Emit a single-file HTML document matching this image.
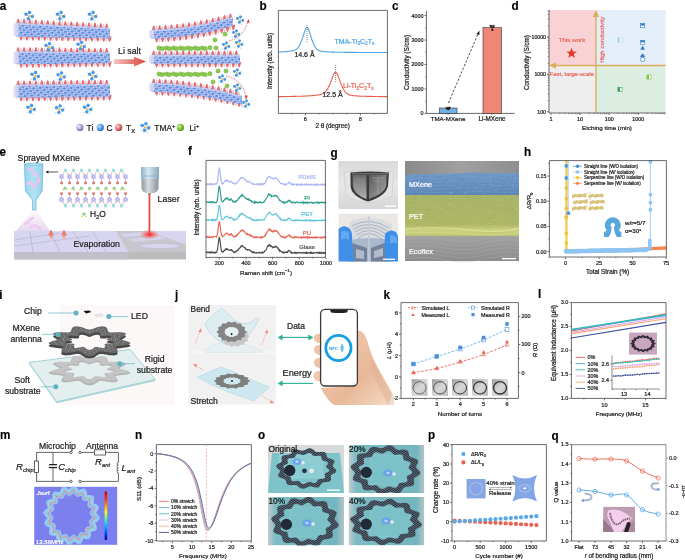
<!DOCTYPE html>
<html><head><meta charset="utf-8"><style>
html,body{margin:0;padding:0;background:#fff;}
body{width:685px;height:560px;overflow:hidden;}
svg{display:block;font-family:"Liberation Sans", sans-serif;will-change:transform;}
</style></head><body>
<svg width="685" height="560" viewBox="0 0 685 560">
<defs><linearGradient id="kph" x1="0" y1="0" x2="1" y2="1"><stop offset="0" stop-color="#9a9a9a"/><stop offset="0.5" stop-color="#d8d8d8"/><stop offset="1" stop-color="#bcbcbc"/></linearGradient><pattern id="lat" width="4.4" height="3.6" patternUnits="userSpaceOnUse" patternTransform="rotate(28) skewX(-20)">
<rect width="4.4" height="3.6" fill="#c4bdee"/><ellipse cx="1.4" cy="1.2" rx="1.6" ry="1.15" fill="#4a90e0"/><ellipse cx="3.6" cy="3.0" rx="1.0" ry="0.75" fill="#78aeea"/><circle cx="3.6" cy="1.0" r="0.5" fill="#f4f2ff"/></pattern>
<linearGradient id="arrowg" x1="0" x2="1"><stop offset="0" stop-color="#f3c4bd"/><stop offset="1" stop-color="#d8453a"/></linearGradient>
<radialGradient id="gball" cx="0.35" cy="0.35" r="0.7"><stop offset="0" stop-color="#c9f08a"/><stop offset="0.6" stop-color="#7cc23c"/><stop offset="1" stop-color="#4f8f20"/></radialGradient>
<radialGradient id="bball" cx="0.35" cy="0.35" r="0.7"><stop offset="0" stop-color="#bfe0ff"/><stop offset="0.6" stop-color="#4f9be6"/><stop offset="1" stop-color="#2d6fb8"/></radialGradient>
<radialGradient id="pball" cx="0.35" cy="0.35" r="0.7"><stop offset="0" stop-color="#f0eeff"/><stop offset="0.6" stop-color="#a8a2d8"/><stop offset="1" stop-color="#6f68a8"/></radialGradient>
<radialGradient id="rball" cx="0.35" cy="0.35" r="0.7"><stop offset="0" stop-color="#ffd0d0"/><stop offset="0.6" stop-color="#d87070"/><stop offset="1" stop-color="#a04444"/></radialGradient>
<linearGradient id="spray" x1="0" y1="0" x2="0" y2="1"><stop offset="0" stop-color="#f4e4f6" stop-opacity="0.3"/><stop offset="1" stop-color="#e6d8f0"/></linearGradient>
<linearGradient id="nozz" x1="0" x2="1"><stop offset="0" stop-color="#94d4ec"/><stop offset="0.5" stop-color="#b2e2f4"/><stop offset="1" stop-color="#92d2ea"/></linearGradient>
<linearGradient id="lhead" x1="0" x2="1"><stop offset="0" stop-color="#8fb4c8"/><stop offset="0.4" stop-color="#d6e8f2"/><stop offset="1" stop-color="#86aabf"/></linearGradient>
<linearGradient id="lhead2" x1="0" x2="1"><stop offset="0" stop-color="#8c98a0"/><stop offset="0.4" stop-color="#d8dde0"/><stop offset="1" stop-color="#8a949a"/></linearGradient>
<radialGradient id="glow"><stop offset="0" stop-color="#ff2020"/><stop offset="0.4" stop-color="#ff5050" stop-opacity="0.7"/><stop offset="1" stop-color="#ff8080" stop-opacity="0"/></radialGradient>
<linearGradient id="evap" x1="0" y1="1" x2="0" y2="0"><stop offset="0" stop-color="#ffffff" stop-opacity="0"/><stop offset="0.6" stop-color="#f08878"/><stop offset="1" stop-color="#e8604c"/></linearGradient>
<linearGradient id="g1bg" x1="0" y1="0" x2="0" y2="1"><stop offset="0" stop-color="#dadada"/><stop offset="0.5" stop-color="#e8e8e8"/><stop offset="1" stop-color="#d6d6d6"/></linearGradient>
<linearGradient id="g2bg" x1="0" y1="0" x2="0" y2="1"><stop offset="0" stop-color="#e6e2dc"/><stop offset="1" stop-color="#d0d0d4"/></linearGradient>
<linearGradient id="semtop" x1="0" y1="0" x2="1" y2="0"><stop offset="0" stop-color="#8a8a8a"/><stop offset="0.5" stop-color="#a0a0a0"/><stop offset="1" stop-color="#8e8e8e"/></linearGradient>
<linearGradient id="semblue" x1="0" y1="0" x2="0" y2="1"><stop offset="0" stop-color="#7199c6"/><stop offset="1" stop-color="#5d86b8"/></linearGradient>
<linearGradient id="semyel" x1="0" y1="0" x2="0" y2="1"><stop offset="0" stop-color="#aab46a"/><stop offset="0.72" stop-color="#adb765"/><stop offset="0.86" stop-color="#ccd282"/><stop offset="1" stop-color="#bcc470"/></linearGradient>
<linearGradient id="semgray" x1="0" y1="0" x2="0" y2="1"><stop offset="0" stop-color="#a2a2a2"/><stop offset="1" stop-color="#8c8c8c"/></linearGradient>
<linearGradient id="film" x1="0" y1="0" x2="0" y2="1"><stop offset="0" stop-color="#d8dadc"/><stop offset="1" stop-color="#a8b4c4"/></linearGradient>
<linearGradient id="shl" x1="0" y1="0" x2="0" y2="1"><stop offset="0" stop-color="#6a6a6a"/><stop offset="1" stop-color="#b4b4b4"/></linearGradient>
<linearGradient id="shr" x1="0" y1="0" x2="1" y2="1"><stop offset="0" stop-color="#5a5a5a"/><stop offset="1" stop-color="#a8a8a8"/></linearGradient>
<filter id="blur1"><feGaussianBlur stdDeviation="0.5"/></filter>
<filter id="blur2"><feGaussianBlur stdDeviation="1.2"/></filter>
<linearGradient id="skin" x1="0" y1="0" x2="1" y2="1"><stop offset="0" stop-color="#f2cdb2"/><stop offset="0.6" stop-color="#e8b898"/><stop offset="1" stop-color="#f4dccb"/></linearGradient><linearGradient id="cbar" x1="0" y1="0" x2="0" y2="1"><stop offset="0" stop-color="#c00000"/><stop offset="0.15" stop-color="#ff3000"/><stop offset="0.3" stop-color="#ffa000"/><stop offset="0.42" stop-color="#ffff00"/><stop offset="0.55" stop-color="#60ff80"/><stop offset="0.7" stop-color="#00c8ff"/><stop offset="0.85" stop-color="#0050ff"/><stop offset="1" stop-color="#0000a0"/></linearGradient><linearGradient id="obg" x1="0" y1="0" x2="0" y2="1"><stop offset="0" stop-color="#c8d0d2"/><stop offset="0.25" stop-color="#7ab8c0"/><stop offset="1" stop-color="#5ea8b2"/></linearGradient>
<linearGradient id="obg2" x1="0" y1="0" x2="1" y2="0"><stop offset="0" stop-color="#c4cacb"/><stop offset="0.1" stop-color="#7cbcc4"/><stop offset="0.9" stop-color="#74b6c0"/><stop offset="1" stop-color="#b8c4c6"/></linearGradient>
<radialGradient id="led"><stop offset="0" stop-color="#ffffff"/><stop offset="0.35" stop-color="#7aa8ff"/><stop offset="1" stop-color="#3060ff" stop-opacity="0"/></radialGradient>
<pattern id="ser" width="1.7" height="1.7" patternUnits="userSpaceOnUse" patternTransform="rotate(35)"><rect width="1.7" height="1.7" fill="#1f2936"/><rect width="1.7" height="0.45" fill="#a8b6c4"/></pattern>
<clipPath id="oc1"><rect x="268" y="445" width="76" height="48"/></clipPath>
<clipPath id="oc2"><rect x="348.6" y="445" width="75.8" height="48"/></clipPath>
<clipPath id="oc3"><rect x="268" y="497" width="76" height="48.4"/></clipPath>
<clipPath id="oc4"><rect x="348.6" y="497" width="75.8" height="48.4"/></clipPath>
</defs>
<rect width="685" height="560" fill="#fff"/>
<text transform="translate(259.50,9.90) scale(0.9,1)" font-size="13" font-weight="bold" fill="#000" stroke="#000" stroke-width="0.15">b</text>
<path d="M278.4,52.0 L278.9,52.0 L279.5,52.0 L280.0,52.0 L280.6,51.9 L281.1,51.9 L281.7,51.9 L282.2,51.9 L282.8,51.8 L283.3,51.8 L283.8,51.8 L284.4,51.7 L284.9,51.7 L285.5,51.6 L286.0,51.6 L286.6,51.5 L287.1,51.5 L287.7,51.4 L288.2,51.4 L288.8,51.3 L289.3,51.3 L289.8,51.2 L290.4,51.1 L290.9,51.0 L291.5,51.0 L292.0,50.9 L292.6,50.7 L293.1,50.6 L293.7,50.5 L294.2,50.3 L294.8,50.1 L295.3,49.8 L295.8,49.5 L296.4,49.2 L296.9,48.8 L297.5,48.3 L298.0,47.7 L298.6,47.0 L299.1,46.1 L299.7,45.2 L300.2,44.1 L300.7,42.9 L301.3,41.5 L301.8,40.0 L302.4,38.4 L302.9,36.8 L303.5,35.0 L304.0,33.3 L304.6,31.6 L305.1,30.1 L305.6,28.8 L306.2,27.9 L306.7,27.4 L307.3,27.5 L307.8,28.0 L308.4,29.0 L308.9,30.3 L309.5,31.9 L310.0,33.6 L310.6,35.4 L311.1,37.2 L311.6,38.9 L312.2,40.5 L312.7,42.0 L313.3,43.4 L313.8,44.6 L314.4,45.7 L314.9,46.7 L315.5,47.5 L316.0,48.2 L316.5,48.8 L317.1,49.3 L317.6,49.8 L318.2,50.1 L318.7,50.4 L319.3,50.6 L319.8,50.8 L320.4,51.0 L320.9,51.1 L321.5,51.2 L322.0,51.3 L322.5,51.4 L323.1,51.5 L323.6,51.5 L324.2,51.6 L324.7,51.7 L325.3,51.7 L325.8,51.8 L326.4,51.8 L326.9,51.8 L327.4,51.9 L328.0,51.9 L328.5,51.9 L329.1,52.0 L329.6,52.0 L330.2,52.0 L330.7,52.0 L331.3,52.1 L331.8,52.1 L332.4,52.1 L332.9,52.1 L333.4,52.1 L334.0,52.1 L334.5,52.2 L335.1,52.2 L335.6,52.2 L336.2,52.2 L336.7,52.2 L337.3,52.2 L337.8,52.2 L338.3,52.3 L338.9,52.3 L339.4,52.3 L340.0,52.3 L340.5,52.3 L341.1,52.3 L341.6,52.3 L342.2,52.3 L342.7,52.3 L343.3,52.3 L343.8,52.3 L344.3,52.3 L344.9,52.4 L345.4,52.4 L346.0,52.4 L346.5,52.4 L347.1,52.4 L347.6,52.4 L348.2,52.4 L348.7,52.4 L349.2,52.4 L349.8,52.4 L350.3,52.4 L350.9,52.4 L351.4,52.4 L352.0,52.4 L352.5,52.4 L353.1,52.4 L353.6,52.4 L354.2,52.4 L354.7,52.4 L355.2,52.4 L355.8,52.4 L356.3,52.4 L356.9,52.5 L357.4,52.5 L358.0,52.5 L358.5,52.5 L359.1,52.5 L359.6,52.5 L360.1,52.5 L360.7,52.5 L361.2,52.5 L361.8,52.5 L362.3,52.5 L362.9,52.5 L363.4,52.5 L364.0,52.5 L364.5,52.5 L365.1,52.5 L365.6,52.5 L366.1,52.5 L366.7,52.5 L367.2,52.5 L367.8,52.5 L368.3,52.5 L368.9,52.5 L369.4,52.5 L370.0,52.5 L370.5,52.5 L371.0,52.5 L371.6,52.5 L372.1,52.5 L372.7,52.5 L373.2,52.5 L373.8,52.5 L374.3,52.5 L374.9,52.5 L375.4,52.5 L376.0,52.5 L376.5,52.5 L377.0,52.5 L377.6,52.5 L378.1,52.5 L378.7,52.5 L379.2,52.5 L379.8,52.5 L380.3,52.5 L380.9,52.5 L381.4,52.5 L381.9,52.5 L382.5,52.5 L383.0,52.5 L383.6,52.5 L384.1,52.5 L384.7,52.5 L385.2,52.5 L385.8,52.5 L386.3,52.5 L386.9,52.5 L387.4,52.5" fill="none" stroke="#4ea4e2" stroke-width="1.1"/>
<path d="M278.4,96.6 L278.9,96.6 L279.5,96.6 L280.0,96.6 L280.6,96.6 L281.1,96.6 L281.7,96.6 L282.2,96.6 L282.8,96.6 L283.3,96.5 L283.8,96.5 L284.4,96.5 L284.9,96.5 L285.5,96.5 L286.0,96.5 L286.6,96.5 L287.1,96.5 L287.7,96.5 L288.2,96.5 L288.8,96.5 L289.3,96.5 L289.8,96.5 L290.4,96.5 L290.9,96.5 L291.5,96.4 L292.0,96.4 L292.6,96.4 L293.1,96.4 L293.7,96.4 L294.2,96.4 L294.8,96.4 L295.3,96.4 L295.8,96.4 L296.4,96.3 L296.9,96.3 L297.5,96.3 L298.0,96.3 L298.6,96.3 L299.1,96.3 L299.7,96.3 L300.2,96.2 L300.7,96.2 L301.3,96.2 L301.8,96.2 L302.4,96.2 L302.9,96.1 L303.5,96.1 L304.0,96.1 L304.6,96.1 L305.1,96.1 L305.6,96.0 L306.2,96.0 L306.7,96.0 L307.3,95.9 L307.8,95.9 L308.4,95.9 L308.9,95.9 L309.5,95.8 L310.0,95.8 L310.6,95.7 L311.1,95.7 L311.6,95.7 L312.2,95.6 L312.7,95.6 L313.3,95.5 L313.8,95.5 L314.4,95.4 L314.9,95.4 L315.5,95.3 L316.0,95.2 L316.5,95.2 L317.1,95.1 L317.6,95.0 L318.2,94.9 L318.7,94.8 L319.3,94.7 L319.8,94.6 L320.4,94.5 L320.9,94.4 L321.5,94.2 L322.0,94.0 L322.5,93.8 L323.1,93.5 L323.6,93.2 L324.2,92.8 L324.7,92.4 L325.3,91.9 L325.8,91.3 L326.4,90.7 L326.9,89.9 L327.4,89.1 L328.0,88.2 L328.5,87.1 L329.1,86.0 L329.6,84.7 L330.2,83.4 L330.7,82.0 L331.3,80.5 L331.8,79.1 L332.4,77.6 L332.9,76.2 L333.4,74.9 L334.0,73.8 L334.5,73.0 L335.1,72.5 L335.6,72.3 L336.2,72.6 L336.7,73.2 L337.3,74.1 L337.8,75.2 L338.3,76.6 L338.9,78.0 L339.4,79.6 L340.0,81.1 L340.5,82.6 L341.1,84.0 L341.6,85.4 L342.2,86.6 L342.7,87.8 L343.3,88.9 L343.8,89.8 L344.3,90.7 L344.9,91.5 L345.4,92.1 L346.0,92.7 L346.5,93.2 L347.1,93.6 L347.6,94.0 L348.2,94.3 L348.7,94.5 L349.2,94.8 L349.8,94.9 L350.3,95.1 L350.9,95.2 L351.4,95.3 L352.0,95.4 L352.5,95.5 L353.1,95.6 L353.6,95.7 L354.2,95.7 L354.7,95.8 L355.2,95.8 L355.8,95.9 L356.3,95.9 L356.9,95.9 L357.4,96.0 L358.0,96.0 L358.5,96.0 L359.1,96.1 L359.6,96.1 L360.1,96.1 L360.7,96.2 L361.2,96.2 L361.8,96.2 L362.3,96.2 L362.9,96.2 L363.4,96.3 L364.0,96.3 L364.5,96.3 L365.1,96.3 L365.6,96.3 L366.1,96.3 L366.7,96.4 L367.2,96.4 L367.8,96.4 L368.3,96.4 L368.9,96.4 L369.4,96.4 L370.0,96.4 L370.5,96.4 L371.0,96.4 L371.6,96.5 L372.1,96.5 L372.7,96.5 L373.2,96.5 L373.8,96.5 L374.3,96.5 L374.9,96.5 L375.4,96.5 L376.0,96.5 L376.5,96.5 L377.0,96.5 L377.6,96.5 L378.1,96.5 L378.7,96.5 L379.2,96.6 L379.8,96.6 L380.3,96.6 L380.9,96.6 L381.4,96.6 L381.9,96.6 L382.5,96.6 L383.0,96.6 L383.6,96.6 L384.1,96.6 L384.7,96.6 L385.2,96.6 L385.8,96.6 L386.3,96.6 L386.9,96.6 L387.4,96.6" fill="none" stroke="#ea5f4c" stroke-width="1.1"/>
<line x1="307.00" y1="25.00" x2="307.00" y2="43.00" stroke="#333" stroke-width="0.6" stroke-dasharray="1,1"/>
<line x1="335.60" y1="65.00" x2="335.60" y2="82.50" stroke="#333" stroke-width="0.6" stroke-dasharray="1,1"/>
<line x1="278.40" y1="10.40" x2="278.40" y2="113.40" stroke="#444" stroke-width="0.8"/>
<line x1="278.40" y1="113.40" x2="387.40" y2="113.40" stroke="#444" stroke-width="0.8"/>
<line x1="278.40" y1="10.40" x2="387.40" y2="10.40" stroke="#444" stroke-width="0.8"/>
<line x1="387.40" y1="10.40" x2="387.40" y2="113.40" stroke="#444" stroke-width="0.8"/>
<line x1="305.40" y1="113.40" x2="305.40" y2="115.40" stroke="#3a3a3a" stroke-width="0.7"/>
<text x="305.40" y="120.60" font-size="5.6" text-anchor="middle" font-weight="normal" fill="#222" stroke="#222" stroke-width="0.22">6</text>
<line x1="360.40" y1="113.40" x2="360.40" y2="115.40" stroke="#3a3a3a" stroke-width="0.7"/>
<text x="360.40" y="120.60" font-size="5.6" text-anchor="middle" font-weight="normal" fill="#222" stroke="#222" stroke-width="0.22">8</text>
<line x1="291.65" y1="113.40" x2="291.65" y2="114.60" stroke="#3a3a3a" stroke-width="0.6"/>
<line x1="319.15" y1="113.40" x2="319.15" y2="114.60" stroke="#3a3a3a" stroke-width="0.6"/>
<line x1="332.90" y1="113.40" x2="332.90" y2="114.60" stroke="#3a3a3a" stroke-width="0.6"/>
<line x1="346.65" y1="113.40" x2="346.65" y2="114.60" stroke="#3a3a3a" stroke-width="0.6"/>
<line x1="374.15" y1="113.40" x2="374.15" y2="114.60" stroke="#3a3a3a" stroke-width="0.6"/>
<text x="304.50" y="56.80" font-size="7.0" text-anchor="middle" font-weight="normal" fill="#222" stroke="#222" stroke-width="0.22">14.6 Å</text>
<text x="332.60" y="97.30" font-size="7.0" text-anchor="middle" font-weight="normal" fill="#222" stroke="#222" stroke-width="0.22">12.5 Å</text>
<text x="334.60" y="43.60" font-size="7" text-anchor="start" font-weight="normal" fill="#4ea4e2" stroke="#4ea4e2" stroke-width="0.22">TMA-Ti<tspan dy="1.75" font-size="4.90">3</tspan><tspan dy="-1.75">C<tspan dy="1.75" font-size="4.90">2</tspan><tspan dy="-1.75">T<tspan dy="1.75" font-size="4.90">x</tspan><tspan dy="-1.75"></tspan></text>
<text x="343.00" y="88.00" font-size="7" text-anchor="start" font-weight="normal" fill="#ea5f4c" stroke="#ea5f4c" stroke-width="0.22">Li-Ti<tspan dy="1.75" font-size="4.90">3</tspan><tspan dy="-1.75">C<tspan dy="1.75" font-size="4.90">2</tspan><tspan dy="-1.75">T<tspan dy="1.75" font-size="4.90">x</tspan><tspan dy="-1.75"></tspan></text>
<text x="271.50" y="61.00" font-size="6.4" text-anchor="middle" font-weight="normal" fill="#222" stroke="#222" stroke-width="0.22" transform="rotate(-90 271.5 61)">Intensity (arb. units)</text>
<text x="332.60" y="127.60" font-size="6.3" text-anchor="middle" font-weight="normal" fill="#222" stroke="#222" stroke-width="0.22">2 θ (degree)</text>
<text transform="translate(392.00,9.90) scale(0.9,1)" font-size="13" font-weight="bold" fill="#000" stroke="#000" stroke-width="0.15">c</text>
<line x1="426.40" y1="11.00" x2="426.40" y2="113.40" stroke="#444" stroke-width="0.8"/>
<line x1="426.40" y1="113.40" x2="514.60" y2="113.40" stroke="#444" stroke-width="0.8"/>
<line x1="424.40" y1="113.40" x2="426.40" y2="113.40" stroke="#3a3a3a" stroke-width="0.7"/>
<text x="423.40" y="115.34" font-size="5.4" text-anchor="end" font-weight="normal" fill="#222" stroke="#222" stroke-width="0.22">0</text>
<line x1="424.40" y1="88.95" x2="426.40" y2="88.95" stroke="#3a3a3a" stroke-width="0.7"/>
<text x="423.40" y="90.89" font-size="5.4" text-anchor="end" font-weight="normal" fill="#222" stroke="#222" stroke-width="0.22">1000</text>
<line x1="424.40" y1="64.50" x2="426.40" y2="64.50" stroke="#3a3a3a" stroke-width="0.7"/>
<text x="423.40" y="66.44" font-size="5.4" text-anchor="end" font-weight="normal" fill="#222" stroke="#222" stroke-width="0.22">2000</text>
<line x1="424.40" y1="40.05" x2="426.40" y2="40.05" stroke="#3a3a3a" stroke-width="0.7"/>
<text x="423.40" y="41.99" font-size="5.4" text-anchor="end" font-weight="normal" fill="#222" stroke="#222" stroke-width="0.22">3000</text>
<line x1="424.40" y1="15.60" x2="426.40" y2="15.60" stroke="#3a3a3a" stroke-width="0.7"/>
<text x="423.40" y="17.54" font-size="5.4" text-anchor="end" font-weight="normal" fill="#222" stroke="#222" stroke-width="0.22">4000</text>
<line x1="425.20" y1="101.18" x2="426.40" y2="101.18" stroke="#3a3a3a" stroke-width="0.6"/>
<line x1="425.20" y1="76.73" x2="426.40" y2="76.73" stroke="#3a3a3a" stroke-width="0.6"/>
<line x1="425.20" y1="52.28" x2="426.40" y2="52.28" stroke="#3a3a3a" stroke-width="0.6"/>
<line x1="425.20" y1="27.83" x2="426.40" y2="27.83" stroke="#3a3a3a" stroke-width="0.6"/>
<rect x="439.40" y="108.02" width="17.60" height="5.38" fill="#70b0e6" stroke="#333" stroke-width="0.6"/>
<rect x="483.00" y="27.58" width="18.40" height="85.82" fill="#ef8676" stroke="#333" stroke-width="0.6"/>
<line x1="448.00" y1="107.29" x2="448.00" y2="109.49" stroke="#111" stroke-width="0.6"/>
<line x1="445.50" y1="107.29" x2="450.50" y2="107.29" stroke="#111" stroke-width="0.6"/>
<circle cx="446.80" cy="108.51" r="1.10" fill="#111" stroke="none" stroke-width="0.8"/>
<circle cx="448.30" cy="109.24" r="1.10" fill="#111" stroke="none" stroke-width="0.8"/>
<circle cx="449.50" cy="107.78" r="1.10" fill="#111" stroke="none" stroke-width="0.8"/>
<line x1="492.00" y1="25.38" x2="492.00" y2="30.27" stroke="#111" stroke-width="0.6"/>
<line x1="489.00" y1="25.38" x2="495.00" y2="25.38" stroke="#111" stroke-width="0.6"/>
<circle cx="491.00" cy="26.36" r="1.10" fill="#111" stroke="none" stroke-width="0.8"/>
<circle cx="492.40" cy="29.78" r="1.10" fill="#111" stroke="none" stroke-width="0.8"/>
<circle cx="493.50" cy="26.85" r="1.10" fill="#111" stroke="none" stroke-width="0.8"/>
<line x1="448.50" y1="103.00" x2="478.20" y2="33.50" stroke="#222" stroke-width="0.8" stroke-dasharray="2.4,1.6"/>
<path d="M479.6,30.6 L479.3,35.3 L476.4,34.0 Z" fill="#222" stroke="none" stroke-width="0.8"/>
<line x1="448.00" y1="113.40" x2="448.00" y2="114.90" stroke="#3a3a3a" stroke-width="0.7"/>
<line x1="492.00" y1="113.40" x2="492.00" y2="114.90" stroke="#3a3a3a" stroke-width="0.7"/>
<text x="448.00" y="121.20" font-size="6.2" text-anchor="middle" font-weight="normal" fill="#222" stroke="#222" stroke-width="0.22">TMA-MXene</text>
<text x="492.00" y="121.20" font-size="6.3" text-anchor="middle" font-weight="normal" fill="#222" stroke="#222" stroke-width="0.22">Li-MXene</text>
<text x="409.00" y="62.50" font-size="6.35" text-anchor="middle" font-weight="normal" fill="#222" stroke="#222" stroke-width="0.22" transform="rotate(-90 409 62.5)">Conductivity (S/cm)</text>
<text transform="translate(511.50,9.90) scale(0.9,1)" font-size="13" font-weight="bold" fill="#000" stroke="#000" stroke-width="0.15">d</text>
<rect x="549.00" y="10.00" width="47.00" height="55.50" fill="#f9d2d6" stroke="none" stroke-width="0.8"/>
<rect x="596.00" y="10.00" width="69.60" height="55.50" fill="#e4eef9" stroke="none" stroke-width="0.8"/>
<rect x="549.00" y="65.50" width="47.00" height="47.50" fill="#eeeeee" stroke="none" stroke-width="0.8"/>
<rect x="596.00" y="65.50" width="69.60" height="47.50" fill="#dbeee1" stroke="none" stroke-width="0.8"/>
<line x1="596.00" y1="113.00" x2="596.00" y2="16.00" stroke="#dcae5c" stroke-width="1.4"/>
<line x1="665.60" y1="65.50" x2="555.00" y2="65.50" stroke="#dcae5c" stroke-width="1.4"/>
<path d="M596,10 L592.8,17 L599.2,17 Z" fill="#dcae5c" stroke="none" stroke-width="0.8"/>
<path d="M549,65.5 L556,62.3 L556,68.7 Z" fill="#dcae5c" stroke="none" stroke-width="0.8"/>
<line x1="549.00" y1="10.00" x2="549.00" y2="113.00" stroke="#444" stroke-width="0.8"/>
<line x1="549.00" y1="113.00" x2="665.60" y2="113.00" stroke="#444" stroke-width="0.8"/>
<line x1="547.00" y1="111.80" x2="549.00" y2="111.80" stroke="#3a3a3a" stroke-width="0.7"/>
<text x="546.00" y="113.67" font-size="5.2" text-anchor="end" font-weight="normal" fill="#222" stroke="#222" stroke-width="0.22">100</text>
<line x1="547.00" y1="74.40" x2="549.00" y2="74.40" stroke="#3a3a3a" stroke-width="0.7"/>
<text x="546.00" y="76.27" font-size="5.2" text-anchor="end" font-weight="normal" fill="#222" stroke="#222" stroke-width="0.22">1000</text>
<line x1="547.00" y1="37.00" x2="549.00" y2="37.00" stroke="#3a3a3a" stroke-width="0.7"/>
<text x="546.00" y="38.87" font-size="5.2" text-anchor="end" font-weight="normal" fill="#222" stroke="#222" stroke-width="0.22">10000</text>
<line x1="547.80" y1="100.54" x2="549.00" y2="100.54" stroke="#3a3a3a" stroke-width="0.6"/>
<line x1="547.80" y1="93.96" x2="549.00" y2="93.96" stroke="#3a3a3a" stroke-width="0.6"/>
<line x1="547.80" y1="89.28" x2="549.00" y2="89.28" stroke="#3a3a3a" stroke-width="0.6"/>
<line x1="547.80" y1="85.66" x2="549.00" y2="85.66" stroke="#3a3a3a" stroke-width="0.6"/>
<line x1="547.80" y1="82.70" x2="549.00" y2="82.70" stroke="#3a3a3a" stroke-width="0.6"/>
<line x1="547.80" y1="80.19" x2="549.00" y2="80.19" stroke="#3a3a3a" stroke-width="0.6"/>
<line x1="547.80" y1="78.02" x2="549.00" y2="78.02" stroke="#3a3a3a" stroke-width="0.6"/>
<line x1="547.80" y1="76.11" x2="549.00" y2="76.11" stroke="#3a3a3a" stroke-width="0.6"/>
<line x1="547.80" y1="63.14" x2="549.00" y2="63.14" stroke="#3a3a3a" stroke-width="0.6"/>
<line x1="547.80" y1="56.56" x2="549.00" y2="56.56" stroke="#3a3a3a" stroke-width="0.6"/>
<line x1="547.80" y1="51.88" x2="549.00" y2="51.88" stroke="#3a3a3a" stroke-width="0.6"/>
<line x1="547.80" y1="48.26" x2="549.00" y2="48.26" stroke="#3a3a3a" stroke-width="0.6"/>
<line x1="547.80" y1="45.30" x2="549.00" y2="45.30" stroke="#3a3a3a" stroke-width="0.6"/>
<line x1="547.80" y1="42.79" x2="549.00" y2="42.79" stroke="#3a3a3a" stroke-width="0.6"/>
<line x1="547.80" y1="40.62" x2="549.00" y2="40.62" stroke="#3a3a3a" stroke-width="0.6"/>
<line x1="547.80" y1="38.71" x2="549.00" y2="38.71" stroke="#3a3a3a" stroke-width="0.6"/>
<line x1="547.80" y1="25.74" x2="549.00" y2="25.74" stroke="#3a3a3a" stroke-width="0.6"/>
<line x1="547.80" y1="19.16" x2="549.00" y2="19.16" stroke="#3a3a3a" stroke-width="0.6"/>
<line x1="547.80" y1="14.48" x2="549.00" y2="14.48" stroke="#3a3a3a" stroke-width="0.6"/>
<line x1="547.80" y1="10.86" x2="549.00" y2="10.86" stroke="#3a3a3a" stroke-width="0.6"/>
<line x1="551.00" y1="113.00" x2="551.00" y2="115.00" stroke="#3a3a3a" stroke-width="0.7"/>
<text x="551.00" y="121.20" font-size="5.4" text-anchor="middle" font-weight="normal" fill="#222" stroke="#222" stroke-width="0.22">1</text>
<line x1="580.10" y1="113.00" x2="580.10" y2="115.00" stroke="#3a3a3a" stroke-width="0.7"/>
<text x="580.10" y="121.20" font-size="5.4" text-anchor="middle" font-weight="normal" fill="#222" stroke="#222" stroke-width="0.22">10</text>
<line x1="609.20" y1="113.00" x2="609.20" y2="115.00" stroke="#3a3a3a" stroke-width="0.7"/>
<text x="609.20" y="121.20" font-size="5.4" text-anchor="middle" font-weight="normal" fill="#222" stroke="#222" stroke-width="0.22">100</text>
<line x1="638.30" y1="113.00" x2="638.30" y2="115.00" stroke="#3a3a3a" stroke-width="0.7"/>
<text x="638.30" y="121.20" font-size="5.4" text-anchor="middle" font-weight="normal" fill="#222" stroke="#222" stroke-width="0.22">1000</text>
<line x1="559.76" y1="113.00" x2="559.76" y2="114.20" stroke="#3a3a3a" stroke-width="0.6"/>
<line x1="564.88" y1="113.00" x2="564.88" y2="114.20" stroke="#3a3a3a" stroke-width="0.6"/>
<line x1="568.52" y1="113.00" x2="568.52" y2="114.20" stroke="#3a3a3a" stroke-width="0.6"/>
<line x1="571.34" y1="113.00" x2="571.34" y2="114.20" stroke="#3a3a3a" stroke-width="0.6"/>
<line x1="573.64" y1="113.00" x2="573.64" y2="114.20" stroke="#3a3a3a" stroke-width="0.6"/>
<line x1="575.59" y1="113.00" x2="575.59" y2="114.20" stroke="#3a3a3a" stroke-width="0.6"/>
<line x1="577.28" y1="113.00" x2="577.28" y2="114.20" stroke="#3a3a3a" stroke-width="0.6"/>
<line x1="578.77" y1="113.00" x2="578.77" y2="114.20" stroke="#3a3a3a" stroke-width="0.6"/>
<line x1="588.86" y1="113.00" x2="588.86" y2="114.20" stroke="#3a3a3a" stroke-width="0.6"/>
<line x1="593.98" y1="113.00" x2="593.98" y2="114.20" stroke="#3a3a3a" stroke-width="0.6"/>
<line x1="597.62" y1="113.00" x2="597.62" y2="114.20" stroke="#3a3a3a" stroke-width="0.6"/>
<line x1="600.44" y1="113.00" x2="600.44" y2="114.20" stroke="#3a3a3a" stroke-width="0.6"/>
<line x1="602.74" y1="113.00" x2="602.74" y2="114.20" stroke="#3a3a3a" stroke-width="0.6"/>
<line x1="604.69" y1="113.00" x2="604.69" y2="114.20" stroke="#3a3a3a" stroke-width="0.6"/>
<line x1="606.38" y1="113.00" x2="606.38" y2="114.20" stroke="#3a3a3a" stroke-width="0.6"/>
<line x1="607.87" y1="113.00" x2="607.87" y2="114.20" stroke="#3a3a3a" stroke-width="0.6"/>
<line x1="617.96" y1="113.00" x2="617.96" y2="114.20" stroke="#3a3a3a" stroke-width="0.6"/>
<line x1="623.08" y1="113.00" x2="623.08" y2="114.20" stroke="#3a3a3a" stroke-width="0.6"/>
<line x1="626.72" y1="113.00" x2="626.72" y2="114.20" stroke="#3a3a3a" stroke-width="0.6"/>
<line x1="629.54" y1="113.00" x2="629.54" y2="114.20" stroke="#3a3a3a" stroke-width="0.6"/>
<line x1="631.84" y1="113.00" x2="631.84" y2="114.20" stroke="#3a3a3a" stroke-width="0.6"/>
<line x1="633.79" y1="113.00" x2="633.79" y2="114.20" stroke="#3a3a3a" stroke-width="0.6"/>
<line x1="635.48" y1="113.00" x2="635.48" y2="114.20" stroke="#3a3a3a" stroke-width="0.6"/>
<line x1="636.97" y1="113.00" x2="636.97" y2="114.20" stroke="#3a3a3a" stroke-width="0.6"/>
<line x1="647.06" y1="113.00" x2="647.06" y2="114.20" stroke="#3a3a3a" stroke-width="0.6"/>
<line x1="652.18" y1="113.00" x2="652.18" y2="114.20" stroke="#3a3a3a" stroke-width="0.6"/>
<line x1="655.82" y1="113.00" x2="655.82" y2="114.20" stroke="#3a3a3a" stroke-width="0.6"/>
<line x1="658.64" y1="113.00" x2="658.64" y2="114.20" stroke="#3a3a3a" stroke-width="0.6"/>
<line x1="660.94" y1="113.00" x2="660.94" y2="114.20" stroke="#3a3a3a" stroke-width="0.6"/>
<line x1="662.89" y1="113.00" x2="662.89" y2="114.20" stroke="#3a3a3a" stroke-width="0.6"/>
<line x1="664.58" y1="113.00" x2="664.58" y2="114.20" stroke="#3a3a3a" stroke-width="0.6"/>
<path d="M571.6,47.8 L573.0,51.5 L576.9,51.7 L573.8,54.1 L574.9,57.9 L571.6,55.8 L568.3,57.9 L569.4,54.1 L566.3,51.7 L570.2,51.5Z" fill="#e2392a" stroke="none" stroke-width="0.8"/>
<text x="572.00" y="42.20" font-size="6.2" text-anchor="middle" font-weight="normal" fill="#ea6a5c" stroke="#ea6a5c" stroke-width="0.22">This work</text>
<text x="549.50" y="75.60" font-size="6.1" text-anchor="start" font-weight="normal" fill="#ea6a5c" stroke="#ea6a5c" stroke-width="0.22" textLength="44.5" lengthAdjust="spacingAndGlyphs">Fast, large-scale</text>
<text x="604.20" y="39.80" font-size="6.1" text-anchor="middle" font-weight="normal" fill="#ea6a5c" stroke="#ea6a5c" stroke-width="0.22" transform="rotate(-90 604.2 39.8)">High conductivity</text>
<rect x="640.50" y="23.50" width="4.20" height="4.20" fill="#fff" stroke="#3d7fc6" stroke-width="0.6"/>
<rect x="640.50" y="23.50" width="4.20" height="2.10" fill="#3d7fc6" stroke="none" stroke-width="0.8"/>
<rect x="617.90" y="37.90" width="4.20" height="4.20" fill="#fff" stroke="#a9d2f0" stroke-width="0.6"/>
<rect x="617.90" y="37.90" width="2.10" height="4.20" fill="#a9d2f0" stroke="none" stroke-width="0.8"/>
<rect x="640.50" y="40.30" width="4.20" height="4.20" fill="#fff" stroke="#3d7fc6" stroke-width="0.6"/>
<rect x="640.50" y="40.30" width="4.20" height="2.10" fill="#3d7fc6" stroke="none" stroke-width="0.8"/>
<path d="M642.6,45.5 L645,49.8 L640.2,49.8 Z" fill="#3d7fc6" stroke="none" stroke-width="0.8"/>
<path d="M642.6,53.2 L645.2,56.6 L642.6,58.2 L640,56.6 Z" fill="#3d7fc6" stroke="none" stroke-width="0.8"/>
<circle cx="642.60" cy="59.40" r="2.20" fill="#fff" stroke="#3d7fc6" stroke-width="0.7"/>
<rect x="646.90" y="74.90" width="4.20" height="4.20" fill="#fff" stroke="#86c440" stroke-width="0.6"/>
<rect x="646.90" y="74.90" width="2.10" height="4.20" fill="#86c440" stroke="none" stroke-width="0.8"/>
<rect x="617.90" y="87.30" width="4.20" height="4.20" fill="#fff" stroke="#3aa05a" stroke-width="0.6"/>
<rect x="617.90" y="87.30" width="2.10" height="4.20" fill="#3aa05a" stroke="none" stroke-width="0.8"/>
<text x="529.20" y="62.50" font-size="6.35" text-anchor="middle" font-weight="normal" fill="#222" stroke="#222" stroke-width="0.22" transform="rotate(-90 529.2 62.5)">Conductivity (S/cm)</text>
<text x="607.00" y="130.20" font-size="6.2" text-anchor="middle" font-weight="normal" fill="#222" stroke="#222" stroke-width="0.22">Etching time (min)</text>
<text transform="translate(188.00,155.40) scale(0.9,1)" font-size="13" font-weight="bold" fill="#000" stroke="#000" stroke-width="0.15">f</text>
<path d="M206.0,184.1 L206.4,184.3 L206.8,184.1 L207.2,184.5 L207.6,183.8 L208.0,183.8 L208.4,184.0 L208.8,184.6 L209.2,184.2 L209.6,184.4 L210.0,184.5 L210.4,183.7 L210.8,183.6 L211.2,184.7 L211.6,183.8 L212.0,184.1 L212.4,184.3 L212.8,184.5 L213.2,184.0 L213.6,184.3 L214.0,184.0 L214.4,184.0 L214.8,184.6 L215.2,183.9 L215.6,183.6 L216.0,183.6 L216.4,183.8 L216.8,184.0 L217.2,182.9 L217.6,180.8 L218.0,176.9 L218.4,174.1 L218.8,170.7 L219.2,168.3 L219.6,169.4 L220.0,171.5 L220.4,175.1 L220.8,178.9 L221.2,180.9 L221.6,182.2 L222.0,183.8 L222.4,183.9 L222.8,183.6 L223.2,183.8 L223.6,182.9 L224.0,182.2 L224.4,181.9 L224.8,181.6 L225.2,180.8 L225.6,181.2 L226.0,180.4 L226.4,180.5 L226.8,180.2 L227.2,180.9 L227.6,180.4 L228.0,181.5 L228.4,181.8 L228.8,181.4 L229.2,181.4 L229.6,182.1 L230.0,182.0 L230.4,181.9 L230.8,181.6 L231.2,181.2 L231.6,181.8 L232.0,182.3 L232.4,182.5 L232.8,183.4 L233.2,183.3 L233.6,183.4 L234.0,183.6 L234.4,183.9 L234.8,184.0 L235.2,183.8 L235.6,184.1 L236.0,183.0 L236.4,183.2 L236.8,182.9 L237.2,182.8 L237.6,182.0 L238.0,181.4 L238.4,181.1 L238.8,180.1 L239.2,179.8 L239.6,179.7 L240.0,178.9 L240.4,178.0 L240.8,178.1 L241.2,177.7 L241.6,178.1 L242.0,177.5 L242.4,177.5 L242.8,177.6 L243.2,177.8 L243.6,177.9 L244.0,178.3 L244.4,178.8 L244.8,179.6 L245.2,179.8 L245.6,179.6 L246.0,180.7 L246.4,181.4 L246.8,181.7 L247.2,181.3 L247.6,182.0 L248.0,182.0 L248.4,182.0 L248.8,181.7 L249.2,181.2 L249.6,181.9 L250.0,182.2 L250.4,182.5 L250.8,182.8 L251.2,183.2 L251.6,183.2 L252.0,183.3 L252.4,183.7 L252.8,184.2 L253.2,184.0 L253.6,183.8 L254.0,184.7 L254.4,184.7 L254.8,184.2 L255.2,184.2 L255.6,184.2 L256.0,184.3 L256.4,184.0 L256.8,184.4 L257.2,184.0 L257.6,183.9 L258.0,184.5 L258.4,184.0 L258.8,184.1 L259.2,184.0 L259.6,184.9 L260.0,183.9 L260.4,184.1 L260.8,183.9 L261.2,183.8 L261.6,184.6 L262.0,184.1 L262.4,184.7 L262.8,184.1 L263.2,183.6 L263.6,184.3 L264.0,183.9 L264.4,183.9 L264.8,183.3 L265.2,182.8 L265.6,182.3 L266.0,180.6 L266.4,179.9 L266.8,179.6 L267.2,178.4 L267.6,177.7 L268.0,177.3 L268.4,176.9 L268.8,176.4 L269.2,176.4 L269.6,176.8 L270.0,176.9 L270.4,177.0 L270.8,177.4 L271.2,178.3 L271.6,178.1 L272.0,178.1 L272.4,178.2 L272.8,178.5 L273.2,179.1 L273.6,178.5 L274.0,178.7 L274.4,178.6 L274.8,178.2 L275.2,177.9 L275.6,177.5 L276.0,177.8 L276.4,178.4 L276.8,178.2 L277.2,178.9 L277.6,179.4 L278.0,180.2 L278.4,180.5 L278.8,181.2 L279.2,181.3 L279.6,182.1 L280.0,182.6 L280.4,183.0 L280.8,183.3 L281.2,183.3 L281.6,183.5 L282.0,183.6 L282.4,184.2 L282.8,183.9 L283.2,183.8 L283.6,183.8 L284.0,184.2 L284.4,184.9 L284.8,184.1 L285.2,184.1 L285.6,185.0 L286.0,184.6 L286.4,184.5 L286.8,183.9 L287.2,183.7 L287.6,183.7 L288.0,183.4 L288.4,183.0 L288.8,182.9 L289.2,182.1 L289.6,182.2 L290.0,183.5 L290.4,183.3 L290.8,183.5 L291.2,184.6 L291.6,184.3 L292.0,184.5 L292.4,184.0 L292.8,184.1 L293.2,185.1 L293.6,184.9 L294.0,184.1 L294.4,184.5 L294.8,184.5 L295.2,184.2 L295.6,184.2 L296.0,184.0 L296.4,184.7 L296.8,185.1 L297.2,184.3 L297.6,185.1 L298.0,184.5 L298.4,184.1 L298.8,184.7 L299.2,184.4 L299.6,184.9 L300.0,185.0 L300.4,184.4 L300.8,184.2 L301.2,184.0 L301.6,185.1 L302.0,184.1 L302.4,184.6 L302.8,184.7 L303.2,184.7 L303.6,184.5 L304.0,184.8 L304.4,185.0 L304.8,184.2 L305.2,184.3 L305.6,184.5 L306.0,184.3 L306.4,184.0 L306.8,185.0 L307.2,184.2 L307.6,184.2 L308.0,184.8 L308.4,184.5 L308.8,184.6 L309.2,185.0 L309.6,184.7 L310.0,185.0 L310.4,184.1 L310.8,185.0 L311.2,184.5 L311.6,184.5 L312.0,184.1 L312.4,184.3 L312.8,184.8 L313.2,184.8 L313.6,185.1 L314.0,185.1 L314.4,184.8 L314.8,184.1 L315.2,185.1 L315.6,185.0 L316.0,184.5 L316.4,184.8 L316.8,185.0 L317.2,184.1 L317.6,185.2 L318.0,184.5 L318.4,184.7 L318.8,184.8 L319.2,185.0 L319.6,185.0 L320.0,184.8 L320.4,184.4 L320.8,184.7 L321.2,184.3 L321.6,184.2 L322.0,185.0 L322.4,184.2 L322.8,184.6 L323.2,184.8 L323.6,184.6 L324.0,184.2 L324.4,184.8 L324.8,185.1 L325.2,184.1 L325.6,185.1 L326.0,185.1" fill="none" stroke="#a9b5f5" stroke-width="1.15"/>
<text x="307.00" y="179.00" font-size="6.0" text-anchor="middle" font-weight="normal" fill="#a9b5f5" stroke="#a9b5f5" stroke-width="0.22">PDMS</text>
<path d="M206.0,202.2 L206.4,202.1 L206.8,201.7 L207.2,202.2 L207.6,202.2 L208.0,202.1 L208.4,202.5 L208.8,202.2 L209.2,202.0 L209.6,201.8 L210.0,202.7 L210.4,202.4 L210.8,202.7 L211.2,201.8 L211.6,202.0 L212.0,202.7 L212.4,201.6 L212.8,201.7 L213.2,202.0 L213.6,202.1 L214.0,202.6 L214.4,202.8 L214.8,202.2 L215.2,202.7 L215.6,202.5 L216.0,202.4 L216.4,202.5 L216.8,201.5 L217.2,200.4 L217.6,197.9 L218.0,195.3 L218.4,191.5 L218.8,188.4 L219.2,186.4 L219.6,187.0 L220.0,189.6 L220.4,192.3 L220.8,195.8 L221.2,198.6 L221.6,200.3 L222.0,201.6 L222.4,201.9 L222.8,201.7 L223.2,201.7 L223.6,200.6 L224.0,200.6 L224.4,199.7 L224.8,199.7 L225.2,198.6 L225.6,198.4 L226.0,199.0 L226.4,198.6 L226.8,197.8 L227.2,198.4 L227.6,198.1 L228.0,199.1 L228.4,199.9 L228.8,199.5 L229.2,199.6 L229.6,200.2 L230.0,200.3 L230.4,199.8 L230.8,198.8 L231.2,199.0 L231.6,199.9 L232.0,200.2 L232.4,200.9 L232.8,201.5 L233.2,201.1 L233.6,202.1 L234.0,201.8 L234.4,201.9 L234.8,202.2 L235.2,201.4 L235.6,201.9 L236.0,201.1 L236.4,201.4 L236.8,200.8 L237.2,200.6 L237.6,200.2 L238.0,198.9 L238.4,198.6 L238.8,198.6 L239.2,197.4 L239.6,197.7 L240.0,197.0 L240.4,196.0 L240.8,195.9 L241.2,196.2 L241.6,194.9 L242.0,195.7 L242.4,195.6 L242.8,195.1 L243.2,195.8 L243.6,196.2 L244.0,196.8 L244.4,197.2 L244.8,197.1 L245.2,197.9 L245.6,198.0 L246.0,198.7 L246.4,198.9 L246.8,198.6 L247.2,199.3 L247.6,199.3 L248.0,199.0 L248.4,199.9 L248.8,200.0 L249.2,199.2 L249.6,199.5 L250.0,200.4 L250.4,200.8 L250.8,200.5 L251.2,200.6 L251.6,201.8 L252.0,201.2 L252.4,201.5 L252.8,202.0 L253.2,202.3 L253.6,202.7 L254.0,202.9 L254.4,201.8 L254.8,202.7 L255.2,202.1 L255.6,202.7 L256.0,202.0 L256.4,202.3 L256.8,202.6 L257.2,202.8 L257.6,202.1 L258.0,202.9 L258.4,202.7 L258.8,202.3 L259.2,202.0 L259.6,202.3 L260.0,202.6 L260.4,201.9 L260.8,202.7 L261.2,202.9 L261.6,202.6 L262.0,202.4 L262.4,202.8 L262.8,202.6 L263.2,202.3 L263.6,201.8 L264.0,202.1 L264.4,201.5 L264.8,200.5 L265.2,199.9 L265.6,199.6 L266.0,198.9 L266.4,198.2 L266.8,197.9 L267.2,197.2 L267.6,196.4 L268.0,194.8 L268.4,194.5 L268.8,193.9 L269.2,194.9 L269.6,194.3 L270.0,194.7 L270.4,194.8 L270.8,195.6 L271.2,195.3 L271.6,196.7 L272.0,196.4 L272.4,196.3 L272.8,196.1 L273.2,196.3 L273.6,196.1 L274.0,195.8 L274.4,195.5 L274.8,196.0 L275.2,195.5 L275.6,195.3 L276.0,195.4 L276.4,196.1 L276.8,196.0 L277.2,196.4 L277.6,197.2 L278.0,197.7 L278.4,198.5 L278.8,198.9 L279.2,199.4 L279.6,200.5 L280.0,200.3 L280.4,200.3 L280.8,200.8 L281.2,201.3 L281.6,201.9 L282.0,201.7 L282.4,202.0 L282.8,202.3 L283.2,201.9 L283.6,202.9 L284.0,202.1 L284.4,203.0 L284.8,202.3 L285.2,202.5 L285.6,202.8 L286.0,202.2 L286.4,202.3 L286.8,202.0 L287.2,201.3 L287.6,201.7 L288.0,201.5 L288.4,200.8 L288.8,200.2 L289.2,200.8 L289.6,201.1 L290.0,200.7 L290.4,201.4 L290.8,202.0 L291.2,201.8 L291.6,202.6 L292.0,202.3 L292.4,202.9 L292.8,202.6 L293.2,202.2 L293.6,202.1 L294.0,202.1 L294.4,202.7 L294.8,202.4 L295.2,202.8 L295.6,203.0 L296.0,202.5 L296.4,202.2 L296.8,202.1 L297.2,202.3 L297.6,202.0 L298.0,202.8 L298.4,202.9 L298.8,202.6 L299.2,202.8 L299.6,202.9 L300.0,202.7 L300.4,202.4 L300.8,202.6 L301.2,202.8 L301.6,202.2 L302.0,202.0 L302.4,202.6 L302.8,203.1 L303.2,203.1 L303.6,202.1 L304.0,203.1 L304.4,202.3 L304.8,202.5 L305.2,202.8 L305.6,202.2 L306.0,203.1 L306.4,203.0 L306.8,202.6 L307.2,203.1 L307.6,202.2 L308.0,202.9 L308.4,203.0 L308.8,203.1 L309.2,202.4 L309.6,202.7 L310.0,202.5 L310.4,202.4 L310.8,202.2 L311.2,202.1 L311.6,202.4 L312.0,203.0 L312.4,202.6 L312.8,203.0 L313.2,203.2 L313.6,202.6 L314.0,202.4 L314.4,203.0 L314.8,202.9 L315.2,202.8 L315.6,202.4 L316.0,202.6 L316.4,202.5 L316.8,202.3 L317.2,202.8 L317.6,202.3 L318.0,202.2 L318.4,203.1 L318.8,202.1 L319.2,202.4 L319.6,203.1 L320.0,202.7 L320.4,202.5 L320.8,202.2 L321.2,202.8 L321.6,202.6 L322.0,202.2 L322.4,202.3 L322.8,202.1 L323.2,202.7 L323.6,202.5 L324.0,203.0 L324.4,202.4 L324.8,202.3 L325.2,202.5 L325.6,202.4 L326.0,203.0" fill="none" stroke="#2a9e8a" stroke-width="1.15"/>
<text x="307.00" y="199.60" font-size="6.0" text-anchor="middle" font-weight="normal" fill="#2a9e8a" stroke="#2a9e8a" stroke-width="0.22">PI</text>
<path d="M206.0,220.0 L206.4,219.8 L206.8,219.8 L207.2,220.4 L207.6,220.6 L208.0,220.2 L208.4,220.3 L208.8,219.7 L209.2,219.8 L209.6,219.9 L210.0,220.0 L210.4,219.9 L210.8,220.4 L211.2,220.1 L211.6,220.4 L212.0,219.6 L212.4,220.5 L212.8,219.7 L213.2,220.5 L213.6,219.8 L214.0,220.2 L214.4,220.2 L214.8,219.7 L215.2,220.6 L215.6,220.5 L216.0,219.5 L216.4,219.8 L216.8,219.8 L217.2,217.7 L217.6,215.9 L218.0,214.0 L218.4,210.3 L218.8,207.5 L219.2,205.6 L219.6,205.6 L220.0,208.4 L220.4,211.1 L220.8,215.0 L221.2,217.4 L221.6,218.2 L222.0,219.3 L222.4,219.5 L222.8,219.3 L223.2,219.2 L223.6,219.0 L224.0,219.0 L224.4,217.8 L224.8,217.1 L225.2,216.7 L225.6,216.6 L226.0,216.7 L226.4,216.5 L226.8,216.2 L227.2,216.3 L227.6,217.1 L228.0,217.3 L228.4,217.5 L228.8,217.7 L229.2,217.6 L229.6,218.0 L230.0,218.3 L230.4,217.2 L230.8,217.4 L231.2,217.3 L231.6,217.7 L232.0,217.9 L232.4,218.5 L232.8,218.6 L233.2,219.8 L233.6,219.6 L234.0,220.1 L234.4,219.5 L234.8,220.2 L235.2,219.8 L235.6,219.5 L236.0,219.0 L236.4,219.4 L236.8,218.7 L237.2,218.6 L237.6,218.1 L238.0,217.5 L238.4,216.5 L238.8,216.5 L239.2,215.5 L239.6,215.9 L240.0,214.6 L240.4,214.8 L240.8,214.6 L241.2,213.7 L241.6,213.3 L242.0,214.2 L242.4,213.9 L242.8,213.4 L243.2,214.1 L243.6,214.4 L244.0,215.0 L244.4,215.4 L244.8,215.2 L245.2,215.2 L245.6,215.6 L246.0,216.6 L246.4,217.4 L246.8,217.3 L247.2,217.0 L247.6,217.1 L248.0,217.3 L248.4,217.8 L248.8,217.6 L249.2,217.7 L249.6,217.7 L250.0,218.4 L250.4,217.9 L250.8,218.3 L251.2,219.4 L251.6,219.6 L252.0,219.2 L252.4,220.0 L252.8,219.5 L253.2,220.0 L253.6,219.9 L254.0,219.9 L254.4,220.5 L254.8,220.4 L255.2,220.5 L255.6,220.0 L256.0,220.0 L256.4,220.6 L256.8,219.8 L257.2,220.3 L257.6,220.5 L258.0,220.3 L258.4,219.7 L258.8,220.2 L259.2,220.1 L259.6,219.8 L260.0,219.7 L260.4,219.9 L260.8,220.3 L261.2,220.1 L261.6,219.8 L262.0,219.9 L262.4,220.0 L262.8,220.2 L263.2,220.1 L263.6,219.5 L264.0,219.5 L264.4,219.8 L264.8,218.7 L265.2,218.0 L265.6,217.5 L266.0,216.7 L266.4,215.9 L266.8,215.6 L267.2,214.5 L267.6,214.2 L268.0,213.9 L268.4,213.2 L268.8,213.0 L269.2,212.2 L269.6,212.5 L270.0,212.9 L270.4,213.2 L270.8,214.1 L271.2,214.0 L271.6,214.2 L272.0,214.8 L272.4,215.0 L272.8,214.9 L273.2,214.9 L273.6,214.4 L274.0,214.8 L274.4,214.6 L274.8,214.2 L275.2,213.7 L275.6,213.7 L276.0,213.9 L276.4,213.8 L276.8,214.7 L277.2,215.5 L277.6,215.4 L278.0,216.0 L278.4,216.8 L278.8,216.8 L279.2,217.7 L279.6,218.3 L280.0,218.6 L280.4,218.3 L280.8,219.7 L281.2,219.6 L281.6,219.9 L282.0,220.2 L282.4,220.0 L282.8,220.4 L283.2,219.7 L283.6,220.2 L284.0,220.0 L284.4,220.6 L284.8,220.3 L285.2,220.2 L285.6,219.9 L286.0,220.5 L286.4,220.2 L286.8,219.6 L287.2,219.3 L287.6,219.6 L288.0,218.9 L288.4,218.2 L288.8,218.4 L289.2,218.2 L289.6,218.5 L290.0,218.5 L290.4,219.4 L290.8,219.6 L291.2,220.2 L291.6,220.0 L292.0,220.5 L292.4,220.3 L292.8,220.5 L293.2,220.6 L293.6,220.8 L294.0,220.7 L294.4,220.3 L294.8,220.6 L295.2,220.9 L295.6,220.0 L296.0,220.6 L296.4,219.9 L296.8,220.3 L297.2,220.5 L297.6,220.0 L298.0,219.9 L298.4,220.6 L298.8,220.8 L299.2,220.2 L299.6,220.0 L300.0,220.3 L300.4,220.1 L300.8,220.5 L301.2,220.3 L301.6,220.7 L302.0,220.5 L302.4,220.5 L302.8,220.5 L303.2,220.5 L303.6,220.1 L304.0,220.8 L304.4,220.7 L304.8,220.7 L305.2,219.9 L305.6,220.4 L306.0,220.9 L306.4,220.0 L306.8,220.0 L307.2,220.1 L307.6,220.6 L308.0,220.2 L308.4,220.6 L308.8,220.8 L309.2,220.0 L309.6,220.1 L310.0,220.7 L310.4,220.0 L310.8,220.9 L311.2,220.6 L311.6,221.0 L312.0,220.8 L312.4,220.8 L312.8,220.2 L313.2,220.7 L313.6,220.8 L314.0,220.8 L314.4,220.6 L314.8,220.0 L315.2,220.3 L315.6,220.9 L316.0,220.2 L316.4,220.4 L316.8,220.5 L317.2,220.4 L317.6,220.3 L318.0,220.1 L318.4,220.5 L318.8,220.3 L319.2,220.5 L319.6,220.3 L320.0,220.6 L320.4,220.6 L320.8,220.4 L321.2,220.2 L321.6,220.7 L322.0,220.0 L322.4,220.5 L322.8,220.1 L323.2,220.3 L323.6,220.0 L324.0,220.3 L324.4,220.6 L324.8,220.6 L325.2,220.4 L325.6,220.2 L326.0,220.1" fill="none" stroke="#5ec4dc" stroke-width="1.15"/>
<text x="307.00" y="216.40" font-size="6.0" text-anchor="middle" font-weight="normal" fill="#5ec4dc" stroke="#5ec4dc" stroke-width="0.22">PET</text>
<path d="M206.0,237.3 L206.4,236.8 L206.8,236.8 L207.2,236.6 L207.6,237.3 L208.0,237.3 L208.4,237.4 L208.8,237.3 L209.2,236.7 L209.6,237.4 L210.0,237.0 L210.4,237.3 L210.8,237.2 L211.2,237.1 L211.6,236.6 L212.0,236.9 L212.4,237.6 L212.8,237.3 L213.2,237.4 L213.6,236.6 L214.0,236.7 L214.4,236.7 L214.8,236.6 L215.2,236.7 L215.6,236.5 L216.0,236.6 L216.4,237.0 L216.8,235.8 L217.2,235.2 L217.6,232.9 L218.0,230.1 L218.4,226.7 L218.8,223.5 L219.2,221.7 L219.6,222.2 L220.0,224.8 L220.4,227.5 L220.8,230.9 L221.2,233.3 L221.6,235.2 L222.0,236.1 L222.4,236.1 L222.8,236.7 L223.2,235.9 L223.6,235.8 L224.0,235.7 L224.4,235.2 L224.8,234.4 L225.2,234.3 L225.6,233.7 L226.0,233.2 L226.4,233.3 L226.8,233.6 L227.2,233.3 L227.6,233.8 L228.0,234.1 L228.4,234.6 L228.8,234.7 L229.2,235.3 L229.6,234.6 L230.0,234.2 L230.4,234.6 L230.8,233.9 L231.2,233.6 L231.6,234.8 L232.0,235.1 L232.4,234.9 L232.8,235.4 L233.2,236.1 L233.6,236.9 L234.0,236.8 L234.4,236.3 L234.8,236.2 L235.2,236.1 L235.6,236.6 L236.0,235.7 L236.4,236.0 L236.8,235.2 L237.2,235.5 L237.6,234.2 L238.0,234.2 L238.4,233.5 L238.8,233.6 L239.2,232.6 L239.6,232.2 L240.0,231.7 L240.4,231.5 L240.8,230.7 L241.2,230.8 L241.6,230.6 L242.0,230.6 L242.4,230.0 L242.8,230.8 L243.2,230.8 L243.6,231.3 L244.0,231.0 L244.4,231.5 L244.8,232.0 L245.2,233.0 L245.6,233.0 L246.0,233.5 L246.4,234.2 L246.8,234.5 L247.2,233.6 L247.6,234.7 L248.0,234.5 L248.4,234.6 L248.8,234.3 L249.2,235.0 L249.6,234.7 L250.0,235.1 L250.4,234.9 L250.8,236.2 L251.2,236.1 L251.6,236.3 L252.0,236.0 L252.4,236.7 L252.8,236.9 L253.2,236.8 L253.6,237.3 L254.0,237.7 L254.4,237.1 L254.8,236.7 L255.2,236.9 L255.6,237.5 L256.0,237.0 L256.4,236.8 L256.8,237.5 L257.2,237.1 L257.6,237.4 L258.0,237.5 L258.4,237.4 L258.8,237.5 L259.2,237.4 L259.6,237.7 L260.0,237.3 L260.4,237.7 L260.8,236.9 L261.2,237.1 L261.6,237.7 L262.0,236.8 L262.4,237.4 L262.8,237.0 L263.2,236.8 L263.6,236.9 L264.0,236.8 L264.4,236.3 L264.8,236.2 L265.2,234.9 L265.6,235.1 L266.0,233.6 L266.4,233.5 L266.8,232.6 L267.2,231.7 L267.6,231.3 L268.0,230.6 L268.4,229.8 L268.8,229.4 L269.2,228.8 L269.6,228.8 L270.0,230.1 L270.4,229.9 L270.8,230.7 L271.2,230.4 L271.6,231.3 L272.0,230.9 L272.4,231.4 L272.8,231.9 L273.2,232.0 L273.6,231.5 L274.0,230.6 L274.4,231.3 L274.8,230.7 L275.2,230.8 L275.6,230.8 L276.0,230.4 L276.4,231.3 L276.8,231.0 L277.2,231.5 L277.6,231.7 L278.0,232.7 L278.4,232.8 L278.8,233.9 L279.2,234.3 L279.6,234.7 L280.0,234.9 L280.4,235.3 L280.8,236.5 L281.2,236.8 L281.6,236.6 L282.0,236.4 L282.4,236.9 L282.8,237.3 L283.2,236.6 L283.6,237.4 L284.0,237.7 L284.4,237.8 L284.8,237.8 L285.2,237.0 L285.6,237.7 L286.0,237.0 L286.4,236.7 L286.8,236.4 L287.2,236.3 L287.6,236.3 L288.0,235.7 L288.4,235.0 L288.8,235.0 L289.2,235.5 L289.6,235.2 L290.0,236.4 L290.4,236.6 L290.8,236.2 L291.2,237.1 L291.6,237.5 L292.0,237.0 L292.4,237.4 L292.8,237.9 L293.2,237.9 L293.6,237.6 L294.0,237.5 L294.4,236.8 L294.8,237.6 L295.2,236.9 L295.6,236.9 L296.0,237.4 L296.4,236.8 L296.8,237.1 L297.2,237.4 L297.6,237.6 L298.0,237.4 L298.4,236.9 L298.8,237.3 L299.2,237.7 L299.6,237.5 L300.0,237.4 L300.4,237.7 L300.8,237.3 L301.2,237.9 L301.6,237.0 L302.0,237.7 L302.4,237.8 L302.8,237.3 L303.2,237.6 L303.6,236.9 L304.0,237.4 L304.4,237.4 L304.8,237.0 L305.2,237.7 L305.6,237.1 L306.0,237.2 L306.4,237.5 L306.8,236.9 L307.2,237.9 L307.6,237.0 L308.0,237.8 L308.4,237.0 L308.8,237.8 L309.2,237.9 L309.6,237.4 L310.0,236.9 L310.4,237.7 L310.8,237.4 L311.2,237.3 L311.6,237.7 L312.0,237.4 L312.4,238.0 L312.8,237.5 L313.2,237.1 L313.6,237.6 L314.0,237.7 L314.4,237.9 L314.8,237.2 L315.2,237.5 L315.6,237.0 L316.0,237.2 L316.4,237.9 L316.8,237.0 L317.2,236.9 L317.6,237.1 L318.0,237.1 L318.4,237.2 L318.8,237.2 L319.2,237.3 L319.6,237.3 L320.0,237.7 L320.4,237.9 L320.8,237.2 L321.2,237.3 L321.6,238.0 L322.0,237.3 L322.4,237.3 L322.8,237.4 L323.2,237.1 L323.6,237.0 L324.0,237.6 L324.4,237.1 L324.8,237.5 L325.2,237.4 L325.6,237.6 L326.0,237.0" fill="none" stroke="#ea6250" stroke-width="1.15"/>
<text x="307.00" y="235.00" font-size="6.0" text-anchor="middle" font-weight="normal" fill="#ea6250" stroke="#ea6250" stroke-width="0.22">PU</text>
<path d="M206.0,252.9 L206.4,252.2 L206.8,252.3 L207.2,252.0 L207.6,252.7 L208.0,252.7 L208.4,252.2 L208.8,252.3 L209.2,252.7 L209.6,252.2 L210.0,252.6 L210.4,252.1 L210.8,252.9 L211.2,252.7 L211.6,252.0 L212.0,252.6 L212.4,252.7 L212.8,252.1 L213.2,252.3 L213.6,252.8 L214.0,252.4 L214.4,252.3 L214.8,252.8 L215.2,252.3 L215.6,252.9 L216.0,252.6 L216.4,252.7 L216.8,252.0 L217.2,250.2 L217.6,249.0 L218.0,245.5 L218.4,242.8 L218.8,239.5 L219.2,237.6 L219.6,238.1 L220.0,241.0 L220.4,243.7 L220.8,246.9 L221.2,249.8 L221.6,251.4 L222.0,251.3 L222.4,251.8 L222.8,252.1 L223.2,251.6 L223.6,251.6 L224.0,250.6 L224.4,250.5 L224.8,250.5 L225.2,249.3 L225.6,249.7 L226.0,249.2 L226.4,249.4 L226.8,248.6 L227.2,249.3 L227.6,249.1 L228.0,249.9 L228.4,249.8 L228.8,249.9 L229.2,250.3 L229.6,250.4 L230.0,250.3 L230.4,250.1 L230.8,249.7 L231.2,250.2 L231.6,249.9 L232.0,250.6 L232.4,250.4 L232.8,250.9 L233.2,252.2 L233.6,252.4 L234.0,251.9 L234.4,252.1 L234.8,252.6 L235.2,251.7 L235.6,251.3 L236.0,251.7 L236.4,251.5 L236.8,251.0 L237.2,250.2 L237.6,250.6 L238.0,250.1 L238.4,249.8 L238.8,248.8 L239.2,248.5 L239.6,248.2 L240.0,247.6 L240.4,247.6 L240.8,246.9 L241.2,245.9 L241.6,246.1 L242.0,246.4 L242.4,245.6 L242.8,246.3 L243.2,246.6 L243.6,247.1 L244.0,247.4 L244.4,247.7 L244.8,248.1 L245.2,247.8 L245.6,248.9 L246.0,249.3 L246.4,249.2 L246.8,249.2 L247.2,250.0 L247.6,249.6 L248.0,250.1 L248.4,249.9 L248.8,249.9 L249.2,249.7 L249.6,250.0 L250.0,250.5 L250.4,250.5 L250.8,251.3 L251.2,251.6 L251.6,251.3 L252.0,252.0 L252.4,251.9 L252.8,252.6 L253.2,252.0 L253.6,252.4 L254.0,252.8 L254.4,252.1 L254.8,252.6 L255.2,252.8 L255.6,252.9 L256.0,253.0 L256.4,252.9 L256.8,252.4 L257.2,253.0 L257.6,252.9 L258.0,252.7 L258.4,252.6 L258.8,252.8 L259.2,252.3 L259.6,252.9 L260.0,252.8 L260.4,252.7 L260.8,253.0 L261.2,252.9 L261.6,253.0 L262.0,252.3 L262.4,252.9 L262.8,252.3 L263.2,252.7 L263.6,252.1 L264.0,251.8 L264.4,251.9 L264.8,250.8 L265.2,250.7 L265.6,250.2 L266.0,250.1 L266.4,248.9 L266.8,248.3 L267.2,247.3 L267.6,246.1 L268.0,245.6 L268.4,246.0 L268.8,245.1 L269.2,244.7 L269.6,245.2 L270.0,245.9 L270.4,245.4 L270.8,246.3 L271.2,246.0 L271.6,246.5 L272.0,246.8 L272.4,246.8 L272.8,247.7 L273.2,246.9 L273.6,247.3 L274.0,247.3 L274.4,246.8 L274.8,246.4 L275.2,247.0 L275.6,246.5 L276.0,246.2 L276.4,246.8 L276.8,247.0 L277.2,247.7 L277.6,247.4 L278.0,248.7 L278.4,248.7 L278.8,249.3 L279.2,250.5 L279.6,249.9 L280.0,251.2 L280.4,250.7 L280.8,251.1 L281.2,251.4 L281.6,251.7 L282.0,252.4 L282.4,252.4 L282.8,252.7 L283.2,252.1 L283.6,253.1 L284.0,253.0 L284.4,252.2 L284.8,252.4 L285.2,252.5 L285.6,252.2 L286.0,252.6 L286.4,252.2 L286.8,252.5 L287.2,251.7 L287.6,252.2 L288.0,251.4 L288.4,250.9 L288.8,250.4 L289.2,250.9 L289.6,250.9 L290.0,251.0 L290.4,252.0 L290.8,252.6 L291.2,253.0 L291.6,252.2 L292.0,252.7 L292.4,252.9 L292.8,252.7 L293.2,253.2 L293.6,253.1 L294.0,253.1 L294.4,253.0 L294.8,252.4 L295.2,253.0 L295.6,253.2 L296.0,252.4 L296.4,252.7 L296.8,253.3 L297.2,252.6 L297.6,252.6 L298.0,252.6 L298.4,252.5 L298.8,252.9 L299.2,253.1 L299.6,252.5 L300.0,252.7 L300.4,252.6 L300.8,253.1 L301.2,252.9 L301.6,252.6 L302.0,252.9 L302.4,252.7 L302.8,252.8 L303.2,252.5 L303.6,253.0 L304.0,252.8 L304.4,252.5 L304.8,253.0 L305.2,253.2 L305.6,252.7 L306.0,253.2 L306.4,252.4 L306.8,253.1 L307.2,252.4 L307.6,252.8 L308.0,253.2 L308.4,252.8 L308.8,252.6 L309.2,252.8 L309.6,252.7 L310.0,253.0 L310.4,252.3 L310.8,253.2 L311.2,252.5 L311.6,253.3 L312.0,252.8 L312.4,253.3 L312.8,253.2 L313.2,252.7 L313.6,252.4 L314.0,253.1 L314.4,253.0 L314.8,252.9 L315.2,252.7 L315.6,253.0 L316.0,253.0 L316.4,252.5 L316.8,252.8 L317.2,253.0 L317.6,252.5 L318.0,252.3 L318.4,252.9 L318.8,253.4 L319.2,253.1 L319.6,252.4 L320.0,253.2 L320.4,253.2 L320.8,252.6 L321.2,253.3 L321.6,252.5 L322.0,253.2 L322.4,253.0 L322.8,252.8 L323.2,253.3 L323.6,252.6 L324.0,253.0 L324.4,252.6 L324.8,252.6 L325.2,253.3 L325.6,252.5 L326.0,252.5" fill="none" stroke="#4a4a4a" stroke-width="1.15"/>
<text x="307.00" y="248.60" font-size="6.0" text-anchor="middle" font-weight="normal" fill="#555" stroke="#555" stroke-width="0.22">Glass</text>
<line x1="206.00" y1="160.40" x2="206.00" y2="257.40" stroke="#444" stroke-width="0.8"/>
<line x1="206.00" y1="257.40" x2="325.40" y2="257.40" stroke="#444" stroke-width="0.8"/>
<line x1="206.00" y1="160.40" x2="325.40" y2="160.40" stroke="#444" stroke-width="0.8"/>
<line x1="325.40" y1="160.40" x2="325.40" y2="257.40" stroke="#444" stroke-width="0.8"/>
<line x1="219.33" y1="257.40" x2="219.33" y2="259.40" stroke="#3a3a3a" stroke-width="0.7"/>
<text x="219.33" y="264.60" font-size="5.5" text-anchor="middle" font-weight="normal" fill="#222" stroke="#222" stroke-width="0.22">200</text>
<line x1="245.99" y1="257.40" x2="245.99" y2="259.40" stroke="#3a3a3a" stroke-width="0.7"/>
<text x="245.99" y="264.60" font-size="5.5" text-anchor="middle" font-weight="normal" fill="#222" stroke="#222" stroke-width="0.22">400</text>
<line x1="272.65" y1="257.40" x2="272.65" y2="259.40" stroke="#3a3a3a" stroke-width="0.7"/>
<text x="272.65" y="264.60" font-size="5.5" text-anchor="middle" font-weight="normal" fill="#222" stroke="#222" stroke-width="0.22">600</text>
<line x1="299.31" y1="257.40" x2="299.31" y2="259.40" stroke="#3a3a3a" stroke-width="0.7"/>
<text x="299.31" y="264.60" font-size="5.5" text-anchor="middle" font-weight="normal" fill="#222" stroke="#222" stroke-width="0.22">800</text>
<line x1="325.97" y1="257.40" x2="325.97" y2="259.40" stroke="#3a3a3a" stroke-width="0.7"/>
<text x="325.97" y="264.60" font-size="5.5" text-anchor="middle" font-weight="normal" fill="#222" stroke="#222" stroke-width="0.22">1000</text>
<line x1="206.00" y1="257.40" x2="206.00" y2="258.60" stroke="#3a3a3a" stroke-width="0.6"/>
<line x1="232.66" y1="257.40" x2="232.66" y2="258.60" stroke="#3a3a3a" stroke-width="0.6"/>
<line x1="259.32" y1="257.40" x2="259.32" y2="258.60" stroke="#3a3a3a" stroke-width="0.6"/>
<line x1="285.98" y1="257.40" x2="285.98" y2="258.60" stroke="#3a3a3a" stroke-width="0.6"/>
<line x1="312.64" y1="257.40" x2="312.64" y2="258.60" stroke="#3a3a3a" stroke-width="0.6"/>
<text x="199.20" y="207.50" font-size="6.4" text-anchor="middle" font-weight="normal" fill="#222" stroke="#222" stroke-width="0.22" transform="rotate(-90 199.2 207.5)">Intensity (arb. units)</text>
<text x="266.00" y="274.60" font-size="6.2" text-anchor="middle" font-weight="normal" fill="#222" stroke="#222" stroke-width="0.22">Raman shift (cm<tspan dy="-2.17" font-size="4.34">−1</tspan><tspan dy="2.17">)</tspan></text>
<text transform="translate(524.00,155.80) scale(0.9,1)" font-size="13" font-weight="bold" fill="#000" stroke="#000" stroke-width="0.15">h</text>
<line x1="547.40" y1="251.60" x2="549.40" y2="251.60" stroke="#3a3a3a" stroke-width="0.7"/>
<text x="546.40" y="253.54" font-size="5.4" text-anchor="end" font-weight="normal" fill="#222" stroke="#222" stroke-width="0.22">0.00</text>
<line x1="547.40" y1="226.40" x2="549.40" y2="226.40" stroke="#3a3a3a" stroke-width="0.7"/>
<text x="546.40" y="228.34" font-size="5.4" text-anchor="end" font-weight="normal" fill="#222" stroke="#222" stroke-width="0.22">0.05</text>
<line x1="547.40" y1="201.20" x2="549.40" y2="201.20" stroke="#3a3a3a" stroke-width="0.7"/>
<text x="546.40" y="203.14" font-size="5.4" text-anchor="end" font-weight="normal" fill="#222" stroke="#222" stroke-width="0.22">0.10</text>
<line x1="547.40" y1="176.00" x2="549.40" y2="176.00" stroke="#3a3a3a" stroke-width="0.7"/>
<text x="546.40" y="177.94" font-size="5.4" text-anchor="end" font-weight="normal" fill="#222" stroke="#222" stroke-width="0.22">0.15</text>
<line x1="548.20" y1="239.00" x2="549.40" y2="239.00" stroke="#3a3a3a" stroke-width="0.6"/>
<line x1="548.20" y1="213.80" x2="549.40" y2="213.80" stroke="#3a3a3a" stroke-width="0.6"/>
<line x1="548.20" y1="188.60" x2="549.40" y2="188.60" stroke="#3a3a3a" stroke-width="0.6"/>
<line x1="548.20" y1="163.40" x2="549.40" y2="163.40" stroke="#3a3a3a" stroke-width="0.6"/>
<line x1="565.60" y1="257.00" x2="565.60" y2="259.00" stroke="#3a3a3a" stroke-width="0.7"/>
<text x="565.60" y="264.60" font-size="5.6" text-anchor="middle" font-weight="normal" fill="#222" stroke="#222" stroke-width="0.22">0</text>
<line x1="599.10" y1="257.00" x2="599.10" y2="259.00" stroke="#3a3a3a" stroke-width="0.7"/>
<text x="599.10" y="264.60" font-size="5.6" text-anchor="middle" font-weight="normal" fill="#222" stroke="#222" stroke-width="0.22">25</text>
<line x1="632.60" y1="257.00" x2="632.60" y2="259.00" stroke="#3a3a3a" stroke-width="0.7"/>
<text x="632.60" y="264.60" font-size="5.6" text-anchor="middle" font-weight="normal" fill="#222" stroke="#222" stroke-width="0.22">50</text>
<line x1="666.10" y1="257.00" x2="666.10" y2="259.00" stroke="#3a3a3a" stroke-width="0.7"/>
<text x="666.10" y="264.60" font-size="5.6" text-anchor="middle" font-weight="normal" fill="#222" stroke="#222" stroke-width="0.22">75</text>
<line x1="548.86" y1="257.00" x2="548.86" y2="258.20" stroke="#3a3a3a" stroke-width="0.6"/>
<line x1="582.35" y1="257.00" x2="582.35" y2="258.20" stroke="#3a3a3a" stroke-width="0.6"/>
<line x1="615.85" y1="257.00" x2="615.85" y2="258.20" stroke="#3a3a3a" stroke-width="0.6"/>
<line x1="649.35" y1="257.00" x2="649.35" y2="258.20" stroke="#3a3a3a" stroke-width="0.6"/>
<path d="M605.8000000000001,249.584 L666.1,246.308 L666.1,249.83599999999998 L605.8000000000001,251.34799999999998 Z" fill="#f4844c" stroke="none" stroke-width="0.8"/>
<rect x="565.20" y="160.60" width="2.60" height="91.00" fill="#fbd77a" stroke="none" stroke-width="0.8"/>
<line x1="566.40" y1="160.60" x2="566.40" y2="251.60" stroke="#f6c23c" stroke-width="0.8"/>
<circle cx="566.30" cy="188.10" r="1.90" fill="#f8c23a" stroke="none" stroke-width="0.8"/>
<circle cx="566.30" cy="198.68" r="1.90" fill="#f8c23a" stroke="none" stroke-width="0.8"/>
<circle cx="566.30" cy="208.26" r="1.90" fill="#f8c23a" stroke="none" stroke-width="0.8"/>
<circle cx="566.30" cy="216.82" r="1.90" fill="#f8c23a" stroke="none" stroke-width="0.8"/>
<circle cx="566.30" cy="217.83" r="1.90" fill="#f8c23a" stroke="none" stroke-width="0.8"/>
<circle cx="566.30" cy="233.46" r="1.90" fill="#f8c23a" stroke="none" stroke-width="0.8"/>
<circle cx="566.30" cy="243.03" r="1.90" fill="#f8c23a" stroke="none" stroke-width="0.8"/>
<circle cx="566.30" cy="250.09" r="1.90" fill="#f8c23a" stroke="none" stroke-width="0.8"/>
<circle cx="566.30" cy="165.92" r="1.90" fill="#4a98e0" stroke="none" stroke-width="0.8"/>
<circle cx="566.30" cy="178.02" r="1.90" fill="#4a98e0" stroke="none" stroke-width="0.8"/>
<line x1="568.20" y1="160.60" x2="568.20" y2="213.00" stroke="#8cc4f0" stroke-width="0.8"/>
<circle cx="568.40" cy="213.20" r="1.90" fill="#4f9be0" stroke="none" stroke-width="0.8"/>
<circle cx="566.00" cy="251.35" r="2.30" fill="#8ec4f2" stroke="none" stroke-width="0.8"/>
<circle cx="567.00" cy="251.33" r="2.30" fill="#8ec4f2" stroke="none" stroke-width="0.8"/>
<circle cx="568.00" cy="251.31" r="2.30" fill="#8ec4f2" stroke="none" stroke-width="0.8"/>
<circle cx="569.00" cy="251.29" r="2.30" fill="#8ec4f2" stroke="none" stroke-width="0.8"/>
<circle cx="570.00" cy="251.27" r="2.30" fill="#8ec4f2" stroke="none" stroke-width="0.8"/>
<circle cx="571.00" cy="251.25" r="2.30" fill="#8ec4f2" stroke="none" stroke-width="0.8"/>
<circle cx="572.00" cy="251.23" r="2.30" fill="#8ec4f2" stroke="none" stroke-width="0.8"/>
<circle cx="573.00" cy="251.22" r="2.30" fill="#8ec4f2" stroke="none" stroke-width="0.8"/>
<circle cx="574.00" cy="251.20" r="2.30" fill="#8ec4f2" stroke="none" stroke-width="0.8"/>
<circle cx="575.00" cy="251.18" r="2.30" fill="#8ec4f2" stroke="none" stroke-width="0.8"/>
<circle cx="576.00" cy="251.16" r="2.30" fill="#8ec4f2" stroke="none" stroke-width="0.8"/>
<circle cx="577.00" cy="251.14" r="2.30" fill="#8ec4f2" stroke="none" stroke-width="0.8"/>
<circle cx="578.00" cy="251.12" r="2.30" fill="#8ec4f2" stroke="none" stroke-width="0.8"/>
<circle cx="579.00" cy="251.10" r="2.30" fill="#8ec4f2" stroke="none" stroke-width="0.8"/>
<circle cx="580.00" cy="251.08" r="2.30" fill="#8ec4f2" stroke="none" stroke-width="0.8"/>
<circle cx="581.00" cy="251.06" r="2.30" fill="#8ec4f2" stroke="none" stroke-width="0.8"/>
<circle cx="582.00" cy="251.05" r="2.30" fill="#8ec4f2" stroke="none" stroke-width="0.8"/>
<circle cx="583.00" cy="251.03" r="2.30" fill="#8ec4f2" stroke="none" stroke-width="0.8"/>
<circle cx="584.00" cy="251.01" r="2.30" fill="#8ec4f2" stroke="none" stroke-width="0.8"/>
<circle cx="585.00" cy="250.99" r="2.30" fill="#8ec4f2" stroke="none" stroke-width="0.8"/>
<circle cx="586.00" cy="250.97" r="2.30" fill="#8ec4f2" stroke="none" stroke-width="0.8"/>
<circle cx="587.00" cy="250.95" r="2.30" fill="#8ec4f2" stroke="none" stroke-width="0.8"/>
<circle cx="588.00" cy="250.93" r="2.30" fill="#8ec4f2" stroke="none" stroke-width="0.8"/>
<circle cx="589.00" cy="250.91" r="2.30" fill="#8ec4f2" stroke="none" stroke-width="0.8"/>
<circle cx="590.00" cy="250.89" r="2.30" fill="#8ec4f2" stroke="none" stroke-width="0.8"/>
<circle cx="591.00" cy="250.88" r="2.30" fill="#8ec4f2" stroke="none" stroke-width="0.8"/>
<circle cx="592.00" cy="250.86" r="2.30" fill="#8ec4f2" stroke="none" stroke-width="0.8"/>
<circle cx="593.00" cy="250.84" r="2.30" fill="#8ec4f2" stroke="none" stroke-width="0.8"/>
<circle cx="594.00" cy="250.82" r="2.30" fill="#8ec4f2" stroke="none" stroke-width="0.8"/>
<circle cx="595.00" cy="250.80" r="2.30" fill="#8ec4f2" stroke="none" stroke-width="0.8"/>
<circle cx="596.00" cy="250.78" r="2.30" fill="#8ec4f2" stroke="none" stroke-width="0.8"/>
<circle cx="597.00" cy="250.76" r="2.30" fill="#8ec4f2" stroke="none" stroke-width="0.8"/>
<circle cx="598.00" cy="250.74" r="2.30" fill="#8ec4f2" stroke="none" stroke-width="0.8"/>
<circle cx="599.00" cy="250.72" r="2.30" fill="#8ec4f2" stroke="none" stroke-width="0.8"/>
<circle cx="600.00" cy="250.71" r="2.30" fill="#8ec4f2" stroke="none" stroke-width="0.8"/>
<circle cx="601.00" cy="250.69" r="2.30" fill="#8ec4f2" stroke="none" stroke-width="0.8"/>
<circle cx="602.00" cy="250.67" r="2.30" fill="#8ec4f2" stroke="none" stroke-width="0.8"/>
<circle cx="603.00" cy="250.65" r="2.30" fill="#8ec4f2" stroke="none" stroke-width="0.8"/>
<circle cx="604.00" cy="250.63" r="2.30" fill="#8ec4f2" stroke="none" stroke-width="0.8"/>
<circle cx="605.00" cy="250.61" r="2.30" fill="#8ec4f2" stroke="none" stroke-width="0.8"/>
<circle cx="606.00" cy="250.59" r="2.30" fill="#8ec4f2" stroke="none" stroke-width="0.8"/>
<circle cx="607.00" cy="250.57" r="2.30" fill="#8ec4f2" stroke="none" stroke-width="0.8"/>
<circle cx="608.00" cy="250.55" r="2.30" fill="#8ec4f2" stroke="none" stroke-width="0.8"/>
<circle cx="609.00" cy="250.54" r="2.30" fill="#8ec4f2" stroke="none" stroke-width="0.8"/>
<circle cx="610.00" cy="250.52" r="2.30" fill="#8ec4f2" stroke="none" stroke-width="0.8"/>
<circle cx="611.00" cy="250.50" r="2.30" fill="#8ec4f2" stroke="none" stroke-width="0.8"/>
<circle cx="612.00" cy="250.48" r="2.30" fill="#8ec4f2" stroke="none" stroke-width="0.8"/>
<circle cx="613.00" cy="250.46" r="2.30" fill="#8ec4f2" stroke="none" stroke-width="0.8"/>
<circle cx="614.00" cy="250.44" r="2.30" fill="#8ec4f2" stroke="none" stroke-width="0.8"/>
<circle cx="615.00" cy="250.42" r="2.30" fill="#8ec4f2" stroke="none" stroke-width="0.8"/>
<circle cx="616.00" cy="250.40" r="2.30" fill="#8ec4f2" stroke="none" stroke-width="0.8"/>
<circle cx="617.00" cy="250.38" r="2.30" fill="#8ec4f2" stroke="none" stroke-width="0.8"/>
<circle cx="618.00" cy="250.37" r="2.30" fill="#8ec4f2" stroke="none" stroke-width="0.8"/>
<circle cx="619.00" cy="250.35" r="2.30" fill="#8ec4f2" stroke="none" stroke-width="0.8"/>
<circle cx="620.00" cy="250.33" r="2.30" fill="#8ec4f2" stroke="none" stroke-width="0.8"/>
<circle cx="621.00" cy="250.31" r="2.30" fill="#8ec4f2" stroke="none" stroke-width="0.8"/>
<circle cx="622.00" cy="250.29" r="2.30" fill="#8ec4f2" stroke="none" stroke-width="0.8"/>
<circle cx="623.00" cy="250.27" r="2.30" fill="#8ec4f2" stroke="none" stroke-width="0.8"/>
<circle cx="624.00" cy="250.25" r="2.30" fill="#8ec4f2" stroke="none" stroke-width="0.8"/>
<circle cx="625.00" cy="250.23" r="2.30" fill="#8ec4f2" stroke="none" stroke-width="0.8"/>
<circle cx="626.00" cy="250.21" r="2.30" fill="#8ec4f2" stroke="none" stroke-width="0.8"/>
<circle cx="627.00" cy="250.20" r="2.30" fill="#8ec4f2" stroke="none" stroke-width="0.8"/>
<circle cx="628.00" cy="250.18" r="2.30" fill="#8ec4f2" stroke="none" stroke-width="0.8"/>
<circle cx="629.00" cy="250.16" r="2.30" fill="#8ec4f2" stroke="none" stroke-width="0.8"/>
<circle cx="630.00" cy="250.14" r="2.30" fill="#8ec4f2" stroke="none" stroke-width="0.8"/>
<circle cx="631.00" cy="250.12" r="2.30" fill="#8ec4f2" stroke="none" stroke-width="0.8"/>
<circle cx="632.00" cy="250.10" r="2.30" fill="#8ec4f2" stroke="none" stroke-width="0.8"/>
<circle cx="633.00" cy="250.08" r="2.30" fill="#8ec4f2" stroke="none" stroke-width="0.8"/>
<circle cx="634.00" cy="250.06" r="2.30" fill="#8ec4f2" stroke="none" stroke-width="0.8"/>
<circle cx="635.00" cy="250.04" r="2.30" fill="#8ec4f2" stroke="none" stroke-width="0.8"/>
<circle cx="636.00" cy="250.03" r="2.30" fill="#8ec4f2" stroke="none" stroke-width="0.8"/>
<circle cx="637.00" cy="250.01" r="2.30" fill="#8ec4f2" stroke="none" stroke-width="0.8"/>
<circle cx="638.00" cy="249.99" r="2.30" fill="#8ec4f2" stroke="none" stroke-width="0.8"/>
<circle cx="639.00" cy="249.97" r="2.30" fill="#8ec4f2" stroke="none" stroke-width="0.8"/>
<circle cx="640.00" cy="249.95" r="2.30" fill="#8ec4f2" stroke="none" stroke-width="0.8"/>
<circle cx="641.00" cy="249.93" r="2.30" fill="#8ec4f2" stroke="none" stroke-width="0.8"/>
<circle cx="642.00" cy="249.91" r="2.30" fill="#8ec4f2" stroke="none" stroke-width="0.8"/>
<circle cx="643.00" cy="249.89" r="2.30" fill="#8ec4f2" stroke="none" stroke-width="0.8"/>
<circle cx="644.00" cy="249.87" r="2.30" fill="#8ec4f2" stroke="none" stroke-width="0.8"/>
<circle cx="645.00" cy="249.85" r="2.30" fill="#8ec4f2" stroke="none" stroke-width="0.8"/>
<circle cx="646.00" cy="249.84" r="2.30" fill="#8ec4f2" stroke="none" stroke-width="0.8"/>
<circle cx="649.80" cy="249.08" r="1.90" fill="#8ec4f2" stroke="none" stroke-width="0.8"/>
<circle cx="649.80" cy="247.06" r="1.90" fill="#8ec4f2" stroke="none" stroke-width="0.8"/>
<circle cx="649.80" cy="245.05" r="1.90" fill="#8ec4f2" stroke="none" stroke-width="0.8"/>
<circle cx="649.80" cy="242.53" r="1.90" fill="#8ec4f2" stroke="none" stroke-width="0.8"/>
<circle cx="649.80" cy="240.51" r="1.90" fill="#8ec4f2" stroke="none" stroke-width="0.8"/>
<line x1="650.40" y1="241.52" x2="650.40" y2="160.60" stroke="#8ec4f2" stroke-width="0.8"/>
<circle cx="650.40" cy="161.89" r="1.90" fill="#8ec4f2" stroke="none" stroke-width="0.8"/>
<circle cx="650.40" cy="194.65" r="1.90" fill="#8ec4f2" stroke="none" stroke-width="0.8"/>
<circle cx="650.40" cy="202.71" r="1.90" fill="#8ec4f2" stroke="none" stroke-width="0.8"/>
<circle cx="650.40" cy="209.77" r="1.90" fill="#8ec4f2" stroke="none" stroke-width="0.8"/>
<line x1="549.40" y1="160.60" x2="549.40" y2="257.00" stroke="#444" stroke-width="0.8"/>
<line x1="549.40" y1="257.00" x2="666.40" y2="257.00" stroke="#444" stroke-width="0.8"/>
<line x1="549.40" y1="160.60" x2="666.40" y2="160.60" stroke="#444" stroke-width="0.8"/>
<line x1="666.40" y1="160.60" x2="666.40" y2="257.00" stroke="#444" stroke-width="0.8"/>
<line x1="573.00" y1="166.30" x2="582.00" y2="166.30" stroke="#3d8fd6" stroke-width="0.7"/>
<circle cx="577.50" cy="166.30" r="1.70" fill="#3d8fd6" stroke="none" stroke-width="0.8"/>
<text x="584.00" y="168.00" font-size="4.45" text-anchor="start" font-weight="normal" fill="#222" stroke="#222" stroke-width="0.2">Straight line (W/O isolation)</text>
<line x1="573.00" y1="171.98" x2="582.00" y2="171.98" stroke="#8ec4f2" stroke-width="0.7"/>
<circle cx="577.50" cy="171.98" r="1.70" fill="#8ec4f2" stroke="none" stroke-width="0.8"/>
<text x="584.00" y="173.68" font-size="4.45" text-anchor="start" font-weight="normal" fill="#222" stroke="#222" stroke-width="0.2">Straight line (W/ isolation)</text>
<line x1="573.00" y1="177.66" x2="582.00" y2="177.66" stroke="#f8c23a" stroke-width="0.7"/>
<circle cx="577.50" cy="177.66" r="1.70" fill="#f8c23a" stroke="none" stroke-width="0.8"/>
<text x="584.00" y="179.36" font-size="4.45" text-anchor="start" font-weight="normal" fill="#222" stroke="#222" stroke-width="0.2">Serpentine line (W/O isolation)</text>
<line x1="573.00" y1="183.34" x2="582.00" y2="183.34" stroke="#f4844c" stroke-width="0.7"/>
<circle cx="577.50" cy="183.34" r="1.70" fill="#f4844c" stroke="none" stroke-width="0.8"/>
<text x="584.00" y="185.04" font-size="4.45" text-anchor="start" font-weight="normal" fill="#222" stroke="#222" stroke-width="0.2">Serpentine line (W/ isolation)</text>
<path d="M572.0,194.5 L573.2,194.9 L574.4,194.2 L575.6,193.8 L576.8,194.5 L578.0,194.6 L579.2,193.8 L580.5,193.7 L581.7,194.4 L582.9,194.1 L584.1,193.4 L585.3,193.7 L586.5,194.2 L586.5,196.9 L585.3,197.4 L584.1,197.3 L582.9,196.8 L581.7,196.7 L580.5,197.3 L579.2,197.8 L578.0,197.5 L576.8,197.0 L575.6,197.1 L574.4,197.8 L573.2,198.1 L572.0,197.8Z" fill="#d2bc6e" stroke="none" stroke-width="0.8" opacity="0.9"/>
<path d="M588.5,194.5 L589.8,194.9 L591.0,194.2 L592.2,193.8 L593.5,194.5 L594.8,194.6 L596.0,193.8 L597.2,193.7 L598.5,194.4 L599.8,194.1 L601.0,193.4 L602.2,193.7 L603.5,194.2 L603.5,196.9 L602.2,197.4 L601.0,197.3 L599.8,196.8 L598.5,196.7 L597.2,197.3 L596.0,197.8 L594.8,197.5 L593.5,197.0 L592.2,197.1 L591.0,197.8 L589.8,198.1 L588.5,197.8Z" fill="#d2bc6e" stroke="none" stroke-width="0.8" opacity="0.9"/>
<line x1="586.00" y1="193.50" x2="587.50" y2="193.50" stroke="#e06060" stroke-width="0.5"/>
<line x1="589.00" y1="193.00" x2="590.50" y2="193.00" stroke="#e06060" stroke-width="0.5"/>
<path d="M573.2,200.7 L574.4,201.1 L575.6,200.4 L576.8,200.0 L578.0,200.7 L579.2,200.8 L580.5,200.0 L581.7,199.9 L582.9,200.6 L584.1,200.3 L585.3,199.6 L586.5,199.9 L587.7,200.4 L587.7,203.1 L586.5,203.6 L585.3,203.5 L584.1,203.0 L582.9,202.9 L581.7,203.5 L580.5,204.0 L579.2,203.7 L578.0,203.2 L576.8,203.3 L575.6,204.0 L574.4,204.3 L573.2,204.0Z" fill="#d2bc6e" stroke="none" stroke-width="0.8" opacity="0.9"/>
<path d="M589.7,200.7 L591.0,201.1 L592.2,200.4 L593.5,200.0 L594.7,200.7 L596.0,200.8 L597.2,200.0 L598.5,199.9 L599.7,200.6 L601.0,200.3 L602.2,199.6 L603.5,199.9 L604.7,200.4 L604.7,203.1 L603.5,203.6 L602.2,203.5 L601.0,203.0 L599.7,202.9 L598.5,203.5 L597.2,204.0 L596.0,203.7 L594.7,203.2 L593.5,203.3 L592.2,204.0 L591.0,204.3 L589.7,204.0Z" fill="#d2bc6e" stroke="none" stroke-width="0.8" opacity="0.9"/>
<line x1="586.00" y1="199.70" x2="587.50" y2="199.70" stroke="#e06060" stroke-width="0.5"/>
<line x1="589.00" y1="199.20" x2="590.50" y2="199.20" stroke="#e06060" stroke-width="0.5"/>
<path d="M572.0,206.9 L573.2,207.3 L574.4,206.6 L575.6,206.2 L576.8,206.9 L578.0,207.0 L579.2,206.2 L580.5,206.1 L581.7,206.8 L582.9,206.5 L584.1,205.8 L585.3,206.1 L586.5,206.6 L586.5,209.3 L585.3,209.8 L584.1,209.7 L582.9,209.2 L581.7,209.1 L580.5,209.7 L579.2,210.2 L578.0,209.9 L576.8,209.4 L575.6,209.5 L574.4,210.2 L573.2,210.5 L572.0,210.2Z" fill="#d2bc6e" stroke="none" stroke-width="0.8" opacity="0.9"/>
<path d="M588.5,206.9 L589.8,207.3 L591.0,206.6 L592.2,206.2 L593.5,206.9 L594.8,207.0 L596.0,206.2 L597.2,206.1 L598.5,206.8 L599.8,206.5 L601.0,205.8 L602.2,206.1 L603.5,206.6 L603.5,209.3 L602.2,209.8 L601.0,209.7 L599.8,209.2 L598.5,209.1 L597.2,209.7 L596.0,210.2 L594.8,209.9 L593.5,209.4 L592.2,209.5 L591.0,210.2 L589.8,210.5 L588.5,210.2Z" fill="#d2bc6e" stroke="none" stroke-width="0.8" opacity="0.9"/>
<line x1="586.00" y1="205.90" x2="587.50" y2="205.90" stroke="#e06060" stroke-width="0.5"/>
<line x1="589.00" y1="205.40" x2="590.50" y2="205.40" stroke="#e06060" stroke-width="0.5"/>
<path d="M604,237 L604,232.4 Q605.6,231.2 606.8,230.6 A8,8 0 1 1 618.8,230.6 Q620,231.2 621.4,232.4 L621.4,237 L617,237 Q614.2,233.5 613.9,226.8 A2.1,2.1 0 1 0 611.7,226.8 Q611.4,233.5 608.6,237 Z" fill="#5aa6de" stroke="none" stroke-width="0.8"/>
<text x="625.00" y="224.80" font-size="6.2" text-anchor="start" font-weight="normal" fill="#222" stroke="#222" stroke-width="0.22">w/r=5/7</text>
<text x="625.00" y="233.40" font-size="6.2" text-anchor="start" font-weight="normal" fill="#222" stroke="#222" stroke-width="0.22">α=30°</text>
<text x="531.00" y="201.00" font-size="6" text-anchor="middle" font-weight="normal" fill="#222" stroke="#222" stroke-width="0.22" transform="rotate(-90 531 201)">ΔR/R<tspan dy="1.50" font-size="4.20">0</tspan><tspan dy="-1.50"></tspan></text>
<text x="607.60" y="273.80" font-size="6.3" text-anchor="middle" font-weight="normal" fill="#222" stroke="#222" stroke-width="0.22">Total Strain (%)</text>
<text transform="translate(383.60,299.40) scale(0.9,1)" font-size="13" font-weight="bold" fill="#000" stroke="#000" stroke-width="0.15">k</text>
<line x1="401.00" y1="302.60" x2="401.00" y2="398.40" stroke="#444" stroke-width="0.8"/>
<line x1="401.00" y1="398.40" x2="518.40" y2="398.40" stroke="#444" stroke-width="0.8"/>
<line x1="401.00" y1="302.60" x2="518.40" y2="302.60" stroke="#444" stroke-width="0.8"/>
<line x1="518.40" y1="302.60" x2="518.40" y2="398.40" stroke="#444" stroke-width="0.8"/>
<line x1="399.00" y1="398.40" x2="401.00" y2="398.40" stroke="#3a3a3a" stroke-width="0.7"/>
<text x="398.00" y="400.38" font-size="5.5" text-anchor="end" font-weight="normal" fill="#222" stroke="#222" stroke-width="0.22">-2</text>
<line x1="399.00" y1="377.00" x2="401.00" y2="377.00" stroke="#3a3a3a" stroke-width="0.7"/>
<text x="398.00" y="378.98" font-size="5.5" text-anchor="end" font-weight="normal" fill="#222" stroke="#222" stroke-width="0.22">0</text>
<line x1="399.00" y1="355.60" x2="401.00" y2="355.60" stroke="#3a3a3a" stroke-width="0.7"/>
<text x="398.00" y="357.58" font-size="5.5" text-anchor="end" font-weight="normal" fill="#222" stroke="#222" stroke-width="0.22">2</text>
<line x1="399.00" y1="334.20" x2="401.00" y2="334.20" stroke="#3a3a3a" stroke-width="0.7"/>
<text x="398.00" y="336.18" font-size="5.5" text-anchor="end" font-weight="normal" fill="#222" stroke="#222" stroke-width="0.22">4</text>
<line x1="399.00" y1="312.80" x2="401.00" y2="312.80" stroke="#3a3a3a" stroke-width="0.7"/>
<text x="398.00" y="314.78" font-size="5.5" text-anchor="end" font-weight="normal" fill="#222" stroke="#222" stroke-width="0.22">6</text>
<line x1="399.80" y1="387.70" x2="401.00" y2="387.70" stroke="#3a3a3a" stroke-width="0.6"/>
<line x1="399.80" y1="366.30" x2="401.00" y2="366.30" stroke="#3a3a3a" stroke-width="0.6"/>
<line x1="399.80" y1="344.90" x2="401.00" y2="344.90" stroke="#3a3a3a" stroke-width="0.6"/>
<line x1="399.80" y1="323.50" x2="401.00" y2="323.50" stroke="#3a3a3a" stroke-width="0.6"/>
<line x1="518.40" y1="372.60" x2="520.40" y2="372.60" stroke="#3a3a3a" stroke-width="0.7"/>
<text x="521.40" y="374.58" font-size="5.5" text-anchor="start" font-weight="normal" fill="#222" stroke="#222" stroke-width="0.22">0</text>
<line x1="518.40" y1="344.50" x2="520.40" y2="344.50" stroke="#3a3a3a" stroke-width="0.7"/>
<text x="521.40" y="346.48" font-size="5.5" text-anchor="start" font-weight="normal" fill="#222" stroke="#222" stroke-width="0.22">100</text>
<line x1="518.40" y1="316.40" x2="520.40" y2="316.40" stroke="#3a3a3a" stroke-width="0.7"/>
<text x="521.40" y="318.38" font-size="5.5" text-anchor="start" font-weight="normal" fill="#222" stroke="#222" stroke-width="0.22">200</text>
<line x1="518.40" y1="386.65" x2="519.60" y2="386.65" stroke="#3a3a3a" stroke-width="0.6"/>
<line x1="518.40" y1="358.55" x2="519.60" y2="358.55" stroke="#3a3a3a" stroke-width="0.6"/>
<line x1="518.40" y1="330.45" x2="519.60" y2="330.45" stroke="#3a3a3a" stroke-width="0.6"/>
<line x1="413.40" y1="398.40" x2="413.40" y2="400.40" stroke="#3a3a3a" stroke-width="0.7"/>
<text x="413.40" y="406.20" font-size="5.6" text-anchor="middle" font-weight="normal" fill="#222" stroke="#222" stroke-width="0.22">2</text>
<line x1="436.80" y1="398.40" x2="436.80" y2="400.40" stroke="#3a3a3a" stroke-width="0.7"/>
<text x="436.80" y="406.20" font-size="5.6" text-anchor="middle" font-weight="normal" fill="#222" stroke="#222" stroke-width="0.22">3</text>
<line x1="460.20" y1="398.40" x2="460.20" y2="400.40" stroke="#3a3a3a" stroke-width="0.7"/>
<text x="460.20" y="406.20" font-size="5.6" text-anchor="middle" font-weight="normal" fill="#222" stroke="#222" stroke-width="0.22">4</text>
<line x1="483.60" y1="398.40" x2="483.60" y2="400.40" stroke="#3a3a3a" stroke-width="0.7"/>
<text x="483.60" y="406.20" font-size="5.6" text-anchor="middle" font-weight="normal" fill="#222" stroke="#222" stroke-width="0.22">5</text>
<line x1="507.00" y1="398.40" x2="507.00" y2="400.40" stroke="#3a3a3a" stroke-width="0.7"/>
<text x="507.00" y="406.20" font-size="5.6" text-anchor="middle" font-weight="normal" fill="#222" stroke="#222" stroke-width="0.22">6</text>
<line x1="425.10" y1="398.40" x2="425.10" y2="399.60" stroke="#3a3a3a" stroke-width="0.6"/>
<line x1="448.50" y1="398.40" x2="448.50" y2="399.60" stroke="#3a3a3a" stroke-width="0.6"/>
<line x1="471.90" y1="398.40" x2="471.90" y2="399.60" stroke="#3a3a3a" stroke-width="0.6"/>
<line x1="495.30" y1="398.40" x2="495.30" y2="399.60" stroke="#3a3a3a" stroke-width="0.6"/>
<rect x="411.60" y="379.20" width="16.00" height="16.60" fill="url(#kph)" stroke="none" stroke-width="0.8"/>
<ellipse cx="419.60" cy="387.80" rx="6.5" ry="6.2" fill="none" stroke="#333" stroke-width="0.6"/>
<rect x="432.00" y="379.20" width="16.00" height="16.60" fill="url(#kph)" stroke="none" stroke-width="0.8"/>
<ellipse cx="440.00" cy="387.80" rx="6.5" ry="6.2" fill="none" stroke="#333" stroke-width="0.8"/>
<rect x="452.00" y="379.20" width="16.00" height="16.60" fill="url(#kph)" stroke="none" stroke-width="0.8"/>
<ellipse cx="460.00" cy="387.80" rx="6.5" ry="6.2" fill="none" stroke="#333" stroke-width="1.0"/>
<rect x="472.00" y="379.20" width="16.00" height="16.60" fill="url(#kph)" stroke="none" stroke-width="0.8"/>
<ellipse cx="480.00" cy="387.80" rx="6.5" ry="6.2" fill="none" stroke="#333" stroke-width="1.2000000000000002"/>
<rect x="492.00" y="379.20" width="16.00" height="16.60" fill="url(#kph)" stroke="none" stroke-width="0.8"/>
<ellipse cx="500.00" cy="387.80" rx="6.5" ry="6.2" fill="none" stroke="#333" stroke-width="1.4"/>
<path d="M413.40,372.72 C417.30,372.01 429.00,370.22 436.80,368.44 C444.60,366.66 452.40,364.34 460.20,362.02 C468.00,359.70 475.80,357.38 483.60,354.53 C491.40,351.68 503.10,346.50 507.00,344.90" fill="none" stroke="#ea6250" stroke-width="0.9" stroke-dasharray="2.5,1.5"/>
<path d="M413.40,364.00 C417.30,362.77 429.00,359.08 436.80,356.58 C444.60,354.08 452.40,351.76 460.20,349.00 C468.00,346.23 475.80,343.27 483.60,340.00 C491.40,336.74 503.10,331.18 507.00,329.41" fill="none" stroke="#5ab8e8" stroke-width="0.9" stroke-dasharray="2.5,1.5"/>
<path d="M413.4,370.40599999999995 L415.395,373.76599999999996 L411.405,373.76599999999996 Z" fill="#ea6250" stroke="none" stroke-width="0.6"/>
<path d="M436.79999999999995,366.126 L438.79499999999996,369.486 L434.80499999999995,369.486 Z" fill="#ea6250" stroke="none" stroke-width="0.6"/>
<path d="M460.2,359.06399999999996 L462.195,362.424 L458.205,362.424 Z" fill="#ea6250" stroke="none" stroke-width="0.6"/>
<path d="M483.59999999999997,350.07599999999996 L485.59499999999997,353.436 L481.60499999999996,353.436 Z" fill="#ea6250" stroke="none" stroke-width="0.6"/>
<path d="M507.0,339.804 L508.995,343.164 L505.005,343.164 Z" fill="#ea6250" stroke="none" stroke-width="0.6"/>
<path d="M413.4,370.62 L415.395,373.98 L411.405,373.98 Z" fill="none" stroke="#ea6250" stroke-width="0.6"/>
<path d="M436.79999999999995,366.34 L438.79499999999996,369.7 L434.80499999999995,369.7 Z" fill="none" stroke="#ea6250" stroke-width="0.6"/>
<path d="M460.2,359.91999999999996 L462.195,363.28 L458.205,363.28 Z" fill="none" stroke="#ea6250" stroke-width="0.6"/>
<path d="M483.59999999999997,352.42999999999995 L485.59499999999997,355.78999999999996 L481.60499999999996,355.78999999999996 Z" fill="none" stroke="#ea6250" stroke-width="0.6"/>
<path d="M507.0,342.79999999999995 L508.995,346.15999999999997 L505.005,346.15999999999997 Z" fill="none" stroke="#ea6250" stroke-width="0.6"/>
<rect x="411.60" y="362.20" width="3.60" height="3.60" fill="#4a90d9" stroke="none" stroke-width="0.8"/>
<rect x="435.00" y="354.50" width="3.60" height="3.60" fill="#4a90d9" stroke="none" stroke-width="0.8"/>
<rect x="458.40" y="345.59" width="3.60" height="3.60" fill="#4a90d9" stroke="none" stroke-width="0.8"/>
<rect x="481.80" y="335.79" width="3.60" height="3.60" fill="#4a90d9" stroke="none" stroke-width="0.8"/>
<rect x="505.20" y="322.19" width="3.60" height="3.60" fill="#4a90d9" stroke="none" stroke-width="0.8"/>
<rect x="411.50" y="362.10" width="3.80" height="3.80" fill="none" stroke="#4a90d9" stroke-width="0.6"/>
<rect x="434.90" y="354.68" width="3.80" height="3.80" fill="none" stroke="#4a90d9" stroke-width="0.6"/>
<rect x="458.30" y="347.10" width="3.80" height="3.80" fill="none" stroke="#4a90d9" stroke-width="0.6"/>
<rect x="481.70" y="338.10" width="3.80" height="3.80" fill="none" stroke="#4a90d9" stroke-width="0.6"/>
<rect x="505.10" y="327.51" width="3.80" height="3.80" fill="none" stroke="#4a90d9" stroke-width="0.6"/>
<line x1="408.00" y1="307.60" x2="418.00" y2="307.60" stroke="#ea6250" stroke-width="0.8" stroke-dasharray="2,1.2"/>
<path d="M413,306.0 L414.71,308.88 L411.29,308.88 Z" fill="#fff" stroke="#ea6250" stroke-width="0.6"/>
<text x="421.60" y="309.50" font-size="5.3" text-anchor="start" font-weight="normal" fill="#222" stroke="#222" stroke-width="0.22">Simulated L</text>
<path d="M413,313.09999999999997 L414.71,315.97999999999996 L411.29,315.97999999999996 Z" fill="#ea6250" stroke="none" stroke-width="0.6"/>
<text x="421.60" y="316.50" font-size="5.3" text-anchor="start" font-weight="normal" fill="#222" stroke="#222" stroke-width="0.22">Measured L</text>
<line x1="468.00" y1="307.60" x2="478.00" y2="307.60" stroke="#5ab8e8" stroke-width="0.8" stroke-dasharray="2,1.2"/>
<rect x="471.40" y="306.00" width="3.20" height="3.20" fill="#fff" stroke="#4a90d9" stroke-width="0.6"/>
<text x="481.00" y="309.50" font-size="5.3" text-anchor="start" font-weight="normal" fill="#222" stroke="#222" stroke-width="0.22">Simulated R</text>
<rect x="471.40" y="313.00" width="3.20" height="3.20" fill="#4a90d9" stroke="none" stroke-width="0.8"/>
<text x="481.00" y="316.50" font-size="5.3" text-anchor="start" font-weight="normal" fill="#222" stroke="#222" stroke-width="0.22">Measured R</text>
<text x="390.50" y="350.50" font-size="6.0" text-anchor="middle" font-weight="normal" fill="#222" stroke="#222" stroke-width="0.22" transform="rotate(-90 390.5 350.5)"><tspan font-style="italic">L</tspan> (μH)</text>
<text x="537.00" y="350.00" font-size="6.0" text-anchor="middle" font-weight="normal" fill="#222" stroke="#222" stroke-width="0.22" transform="rotate(-90 537 350)"><tspan font-style="italic">R</tspan> (Ω)</text>
<text x="460.00" y="416.20" font-size="6.2" text-anchor="middle" font-weight="normal" fill="#222" stroke="#222" stroke-width="0.22">Number of turns</text>
<text transform="translate(538.00,298.40) scale(0.9,1)" font-size="13" font-weight="bold" fill="#000" stroke="#000" stroke-width="0.15">l</text>
<line x1="571.40" y1="302.60" x2="571.40" y2="398.40" stroke="#444" stroke-width="0.8"/>
<line x1="571.40" y1="398.40" x2="666.00" y2="398.40" stroke="#444" stroke-width="0.8"/>
<line x1="571.40" y1="302.60" x2="666.00" y2="302.60" stroke="#444" stroke-width="0.8"/>
<line x1="666.00" y1="302.60" x2="666.00" y2="398.40" stroke="#444" stroke-width="0.8"/>
<line x1="569.40" y1="398.40" x2="571.40" y2="398.40" stroke="#3a3a3a" stroke-width="0.7"/>
<text x="568.40" y="400.38" font-size="5.5" text-anchor="end" font-weight="normal" fill="#222" stroke="#222" stroke-width="0.22">1.0</text>
<line x1="569.40" y1="374.40" x2="571.40" y2="374.40" stroke="#3a3a3a" stroke-width="0.7"/>
<text x="568.40" y="376.38" font-size="5.5" text-anchor="end" font-weight="normal" fill="#222" stroke="#222" stroke-width="0.22">1.5</text>
<line x1="569.40" y1="350.40" x2="571.40" y2="350.40" stroke="#3a3a3a" stroke-width="0.7"/>
<text x="568.40" y="352.38" font-size="5.5" text-anchor="end" font-weight="normal" fill="#222" stroke="#222" stroke-width="0.22">2.0</text>
<line x1="569.40" y1="326.40" x2="571.40" y2="326.40" stroke="#3a3a3a" stroke-width="0.7"/>
<text x="568.40" y="328.38" font-size="5.5" text-anchor="end" font-weight="normal" fill="#222" stroke="#222" stroke-width="0.22">2.5</text>
<line x1="569.40" y1="302.40" x2="571.40" y2="302.40" stroke="#3a3a3a" stroke-width="0.7"/>
<text x="568.40" y="304.38" font-size="5.5" text-anchor="end" font-weight="normal" fill="#222" stroke="#222" stroke-width="0.22">3.0</text>
<line x1="570.20" y1="386.40" x2="571.40" y2="386.40" stroke="#3a3a3a" stroke-width="0.6"/>
<line x1="570.20" y1="362.40" x2="571.40" y2="362.40" stroke="#3a3a3a" stroke-width="0.6"/>
<line x1="570.20" y1="338.40" x2="571.40" y2="338.40" stroke="#3a3a3a" stroke-width="0.6"/>
<line x1="570.20" y1="314.40" x2="571.40" y2="314.40" stroke="#3a3a3a" stroke-width="0.6"/>
<line x1="604.40" y1="398.40" x2="604.40" y2="400.40" stroke="#3a3a3a" stroke-width="0.7"/>
<text x="604.40" y="406.60" font-size="5.6" text-anchor="middle" font-weight="normal" fill="#222" stroke="#222" stroke-width="0.22">10</text>
<line x1="645.40" y1="398.40" x2="645.40" y2="400.40" stroke="#3a3a3a" stroke-width="0.7"/>
<text x="645.40" y="406.60" font-size="5.6" text-anchor="middle" font-weight="normal" fill="#222" stroke="#222" stroke-width="0.22">15</text>
<line x1="583.90" y1="398.40" x2="583.90" y2="399.60" stroke="#3a3a3a" stroke-width="0.6"/>
<line x1="624.90" y1="398.40" x2="624.90" y2="399.60" stroke="#3a3a3a" stroke-width="0.6"/>
<line x1="665.80" y1="398.40" x2="665.80" y2="399.60" stroke="#3a3a3a" stroke-width="0.6"/>
<line x1="571.40" y1="331.00" x2="666.00" y2="313.80" stroke="#ef5f5a" stroke-width="1.1"/>
<line x1="571.40" y1="330.00" x2="666.00" y2="315.40" stroke="#4a9ee0" stroke-width="1.1"/>
<line x1="571.40" y1="329.40" x2="666.00" y2="314.60" stroke="#2dbfb3" stroke-width="1.1"/>
<line x1="571.40" y1="332.20" x2="666.00" y2="317.00" stroke="#d9a6e6" stroke-width="1.1"/>
<line x1="571.40" y1="333.60" x2="666.00" y2="318.80" stroke="#f7a57a" stroke-width="1.1"/>
<line x1="571.40" y1="338.00" x2="666.00" y2="322.40" stroke="#3b4f9e" stroke-width="1.1"/>
<line x1="575.60" y1="357.40" x2="585.00" y2="357.40" stroke="#ef5f5a" stroke-width="0.9"/>
<text x="587.40" y="359.30" font-size="5.4" text-anchor="start" font-weight="normal" fill="#222" stroke="#222" stroke-width="0.22">0%</text>
<line x1="575.60" y1="363.60" x2="585.00" y2="363.60" stroke="#4a9ee0" stroke-width="0.9"/>
<text x="587.40" y="365.50" font-size="5.4" text-anchor="start" font-weight="normal" fill="#222" stroke="#222" stroke-width="0.22">10%</text>
<line x1="575.60" y1="369.80" x2="585.00" y2="369.80" stroke="#2dbfb3" stroke-width="0.9"/>
<text x="587.40" y="371.70" font-size="5.4" text-anchor="start" font-weight="normal" fill="#222" stroke="#222" stroke-width="0.22">20%</text>
<line x1="575.60" y1="376.00" x2="585.00" y2="376.00" stroke="#d9a6e6" stroke-width="0.9"/>
<text x="587.40" y="377.90" font-size="5.4" text-anchor="start" font-weight="normal" fill="#222" stroke="#222" stroke-width="0.22">30%</text>
<line x1="575.60" y1="382.20" x2="585.00" y2="382.20" stroke="#f7a57a" stroke-width="0.9"/>
<text x="587.40" y="384.10" font-size="5.4" text-anchor="start" font-weight="normal" fill="#222" stroke="#222" stroke-width="0.22">40%</text>
<line x1="575.60" y1="388.40" x2="585.00" y2="388.40" stroke="#3b4f9e" stroke-width="0.9"/>
<text x="587.40" y="390.30" font-size="5.4" text-anchor="start" font-weight="normal" fill="#222" stroke="#222" stroke-width="0.22">50%</text>
<rect x="629.00" y="332.60" width="28.00" height="22.00" fill="#c9a8bf" stroke="none" stroke-width="0.8"/>
<path d="M655.5,343.6 L655.4,343.9 L655.2,344.1 L654.8,344.4 L654.4,344.6 L654.1,344.8 L653.9,345.0 L653.9,345.3 L654.0,345.5 L654.2,345.8 L654.4,346.1 L654.6,346.4 L654.6,346.7 L654.5,347.0 L654.1,347.2 L653.7,347.3 L653.2,347.4 L652.8,347.5 L652.4,347.7 L652.2,347.8 L652.1,348.1 L652.1,348.4 L652.1,348.7 L652.1,349.1 L652.1,349.4 L651.8,349.6 L651.5,349.8 L651.1,349.8 L650.5,349.8 L650.0,349.8 L649.6,349.8 L649.2,349.8 L649.0,350.0 L648.8,350.2 L648.6,350.6 L648.5,350.9 L648.2,351.2 L648.0,351.4 L647.6,351.5 L647.2,351.5 L646.7,351.4 L646.3,351.2 L645.8,351.1 L645.4,351.0 L645.1,351.0 L644.8,351.1 L644.4,351.4 L644.1,351.6 L643.8,351.9 L643.4,352.0 L643.0,352.1 L642.6,352.0 L642.2,351.9 L641.9,351.6 L641.6,351.4 L641.2,351.1 L640.9,351.0 L640.6,351.0 L640.2,351.1 L639.7,351.2 L639.3,351.4 L638.8,351.5 L638.4,351.5 L638.0,351.4 L637.8,351.2 L637.5,350.9 L637.4,350.6 L637.2,350.2 L637.0,350.0 L636.8,349.8 L636.4,349.8 L636.0,349.8 L635.5,349.8 L634.9,349.8 L634.5,349.8 L634.2,349.6 L633.9,349.4 L633.9,349.1 L633.9,348.7 L633.9,348.4 L633.9,348.1 L633.8,347.8 L633.6,347.7 L633.2,347.5 L632.8,347.4 L632.3,347.3 L631.9,347.2 L631.5,347.0 L631.4,346.7 L631.4,346.4 L631.6,346.1 L631.8,345.8 L632.0,345.5 L632.1,345.3 L632.1,345.0 L631.9,344.8 L631.6,344.6 L631.2,344.4 L630.8,344.1 L630.6,343.9 L630.5,343.6 L630.6,343.3 L630.8,343.1 L631.2,342.8 L631.6,342.6 L631.9,342.4 L632.1,342.2 L632.1,341.9 L632.0,341.7 L631.8,341.4 L631.6,341.1 L631.4,340.8 L631.4,340.5 L631.5,340.2 L631.9,340.0 L632.3,339.9 L632.8,339.8 L633.2,339.7 L633.6,339.5 L633.8,339.4 L633.9,339.1 L633.9,338.8 L633.9,338.5 L633.9,338.1 L633.9,337.8 L634.2,337.6 L634.5,337.4 L634.9,337.4 L635.5,337.4 L636.0,337.4 L636.4,337.4 L636.8,337.4 L637.0,337.2 L637.2,337.0 L637.4,336.6 L637.5,336.3 L637.8,336.0 L638.0,335.8 L638.4,335.7 L638.8,335.7 L639.3,335.8 L639.7,336.0 L640.2,336.1 L640.6,336.2 L640.9,336.2 L641.2,336.1 L641.6,335.8 L641.9,335.6 L642.2,335.3 L642.6,335.2 L643.0,335.1 L643.4,335.2 L643.8,335.3 L644.1,335.6 L644.4,335.8 L644.8,336.1 L645.1,336.2 L645.4,336.2 L645.8,336.1 L646.3,336.0 L646.7,335.8 L647.2,335.7 L647.6,335.7 L648.0,335.8 L648.2,336.0 L648.5,336.3 L648.6,336.6 L648.8,337.0 L649.0,337.2 L649.2,337.4 L649.6,337.4 L650.0,337.4 L650.5,337.4 L651.1,337.4 L651.5,337.4 L651.8,337.6 L652.1,337.8 L652.1,338.1 L652.1,338.5 L652.1,338.8 L652.1,339.1 L652.2,339.4 L652.4,339.5 L652.8,339.7 L653.2,339.8 L653.7,339.9 L654.1,340.0 L654.5,340.2 L654.6,340.5 L654.6,340.8 L654.4,341.1 L654.2,341.4 L654.0,341.7 L653.9,341.9 L653.9,342.2 L654.1,342.4 L654.4,342.6 L654.8,342.8 L655.2,343.1 L655.4,343.3 L655.5,343.6Z M652.1,343.6 L652.0,343.4 L651.9,343.2 L651.6,343.0 L651.3,342.9 L651.1,342.7 L650.9,342.6 L650.9,342.4 L651.0,342.2 L651.2,342.0 L651.3,341.8 L651.4,341.5 L651.5,341.3 L651.4,341.1 L651.1,341.0 L650.8,340.9 L650.5,340.8 L650.1,340.7 L649.9,340.6 L649.7,340.5 L649.6,340.3 L649.6,340.1 L649.7,339.9 L649.7,339.6 L649.6,339.4 L649.4,339.2 L649.2,339.1 L648.9,339.1 L648.5,339.1 L648.1,339.1 L647.8,339.1 L647.5,339.1 L647.4,338.9 L647.2,338.8 L647.1,338.5 L647.0,338.3 L646.8,338.1 L646.6,337.9 L646.3,337.8 L646.0,337.9 L645.7,337.9 L645.4,338.0 L645.1,338.2 L644.8,338.2 L644.5,338.2 L644.3,338.1 L644.1,337.9 L643.8,337.8 L643.6,337.6 L643.3,337.4 L643.0,337.4 L642.7,337.4 L642.4,337.6 L642.2,337.8 L641.9,337.9 L641.7,338.1 L641.5,338.2 L641.2,338.2 L640.9,338.2 L640.6,338.0 L640.3,337.9 L640.0,337.9 L639.7,337.8 L639.4,337.9 L639.2,338.1 L639.0,338.3 L638.9,338.5 L638.8,338.8 L638.6,338.9 L638.5,339.1 L638.2,339.1 L637.9,339.1 L637.5,339.1 L637.1,339.1 L636.8,339.1 L636.6,339.2 L636.4,339.4 L636.3,339.6 L636.3,339.9 L636.4,340.1 L636.4,340.3 L636.3,340.5 L636.1,340.6 L635.9,340.7 L635.5,340.8 L635.2,340.9 L634.9,341.0 L634.6,341.1 L634.5,341.3 L634.6,341.5 L634.7,341.8 L634.8,342.0 L635.0,342.2 L635.1,342.4 L635.1,342.6 L634.9,342.7 L634.7,342.9 L634.4,343.0 L634.1,343.2 L634.0,343.4 L633.9,343.6 L634.0,343.8 L634.1,344.0 L634.4,344.2 L634.7,344.3 L634.9,344.5 L635.1,344.6 L635.1,344.8 L635.0,345.0 L634.8,345.2 L634.7,345.4 L634.6,345.7 L634.5,345.9 L634.6,346.1 L634.9,346.2 L635.2,346.3 L635.5,346.4 L635.9,346.5 L636.1,346.6 L636.3,346.7 L636.4,346.9 L636.4,347.1 L636.3,347.3 L636.3,347.6 L636.4,347.8 L636.6,348.0 L636.8,348.1 L637.1,348.1 L637.5,348.1 L637.9,348.1 L638.2,348.1 L638.5,348.1 L638.6,348.3 L638.8,348.4 L638.9,348.7 L639.0,348.9 L639.2,349.1 L639.4,349.3 L639.7,349.4 L640.0,349.3 L640.3,349.3 L640.6,349.2 L640.9,349.0 L641.2,349.0 L641.5,349.0 L641.7,349.1 L641.9,349.3 L642.2,349.4 L642.4,349.6 L642.7,349.8 L643.0,349.8 L643.3,349.8 L643.6,349.6 L643.8,349.4 L644.1,349.3 L644.3,349.1 L644.5,349.0 L644.8,349.0 L645.1,349.0 L645.4,349.2 L645.7,349.3 L646.0,349.3 L646.3,349.4 L646.6,349.3 L646.8,349.1 L647.0,348.9 L647.1,348.7 L647.2,348.4 L647.4,348.3 L647.5,348.1 L647.8,348.1 L648.1,348.1 L648.5,348.1 L648.9,348.1 L649.2,348.1 L649.4,348.0 L649.6,347.8 L649.7,347.6 L649.7,347.3 L649.6,347.1 L649.6,346.9 L649.7,346.7 L649.9,346.6 L650.1,346.5 L650.5,346.4 L650.8,346.3 L651.1,346.2 L651.4,346.1 L651.5,345.9 L651.4,345.7 L651.3,345.4 L651.2,345.2 L651.0,345.0 L650.9,344.8 L650.9,344.6 L651.1,344.5 L651.3,344.3 L651.6,344.2 L651.9,344.0 L652.0,343.8 L652.1,343.6Z" fill="#2c2830" stroke="none" stroke-width="0.8" fill-rule="evenodd"/>
<ellipse cx="643" cy="343.6" rx="10.2" ry="6.9" fill="none" stroke="#8a7a88" stroke-width="0.5" stroke-dasharray="0.8,1"/>
<line x1="612.00" y1="355.40" x2="612.00" y2="389.00" stroke="#444" stroke-width="0.6"/>
<line x1="612.00" y1="389.00" x2="659.00" y2="389.00" stroke="#444" stroke-width="0.6"/>
<line x1="610.50" y1="380.40" x2="612.00" y2="380.40" stroke="#3a3a3a" stroke-width="0.7"/>
<text x="609.00" y="382.34" font-size="5.4" text-anchor="end" font-weight="normal" fill="#222" stroke="#222" stroke-width="0.22">2.4</text>
<line x1="610.50" y1="364.00" x2="612.00" y2="364.00" stroke="#3a3a3a" stroke-width="0.7"/>
<text x="609.00" y="365.94" font-size="5.4" text-anchor="end" font-weight="normal" fill="#222" stroke="#222" stroke-width="0.22">2.6</text>
<line x1="624.00" y1="389.00" x2="624.00" y2="390.50" stroke="#3a3a3a" stroke-width="0.7"/>
<text x="624.00" y="396.20" font-size="5.6" text-anchor="middle" font-weight="normal" fill="#222" stroke="#222" stroke-width="0.22">13</text>
<line x1="647.40" y1="389.00" x2="647.40" y2="390.50" stroke="#3a3a3a" stroke-width="0.7"/>
<text x="647.40" y="396.20" font-size="5.6" text-anchor="middle" font-weight="normal" fill="#222" stroke="#222" stroke-width="0.22">14</text>
<line x1="612.30" y1="389.00" x2="612.30" y2="390.20" stroke="#3a3a3a" stroke-width="0.6"/>
<line x1="635.70" y1="389.00" x2="635.70" y2="390.20" stroke="#3a3a3a" stroke-width="0.6"/>
<line x1="659.10" y1="389.00" x2="659.10" y2="390.20" stroke="#3a3a3a" stroke-width="0.6"/>
<path d="M613.5,363.4 L615.9,362.7 L618.2,362.5 L620.6,362.6 L623.0,362.1 L625.4,361.9 L627.8,361.5 L630.2,361.2 L632.6,361.4 L635.0,361.2 L637.3,360.4 L639.7,360.4 L642.1,359.9 L644.5,360.1 L646.9,359.6 L649.3,359.2 L651.7,359.2 L654.0,358.5 L656.4,358.3 L658.8,358.6" fill="none" stroke="#ef5f5a" stroke-width="0.7"/>
<circle cx="613.47" cy="363.42" r="0.80" fill="#ef5f5a" stroke="none" stroke-width="0.8"/>
<circle cx="615.86" cy="362.69" r="0.80" fill="#ef5f5a" stroke="none" stroke-width="0.8"/>
<circle cx="618.24" cy="362.49" r="0.80" fill="#ef5f5a" stroke="none" stroke-width="0.8"/>
<circle cx="620.63" cy="362.56" r="0.80" fill="#ef5f5a" stroke="none" stroke-width="0.8"/>
<circle cx="623.02" cy="362.15" r="0.80" fill="#ef5f5a" stroke="none" stroke-width="0.8"/>
<circle cx="625.40" cy="361.92" r="0.80" fill="#ef5f5a" stroke="none" stroke-width="0.8"/>
<circle cx="627.79" cy="361.53" r="0.80" fill="#ef5f5a" stroke="none" stroke-width="0.8"/>
<circle cx="630.18" cy="361.18" r="0.80" fill="#ef5f5a" stroke="none" stroke-width="0.8"/>
<circle cx="632.56" cy="361.37" r="0.80" fill="#ef5f5a" stroke="none" stroke-width="0.8"/>
<circle cx="634.95" cy="361.16" r="0.80" fill="#ef5f5a" stroke="none" stroke-width="0.8"/>
<circle cx="637.34" cy="360.37" r="0.80" fill="#ef5f5a" stroke="none" stroke-width="0.8"/>
<circle cx="639.72" cy="360.38" r="0.80" fill="#ef5f5a" stroke="none" stroke-width="0.8"/>
<circle cx="642.11" cy="359.90" r="0.80" fill="#ef5f5a" stroke="none" stroke-width="0.8"/>
<circle cx="644.50" cy="360.14" r="0.80" fill="#ef5f5a" stroke="none" stroke-width="0.8"/>
<circle cx="646.89" cy="359.59" r="0.80" fill="#ef5f5a" stroke="none" stroke-width="0.8"/>
<circle cx="649.27" cy="359.15" r="0.80" fill="#ef5f5a" stroke="none" stroke-width="0.8"/>
<circle cx="651.66" cy="359.21" r="0.80" fill="#ef5f5a" stroke="none" stroke-width="0.8"/>
<circle cx="654.05" cy="358.49" r="0.80" fill="#ef5f5a" stroke="none" stroke-width="0.8"/>
<circle cx="656.43" cy="358.26" r="0.80" fill="#ef5f5a" stroke="none" stroke-width="0.8"/>
<circle cx="658.82" cy="358.57" r="0.80" fill="#ef5f5a" stroke="none" stroke-width="0.8"/>
<path d="M613.5,363.9 L615.9,363.3 L618.2,362.8 L620.6,363.0 L623.0,362.8 L625.4,362.5 L627.8,362.5 L630.2,362.1 L632.6,361.7 L635.0,361.5 L637.3,361.4 L639.7,361.2 L642.1,360.9 L644.5,360.5 L646.9,360.4 L649.3,360.3 L651.7,359.6 L654.0,359.5 L656.4,359.2 L658.8,359.3" fill="none" stroke="#2dbfb3" stroke-width="0.7"/>
<circle cx="613.47" cy="363.90" r="0.80" fill="#2dbfb3" stroke="none" stroke-width="0.8"/>
<circle cx="615.86" cy="363.33" r="0.80" fill="#2dbfb3" stroke="none" stroke-width="0.8"/>
<circle cx="618.24" cy="362.83" r="0.80" fill="#2dbfb3" stroke="none" stroke-width="0.8"/>
<circle cx="620.63" cy="362.96" r="0.80" fill="#2dbfb3" stroke="none" stroke-width="0.8"/>
<circle cx="623.02" cy="362.83" r="0.80" fill="#2dbfb3" stroke="none" stroke-width="0.8"/>
<circle cx="625.40" cy="362.45" r="0.80" fill="#2dbfb3" stroke="none" stroke-width="0.8"/>
<circle cx="627.79" cy="362.47" r="0.80" fill="#2dbfb3" stroke="none" stroke-width="0.8"/>
<circle cx="630.18" cy="362.11" r="0.80" fill="#2dbfb3" stroke="none" stroke-width="0.8"/>
<circle cx="632.56" cy="361.73" r="0.80" fill="#2dbfb3" stroke="none" stroke-width="0.8"/>
<circle cx="634.95" cy="361.46" r="0.80" fill="#2dbfb3" stroke="none" stroke-width="0.8"/>
<circle cx="637.34" cy="361.39" r="0.80" fill="#2dbfb3" stroke="none" stroke-width="0.8"/>
<circle cx="639.72" cy="361.16" r="0.80" fill="#2dbfb3" stroke="none" stroke-width="0.8"/>
<circle cx="642.11" cy="360.93" r="0.80" fill="#2dbfb3" stroke="none" stroke-width="0.8"/>
<circle cx="644.50" cy="360.53" r="0.80" fill="#2dbfb3" stroke="none" stroke-width="0.8"/>
<circle cx="646.89" cy="360.40" r="0.80" fill="#2dbfb3" stroke="none" stroke-width="0.8"/>
<circle cx="649.27" cy="360.34" r="0.80" fill="#2dbfb3" stroke="none" stroke-width="0.8"/>
<circle cx="651.66" cy="359.57" r="0.80" fill="#2dbfb3" stroke="none" stroke-width="0.8"/>
<circle cx="654.05" cy="359.52" r="0.80" fill="#2dbfb3" stroke="none" stroke-width="0.8"/>
<circle cx="656.43" cy="359.22" r="0.80" fill="#2dbfb3" stroke="none" stroke-width="0.8"/>
<circle cx="658.82" cy="359.29" r="0.80" fill="#2dbfb3" stroke="none" stroke-width="0.8"/>
<path d="M613.5,366.5 L615.9,366.4 L618.2,366.7 L620.6,366.4 L623.0,365.9 L625.4,365.8 L627.8,365.4 L630.2,365.6 L632.6,365.1 L635.0,365.0 L637.3,365.1 L639.7,364.7 L642.1,364.3 L644.5,364.1 L646.9,364.1 L649.3,363.9 L651.7,364.1 L654.0,363.7 L656.4,363.2 L658.8,363.2" fill="none" stroke="#d9a6e6" stroke-width="0.7"/>
<circle cx="613.47" cy="366.55" r="0.80" fill="#d9a6e6" stroke="none" stroke-width="0.8"/>
<circle cx="615.86" cy="366.44" r="0.80" fill="#d9a6e6" stroke="none" stroke-width="0.8"/>
<circle cx="618.24" cy="366.73" r="0.80" fill="#d9a6e6" stroke="none" stroke-width="0.8"/>
<circle cx="620.63" cy="366.40" r="0.80" fill="#d9a6e6" stroke="none" stroke-width="0.8"/>
<circle cx="623.02" cy="365.95" r="0.80" fill="#d9a6e6" stroke="none" stroke-width="0.8"/>
<circle cx="625.40" cy="365.76" r="0.80" fill="#d9a6e6" stroke="none" stroke-width="0.8"/>
<circle cx="627.79" cy="365.42" r="0.80" fill="#d9a6e6" stroke="none" stroke-width="0.8"/>
<circle cx="630.18" cy="365.56" r="0.80" fill="#d9a6e6" stroke="none" stroke-width="0.8"/>
<circle cx="632.56" cy="365.10" r="0.80" fill="#d9a6e6" stroke="none" stroke-width="0.8"/>
<circle cx="634.95" cy="365.01" r="0.80" fill="#d9a6e6" stroke="none" stroke-width="0.8"/>
<circle cx="637.34" cy="365.06" r="0.80" fill="#d9a6e6" stroke="none" stroke-width="0.8"/>
<circle cx="639.72" cy="364.68" r="0.80" fill="#d9a6e6" stroke="none" stroke-width="0.8"/>
<circle cx="642.11" cy="364.29" r="0.80" fill="#d9a6e6" stroke="none" stroke-width="0.8"/>
<circle cx="644.50" cy="364.12" r="0.80" fill="#d9a6e6" stroke="none" stroke-width="0.8"/>
<circle cx="646.89" cy="364.15" r="0.80" fill="#d9a6e6" stroke="none" stroke-width="0.8"/>
<circle cx="649.27" cy="363.90" r="0.80" fill="#d9a6e6" stroke="none" stroke-width="0.8"/>
<circle cx="651.66" cy="364.07" r="0.80" fill="#d9a6e6" stroke="none" stroke-width="0.8"/>
<circle cx="654.05" cy="363.74" r="0.80" fill="#d9a6e6" stroke="none" stroke-width="0.8"/>
<circle cx="656.43" cy="363.18" r="0.80" fill="#d9a6e6" stroke="none" stroke-width="0.8"/>
<circle cx="658.82" cy="363.24" r="0.80" fill="#d9a6e6" stroke="none" stroke-width="0.8"/>
<path d="M613.5,369.1 L615.9,368.7 L618.2,368.4 L620.6,368.2 L623.0,368.1 L625.4,367.9 L627.8,367.6 L630.2,367.2 L632.6,367.2 L635.0,367.0 L637.3,366.8 L639.7,366.9 L642.1,366.6 L644.5,366.0 L646.9,365.6 L649.3,365.6 L651.7,365.5 L654.0,365.5 L656.4,365.0 L658.8,364.5" fill="none" stroke="#f7a57a" stroke-width="0.7"/>
<circle cx="613.47" cy="369.13" r="0.80" fill="#f7a57a" stroke="none" stroke-width="0.8"/>
<circle cx="615.86" cy="368.67" r="0.80" fill="#f7a57a" stroke="none" stroke-width="0.8"/>
<circle cx="618.24" cy="368.36" r="0.80" fill="#f7a57a" stroke="none" stroke-width="0.8"/>
<circle cx="620.63" cy="368.16" r="0.80" fill="#f7a57a" stroke="none" stroke-width="0.8"/>
<circle cx="623.02" cy="368.14" r="0.80" fill="#f7a57a" stroke="none" stroke-width="0.8"/>
<circle cx="625.40" cy="367.88" r="0.80" fill="#f7a57a" stroke="none" stroke-width="0.8"/>
<circle cx="627.79" cy="367.62" r="0.80" fill="#f7a57a" stroke="none" stroke-width="0.8"/>
<circle cx="630.18" cy="367.23" r="0.80" fill="#f7a57a" stroke="none" stroke-width="0.8"/>
<circle cx="632.56" cy="367.18" r="0.80" fill="#f7a57a" stroke="none" stroke-width="0.8"/>
<circle cx="634.95" cy="367.05" r="0.80" fill="#f7a57a" stroke="none" stroke-width="0.8"/>
<circle cx="637.34" cy="366.77" r="0.80" fill="#f7a57a" stroke="none" stroke-width="0.8"/>
<circle cx="639.72" cy="366.85" r="0.80" fill="#f7a57a" stroke="none" stroke-width="0.8"/>
<circle cx="642.11" cy="366.63" r="0.80" fill="#f7a57a" stroke="none" stroke-width="0.8"/>
<circle cx="644.50" cy="365.98" r="0.80" fill="#f7a57a" stroke="none" stroke-width="0.8"/>
<circle cx="646.89" cy="365.58" r="0.80" fill="#f7a57a" stroke="none" stroke-width="0.8"/>
<circle cx="649.27" cy="365.62" r="0.80" fill="#f7a57a" stroke="none" stroke-width="0.8"/>
<circle cx="651.66" cy="365.54" r="0.80" fill="#f7a57a" stroke="none" stroke-width="0.8"/>
<circle cx="654.05" cy="365.47" r="0.80" fill="#f7a57a" stroke="none" stroke-width="0.8"/>
<circle cx="656.43" cy="365.03" r="0.80" fill="#f7a57a" stroke="none" stroke-width="0.8"/>
<circle cx="658.82" cy="364.50" r="0.80" fill="#f7a57a" stroke="none" stroke-width="0.8"/>
<path d="M613.5,376.1 L615.9,376.1 L618.2,375.7 L620.6,376.0 L623.0,375.6 L625.4,375.1 L627.8,375.2 L630.2,375.1 L632.6,375.1 L635.0,374.7 L637.3,374.3 L639.7,374.7 L642.1,374.0 L644.5,373.8 L646.9,373.6 L649.3,373.6 L651.7,373.3 L654.0,373.4 L656.4,373.2 L658.8,373.1" fill="none" stroke="#3b4f9e" stroke-width="0.7"/>
<circle cx="613.47" cy="376.12" r="0.80" fill="#3b4f9e" stroke="none" stroke-width="0.8"/>
<circle cx="615.86" cy="376.10" r="0.80" fill="#3b4f9e" stroke="none" stroke-width="0.8"/>
<circle cx="618.24" cy="375.72" r="0.80" fill="#3b4f9e" stroke="none" stroke-width="0.8"/>
<circle cx="620.63" cy="375.96" r="0.80" fill="#3b4f9e" stroke="none" stroke-width="0.8"/>
<circle cx="623.02" cy="375.60" r="0.80" fill="#3b4f9e" stroke="none" stroke-width="0.8"/>
<circle cx="625.40" cy="375.14" r="0.80" fill="#3b4f9e" stroke="none" stroke-width="0.8"/>
<circle cx="627.79" cy="375.21" r="0.80" fill="#3b4f9e" stroke="none" stroke-width="0.8"/>
<circle cx="630.18" cy="375.12" r="0.80" fill="#3b4f9e" stroke="none" stroke-width="0.8"/>
<circle cx="632.56" cy="375.07" r="0.80" fill="#3b4f9e" stroke="none" stroke-width="0.8"/>
<circle cx="634.95" cy="374.71" r="0.80" fill="#3b4f9e" stroke="none" stroke-width="0.8"/>
<circle cx="637.34" cy="374.27" r="0.80" fill="#3b4f9e" stroke="none" stroke-width="0.8"/>
<circle cx="639.72" cy="374.73" r="0.80" fill="#3b4f9e" stroke="none" stroke-width="0.8"/>
<circle cx="642.11" cy="374.04" r="0.80" fill="#3b4f9e" stroke="none" stroke-width="0.8"/>
<circle cx="644.50" cy="373.85" r="0.80" fill="#3b4f9e" stroke="none" stroke-width="0.8"/>
<circle cx="646.89" cy="373.63" r="0.80" fill="#3b4f9e" stroke="none" stroke-width="0.8"/>
<circle cx="649.27" cy="373.55" r="0.80" fill="#3b4f9e" stroke="none" stroke-width="0.8"/>
<circle cx="651.66" cy="373.34" r="0.80" fill="#3b4f9e" stroke="none" stroke-width="0.8"/>
<circle cx="654.05" cy="373.35" r="0.80" fill="#3b4f9e" stroke="none" stroke-width="0.8"/>
<circle cx="656.43" cy="373.15" r="0.80" fill="#3b4f9e" stroke="none" stroke-width="0.8"/>
<circle cx="658.82" cy="373.07" r="0.80" fill="#3b4f9e" stroke="none" stroke-width="0.8"/>
<text x="556.00" y="343.00" font-size="6.3" text-anchor="middle" font-weight="normal" fill="#222" stroke="#222" stroke-width="0.22" transform="rotate(-90 556 343)">Equivalent inductance (μH)</text>
<text x="619.00" y="415.80" font-size="6.0" text-anchor="middle" font-weight="normal" fill="#222" stroke="#222" stroke-width="0.22">Frequency (MHz)</text>
<text transform="translate(135.00,439.40) scale(0.9,1)" font-size="13" font-weight="bold" fill="#000" stroke="#000" stroke-width="0.15">n</text>
<line x1="156.40" y1="444.60" x2="156.40" y2="541.00" stroke="#444" stroke-width="0.8"/>
<line x1="156.40" y1="541.00" x2="251.40" y2="541.00" stroke="#444" stroke-width="0.8"/>
<line x1="156.40" y1="444.60" x2="251.40" y2="444.60" stroke="#444" stroke-width="0.8"/>
<line x1="251.40" y1="444.60" x2="251.40" y2="541.00" stroke="#444" stroke-width="0.8"/>
<line x1="154.40" y1="453.60" x2="156.40" y2="453.60" stroke="#3a3a3a" stroke-width="0.7"/>
<text x="153.40" y="455.58" font-size="5.5" text-anchor="end" font-weight="normal" fill="#222" stroke="#222" stroke-width="0.22">0</text>
<line x1="154.40" y1="471.00" x2="156.40" y2="471.00" stroke="#3a3a3a" stroke-width="0.7"/>
<text x="153.40" y="472.98" font-size="5.5" text-anchor="end" font-weight="normal" fill="#222" stroke="#222" stroke-width="0.22">-2</text>
<line x1="154.40" y1="488.40" x2="156.40" y2="488.40" stroke="#3a3a3a" stroke-width="0.7"/>
<text x="153.40" y="490.38" font-size="5.5" text-anchor="end" font-weight="normal" fill="#222" stroke="#222" stroke-width="0.22">-4</text>
<line x1="154.40" y1="505.80" x2="156.40" y2="505.80" stroke="#3a3a3a" stroke-width="0.7"/>
<text x="153.40" y="507.78" font-size="5.5" text-anchor="end" font-weight="normal" fill="#222" stroke="#222" stroke-width="0.22">-6</text>
<line x1="154.40" y1="523.20" x2="156.40" y2="523.20" stroke="#3a3a3a" stroke-width="0.7"/>
<text x="153.40" y="525.18" font-size="5.5" text-anchor="end" font-weight="normal" fill="#222" stroke="#222" stroke-width="0.22">-8</text>
<line x1="154.40" y1="540.60" x2="156.40" y2="540.60" stroke="#3a3a3a" stroke-width="0.7"/>
<text x="153.40" y="542.58" font-size="5.5" text-anchor="end" font-weight="normal" fill="#222" stroke="#222" stroke-width="0.22">-10</text>
<line x1="155.20" y1="462.30" x2="156.40" y2="462.30" stroke="#3a3a3a" stroke-width="0.6"/>
<line x1="155.20" y1="479.70" x2="156.40" y2="479.70" stroke="#3a3a3a" stroke-width="0.6"/>
<line x1="155.20" y1="497.10" x2="156.40" y2="497.10" stroke="#3a3a3a" stroke-width="0.6"/>
<line x1="155.20" y1="514.50" x2="156.40" y2="514.50" stroke="#3a3a3a" stroke-width="0.6"/>
<line x1="155.20" y1="531.90" x2="156.40" y2="531.90" stroke="#3a3a3a" stroke-width="0.6"/>
<line x1="172.40" y1="541.00" x2="172.40" y2="543.00" stroke="#3a3a3a" stroke-width="0.7"/>
<text x="172.40" y="549.20" font-size="5.6" text-anchor="middle" font-weight="normal" fill="#222" stroke="#222" stroke-width="0.22">5</text>
<line x1="192.05" y1="541.00" x2="192.05" y2="543.00" stroke="#3a3a3a" stroke-width="0.7"/>
<text x="192.05" y="549.20" font-size="5.6" text-anchor="middle" font-weight="normal" fill="#222" stroke="#222" stroke-width="0.22">10</text>
<line x1="211.70" y1="541.00" x2="211.70" y2="543.00" stroke="#3a3a3a" stroke-width="0.7"/>
<text x="211.70" y="549.20" font-size="5.6" text-anchor="middle" font-weight="normal" fill="#222" stroke="#222" stroke-width="0.22">15</text>
<line x1="231.35" y1="541.00" x2="231.35" y2="543.00" stroke="#3a3a3a" stroke-width="0.7"/>
<text x="231.35" y="549.20" font-size="5.6" text-anchor="middle" font-weight="normal" fill="#222" stroke="#222" stroke-width="0.22">20</text>
<line x1="251.00" y1="541.00" x2="251.00" y2="543.00" stroke="#3a3a3a" stroke-width="0.7"/>
<text x="251.00" y="549.20" font-size="5.6" text-anchor="middle" font-weight="normal" fill="#222" stroke="#222" stroke-width="0.22">25</text>
<line x1="162.58" y1="541.00" x2="162.58" y2="542.20" stroke="#3a3a3a" stroke-width="0.6"/>
<line x1="182.22" y1="541.00" x2="182.22" y2="542.20" stroke="#3a3a3a" stroke-width="0.6"/>
<line x1="201.88" y1="541.00" x2="201.88" y2="542.20" stroke="#3a3a3a" stroke-width="0.6"/>
<line x1="221.53" y1="541.00" x2="221.53" y2="542.20" stroke="#3a3a3a" stroke-width="0.6"/>
<line x1="241.18" y1="541.00" x2="241.18" y2="542.20" stroke="#3a3a3a" stroke-width="0.6"/>
<line x1="206.40" y1="444.60" x2="206.40" y2="541.00" stroke="#f4a4a4" stroke-width="0.8" stroke-dasharray="2,1.5"/>
<path d="M156.4,453.6 L156.8,453.6 L157.2,453.7 L157.6,453.7 L158.0,453.8 L158.4,453.8 L158.8,453.8 L159.2,453.9 L159.6,453.9 L160.0,454.0 L160.4,454.1 L160.8,454.1 L161.2,454.2 L161.5,454.2 L161.9,454.3 L162.3,454.3 L162.7,454.4 L163.1,454.5 L163.5,454.5 L163.9,454.6 L164.3,454.7 L164.7,454.7 L165.1,454.8 L165.5,454.9 L165.9,455.0 L166.3,455.0 L166.7,455.1 L167.1,455.2 L167.5,455.3 L167.9,455.4 L168.3,455.5 L168.7,455.6 L169.1,455.7 L169.5,455.8 L169.9,455.9 L170.3,456.0 L170.7,456.1 L171.0,456.2 L171.4,456.3 L171.8,456.4 L172.2,456.5 L172.6,456.7 L173.0,456.8 L173.4,456.9 L173.8,457.1 L174.2,457.2 L174.6,457.3 L175.0,457.5 L175.4,457.7 L175.8,457.8 L176.2,458.0 L176.6,458.2 L177.0,458.3 L177.4,458.5 L177.8,458.7 L178.2,458.9 L178.6,459.1 L179.0,459.3 L179.4,459.5 L179.8,459.8 L180.2,460.0 L180.5,460.3 L180.9,460.5 L181.3,460.8 L181.7,461.1 L182.1,461.3 L182.5,461.6 L182.9,461.9 L183.3,462.3 L183.7,462.6 L184.1,463.0 L184.5,463.3 L184.9,463.7 L185.3,464.1 L185.7,464.5 L186.1,464.9 L186.5,465.4 L186.9,465.8 L187.3,466.3 L187.7,466.9 L188.1,467.4 L188.5,467.9 L188.9,468.5 L189.3,469.1 L189.7,469.8 L190.0,470.5 L190.4,471.2 L190.8,471.9 L191.2,472.7 L191.6,473.5 L192.0,474.3 L192.4,475.2 L192.8,476.2 L193.2,477.1 L193.6,478.2 L194.0,479.2 L194.4,480.4 L194.8,481.6 L195.2,482.8 L195.6,484.1 L196.0,485.4 L196.4,486.9 L196.8,488.3 L197.2,489.9 L197.6,491.5 L198.0,493.2 L198.4,494.9 L198.8,496.7 L199.2,498.6 L199.5,500.5 L199.9,502.5 L200.3,504.5 L200.7,506.5 L201.1,508.6 L201.5,510.7 L201.9,512.8 L202.3,514.9 L202.7,516.9 L203.1,518.9 L203.5,520.8 L203.9,522.6 L204.3,524.3 L204.7,525.8 L205.1,527.1 L205.5,528.3 L205.9,529.2 L206.3,529.9 L206.7,530.4 L207.1,530.6 L207.5,530.6 L207.9,530.5 L208.3,530.3 L208.7,530.0 L209.0,529.6 L209.4,529.2 L209.8,528.7 L210.2,528.0 L210.6,527.4 L211.0,526.6 L211.4,525.8 L211.8,525.0 L212.2,524.0 L212.6,523.1 L213.0,522.1 L213.4,521.0 L213.8,519.9 L214.2,518.8 L214.6,517.7 L215.0,516.5 L215.4,515.4 L215.8,514.2 L216.2,513.0 L216.6,511.8 L217.0,510.6 L217.4,509.4 L217.8,508.2 L218.2,507.0 L218.5,505.8 L218.9,504.7 L219.3,503.5 L219.7,502.4 L220.1,501.3 L220.5,500.2 L220.9,499.1 L221.3,498.0 L221.7,497.0 L222.1,496.0 L222.5,495.0 L222.9,494.0 L223.3,493.0 L223.7,492.1 L224.1,491.2 L224.5,490.3 L224.9,489.4 L225.3,488.6 L225.7,487.7 L226.1,486.9 L226.5,486.2 L226.9,485.4 L227.3,484.7 L227.7,483.9 L228.0,483.2 L228.4,482.6 L228.8,481.9 L229.2,481.2 L229.6,480.6 L230.0,480.0 L230.4,479.4 L230.8,478.8 L231.2,478.3 L231.6,477.7 L232.0,477.2 L232.4,476.7 L232.8,476.2 L233.2,475.7 L233.6,475.2 L234.0,474.8 L234.4,474.3 L234.8,473.9 L235.2,473.5 L235.6,473.1 L236.0,472.7 L236.4,472.3 L236.8,471.9 L237.2,471.5 L237.5,471.2 L237.9,470.8 L238.3,470.5 L238.7,470.1 L239.1,469.8 L239.5,469.5 L239.9,469.2 L240.3,468.9 L240.7,468.6 L241.1,468.3 L241.5,468.1 L241.9,467.8 L242.3,467.5 L242.7,467.3 L243.1,467.0 L243.5,466.8 L243.9,466.6 L244.3,466.3 L244.7,466.1 L245.1,465.9 L245.5,465.7 L245.9,465.5 L246.3,465.3 L246.7,465.1 L247.0,464.9 L247.4,464.7 L247.8,464.5 L248.2,464.3 L248.6,464.1 L249.0,464.0 L249.4,463.8 L249.8,463.6 L250.2,463.5 L250.6,463.3 L251.0,463.2 L251.4,463.0" fill="none" stroke="#ef6f6a" stroke-width="0.8"/>
<path d="M156.4,453.6 L156.8,453.6 L157.2,453.7 L157.6,453.7 L158.0,453.7 L158.4,453.8 L158.8,453.8 L159.2,453.9 L159.6,453.9 L160.0,454.0 L160.4,454.0 L160.8,454.1 L161.2,454.1 L161.5,454.2 L161.9,454.3 L162.3,454.3 L162.7,454.4 L163.1,454.4 L163.5,454.5 L163.9,454.6 L164.3,454.6 L164.7,454.7 L165.1,454.8 L165.5,454.8 L165.9,454.9 L166.3,455.0 L166.7,455.1 L167.1,455.1 L167.5,455.2 L167.9,455.3 L168.3,455.4 L168.7,455.5 L169.1,455.6 L169.5,455.7 L169.9,455.8 L170.3,455.9 L170.7,456.0 L171.0,456.1 L171.4,456.2 L171.8,456.3 L172.2,456.4 L172.6,456.5 L173.0,456.6 L173.4,456.8 L173.8,456.9 L174.2,457.0 L174.6,457.2 L175.0,457.3 L175.4,457.4 L175.8,457.6 L176.2,457.8 L176.6,457.9 L177.0,458.1 L177.4,458.3 L177.8,458.4 L178.2,458.6 L178.6,458.8 L179.0,459.0 L179.4,459.2 L179.8,459.4 L180.2,459.7 L180.5,459.9 L180.9,460.1 L181.3,460.4 L181.7,460.6 L182.1,460.9 L182.5,461.2 L182.9,461.5 L183.3,461.8 L183.7,462.1 L184.1,462.4 L184.5,462.7 L184.9,463.1 L185.3,463.5 L185.7,463.8 L186.1,464.2 L186.5,464.6 L186.9,465.1 L187.3,465.5 L187.7,466.0 L188.1,466.5 L188.5,467.0 L188.9,467.6 L189.3,468.1 L189.7,468.7 L190.0,469.3 L190.4,470.0 L190.8,470.7 L191.2,471.4 L191.6,472.1 L192.0,472.9 L192.4,473.7 L192.8,474.6 L193.2,475.5 L193.6,476.4 L194.0,477.4 L194.4,478.5 L194.8,479.6 L195.2,480.7 L195.6,481.9 L196.0,483.1 L196.4,484.5 L196.8,485.8 L197.2,487.3 L197.6,488.8 L198.0,490.3 L198.4,492.0 L198.8,493.6 L199.2,495.4 L199.5,497.2 L199.9,499.1 L200.3,501.0 L200.7,503.0 L201.1,505.0 L201.5,507.0 L201.9,509.1 L202.3,511.1 L202.7,513.2 L203.1,515.2 L203.5,517.2 L203.9,519.1 L204.3,521.0 L204.7,522.7 L205.1,524.2 L205.5,525.7 L205.9,526.9 L206.3,527.9 L206.7,528.7 L207.1,529.3 L207.5,529.6 L207.9,529.7 L208.3,529.7 L208.7,529.5 L209.0,529.3 L209.4,529.0 L209.8,528.5 L210.2,528.1 L210.6,527.5 L211.0,526.9 L211.4,526.2 L211.8,525.4 L212.2,524.6 L212.6,523.7 L213.0,522.8 L213.4,521.8 L213.8,520.8 L214.2,519.7 L214.6,518.6 L215.0,517.5 L215.4,516.4 L215.8,515.2 L216.2,514.1 L216.6,512.9 L217.0,511.7 L217.4,510.5 L217.8,509.3 L218.2,508.2 L218.5,507.0 L218.9,505.8 L219.3,504.7 L219.7,503.5 L220.1,502.4 L220.5,501.3 L220.9,500.2 L221.3,499.1 L221.7,498.0 L222.1,497.0 L222.5,496.0 L222.9,495.0 L223.3,494.0 L223.7,493.0 L224.1,492.1 L224.5,491.2 L224.9,490.3 L225.3,489.4 L225.7,488.6 L226.1,487.8 L226.5,487.0 L226.9,486.2 L227.3,485.4 L227.7,484.7 L228.0,483.9 L228.4,483.2 L228.8,482.6 L229.2,481.9 L229.6,481.2 L230.0,480.6 L230.4,480.0 L230.8,479.4 L231.2,478.8 L231.6,478.3 L232.0,477.7 L232.4,477.2 L232.8,476.7 L233.2,476.2 L233.6,475.7 L234.0,475.2 L234.4,474.8 L234.8,474.3 L235.2,473.9 L235.6,473.4 L236.0,473.0 L236.4,472.6 L236.8,472.2 L237.2,471.9 L237.5,471.5 L237.9,471.1 L238.3,470.8 L238.7,470.4 L239.1,470.1 L239.5,469.8 L239.9,469.5 L240.3,469.2 L240.7,468.9 L241.1,468.6 L241.5,468.3 L241.9,468.0 L242.3,467.8 L242.7,467.5 L243.1,467.2 L243.5,467.0 L243.9,466.8 L244.3,466.5 L244.7,466.3 L245.1,466.1 L245.5,465.8 L245.9,465.6 L246.3,465.4 L246.7,465.2 L247.0,465.0 L247.4,464.8 L247.8,464.6 L248.2,464.5 L248.6,464.3 L249.0,464.1 L249.4,463.9 L249.8,463.8 L250.2,463.6 L250.6,463.4 L251.0,463.3 L251.4,463.1" fill="none" stroke="#5aa8e8" stroke-width="0.8"/>
<path d="M156.4,453.6 L156.8,453.6 L157.2,453.7 L157.6,453.7 L158.0,453.7 L158.4,453.8 L158.8,453.8 L159.2,453.9 L159.6,453.9 L160.0,454.0 L160.4,454.0 L160.8,454.1 L161.2,454.1 L161.5,454.2 L161.9,454.2 L162.3,454.3 L162.7,454.3 L163.1,454.4 L163.5,454.5 L163.9,454.5 L164.3,454.6 L164.7,454.7 L165.1,454.7 L165.5,454.8 L165.9,454.9 L166.3,454.9 L166.7,455.0 L167.1,455.1 L167.5,455.2 L167.9,455.2 L168.3,455.3 L168.7,455.4 L169.1,455.5 L169.5,455.6 L169.9,455.7 L170.3,455.8 L170.7,455.9 L171.0,456.0 L171.4,456.1 L171.8,456.2 L172.2,456.3 L172.6,456.4 L173.0,456.5 L173.4,456.7 L173.8,456.8 L174.2,456.9 L174.6,457.0 L175.0,457.2 L175.4,457.3 L175.8,457.5 L176.2,457.6 L176.6,457.8 L177.0,457.9 L177.4,458.1 L177.8,458.3 L178.2,458.4 L178.6,458.6 L179.0,458.8 L179.4,459.0 L179.8,459.2 L180.2,459.4 L180.5,459.7 L180.9,459.9 L181.3,460.1 L181.7,460.4 L182.1,460.6 L182.5,460.9 L182.9,461.2 L183.3,461.5 L183.7,461.7 L184.1,462.1 L184.5,462.4 L184.9,462.7 L185.3,463.1 L185.7,463.4 L186.1,463.8 L186.5,464.2 L186.9,464.6 L187.3,465.1 L187.7,465.5 L188.1,466.0 L188.5,466.5 L188.9,467.0 L189.3,467.5 L189.7,468.1 L190.0,468.7 L190.4,469.3 L190.8,469.9 L191.2,470.6 L191.6,471.3 L192.0,472.1 L192.4,472.8 L192.8,473.6 L193.2,474.5 L193.6,475.4 L194.0,476.3 L194.4,477.3 L194.8,478.4 L195.2,479.4 L195.6,480.6 L196.0,481.8 L196.4,483.0 L196.8,484.3 L197.2,485.7 L197.6,487.1 L198.0,488.6 L198.4,490.1 L198.8,491.8 L199.2,493.4 L199.5,495.2 L199.9,497.0 L200.3,498.8 L200.7,500.8 L201.1,502.7 L201.5,504.7 L201.9,506.7 L202.3,508.8 L202.7,510.8 L203.1,512.9 L203.5,514.9 L203.9,516.9 L204.3,518.8 L204.7,520.6 L205.1,522.3 L205.5,523.9 L205.9,525.3 L206.3,526.5 L206.7,527.5 L207.1,528.3 L207.5,528.9 L207.9,529.2 L208.3,529.3 L208.7,529.2 L209.0,529.1 L209.4,528.8 L209.8,528.5 L210.2,528.1 L210.6,527.6 L211.0,527.1 L211.4,526.5 L211.8,525.8 L212.2,525.0 L212.6,524.2 L213.0,523.3 L213.4,522.4 L213.8,521.4 L214.2,520.4 L214.6,519.3 L215.0,518.3 L215.4,517.1 L215.8,516.0 L216.2,514.9 L216.6,513.7 L217.0,512.5 L217.4,511.4 L217.8,510.2 L218.2,509.0 L218.5,507.8 L218.9,506.7 L219.3,505.5 L219.7,504.4 L220.1,503.2 L220.5,502.1 L220.9,501.0 L221.3,499.9 L221.7,498.8 L222.1,497.8 L222.5,496.7 L222.9,495.7 L223.3,494.7 L223.7,493.8 L224.1,492.8 L224.5,491.9 L224.9,491.0 L225.3,490.1 L225.7,489.2 L226.1,488.4 L226.5,487.6 L226.9,486.8 L227.3,486.0 L227.7,485.2 L228.0,484.5 L228.4,483.8 L228.8,483.1 L229.2,482.4 L229.6,481.7 L230.0,481.1 L230.4,480.5 L230.8,479.8 L231.2,479.3 L231.6,478.7 L232.0,478.1 L232.4,477.6 L232.8,477.1 L233.2,476.5 L233.6,476.0 L234.0,475.6 L234.4,475.1 L234.8,474.6 L235.2,474.2 L235.6,473.7 L236.0,473.3 L236.4,472.9 L236.8,472.5 L237.2,472.1 L237.5,471.8 L237.9,471.4 L238.3,471.0 L238.7,470.7 L239.1,470.3 L239.5,470.0 L239.9,469.7 L240.3,469.4 L240.7,469.1 L241.1,468.8 L241.5,468.5 L241.9,468.2 L242.3,467.9 L242.7,467.7 L243.1,467.4 L243.5,467.2 L243.9,466.9 L244.3,466.7 L244.7,466.4 L245.1,466.2 L245.5,466.0 L245.9,465.8 L246.3,465.6 L246.7,465.4 L247.0,465.2 L247.4,465.0 L247.8,464.8 L248.2,464.6 L248.6,464.4 L249.0,464.2 L249.4,464.0 L249.8,463.9 L250.2,463.7 L250.6,463.5 L251.0,463.4 L251.4,463.2" fill="none" stroke="#4cc4c0" stroke-width="0.8"/>
<path d="M156.4,453.6 L156.8,453.6 L157.2,453.7 L157.6,453.7 L158.0,453.7 L158.4,453.8 L158.8,453.8 L159.2,453.9 L159.6,453.9 L160.0,454.0 L160.4,454.0 L160.8,454.1 L161.2,454.1 L161.5,454.2 L161.9,454.2 L162.3,454.3 L162.7,454.3 L163.1,454.4 L163.5,454.5 L163.9,454.5 L164.3,454.6 L164.7,454.6 L165.1,454.7 L165.5,454.8 L165.9,454.8 L166.3,454.9 L166.7,455.0 L167.1,455.1 L167.5,455.1 L167.9,455.2 L168.3,455.3 L168.7,455.4 L169.1,455.5 L169.5,455.6 L169.9,455.6 L170.3,455.7 L170.7,455.8 L171.0,455.9 L171.4,456.0 L171.8,456.1 L172.2,456.3 L172.6,456.4 L173.0,456.5 L173.4,456.6 L173.8,456.7 L174.2,456.8 L174.6,457.0 L175.0,457.1 L175.4,457.2 L175.8,457.4 L176.2,457.5 L176.6,457.7 L177.0,457.8 L177.4,458.0 L177.8,458.2 L178.2,458.3 L178.6,458.5 L179.0,458.7 L179.4,458.9 L179.8,459.1 L180.2,459.3 L180.5,459.5 L180.9,459.8 L181.3,460.0 L181.7,460.2 L182.1,460.5 L182.5,460.7 L182.9,461.0 L183.3,461.3 L183.7,461.6 L184.1,461.9 L184.5,462.2 L184.9,462.5 L185.3,462.9 L185.7,463.2 L186.1,463.6 L186.5,464.0 L186.9,464.4 L187.3,464.8 L187.7,465.2 L188.1,465.7 L188.5,466.2 L188.9,466.7 L189.3,467.2 L189.7,467.7 L190.0,468.3 L190.4,468.9 L190.8,469.5 L191.2,470.2 L191.6,470.9 L192.0,471.6 L192.4,472.4 L192.8,473.1 L193.2,474.0 L193.6,474.8 L194.0,475.8 L194.4,476.7 L194.8,477.7 L195.2,478.8 L195.6,479.9 L196.0,481.0 L196.4,482.2 L196.8,483.5 L197.2,484.8 L197.6,486.2 L198.0,487.7 L198.4,489.2 L198.8,490.7 L199.2,492.4 L199.5,494.1 L199.9,495.8 L200.3,497.7 L200.7,499.5 L201.1,501.5 L201.5,503.4 L201.9,505.4 L202.3,507.5 L202.7,509.5 L203.1,511.5 L203.5,513.6 L203.9,515.5 L204.3,517.5 L204.7,519.3 L205.1,521.1 L205.5,522.7 L205.9,524.2 L206.3,525.5 L206.7,526.6 L207.1,527.5 L207.5,528.2 L207.9,528.7 L208.3,528.8 L208.7,528.8 L209.0,528.7 L209.4,528.5 L209.8,528.3 L210.2,527.9 L210.6,527.5 L211.0,526.9 L211.4,526.4 L211.8,525.7 L212.2,525.0 L212.6,524.2 L213.0,523.3 L213.4,522.4 L213.8,521.5 L214.2,520.5 L214.6,519.5 L215.0,518.4 L215.4,517.3 L215.8,516.2 L216.2,515.1 L216.6,513.9 L217.0,512.8 L217.4,511.6 L217.8,510.4 L218.2,509.3 L218.5,508.1 L218.9,506.9 L219.3,505.8 L219.7,504.6 L220.1,503.5 L220.5,502.4 L220.9,501.3 L221.3,500.2 L221.7,499.1 L222.1,498.0 L222.5,497.0 L222.9,496.0 L223.3,495.0 L223.7,494.0 L224.1,493.0 L224.5,492.1 L224.9,491.2 L225.3,490.3 L225.7,489.4 L226.1,488.6 L226.5,487.8 L226.9,487.0 L227.3,486.2 L227.7,485.4 L228.0,484.7 L228.4,483.9 L228.8,483.2 L229.2,482.6 L229.6,481.9 L230.0,481.2 L230.4,480.6 L230.8,480.0 L231.2,479.4 L231.6,478.8 L232.0,478.3 L232.4,477.7 L232.8,477.2 L233.2,476.7 L233.6,476.2 L234.0,475.7 L234.4,475.2 L234.8,474.7 L235.2,474.3 L235.6,473.8 L236.0,473.4 L236.4,473.0 L236.8,472.6 L237.2,472.2 L237.5,471.8 L237.9,471.5 L238.3,471.1 L238.7,470.8 L239.1,470.4 L239.5,470.1 L239.9,469.8 L240.3,469.4 L240.7,469.1 L241.1,468.8 L241.5,468.6 L241.9,468.3 L242.3,468.0 L242.7,467.7 L243.1,467.5 L243.5,467.2 L243.9,467.0 L244.3,466.7 L244.7,466.5 L245.1,466.3 L245.5,466.0 L245.9,465.8 L246.3,465.6 L246.7,465.4 L247.0,465.2 L247.4,465.0 L247.8,464.8 L248.2,464.6 L248.6,464.4 L249.0,464.2 L249.4,464.1 L249.8,463.9 L250.2,463.7 L250.6,463.6 L251.0,463.4 L251.4,463.2" fill="none" stroke="#e0b8e8" stroke-width="0.8"/>
<path d="M156.4,453.6 L156.8,453.6 L157.2,453.7 L157.6,453.7 L158.0,453.7 L158.4,453.8 L158.8,453.8 L159.2,453.9 L159.6,453.9 L160.0,454.0 L160.4,454.0 L160.8,454.1 L161.2,454.2 L161.5,454.2 L161.9,454.3 L162.3,454.3 L162.7,454.4 L163.1,454.5 L163.5,454.5 L163.9,454.6 L164.3,454.7 L164.7,454.7 L165.1,454.8 L165.5,454.9 L165.9,454.9 L166.3,455.0 L166.7,455.1 L167.1,455.2 L167.5,455.3 L167.9,455.4 L168.3,455.4 L168.7,455.5 L169.1,455.6 L169.5,455.7 L169.9,455.8 L170.3,455.9 L170.7,456.0 L171.0,456.1 L171.4,456.2 L171.8,456.4 L172.2,456.5 L172.6,456.6 L173.0,456.7 L173.4,456.9 L173.8,457.0 L174.2,457.1 L174.6,457.3 L175.0,457.4 L175.4,457.6 L175.8,457.7 L176.2,457.9 L176.6,458.1 L177.0,458.2 L177.4,458.4 L177.8,458.6 L178.2,458.8 L178.6,459.0 L179.0,459.2 L179.4,459.4 L179.8,459.6 L180.2,459.9 L180.5,460.1 L180.9,460.4 L181.3,460.6 L181.7,460.9 L182.1,461.2 L182.5,461.5 L182.9,461.8 L183.3,462.1 L183.7,462.4 L184.1,462.7 L184.5,463.1 L184.9,463.5 L185.3,463.9 L185.7,464.3 L186.1,464.7 L186.5,465.1 L186.9,465.6 L187.3,466.0 L187.7,466.5 L188.1,467.1 L188.5,467.6 L188.9,468.2 L189.3,468.8 L189.7,469.4 L190.0,470.0 L190.4,470.7 L190.8,471.4 L191.2,472.2 L191.6,473.0 L192.0,473.8 L192.4,474.7 L192.8,475.6 L193.2,476.5 L193.6,477.5 L194.0,478.6 L194.4,479.7 L194.8,480.8 L195.2,482.0 L195.6,483.3 L196.0,484.6 L196.4,486.0 L196.8,487.4 L197.2,488.9 L197.6,490.5 L198.0,492.1 L198.4,493.8 L198.8,495.6 L199.2,497.4 L199.5,499.3 L199.9,501.2 L200.3,503.2 L200.7,505.2 L201.1,507.3 L201.5,509.4 L201.9,511.4 L202.3,513.5 L202.7,515.5 L203.1,517.5 L203.5,519.5 L203.9,521.3 L204.3,523.0 L204.7,524.6 L205.1,526.1 L205.5,527.3 L205.9,528.4 L206.3,529.2 L206.7,529.8 L207.1,530.1 L207.5,530.2 L207.9,530.1 L208.3,529.9 L208.7,529.7 L209.0,529.4 L209.4,529.0 L209.8,528.5 L210.2,527.9 L210.6,527.3 L211.0,526.6 L211.4,525.8 L211.8,525.0 L212.2,524.1 L212.6,523.2 L213.0,522.2 L213.4,521.2 L213.8,520.1 L214.2,519.0 L214.6,517.9 L215.0,516.7 L215.4,515.6 L215.8,514.4 L216.2,513.2 L216.6,512.0 L217.0,510.9 L217.4,509.7 L217.8,508.5 L218.2,507.3 L218.5,506.1 L218.9,505.0 L219.3,503.8 L219.7,502.7 L220.1,501.5 L220.5,500.4 L220.9,499.4 L221.3,498.3 L221.7,497.2 L222.1,496.2 L222.5,495.2 L222.9,494.2 L223.3,493.3 L223.7,492.3 L224.1,491.4 L224.5,490.5 L224.9,489.6 L225.3,488.8 L225.7,488.0 L226.1,487.1 L226.5,486.4 L226.9,485.6 L227.3,484.8 L227.7,484.1 L228.0,483.4 L228.4,482.7 L228.8,482.1 L229.2,481.4 L229.6,480.8 L230.0,480.2 L230.4,479.6 L230.8,479.0 L231.2,478.4 L231.6,477.9 L232.0,477.3 L232.4,476.8 L232.8,476.3 L233.2,475.8 L233.6,475.3 L234.0,474.9 L234.4,474.4 L234.8,474.0 L235.2,473.6 L235.6,473.1 L236.0,472.7 L236.4,472.4 L236.8,472.0 L237.2,471.6 L237.5,471.2 L237.9,470.9 L238.3,470.5 L238.7,470.2 L239.1,469.9 L239.5,469.6 L239.9,469.3 L240.3,469.0 L240.7,468.7 L241.1,468.4 L241.5,468.1 L241.9,467.8 L242.3,467.6 L242.7,467.3 L243.1,467.1 L243.5,466.8 L243.9,466.6 L244.3,466.4 L244.7,466.1 L245.1,465.9 L245.5,465.7 L245.9,465.5 L246.3,465.3 L246.7,465.1 L247.0,464.9 L247.4,464.7 L247.8,464.5 L248.2,464.3 L248.6,464.2 L249.0,464.0 L249.4,463.8 L249.8,463.7 L250.2,463.5 L250.6,463.3 L251.0,463.2 L251.4,463.0" fill="none" stroke="#f8b090" stroke-width="0.8"/>
<path d="M156.4,453.6 L156.8,453.6 L157.2,453.7 L157.6,453.7 L158.0,453.7 L158.4,453.8 L158.8,453.8 L159.2,453.9 L159.6,453.9 L160.0,454.0 L160.4,454.0 L160.8,454.0 L161.2,454.1 L161.5,454.2 L161.9,454.2 L162.3,454.3 L162.7,454.3 L163.1,454.4 L163.5,454.4 L163.9,454.5 L164.3,454.5 L164.7,454.6 L165.1,454.7 L165.5,454.7 L165.9,454.8 L166.3,454.9 L166.7,454.9 L167.1,455.0 L167.5,455.1 L167.9,455.2 L168.3,455.2 L168.7,455.3 L169.1,455.4 L169.5,455.5 L169.9,455.6 L170.3,455.7 L170.7,455.8 L171.0,455.8 L171.4,455.9 L171.8,456.0 L172.2,456.2 L172.6,456.3 L173.0,456.4 L173.4,456.5 L173.8,456.6 L174.2,456.7 L174.6,456.8 L175.0,457.0 L175.4,457.1 L175.8,457.2 L176.2,457.4 L176.6,457.5 L177.0,457.7 L177.4,457.8 L177.8,458.0 L178.2,458.2 L178.6,458.3 L179.0,458.5 L179.4,458.7 L179.8,458.9 L180.2,459.1 L180.5,459.3 L180.9,459.5 L181.3,459.7 L181.7,459.9 L182.1,460.2 L182.5,460.4 L182.9,460.7 L183.3,461.0 L183.7,461.2 L184.1,461.5 L184.5,461.8 L184.9,462.1 L185.3,462.4 L185.7,462.8 L186.1,463.1 L186.5,463.5 L186.9,463.9 L187.3,464.3 L187.7,464.7 L188.1,465.1 L188.5,465.6 L188.9,466.1 L189.3,466.6 L189.7,467.1 L190.0,467.6 L190.4,468.2 L190.8,468.8 L191.2,469.4 L191.6,470.0 L192.0,470.7 L192.4,471.4 L192.8,472.2 L193.2,473.0 L193.6,473.8 L194.0,474.6 L194.4,475.5 L194.8,476.5 L195.2,477.5 L195.6,478.5 L196.0,479.6 L196.4,480.7 L196.8,481.9 L197.2,483.2 L197.6,484.5 L198.0,485.9 L198.4,487.3 L198.8,488.8 L199.2,490.4 L199.5,492.0 L199.9,493.6 L200.3,495.4 L200.7,497.2 L201.1,499.0 L201.5,500.9 L201.9,502.9 L202.3,504.9 L202.7,506.9 L203.1,508.9 L203.5,510.9 L203.9,512.9 L204.3,514.8 L204.7,516.7 L205.1,518.6 L205.5,520.3 L205.9,521.9 L206.3,523.4 L206.7,524.7 L207.1,525.8 L207.5,526.7 L207.9,527.4 L208.3,527.8 L208.7,528.0 L209.0,528.0 L209.4,527.9 L209.8,527.7 L210.2,527.4 L210.6,527.0 L211.0,526.6 L211.4,526.1 L211.8,525.5 L212.2,524.9 L212.6,524.1 L213.0,523.4 L213.4,522.5 L213.8,521.6 L214.2,520.7 L214.6,519.7 L215.0,518.7 L215.4,517.7 L215.8,516.6 L216.2,515.5 L216.6,514.4 L217.0,513.2 L217.4,512.1 L217.8,510.9 L218.2,509.8 L218.5,508.6 L218.9,507.5 L219.3,506.3 L219.7,505.2 L220.1,504.0 L220.5,502.9 L220.9,501.8 L221.3,500.7 L221.7,499.6 L222.1,498.6 L222.5,497.5 L222.9,496.5 L223.3,495.5 L223.7,494.5 L224.1,493.5 L224.5,492.6 L224.9,491.7 L225.3,490.8 L225.7,489.9 L226.1,489.0 L226.5,488.2 L226.9,487.4 L227.3,486.6 L227.7,485.8 L228.0,485.0 L228.4,484.3 L228.8,483.6 L229.2,482.9 L229.6,482.2 L230.0,481.6 L230.4,480.9 L230.8,480.3 L231.2,479.7 L231.6,479.1 L232.0,478.5 L232.4,478.0 L232.8,477.4 L233.2,476.9 L233.6,476.4 L234.0,475.9 L234.4,475.4 L234.8,474.9 L235.2,474.5 L235.6,474.0 L236.0,473.6 L236.4,473.2 L236.8,472.8 L237.2,472.4 L237.5,472.0 L237.9,471.6 L238.3,471.3 L238.7,470.9 L239.1,470.6 L239.5,470.2 L239.9,469.9 L240.3,469.6 L240.7,469.3 L241.1,469.0 L241.5,468.7 L241.9,468.4 L242.3,468.1 L242.7,467.8 L243.1,467.6 L243.5,467.3 L243.9,467.1 L244.3,466.8 L244.7,466.6 L245.1,466.3 L245.5,466.1 L245.9,465.9 L246.3,465.7 L246.7,465.5 L247.0,465.3 L247.4,465.1 L247.8,464.9 L248.2,464.7 L248.6,464.5 L249.0,464.3 L249.4,464.1 L249.8,463.9 L250.2,463.8 L250.6,463.6 L251.0,463.4 L251.4,463.3" fill="none" stroke="#40509e" stroke-width="0.8"/>
<line x1="159.00" y1="501.40" x2="169.00" y2="501.40" stroke="#ef6f6a" stroke-width="0.9"/>
<text x="171.00" y="503.20" font-size="5.0" text-anchor="start" font-weight="normal" fill="#222" stroke="#222" stroke-width="0.22">0% stretch</text>
<line x1="159.00" y1="507.60" x2="169.00" y2="507.60" stroke="#5aa8e8" stroke-width="0.9"/>
<text x="171.00" y="509.40" font-size="5.0" text-anchor="start" font-weight="normal" fill="#222" stroke="#222" stroke-width="0.22">10% stretch</text>
<line x1="159.00" y1="513.80" x2="169.00" y2="513.80" stroke="#4cc4c0" stroke-width="0.9"/>
<text x="171.00" y="515.60" font-size="5.0" text-anchor="start" font-weight="normal" fill="#222" stroke="#222" stroke-width="0.22">20% stretch</text>
<line x1="159.00" y1="520.00" x2="169.00" y2="520.00" stroke="#e0b8e8" stroke-width="0.9"/>
<text x="171.00" y="521.80" font-size="5.0" text-anchor="start" font-weight="normal" fill="#222" stroke="#222" stroke-width="0.22">30% stretch</text>
<line x1="159.00" y1="526.20" x2="169.00" y2="526.20" stroke="#f8b090" stroke-width="0.9"/>
<text x="171.00" y="528.00" font-size="5.0" text-anchor="start" font-weight="normal" fill="#222" stroke="#222" stroke-width="0.22">40% stretch</text>
<line x1="159.00" y1="532.40" x2="169.00" y2="532.40" stroke="#40509e" stroke-width="0.9"/>
<text x="171.00" y="534.20" font-size="5.0" text-anchor="start" font-weight="normal" fill="#222" stroke="#222" stroke-width="0.22">50% stretch</text>
<text x="141.00" y="489.00" font-size="6.2" text-anchor="middle" font-weight="normal" fill="#222" stroke="#222" stroke-width="0.22" transform="rotate(-90 141 489)">S11 (dB)</text>
<text x="203.00" y="558.00" font-size="6.2" text-anchor="middle" font-weight="normal" fill="#222" stroke="#222" stroke-width="0.22">Frequency (MHz)</text>
<text transform="translate(428.00,439.40) scale(0.9,1)" font-size="13" font-weight="bold" fill="#000" stroke="#000" stroke-width="0.15">p</text>
<line x1="452.00" y1="444.60" x2="452.00" y2="541.00" stroke="#444" stroke-width="0.8"/>
<line x1="452.00" y1="541.00" x2="546.40" y2="541.00" stroke="#444" stroke-width="0.8"/>
<line x1="452.00" y1="444.60" x2="546.40" y2="444.60" stroke="#444" stroke-width="0.8"/>
<line x1="546.40" y1="444.60" x2="546.40" y2="541.00" stroke="#444" stroke-width="0.8"/>
<line x1="450.00" y1="540.80" x2="452.00" y2="540.80" stroke="#3a3a3a" stroke-width="0.7"/>
<text x="449.00" y="542.78" font-size="5.5" text-anchor="end" font-weight="normal" fill="#222" stroke="#222" stroke-width="0.22">-10</text>
<line x1="450.00" y1="521.60" x2="452.00" y2="521.60" stroke="#3a3a3a" stroke-width="0.7"/>
<text x="449.00" y="523.58" font-size="5.5" text-anchor="end" font-weight="normal" fill="#222" stroke="#222" stroke-width="0.22">0</text>
<line x1="450.00" y1="502.40" x2="452.00" y2="502.40" stroke="#3a3a3a" stroke-width="0.7"/>
<text x="449.00" y="504.38" font-size="5.5" text-anchor="end" font-weight="normal" fill="#222" stroke="#222" stroke-width="0.22">10</text>
<line x1="450.00" y1="483.20" x2="452.00" y2="483.20" stroke="#3a3a3a" stroke-width="0.7"/>
<text x="449.00" y="485.18" font-size="5.5" text-anchor="end" font-weight="normal" fill="#222" stroke="#222" stroke-width="0.22">20</text>
<line x1="450.00" y1="464.00" x2="452.00" y2="464.00" stroke="#3a3a3a" stroke-width="0.7"/>
<text x="449.00" y="465.98" font-size="5.5" text-anchor="end" font-weight="normal" fill="#222" stroke="#222" stroke-width="0.22">30</text>
<line x1="450.00" y1="444.80" x2="452.00" y2="444.80" stroke="#3a3a3a" stroke-width="0.7"/>
<text x="449.00" y="446.78" font-size="5.5" text-anchor="end" font-weight="normal" fill="#222" stroke="#222" stroke-width="0.22">40</text>
<line x1="450.80" y1="531.20" x2="452.00" y2="531.20" stroke="#3a3a3a" stroke-width="0.6"/>
<line x1="450.80" y1="512.00" x2="452.00" y2="512.00" stroke="#3a3a3a" stroke-width="0.6"/>
<line x1="450.80" y1="492.80" x2="452.00" y2="492.80" stroke="#3a3a3a" stroke-width="0.6"/>
<line x1="450.80" y1="473.60" x2="452.00" y2="473.60" stroke="#3a3a3a" stroke-width="0.6"/>
<line x1="450.80" y1="454.40" x2="452.00" y2="454.40" stroke="#3a3a3a" stroke-width="0.6"/>
<line x1="454.60" y1="541.00" x2="454.60" y2="543.00" stroke="#3a3a3a" stroke-width="0.7"/>
<text x="454.60" y="548.60" font-size="5.6" text-anchor="middle" font-weight="normal" fill="#222" stroke="#222" stroke-width="0.22">0</text>
<line x1="480.15" y1="541.00" x2="480.15" y2="543.00" stroke="#3a3a3a" stroke-width="0.7"/>
<text x="480.15" y="548.60" font-size="5.6" text-anchor="middle" font-weight="normal" fill="#222" stroke="#222" stroke-width="0.22">500</text>
<line x1="505.70" y1="541.00" x2="505.70" y2="543.00" stroke="#3a3a3a" stroke-width="0.7"/>
<text x="505.70" y="548.60" font-size="5.6" text-anchor="middle" font-weight="normal" fill="#222" stroke="#222" stroke-width="0.22">1000</text>
<line x1="531.25" y1="541.00" x2="531.25" y2="543.00" stroke="#3a3a3a" stroke-width="0.7"/>
<text x="531.25" y="548.60" font-size="5.6" text-anchor="middle" font-weight="normal" fill="#222" stroke="#222" stroke-width="0.22">1500</text>
<line x1="467.38" y1="541.00" x2="467.38" y2="542.20" stroke="#3a3a3a" stroke-width="0.6"/>
<line x1="492.93" y1="541.00" x2="492.93" y2="542.20" stroke="#3a3a3a" stroke-width="0.6"/>
<line x1="518.48" y1="541.00" x2="518.48" y2="542.20" stroke="#3a3a3a" stroke-width="0.6"/>
<line x1="544.02" y1="541.00" x2="544.02" y2="542.20" stroke="#3a3a3a" stroke-width="0.6"/>
<circle cx="454.60" cy="520.64" r="2.10" fill="#ea6250" stroke="none" stroke-width="0.8"/>
<circle cx="454.60" cy="521.60" r="2.10" fill="#5aa8e4" stroke="none" stroke-width="0.8"/>
<circle cx="459.71" cy="520.92" r="2.10" fill="#ea6250" stroke="none" stroke-width="0.8"/>
<circle cx="459.71" cy="521.35" r="2.10" fill="#5aa8e4" stroke="none" stroke-width="0.8"/>
<circle cx="464.82" cy="521.19" r="2.10" fill="#ea6250" stroke="none" stroke-width="0.8"/>
<circle cx="464.82" cy="521.05" r="2.10" fill="#5aa8e4" stroke="none" stroke-width="0.8"/>
<circle cx="469.93" cy="521.47" r="2.10" fill="#ea6250" stroke="none" stroke-width="0.8"/>
<circle cx="469.93" cy="520.75" r="2.10" fill="#5aa8e4" stroke="none" stroke-width="0.8"/>
<circle cx="475.04" cy="521.74" r="2.10" fill="#ea6250" stroke="none" stroke-width="0.8"/>
<circle cx="475.04" cy="520.43" r="2.10" fill="#5aa8e4" stroke="none" stroke-width="0.8"/>
<circle cx="480.15" cy="522.02" r="2.10" fill="#ea6250" stroke="none" stroke-width="0.8"/>
<circle cx="480.15" cy="520.10" r="2.10" fill="#5aa8e4" stroke="none" stroke-width="0.8"/>
<circle cx="485.26" cy="522.30" r="2.10" fill="#ea6250" stroke="none" stroke-width="0.8"/>
<circle cx="485.26" cy="519.77" r="2.10" fill="#5aa8e4" stroke="none" stroke-width="0.8"/>
<circle cx="490.37" cy="522.57" r="2.10" fill="#ea6250" stroke="none" stroke-width="0.8"/>
<circle cx="490.37" cy="519.43" r="2.10" fill="#5aa8e4" stroke="none" stroke-width="0.8"/>
<circle cx="495.48" cy="522.85" r="2.10" fill="#ea6250" stroke="none" stroke-width="0.8"/>
<circle cx="495.48" cy="519.09" r="2.10" fill="#5aa8e4" stroke="none" stroke-width="0.8"/>
<circle cx="500.59" cy="523.12" r="2.10" fill="#ea6250" stroke="none" stroke-width="0.8"/>
<circle cx="500.59" cy="518.75" r="2.10" fill="#5aa8e4" stroke="none" stroke-width="0.8"/>
<circle cx="505.70" cy="523.40" r="2.10" fill="#ea6250" stroke="none" stroke-width="0.8"/>
<circle cx="505.70" cy="518.39" r="2.10" fill="#5aa8e4" stroke="none" stroke-width="0.8"/>
<circle cx="510.81" cy="523.68" r="2.10" fill="#ea6250" stroke="none" stroke-width="0.8"/>
<circle cx="510.81" cy="518.04" r="2.10" fill="#5aa8e4" stroke="none" stroke-width="0.8"/>
<circle cx="515.92" cy="523.95" r="2.10" fill="#ea6250" stroke="none" stroke-width="0.8"/>
<circle cx="515.92" cy="517.68" r="2.10" fill="#5aa8e4" stroke="none" stroke-width="0.8"/>
<circle cx="521.03" cy="524.23" r="2.10" fill="#ea6250" stroke="none" stroke-width="0.8"/>
<circle cx="521.03" cy="517.32" r="2.10" fill="#5aa8e4" stroke="none" stroke-width="0.8"/>
<circle cx="526.14" cy="524.50" r="2.10" fill="#ea6250" stroke="none" stroke-width="0.8"/>
<circle cx="526.14" cy="516.96" r="2.10" fill="#5aa8e4" stroke="none" stroke-width="0.8"/>
<circle cx="531.25" cy="524.78" r="2.10" fill="#ea6250" stroke="none" stroke-width="0.8"/>
<circle cx="531.25" cy="516.59" r="2.10" fill="#5aa8e4" stroke="none" stroke-width="0.8"/>
<circle cx="536.36" cy="525.06" r="2.10" fill="#ea6250" stroke="none" stroke-width="0.8"/>
<circle cx="536.36" cy="516.22" r="2.10" fill="#5aa8e4" stroke="none" stroke-width="0.8"/>
<circle cx="463.40" cy="454.00" r="2.10" fill="#5aa8e4" stroke="none" stroke-width="0.8"/>
<text x="471.00" y="455.80" font-size="5.3" text-anchor="start" font-weight="normal" fill="#222" stroke="#222" stroke-width="0.22">ΔR/R<tspan dy="1.32" font-size="3.71">0</tspan><tspan dy="-1.32"></tspan></text>
<circle cx="463.40" cy="462.40" r="2.10" fill="#ea6250" stroke="none" stroke-width="0.8"/>
<text x="471.00" y="464.20" font-size="5.3" text-anchor="start" font-weight="normal" fill="#222" stroke="#222" stroke-width="0.22">ΔL/L<tspan dy="1.32" font-size="3.71">0</tspan><tspan dy="-1.32"></tspan></text>
<rect x="466.60" y="479.00" width="19.00" height="19.40" fill="#82a6e6" stroke="none" stroke-width="0.8"/>
<circle cx="476.10" cy="488.70" r="6.20" fill="none" stroke="#c8ccd8" stroke-width="1.3" stroke-dasharray="0.8,0.6"/>
<path d="M512.4,475 Q524.7,482 537,475 Q531,488.3 537,501.6 Q524.7,494.6 512.4,501.6 Q518.4,488.3 512.4,475 Z" fill="#82a6e6" stroke="none" stroke-width="0.8"/>
<ellipse cx="524.7" cy="488.3" rx="5.5" ry="3.6" fill="none" stroke="#c8ccd8" stroke-width="1.2" stroke-dasharray="0.8,0.6"/>
<rect x="523.20" y="487.50" width="3.00" height="1.60" fill="#fff" stroke="none" stroke-width="0.8"/>
<text x="500.50" y="485.20" font-size="6.0" text-anchor="middle" font-weight="normal" fill="#222" stroke="#222" stroke-width="0.22">40% strain</text>
<line x1="489.00" y1="487.60" x2="512.00" y2="487.60" stroke="#666" stroke-width="0.5"/>
<path d="M512,487.6 l-2,-1 l0,2 Z" fill="#666" stroke="none" stroke-width="0.8"/>
<line x1="489.00" y1="489.60" x2="512.00" y2="489.60" stroke="#666" stroke-width="0.5"/>
<path d="M489,489.6 l2,-1 l0,2 Z" fill="#666" stroke="none" stroke-width="0.8"/>
<text x="500.00" y="495.40" font-size="6.0" text-anchor="middle" font-weight="normal" fill="#222" stroke="#222" stroke-width="0.22">Release</text>
<text x="438.20" y="490.00" font-size="6.3" text-anchor="middle" font-weight="normal" fill="#222" stroke="#222" stroke-width="0.22" transform="rotate(-90 438.2 490)">Change rate (%)</text>
<text x="499.00" y="557.80" font-size="6.2" text-anchor="middle" font-weight="normal" fill="#222" stroke="#222" stroke-width="0.22">Cycle number (#)</text>
<text transform="translate(551.60,440.00) scale(0.9,1)" font-size="13" font-weight="bold" fill="#000" stroke="#000" stroke-width="0.15">q</text>
<line x1="571.60" y1="444.60" x2="571.60" y2="541.00" stroke="#444" stroke-width="0.8"/>
<line x1="571.60" y1="541.00" x2="666.00" y2="541.00" stroke="#444" stroke-width="0.8"/>
<line x1="571.60" y1="444.60" x2="666.00" y2="444.60" stroke="#9a9a9a" stroke-width="1.1"/>
<line x1="666.00" y1="444.60" x2="666.00" y2="541.00" stroke="#9a9a9a" stroke-width="1.1"/>
<line x1="569.60" y1="541.00" x2="571.60" y2="541.00" stroke="#3a3a3a" stroke-width="0.7"/>
<text x="568.60" y="542.98" font-size="5.5" text-anchor="end" font-weight="normal" fill="#222" stroke="#222" stroke-width="0.22">1.0</text>
<line x1="569.60" y1="521.70" x2="571.60" y2="521.70" stroke="#3a3a3a" stroke-width="0.7"/>
<text x="568.60" y="523.68" font-size="5.5" text-anchor="end" font-weight="normal" fill="#222" stroke="#222" stroke-width="0.22">1.1</text>
<line x1="569.60" y1="502.40" x2="571.60" y2="502.40" stroke="#3a3a3a" stroke-width="0.7"/>
<text x="568.60" y="504.38" font-size="5.5" text-anchor="end" font-weight="normal" fill="#222" stroke="#222" stroke-width="0.22">1.2</text>
<line x1="569.60" y1="483.10" x2="571.60" y2="483.10" stroke="#3a3a3a" stroke-width="0.7"/>
<text x="568.60" y="485.08" font-size="5.5" text-anchor="end" font-weight="normal" fill="#222" stroke="#222" stroke-width="0.22">1.3</text>
<line x1="569.60" y1="463.80" x2="571.60" y2="463.80" stroke="#3a3a3a" stroke-width="0.7"/>
<text x="568.60" y="465.78" font-size="5.5" text-anchor="end" font-weight="normal" fill="#222" stroke="#222" stroke-width="0.22">1.4</text>
<line x1="569.60" y1="444.50" x2="571.60" y2="444.50" stroke="#3a3a3a" stroke-width="0.7"/>
<text x="568.60" y="446.48" font-size="5.5" text-anchor="end" font-weight="normal" fill="#222" stroke="#222" stroke-width="0.22">1.5</text>
<line x1="570.40" y1="531.35" x2="571.60" y2="531.35" stroke="#3a3a3a" stroke-width="0.6"/>
<line x1="570.40" y1="512.05" x2="571.60" y2="512.05" stroke="#3a3a3a" stroke-width="0.6"/>
<line x1="570.40" y1="492.75" x2="571.60" y2="492.75" stroke="#3a3a3a" stroke-width="0.6"/>
<line x1="570.40" y1="473.45" x2="571.60" y2="473.45" stroke="#3a3a3a" stroke-width="0.6"/>
<line x1="570.40" y1="454.15" x2="571.60" y2="454.15" stroke="#3a3a3a" stroke-width="0.6"/>
<line x1="666.00" y1="458.40" x2="668.00" y2="458.40" stroke="#9a9a9a" stroke-width="0.8"/>
<text x="669.00" y="460.40" font-size="5.5" text-anchor="start" font-weight="normal" fill="#222" stroke="#222" stroke-width="0.22">0.0</text>
<line x1="666.00" y1="485.90" x2="668.00" y2="485.90" stroke="#9a9a9a" stroke-width="0.8"/>
<text x="669.00" y="487.90" font-size="5.5" text-anchor="start" font-weight="normal" fill="#222" stroke="#222" stroke-width="0.22">-0.1</text>
<line x1="666.00" y1="513.40" x2="668.00" y2="513.40" stroke="#9a9a9a" stroke-width="0.8"/>
<text x="669.00" y="515.40" font-size="5.5" text-anchor="start" font-weight="normal" fill="#222" stroke="#222" stroke-width="0.22">-0.2</text>
<line x1="666.00" y1="540.90" x2="668.00" y2="540.90" stroke="#9a9a9a" stroke-width="0.8"/>
<text x="669.00" y="542.90" font-size="5.5" text-anchor="start" font-weight="normal" fill="#222" stroke="#222" stroke-width="0.22">-0.3</text>
<line x1="666.00" y1="472.15" x2="667.20" y2="472.15" stroke="#9a9a9a" stroke-width="0.6"/>
<line x1="666.00" y1="499.65" x2="667.20" y2="499.65" stroke="#9a9a9a" stroke-width="0.6"/>
<line x1="666.00" y1="527.15" x2="667.20" y2="527.15" stroke="#9a9a9a" stroke-width="0.6"/>
<line x1="579.00" y1="541.00" x2="579.00" y2="543.00" stroke="#3a3a3a" stroke-width="0.7"/>
<text x="579.00" y="548.60" font-size="5.5" text-anchor="middle" font-weight="normal" fill="#222" stroke="#222" stroke-width="0.22">Flat</text>
<line x1="595.00" y1="541.00" x2="595.00" y2="543.00" stroke="#3a3a3a" stroke-width="0.7"/>
<text x="595.00" y="548.60" font-size="5.5" text-anchor="middle" font-weight="normal" fill="#222" stroke="#222" stroke-width="0.22">73</text>
<line x1="611.00" y1="541.00" x2="611.00" y2="543.00" stroke="#3a3a3a" stroke-width="0.7"/>
<text x="611.00" y="548.60" font-size="5.5" text-anchor="middle" font-weight="normal" fill="#222" stroke="#222" stroke-width="0.22">45</text>
<line x1="626.60" y1="541.00" x2="626.60" y2="543.00" stroke="#3a3a3a" stroke-width="0.7"/>
<text x="626.60" y="548.60" font-size="5.5" text-anchor="middle" font-weight="normal" fill="#222" stroke="#222" stroke-width="0.22">32</text>
<line x1="642.40" y1="541.00" x2="642.40" y2="543.00" stroke="#3a3a3a" stroke-width="0.7"/>
<text x="642.40" y="548.60" font-size="5.5" text-anchor="middle" font-weight="normal" fill="#222" stroke="#222" stroke-width="0.22">21</text>
<line x1="658.00" y1="541.00" x2="658.00" y2="543.00" stroke="#3a3a3a" stroke-width="0.7"/>
<text x="658.00" y="548.60" font-size="5.5" text-anchor="middle" font-weight="normal" fill="#222" stroke="#222" stroke-width="0.22">14</text>
<path d="M579.00,458.60 C581.67,458.70 589.67,459.13 595.00,459.20 C600.33,459.27 605.73,458.70 611.00,459.00 C616.27,459.30 621.37,459.00 626.60,461.00 C631.83,463.00 637.17,468.17 642.40,471.00 C647.63,473.83 655.40,476.83 658.00,478.00" fill="none" stroke="#ea6250" stroke-width="0.9"/>
<path d="M579.00,490.00 C581.67,490.23 589.67,490.57 595.00,491.40 C600.33,492.23 605.73,494.40 611.00,495.00 C616.27,495.60 621.37,492.57 626.60,495.00 C631.83,497.43 637.17,506.43 642.40,509.60 C647.63,512.77 655.40,513.27 658.00,514.00" fill="none" stroke="#4aa3e2" stroke-width="0.9"/>
<circle cx="579.00" cy="458.60" r="2.10" fill="none" stroke="#ea6250" stroke-width="0.7"/>
<circle cx="595.00" cy="459.20" r="2.10" fill="none" stroke="#ea6250" stroke-width="0.7"/>
<circle cx="611.00" cy="459.00" r="2.10" fill="none" stroke="#ea6250" stroke-width="0.7"/>
<circle cx="626.60" cy="461.00" r="2.10" fill="none" stroke="#ea6250" stroke-width="0.7"/>
<circle cx="642.40" cy="471.00" r="2.10" fill="none" stroke="#ea6250" stroke-width="0.7"/>
<circle cx="658.00" cy="478.00" r="2.10" fill="none" stroke="#ea6250" stroke-width="0.7"/>
<circle cx="579.00" cy="490.00" r="2.10" fill="none" stroke="#4aa3e2" stroke-width="0.7"/>
<circle cx="595.00" cy="491.40" r="2.10" fill="none" stroke="#4aa3e2" stroke-width="0.7"/>
<circle cx="611.00" cy="495.00" r="2.10" fill="none" stroke="#4aa3e2" stroke-width="0.7"/>
<circle cx="626.60" cy="495.00" r="2.10" fill="none" stroke="#4aa3e2" stroke-width="0.7"/>
<circle cx="642.40" cy="509.60" r="2.10" fill="none" stroke="#4aa3e2" stroke-width="0.7"/>
<circle cx="658.00" cy="514.00" r="2.10" fill="none" stroke="#4aa3e2" stroke-width="0.7"/>
<rect x="603.20" y="506.90" width="31.90" height="25.10" fill="#bd9db3" stroke="none" stroke-width="0.8"/>
<path d="M603.2,519 L615,532 L603.2,532 Z" fill="#987a8c" stroke="none" stroke-width="0.8"/>
<path d="M634,520 L635.1,532 L626,532 Z" fill="#a88a9c" stroke="none" stroke-width="0.8"/>
<path d="M609,510 Q620,507.5 632,518 Q626,525 621.5,532 L614,532 Q611,524 608,518 Q606,513 609,510 Z" fill="#f3cdeb" stroke="none" stroke-width="0.8"/>
<path d="M610,513 Q611,520 614,523 Q618,526 621,522 Q625,519 630,518.5" fill="none" stroke="#6e5a68" stroke-width="1.8" stroke-dasharray="1.4,0.7"/>
<path d="M627,522.5 Q630,521 630.8,524 L628,532 L624,532 Z" fill="#2a2026" stroke="none" stroke-width="0.8"/>
<path d="M659,483.5 Q651,482.5 651.5,486.5 Q652,490 658,489.5" fill="none" stroke="#a8b8d0" stroke-width="2.0"/>
<path d="M657.5,487.6 l3,1.8 l-3,1.8 Z" fill="#7aa0d8" stroke="none" stroke-width="0.8"/>
<path d="M584.5,493.5 Q592,494 591.5,497.5 Q591,500.5 583,500.5" fill="none" stroke="#a8b8d0" stroke-width="2.0"/>
<path d="M584,498.6 l-3,1.9 l3,1.9 Z" fill="#7aa0d8" stroke="none" stroke-width="0.8"/>
<text x="557.80" y="492.00" font-size="6.1" text-anchor="middle" font-weight="normal" fill="#222" stroke="#222" stroke-width="0.22" transform="rotate(-90 557.8 492)">Q value</text>
<text x="681.50" y="492.00" font-size="6.0" text-anchor="middle" font-weight="normal" fill="#222" stroke="#222" stroke-width="0.22" transform="rotate(90 681.5 492)">ΔF/F</text>
<text x="619.00" y="557.80" font-size="6.3" text-anchor="middle" font-weight="normal" fill="#222" stroke="#222" stroke-width="0.22"><tspan font-style="italic">r</tspan> of bending radius (mm)</text>
<text transform="translate(-0.30,9.60) scale(0.9,1)" font-size="13" font-weight="bold" fill="#000" stroke="#000" stroke-width="0.15">a</text>
<path d="M19.69,23.69 L20.60,19.58 L21.39,19.74 L22.11,23.69 Z" fill="#ecc4d8" stroke="none" stroke-width="0.8"/>
<path d="M22.69,36.29 L23.50,40.07 L24.34,39.90 L25.11,36.29 Z" fill="#ecc4d8" stroke="none" stroke-width="0.8"/>
<path d="M25.59,24.00 L26.50,19.89 L27.29,20.05 L28.01,24.00 Z" fill="#ecc4d8" stroke="none" stroke-width="0.8"/>
<path d="M28.59,36.38 L29.40,40.16 L30.24,39.99 L31.01,36.38 Z" fill="#ecc4d8" stroke="none" stroke-width="0.8"/>
<path d="M31.49,24.31 L32.40,20.20 L33.20,20.37 L33.91,24.31 Z" fill="#ecc4d8" stroke="none" stroke-width="0.8"/>
<path d="M34.49,36.47 L35.30,40.25 L36.14,40.09 L36.91,36.47 Z" fill="#ecc4d8" stroke="none" stroke-width="0.8"/>
<path d="M37.39,24.62 L38.30,20.51 L39.09,20.68 L39.81,24.62 Z" fill="#ecc4d8" stroke="none" stroke-width="0.8"/>
<path d="M40.39,36.57 L41.20,40.35 L42.04,40.18 L42.81,36.57 Z" fill="#ecc4d8" stroke="none" stroke-width="0.8"/>
<path d="M43.29,24.93 L44.20,20.82 L44.99,20.99 L45.71,24.93 Z" fill="#ecc4d8" stroke="none" stroke-width="0.8"/>
<path d="M46.29,36.66 L47.10,40.44 L47.94,40.28 L48.71,36.66 Z" fill="#ecc4d8" stroke="none" stroke-width="0.8"/>
<path d="M49.19,25.25 L50.10,21.14 L50.89,21.30 L51.61,25.25 Z" fill="#ecc4d8" stroke="none" stroke-width="0.8"/>
<path d="M52.19,36.75 L53.00,40.53 L53.84,40.37 L54.61,36.75 Z" fill="#ecc4d8" stroke="none" stroke-width="0.8"/>
<path d="M55.09,25.56 L56.00,21.45 L56.80,21.61 L57.51,25.56 Z" fill="#ecc4d8" stroke="none" stroke-width="0.8"/>
<path d="M58.09,36.85 L58.90,40.63 L59.74,40.46 L60.51,36.85 Z" fill="#ecc4d8" stroke="none" stroke-width="0.8"/>
<path d="M60.99,25.87 L61.90,21.76 L62.70,21.93 L63.41,25.87 Z" fill="#ecc4d8" stroke="none" stroke-width="0.8"/>
<path d="M63.99,36.94 L64.80,40.72 L65.64,40.56 L66.41,36.94 Z" fill="#ecc4d8" stroke="none" stroke-width="0.8"/>
<path d="M66.89,26.18 L67.80,22.07 L68.60,22.24 L69.31,26.18 Z" fill="#ecc4d8" stroke="none" stroke-width="0.8"/>
<path d="M69.89,37.03 L70.70,40.81 L71.54,40.65 L72.31,37.03 Z" fill="#ecc4d8" stroke="none" stroke-width="0.8"/>
<path d="M72.79,26.50 L73.70,22.39 L74.50,22.55 L75.21,26.50 Z" fill="#ecc4d8" stroke="none" stroke-width="0.8"/>
<path d="M75.79,37.13 L76.60,40.91 L77.44,40.74 L78.21,37.13 Z" fill="#ecc4d8" stroke="none" stroke-width="0.8"/>
<path d="M78.69,26.81 L79.60,22.70 L80.40,22.86 L81.11,26.81 Z" fill="#ecc4d8" stroke="none" stroke-width="0.8"/>
<path d="M81.69,37.22 L82.50,41.00 L83.34,40.84 L84.11,37.22 Z" fill="#ecc4d8" stroke="none" stroke-width="0.8"/>
<path d="M84.59,27.12 L85.50,23.01 L86.30,23.17 L87.01,27.12 Z" fill="#ecc4d8" stroke="none" stroke-width="0.8"/>
<path d="M87.59,37.32 L88.40,41.10 L89.24,40.93 L90.01,37.32 Z" fill="#ecc4d8" stroke="none" stroke-width="0.8"/>
<path d="M90.49,27.43 L91.40,23.32 L92.20,23.49 L92.91,27.43 Z" fill="#ecc4d8" stroke="none" stroke-width="0.8"/>
<path d="M93.49,37.41 L94.30,41.19 L95.14,41.02 L95.91,37.41 Z" fill="#ecc4d8" stroke="none" stroke-width="0.8"/>
<path d="M96.39,27.74 L97.30,23.63 L98.10,23.80 L98.81,27.74 Z" fill="#ecc4d8" stroke="none" stroke-width="0.8"/>
<path d="M99.39,37.50 L100.20,41.28 L101.04,41.12 L101.81,37.50 Z" fill="#ecc4d8" stroke="none" stroke-width="0.8"/>
<path d="M102.29,28.06 L103.20,23.95 L104.00,24.11 L104.71,28.06 Z" fill="#ecc4d8" stroke="none" stroke-width="0.8"/>
<path d="M105.29,37.60 L106.10,41.38 L106.94,41.21 L107.71,37.60 Z" fill="#ecc4d8" stroke="none" stroke-width="0.8"/>
<path d="M15.80,24.73 L17.70,18.73 L18.90,19.03 L20.20,24.73 Z" fill="#e26a6a" stroke="none" stroke-width="0.8"/>
<path d="M18.80,35.04 L20.60,40.44 L21.80,40.14 L23.20,35.04 Z" fill="#e26a6a" stroke="none" stroke-width="0.8"/>
<path d="M21.70,25.04 L23.60,19.04 L24.80,19.34 L26.10,25.04 Z" fill="#e26a6a" stroke="none" stroke-width="0.8"/>
<path d="M24.70,35.13 L26.50,40.53 L27.70,40.23 L29.10,35.13 Z" fill="#e26a6a" stroke="none" stroke-width="0.8"/>
<path d="M27.60,25.36 L29.50,19.36 L30.70,19.66 L32.00,25.36 Z" fill="#e26a6a" stroke="none" stroke-width="0.8"/>
<path d="M30.60,35.23 L32.40,40.63 L33.60,40.33 L35.00,35.23 Z" fill="#e26a6a" stroke="none" stroke-width="0.8"/>
<path d="M33.50,25.67 L35.40,19.67 L36.60,19.97 L37.90,25.67 Z" fill="#e26a6a" stroke="none" stroke-width="0.8"/>
<path d="M36.50,35.32 L38.30,40.72 L39.50,40.42 L40.90,35.32 Z" fill="#e26a6a" stroke="none" stroke-width="0.8"/>
<path d="M39.40,25.98 L41.30,19.98 L42.50,20.28 L43.80,25.98 Z" fill="#e26a6a" stroke="none" stroke-width="0.8"/>
<path d="M42.40,35.41 L44.20,40.81 L45.40,40.51 L46.80,35.41 Z" fill="#e26a6a" stroke="none" stroke-width="0.8"/>
<path d="M45.30,26.29 L47.20,20.29 L48.40,20.59 L49.70,26.29 Z" fill="#e26a6a" stroke="none" stroke-width="0.8"/>
<path d="M48.30,35.51 L50.10,40.91 L51.30,40.61 L52.70,35.51 Z" fill="#e26a6a" stroke="none" stroke-width="0.8"/>
<path d="M51.20,26.61 L53.10,20.61 L54.30,20.91 L55.60,26.61 Z" fill="#e26a6a" stroke="none" stroke-width="0.8"/>
<path d="M54.20,35.60 L56.00,41.00 L57.20,40.70 L58.60,35.60 Z" fill="#e26a6a" stroke="none" stroke-width="0.8"/>
<path d="M57.10,26.92 L59.00,20.92 L60.20,21.22 L61.50,26.92 Z" fill="#e26a6a" stroke="none" stroke-width="0.8"/>
<path d="M60.10,35.70 L61.90,41.10 L63.10,40.80 L64.50,35.70 Z" fill="#e26a6a" stroke="none" stroke-width="0.8"/>
<path d="M63.00,27.23 L64.90,21.23 L66.10,21.53 L67.40,27.23 Z" fill="#e26a6a" stroke="none" stroke-width="0.8"/>
<path d="M66.00,35.79 L67.80,41.19 L69.00,40.89 L70.40,35.79 Z" fill="#e26a6a" stroke="none" stroke-width="0.8"/>
<path d="M68.90,27.54 L70.80,21.54 L72.00,21.84 L73.30,27.54 Z" fill="#e26a6a" stroke="none" stroke-width="0.8"/>
<path d="M71.90,35.88 L73.70,41.28 L74.90,40.98 L76.30,35.88 Z" fill="#e26a6a" stroke="none" stroke-width="0.8"/>
<path d="M74.80,27.85 L76.70,21.85 L77.90,22.15 L79.20,27.85 Z" fill="#e26a6a" stroke="none" stroke-width="0.8"/>
<path d="M77.80,35.98 L79.60,41.38 L80.80,41.08 L82.20,35.98 Z" fill="#e26a6a" stroke="none" stroke-width="0.8"/>
<path d="M80.70,28.17 L82.60,22.17 L83.80,22.47 L85.10,28.17 Z" fill="#e26a6a" stroke="none" stroke-width="0.8"/>
<path d="M83.70,36.07 L85.50,41.47 L86.70,41.17 L88.10,36.07 Z" fill="#e26a6a" stroke="none" stroke-width="0.8"/>
<path d="M86.60,28.48 L88.50,22.48 L89.70,22.78 L91.00,28.48 Z" fill="#e26a6a" stroke="none" stroke-width="0.8"/>
<path d="M89.60,36.16 L91.40,41.56 L92.60,41.26 L94.00,36.16 Z" fill="#e26a6a" stroke="none" stroke-width="0.8"/>
<path d="M92.50,28.79 L94.40,22.79 L95.60,23.09 L96.90,28.79 Z" fill="#e26a6a" stroke="none" stroke-width="0.8"/>
<path d="M95.50,36.26 L97.30,41.66 L98.50,41.36 L99.90,36.26 Z" fill="#e26a6a" stroke="none" stroke-width="0.8"/>
<path d="M98.40,29.10 L100.30,23.10 L101.50,23.40 L102.80,29.10 Z" fill="#e26a6a" stroke="none" stroke-width="0.8"/>
<path d="M101.40,36.35 L103.20,41.75 L104.40,41.45 L105.80,36.35 Z" fill="#e26a6a" stroke="none" stroke-width="0.8"/>
<path d="M104.30,29.41 L106.20,23.41 L107.40,23.71 L108.70,29.41 Z" fill="#e26a6a" stroke="none" stroke-width="0.8"/>
<path d="M107.30,36.44 L109.10,41.84 L110.30,41.54 L111.70,36.44 Z" fill="#e26a6a" stroke="none" stroke-width="0.8"/>
<path d="M15.5,22.8 L20.2,23.1 L25.0,23.3 L29.7,23.6 L34.4,23.8 L39.1,24.1 L43.8,24.3 L48.6,24.6 L53.3,24.8 L58.0,25.1 L62.8,25.3 L67.5,25.6 L72.2,25.8 L76.9,26.1 L81.6,26.3 L86.4,26.6 L91.1,26.8 L95.8,27.1 L100.5,27.3 L105.3,27.6 L110.0,27.8 L110.0,38.3 L105.3,38.2 L100.5,38.1 L95.8,38.1 L91.1,38.0 L86.4,37.9 L81.6,37.8 L76.9,37.8 L72.2,37.7 L67.5,37.6 L62.8,37.5 L58.0,37.5 L53.3,37.4 L48.6,37.3 L43.8,37.2 L39.1,37.2 L34.4,37.1 L29.7,37.0 L25.0,36.9 L20.2,36.9 L15.5,36.8Z" fill="url(#lat)" stroke="none" stroke-width="0.8"/>
<path d="M15.5,22.8 L20.2,23.1 L25.0,23.3 L29.7,23.6 L34.4,23.8 L39.1,24.1 L43.8,24.3 L48.6,24.6 L53.3,24.8 L58.0,25.1 L62.8,25.3 L67.5,25.6 L72.2,25.8 L76.9,26.1 L81.6,26.3 L86.4,26.6 L91.1,26.8 L95.8,27.1 L100.5,27.3 L105.3,27.6 L110.0,27.8 L110.0,29.4 L105.3,29.2 L100.5,28.9 L95.8,28.7 L91.1,28.4 L86.4,28.2 L81.6,27.9 L76.9,27.7 L72.2,27.4 L67.5,27.2 L62.8,26.9 L58.0,26.7 L53.3,26.4 L48.6,26.2 L43.8,25.9 L39.1,25.7 L34.4,25.4 L29.7,25.2 L25.0,24.9 L20.2,24.7 L15.5,24.4Z" fill="#e6e2fa" stroke="none" stroke-width="0.8" opacity="0.55"/>
<path d="M13.5,23.8 L18.5,22.8 L18.5,36.8 L13.5,35.8Z" fill="#dcd8f5" stroke="none" stroke-width="0.8" opacity="0.85"/>
<path d="M19.69,51.96 L20.60,47.85 L21.39,48.01 L22.11,51.96 Z" fill="#ecc4d8" stroke="none" stroke-width="0.8"/>
<path d="M22.69,63.64 L23.50,67.42 L24.34,67.26 L25.11,63.64 Z" fill="#ecc4d8" stroke="none" stroke-width="0.8"/>
<path d="M25.59,52.02 L26.50,47.91 L27.29,48.07 L28.01,52.02 Z" fill="#ecc4d8" stroke="none" stroke-width="0.8"/>
<path d="M28.59,63.58 L29.40,67.36 L30.24,67.20 L31.01,63.58 Z" fill="#ecc4d8" stroke="none" stroke-width="0.8"/>
<path d="M31.49,52.08 L32.40,47.97 L33.20,48.14 L33.91,52.08 Z" fill="#ecc4d8" stroke="none" stroke-width="0.8"/>
<path d="M34.49,63.52 L35.30,67.30 L36.14,67.13 L36.91,63.52 Z" fill="#ecc4d8" stroke="none" stroke-width="0.8"/>
<path d="M37.39,52.14 L38.30,48.03 L39.09,48.20 L39.81,52.14 Z" fill="#ecc4d8" stroke="none" stroke-width="0.8"/>
<path d="M40.39,63.46 L41.20,67.24 L42.04,67.07 L42.81,63.46 Z" fill="#ecc4d8" stroke="none" stroke-width="0.8"/>
<path d="M43.29,52.21 L44.20,48.10 L44.99,48.26 L45.71,52.21 Z" fill="#ecc4d8" stroke="none" stroke-width="0.8"/>
<path d="M46.29,63.39 L47.10,67.17 L47.94,67.01 L48.71,63.39 Z" fill="#ecc4d8" stroke="none" stroke-width="0.8"/>
<path d="M49.19,52.27 L50.10,48.16 L50.89,48.32 L51.61,52.27 Z" fill="#ecc4d8" stroke="none" stroke-width="0.8"/>
<path d="M52.19,63.33 L53.00,67.11 L53.84,66.95 L54.61,63.33 Z" fill="#ecc4d8" stroke="none" stroke-width="0.8"/>
<path d="M55.09,52.33 L56.00,48.22 L56.80,48.39 L57.51,52.33 Z" fill="#ecc4d8" stroke="none" stroke-width="0.8"/>
<path d="M58.09,63.27 L58.90,67.05 L59.74,66.88 L60.51,63.27 Z" fill="#ecc4d8" stroke="none" stroke-width="0.8"/>
<path d="M60.99,52.39 L61.90,48.28 L62.70,48.45 L63.41,52.39 Z" fill="#ecc4d8" stroke="none" stroke-width="0.8"/>
<path d="M63.99,63.21 L64.80,66.99 L65.64,66.82 L66.41,63.21 Z" fill="#ecc4d8" stroke="none" stroke-width="0.8"/>
<path d="M66.89,52.46 L67.80,48.35 L68.60,48.51 L69.31,52.46 Z" fill="#ecc4d8" stroke="none" stroke-width="0.8"/>
<path d="M69.89,63.14 L70.70,66.92 L71.54,66.76 L72.31,63.14 Z" fill="#ecc4d8" stroke="none" stroke-width="0.8"/>
<path d="M72.79,52.52 L73.70,48.41 L74.50,48.57 L75.21,52.52 Z" fill="#ecc4d8" stroke="none" stroke-width="0.8"/>
<path d="M75.79,63.08 L76.60,66.86 L77.44,66.70 L78.21,63.08 Z" fill="#ecc4d8" stroke="none" stroke-width="0.8"/>
<path d="M78.69,52.58 L79.60,48.47 L80.40,48.64 L81.11,52.58 Z" fill="#ecc4d8" stroke="none" stroke-width="0.8"/>
<path d="M81.69,63.02 L82.50,66.80 L83.34,66.63 L84.11,63.02 Z" fill="#ecc4d8" stroke="none" stroke-width="0.8"/>
<path d="M84.59,52.64 L85.50,48.53 L86.30,48.70 L87.01,52.64 Z" fill="#ecc4d8" stroke="none" stroke-width="0.8"/>
<path d="M87.59,62.96 L88.40,66.74 L89.24,66.57 L90.01,62.96 Z" fill="#ecc4d8" stroke="none" stroke-width="0.8"/>
<path d="M90.49,52.71 L91.40,48.60 L92.20,48.76 L92.91,52.71 Z" fill="#ecc4d8" stroke="none" stroke-width="0.8"/>
<path d="M93.49,62.89 L94.30,66.67 L95.14,66.51 L95.91,62.89 Z" fill="#ecc4d8" stroke="none" stroke-width="0.8"/>
<path d="M96.39,52.77 L97.30,48.66 L98.10,48.82 L98.81,52.77 Z" fill="#ecc4d8" stroke="none" stroke-width="0.8"/>
<path d="M99.39,62.83 L100.20,66.61 L101.04,66.45 L101.81,62.83 Z" fill="#ecc4d8" stroke="none" stroke-width="0.8"/>
<path d="M102.29,52.83 L103.20,48.72 L104.00,48.89 L104.71,52.83 Z" fill="#ecc4d8" stroke="none" stroke-width="0.8"/>
<path d="M105.29,62.77 L106.10,66.55 L106.94,66.38 L107.71,62.77 Z" fill="#ecc4d8" stroke="none" stroke-width="0.8"/>
<path d="M15.80,53.13 L17.70,47.13 L18.90,47.43 L20.20,53.13 Z" fill="#e26a6a" stroke="none" stroke-width="0.8"/>
<path d="M18.80,62.47 L20.60,67.87 L21.80,67.57 L23.20,62.47 Z" fill="#e26a6a" stroke="none" stroke-width="0.8"/>
<path d="M21.70,53.19 L23.60,47.19 L24.80,47.49 L26.10,53.19 Z" fill="#e26a6a" stroke="none" stroke-width="0.8"/>
<path d="M24.70,62.41 L26.50,67.81 L27.70,67.51 L29.10,62.41 Z" fill="#e26a6a" stroke="none" stroke-width="0.8"/>
<path d="M27.60,53.25 L29.50,47.25 L30.70,47.55 L32.00,53.25 Z" fill="#e26a6a" stroke="none" stroke-width="0.8"/>
<path d="M30.60,62.35 L32.40,67.75 L33.60,67.45 L35.00,62.35 Z" fill="#e26a6a" stroke="none" stroke-width="0.8"/>
<path d="M33.50,53.31 L35.40,47.31 L36.60,47.61 L37.90,53.31 Z" fill="#e26a6a" stroke="none" stroke-width="0.8"/>
<path d="M36.50,62.29 L38.30,67.69 L39.50,67.39 L40.90,62.29 Z" fill="#e26a6a" stroke="none" stroke-width="0.8"/>
<path d="M39.40,53.38 L41.30,47.38 L42.50,47.68 L43.80,53.38 Z" fill="#e26a6a" stroke="none" stroke-width="0.8"/>
<path d="M42.40,62.22 L44.20,67.62 L45.40,67.32 L46.80,62.22 Z" fill="#e26a6a" stroke="none" stroke-width="0.8"/>
<path d="M45.30,53.44 L47.20,47.44 L48.40,47.74 L49.70,53.44 Z" fill="#e26a6a" stroke="none" stroke-width="0.8"/>
<path d="M48.30,62.16 L50.10,67.56 L51.30,67.26 L52.70,62.16 Z" fill="#e26a6a" stroke="none" stroke-width="0.8"/>
<path d="M51.20,53.50 L53.10,47.50 L54.30,47.80 L55.60,53.50 Z" fill="#e26a6a" stroke="none" stroke-width="0.8"/>
<path d="M54.20,62.10 L56.00,67.50 L57.20,67.20 L58.60,62.10 Z" fill="#e26a6a" stroke="none" stroke-width="0.8"/>
<path d="M57.10,53.56 L59.00,47.56 L60.20,47.86 L61.50,53.56 Z" fill="#e26a6a" stroke="none" stroke-width="0.8"/>
<path d="M60.10,62.04 L61.90,67.44 L63.10,67.14 L64.50,62.04 Z" fill="#e26a6a" stroke="none" stroke-width="0.8"/>
<path d="M63.00,53.63 L64.90,47.63 L66.10,47.93 L67.40,53.63 Z" fill="#e26a6a" stroke="none" stroke-width="0.8"/>
<path d="M66.00,61.97 L67.80,67.37 L69.00,67.07 L70.40,61.97 Z" fill="#e26a6a" stroke="none" stroke-width="0.8"/>
<path d="M68.90,53.69 L70.80,47.69 L72.00,47.99 L73.30,53.69 Z" fill="#e26a6a" stroke="none" stroke-width="0.8"/>
<path d="M71.90,61.91 L73.70,67.31 L74.90,67.01 L76.30,61.91 Z" fill="#e26a6a" stroke="none" stroke-width="0.8"/>
<path d="M74.80,53.75 L76.70,47.75 L77.90,48.05 L79.20,53.75 Z" fill="#e26a6a" stroke="none" stroke-width="0.8"/>
<path d="M77.80,61.85 L79.60,67.25 L80.80,66.95 L82.20,61.85 Z" fill="#e26a6a" stroke="none" stroke-width="0.8"/>
<path d="M80.70,53.81 L82.60,47.81 L83.80,48.11 L85.10,53.81 Z" fill="#e26a6a" stroke="none" stroke-width="0.8"/>
<path d="M83.70,61.79 L85.50,67.19 L86.70,66.89 L88.10,61.79 Z" fill="#e26a6a" stroke="none" stroke-width="0.8"/>
<path d="M86.60,53.88 L88.50,47.88 L89.70,48.18 L91.00,53.88 Z" fill="#e26a6a" stroke="none" stroke-width="0.8"/>
<path d="M89.60,61.72 L91.40,67.12 L92.60,66.82 L94.00,61.72 Z" fill="#e26a6a" stroke="none" stroke-width="0.8"/>
<path d="M92.50,53.94 L94.40,47.94 L95.60,48.24 L96.90,53.94 Z" fill="#e26a6a" stroke="none" stroke-width="0.8"/>
<path d="M95.50,61.66 L97.30,67.06 L98.50,66.76 L99.90,61.66 Z" fill="#e26a6a" stroke="none" stroke-width="0.8"/>
<path d="M98.40,54.00 L100.30,48.00 L101.50,48.30 L102.80,54.00 Z" fill="#e26a6a" stroke="none" stroke-width="0.8"/>
<path d="M101.40,61.60 L103.20,67.00 L104.40,66.70 L105.80,61.60 Z" fill="#e26a6a" stroke="none" stroke-width="0.8"/>
<path d="M104.30,54.06 L106.20,48.06 L107.40,48.36 L108.70,54.06 Z" fill="#e26a6a" stroke="none" stroke-width="0.8"/>
<path d="M107.30,61.54 L109.10,66.94 L110.30,66.64 L111.70,61.54 Z" fill="#e26a6a" stroke="none" stroke-width="0.8"/>
<path d="M15.5,51.3 L20.2,51.3 L25.0,51.4 L29.7,51.4 L34.4,51.5 L39.1,51.5 L43.8,51.6 L48.6,51.6 L53.3,51.7 L58.0,51.8 L62.8,51.8 L67.5,51.8 L72.2,51.9 L76.9,51.9 L81.6,52.0 L86.4,52.0 L91.1,52.1 L95.8,52.1 L100.5,52.2 L105.3,52.2 L110.0,52.3 L110.0,63.3 L105.3,63.3 L100.5,63.4 L95.8,63.5 L91.1,63.5 L86.4,63.5 L81.6,63.6 L76.9,63.6 L72.2,63.7 L67.5,63.8 L62.8,63.8 L58.0,63.8 L53.3,63.9 L48.6,64.0 L43.8,64.0 L39.1,64.0 L34.4,64.1 L29.7,64.1 L25.0,64.2 L20.2,64.2 L15.5,64.3Z" fill="url(#lat)" stroke="none" stroke-width="0.8"/>
<path d="M15.5,51.3 L20.2,51.3 L25.0,51.4 L29.7,51.4 L34.4,51.5 L39.1,51.5 L43.8,51.6 L48.6,51.6 L53.3,51.7 L58.0,51.8 L62.8,51.8 L67.5,51.8 L72.2,51.9 L76.9,51.9 L81.6,52.0 L86.4,52.0 L91.1,52.1 L95.8,52.1 L100.5,52.2 L105.3,52.2 L110.0,52.3 L110.0,53.9 L105.3,53.9 L100.5,53.8 L95.8,53.8 L91.1,53.7 L86.4,53.6 L81.6,53.6 L76.9,53.5 L72.2,53.5 L67.5,53.4 L62.8,53.4 L58.0,53.4 L53.3,53.3 L48.6,53.2 L43.8,53.2 L39.1,53.1 L34.4,53.1 L29.7,53.0 L25.0,53.0 L20.2,52.9 L15.5,52.9Z" fill="#e6e2fa" stroke="none" stroke-width="0.8" opacity="0.55"/>
<path d="M13.5,52.3 L18.5,51.3 L18.5,64.3 L13.5,63.3Z" fill="#dcd8f5" stroke="none" stroke-width="0.8" opacity="0.85"/>
<path d="M19.69,85.34 L20.60,81.23 L21.39,81.40 L22.11,85.34 Z" fill="#ecc4d8" stroke="none" stroke-width="0.8"/>
<path d="M22.69,97.14 L23.50,100.92 L24.34,100.76 L25.11,97.14 Z" fill="#ecc4d8" stroke="none" stroke-width="0.8"/>
<path d="M25.59,85.28 L26.50,81.17 L27.29,81.34 L28.01,85.28 Z" fill="#ecc4d8" stroke="none" stroke-width="0.8"/>
<path d="M28.59,97.08 L29.40,100.86 L30.24,100.70 L31.01,97.08 Z" fill="#ecc4d8" stroke="none" stroke-width="0.8"/>
<path d="M31.49,85.22 L32.40,81.11 L33.20,81.27 L33.91,85.22 Z" fill="#ecc4d8" stroke="none" stroke-width="0.8"/>
<path d="M34.49,97.02 L35.30,100.80 L36.14,100.63 L36.91,97.02 Z" fill="#ecc4d8" stroke="none" stroke-width="0.8"/>
<path d="M37.39,85.16 L38.30,81.05 L39.09,81.21 L39.81,85.16 Z" fill="#ecc4d8" stroke="none" stroke-width="0.8"/>
<path d="M40.39,96.96 L41.20,100.74 L42.04,100.57 L42.81,96.96 Z" fill="#ecc4d8" stroke="none" stroke-width="0.8"/>
<path d="M43.29,85.09 L44.20,80.98 L44.99,81.15 L45.71,85.09 Z" fill="#ecc4d8" stroke="none" stroke-width="0.8"/>
<path d="M46.29,96.89 L47.10,100.67 L47.94,100.51 L48.71,96.89 Z" fill="#ecc4d8" stroke="none" stroke-width="0.8"/>
<path d="M49.19,85.03 L50.10,80.92 L50.89,81.09 L51.61,85.03 Z" fill="#ecc4d8" stroke="none" stroke-width="0.8"/>
<path d="M52.19,96.83 L53.00,100.61 L53.84,100.45 L54.61,96.83 Z" fill="#ecc4d8" stroke="none" stroke-width="0.8"/>
<path d="M55.09,84.97 L56.00,80.86 L56.80,81.02 L57.51,84.97 Z" fill="#ecc4d8" stroke="none" stroke-width="0.8"/>
<path d="M58.09,96.77 L58.90,100.55 L59.74,100.38 L60.51,96.77 Z" fill="#ecc4d8" stroke="none" stroke-width="0.8"/>
<path d="M60.99,84.91 L61.90,80.80 L62.70,80.96 L63.41,84.91 Z" fill="#ecc4d8" stroke="none" stroke-width="0.8"/>
<path d="M63.99,96.71 L64.80,100.49 L65.64,100.32 L66.41,96.71 Z" fill="#ecc4d8" stroke="none" stroke-width="0.8"/>
<path d="M66.89,84.84 L67.80,80.73 L68.60,80.90 L69.31,84.84 Z" fill="#ecc4d8" stroke="none" stroke-width="0.8"/>
<path d="M69.89,96.64 L70.70,100.42 L71.54,100.26 L72.31,96.64 Z" fill="#ecc4d8" stroke="none" stroke-width="0.8"/>
<path d="M72.79,84.78 L73.70,80.67 L74.50,80.84 L75.21,84.78 Z" fill="#ecc4d8" stroke="none" stroke-width="0.8"/>
<path d="M75.79,96.58 L76.60,100.36 L77.44,100.20 L78.21,96.58 Z" fill="#ecc4d8" stroke="none" stroke-width="0.8"/>
<path d="M78.69,84.72 L79.60,80.61 L80.40,80.77 L81.11,84.72 Z" fill="#ecc4d8" stroke="none" stroke-width="0.8"/>
<path d="M81.69,96.52 L82.50,100.30 L83.34,100.13 L84.11,96.52 Z" fill="#ecc4d8" stroke="none" stroke-width="0.8"/>
<path d="M84.59,84.66 L85.50,80.55 L86.30,80.71 L87.01,84.66 Z" fill="#ecc4d8" stroke="none" stroke-width="0.8"/>
<path d="M87.59,96.46 L88.40,100.24 L89.24,100.07 L90.01,96.46 Z" fill="#ecc4d8" stroke="none" stroke-width="0.8"/>
<path d="M90.49,84.59 L91.40,80.48 L92.20,80.65 L92.91,84.59 Z" fill="#ecc4d8" stroke="none" stroke-width="0.8"/>
<path d="M93.49,96.39 L94.30,100.17 L95.14,100.01 L95.91,96.39 Z" fill="#ecc4d8" stroke="none" stroke-width="0.8"/>
<path d="M96.39,84.53 L97.30,80.42 L98.10,80.59 L98.81,84.53 Z" fill="#ecc4d8" stroke="none" stroke-width="0.8"/>
<path d="M99.39,96.33 L100.20,100.11 L101.04,99.95 L101.81,96.33 Z" fill="#ecc4d8" stroke="none" stroke-width="0.8"/>
<path d="M102.29,84.47 L103.20,80.36 L104.00,80.52 L104.71,84.47 Z" fill="#ecc4d8" stroke="none" stroke-width="0.8"/>
<path d="M105.29,96.27 L106.10,100.05 L106.94,99.88 L107.71,96.27 Z" fill="#ecc4d8" stroke="none" stroke-width="0.8"/>
<path d="M15.80,86.57 L17.70,80.57 L18.90,80.87 L20.20,86.57 Z" fill="#e26a6a" stroke="none" stroke-width="0.8"/>
<path d="M18.80,95.97 L20.60,101.37 L21.80,101.07 L23.20,95.97 Z" fill="#e26a6a" stroke="none" stroke-width="0.8"/>
<path d="M21.70,86.51 L23.60,80.51 L24.80,80.81 L26.10,86.51 Z" fill="#e26a6a" stroke="none" stroke-width="0.8"/>
<path d="M24.70,95.91 L26.50,101.31 L27.70,101.01 L29.10,95.91 Z" fill="#e26a6a" stroke="none" stroke-width="0.8"/>
<path d="M27.60,86.45 L29.50,80.45 L30.70,80.75 L32.00,86.45 Z" fill="#e26a6a" stroke="none" stroke-width="0.8"/>
<path d="M30.60,95.85 L32.40,101.25 L33.60,100.95 L35.00,95.85 Z" fill="#e26a6a" stroke="none" stroke-width="0.8"/>
<path d="M33.50,86.39 L35.40,80.39 L36.60,80.69 L37.90,86.39 Z" fill="#e26a6a" stroke="none" stroke-width="0.8"/>
<path d="M36.50,95.79 L38.30,101.19 L39.50,100.89 L40.90,95.79 Z" fill="#e26a6a" stroke="none" stroke-width="0.8"/>
<path d="M39.40,86.32 L41.30,80.32 L42.50,80.62 L43.80,86.32 Z" fill="#e26a6a" stroke="none" stroke-width="0.8"/>
<path d="M42.40,95.72 L44.20,101.12 L45.40,100.82 L46.80,95.72 Z" fill="#e26a6a" stroke="none" stroke-width="0.8"/>
<path d="M45.30,86.26 L47.20,80.26 L48.40,80.56 L49.70,86.26 Z" fill="#e26a6a" stroke="none" stroke-width="0.8"/>
<path d="M48.30,95.66 L50.10,101.06 L51.30,100.76 L52.70,95.66 Z" fill="#e26a6a" stroke="none" stroke-width="0.8"/>
<path d="M51.20,86.20 L53.10,80.20 L54.30,80.50 L55.60,86.20 Z" fill="#e26a6a" stroke="none" stroke-width="0.8"/>
<path d="M54.20,95.60 L56.00,101.00 L57.20,100.70 L58.60,95.60 Z" fill="#e26a6a" stroke="none" stroke-width="0.8"/>
<path d="M57.10,86.14 L59.00,80.14 L60.20,80.44 L61.50,86.14 Z" fill="#e26a6a" stroke="none" stroke-width="0.8"/>
<path d="M60.10,95.54 L61.90,100.94 L63.10,100.64 L64.50,95.54 Z" fill="#e26a6a" stroke="none" stroke-width="0.8"/>
<path d="M63.00,86.07 L64.90,80.07 L66.10,80.37 L67.40,86.07 Z" fill="#e26a6a" stroke="none" stroke-width="0.8"/>
<path d="M66.00,95.47 L67.80,100.87 L69.00,100.57 L70.40,95.47 Z" fill="#e26a6a" stroke="none" stroke-width="0.8"/>
<path d="M68.90,86.01 L70.80,80.01 L72.00,80.31 L73.30,86.01 Z" fill="#e26a6a" stroke="none" stroke-width="0.8"/>
<path d="M71.90,95.41 L73.70,100.81 L74.90,100.51 L76.30,95.41 Z" fill="#e26a6a" stroke="none" stroke-width="0.8"/>
<path d="M74.80,85.95 L76.70,79.95 L77.90,80.25 L79.20,85.95 Z" fill="#e26a6a" stroke="none" stroke-width="0.8"/>
<path d="M77.80,95.35 L79.60,100.75 L80.80,100.45 L82.20,95.35 Z" fill="#e26a6a" stroke="none" stroke-width="0.8"/>
<path d="M80.70,85.89 L82.60,79.89 L83.80,80.19 L85.10,85.89 Z" fill="#e26a6a" stroke="none" stroke-width="0.8"/>
<path d="M83.70,95.29 L85.50,100.69 L86.70,100.39 L88.10,95.29 Z" fill="#e26a6a" stroke="none" stroke-width="0.8"/>
<path d="M86.60,85.82 L88.50,79.82 L89.70,80.12 L91.00,85.82 Z" fill="#e26a6a" stroke="none" stroke-width="0.8"/>
<path d="M89.60,95.22 L91.40,100.62 L92.60,100.32 L94.00,95.22 Z" fill="#e26a6a" stroke="none" stroke-width="0.8"/>
<path d="M92.50,85.76 L94.40,79.76 L95.60,80.06 L96.90,85.76 Z" fill="#e26a6a" stroke="none" stroke-width="0.8"/>
<path d="M95.50,95.16 L97.30,100.56 L98.50,100.26 L99.90,95.16 Z" fill="#e26a6a" stroke="none" stroke-width="0.8"/>
<path d="M98.40,85.70 L100.30,79.70 L101.50,80.00 L102.80,85.70 Z" fill="#e26a6a" stroke="none" stroke-width="0.8"/>
<path d="M101.40,95.10 L103.20,100.50 L104.40,100.20 L105.80,95.10 Z" fill="#e26a6a" stroke="none" stroke-width="0.8"/>
<path d="M104.30,85.64 L106.20,79.64 L107.40,79.94 L108.70,85.64 Z" fill="#e26a6a" stroke="none" stroke-width="0.8"/>
<path d="M107.30,95.04 L109.10,100.44 L110.30,100.14 L111.70,95.04 Z" fill="#e26a6a" stroke="none" stroke-width="0.8"/>
<path d="M15.5,84.8 L20.2,84.8 L25.0,84.7 L29.7,84.6 L34.4,84.6 L39.1,84.5 L43.8,84.5 L48.6,84.5 L53.3,84.4 L58.0,84.3 L62.8,84.3 L67.5,84.2 L72.2,84.2 L76.9,84.1 L81.6,84.1 L86.4,84.0 L91.1,84.0 L95.8,84.0 L100.5,83.9 L105.3,83.8 L110.0,83.8 L110.0,96.8 L105.3,96.8 L100.5,96.9 L95.8,97.0 L91.1,97.0 L86.4,97.0 L81.6,97.1 L76.9,97.1 L72.2,97.2 L67.5,97.2 L62.8,97.3 L58.0,97.3 L53.3,97.4 L48.6,97.5 L43.8,97.5 L39.1,97.5 L34.4,97.6 L29.7,97.6 L25.0,97.7 L20.2,97.8 L15.5,97.8Z" fill="url(#lat)" stroke="none" stroke-width="0.8"/>
<path d="M15.5,84.8 L20.2,84.8 L25.0,84.7 L29.7,84.6 L34.4,84.6 L39.1,84.5 L43.8,84.5 L48.6,84.5 L53.3,84.4 L58.0,84.3 L62.8,84.3 L67.5,84.2 L72.2,84.2 L76.9,84.1 L81.6,84.1 L86.4,84.0 L91.1,84.0 L95.8,84.0 L100.5,83.9 L105.3,83.8 L110.0,83.8 L110.0,85.4 L105.3,85.4 L100.5,85.5 L95.8,85.5 L91.1,85.6 L86.4,85.6 L81.6,85.7 L76.9,85.7 L72.2,85.8 L67.5,85.8 L62.8,85.9 L58.0,85.9 L53.3,86.0 L48.6,86.0 L43.8,86.1 L39.1,86.1 L34.4,86.2 L29.7,86.2 L25.0,86.3 L20.2,86.3 L15.5,86.4Z" fill="#e6e2fa" stroke="none" stroke-width="0.8" opacity="0.55"/>
<path d="M13.5,85.8 L18.5,84.8 L18.5,97.8 L13.5,96.8Z" fill="#dcd8f5" stroke="none" stroke-width="0.8" opacity="0.85"/>
<circle cx="24.68" cy="13.36" r="0.66" fill="#9ccbf2" stroke="none" stroke-width="0.8"/>
<circle cx="33.68" cy="14.08" r="0.66" fill="#9ccbf2" stroke="none" stroke-width="0.8"/>
<circle cx="30.92" cy="20.80" r="0.66" fill="#9ccbf2" stroke="none" stroke-width="0.8"/>
<circle cx="25.16" cy="19.36" r="0.66" fill="#9ccbf2" stroke="none" stroke-width="0.8"/>
<circle cx="29.24" cy="10.96" r="0.66" fill="#9ccbf2" stroke="none" stroke-width="0.8"/>
<circle cx="27.80" cy="20.32" r="0.66" fill="#9ccbf2" stroke="none" stroke-width="0.8"/>
<circle cx="26.12" cy="14.20" r="1.74" fill="#4a98e4" stroke="none" stroke-width="0.8"/>
<circle cx="29.60" cy="12.52" r="1.74" fill="#4a98e4" stroke="none" stroke-width="0.8"/>
<circle cx="32.24" cy="16.48" r="1.74" fill="#4a98e4" stroke="none" stroke-width="0.8"/>
<circle cx="28.40" cy="18.64" r="1.74" fill="#4a98e4" stroke="none" stroke-width="0.8"/>
<circle cx="29.00" cy="16.00" r="1.26" fill="#e9c060" stroke="none" stroke-width="0.8"/>
<circle cx="56.18" cy="13.36" r="0.66" fill="#9ccbf2" stroke="none" stroke-width="0.8"/>
<circle cx="65.18" cy="14.08" r="0.66" fill="#9ccbf2" stroke="none" stroke-width="0.8"/>
<circle cx="62.42" cy="20.80" r="0.66" fill="#9ccbf2" stroke="none" stroke-width="0.8"/>
<circle cx="56.66" cy="19.36" r="0.66" fill="#9ccbf2" stroke="none" stroke-width="0.8"/>
<circle cx="60.74" cy="10.96" r="0.66" fill="#9ccbf2" stroke="none" stroke-width="0.8"/>
<circle cx="59.30" cy="20.32" r="0.66" fill="#9ccbf2" stroke="none" stroke-width="0.8"/>
<circle cx="57.62" cy="14.20" r="1.74" fill="#4a98e4" stroke="none" stroke-width="0.8"/>
<circle cx="61.10" cy="12.52" r="1.74" fill="#4a98e4" stroke="none" stroke-width="0.8"/>
<circle cx="63.74" cy="16.48" r="1.74" fill="#4a98e4" stroke="none" stroke-width="0.8"/>
<circle cx="59.90" cy="18.64" r="1.74" fill="#4a98e4" stroke="none" stroke-width="0.8"/>
<circle cx="60.50" cy="16.00" r="1.26" fill="#e9c060" stroke="none" stroke-width="0.8"/>
<circle cx="88.18" cy="13.36" r="0.66" fill="#9ccbf2" stroke="none" stroke-width="0.8"/>
<circle cx="97.18" cy="14.08" r="0.66" fill="#9ccbf2" stroke="none" stroke-width="0.8"/>
<circle cx="94.42" cy="20.80" r="0.66" fill="#9ccbf2" stroke="none" stroke-width="0.8"/>
<circle cx="88.66" cy="19.36" r="0.66" fill="#9ccbf2" stroke="none" stroke-width="0.8"/>
<circle cx="92.74" cy="10.96" r="0.66" fill="#9ccbf2" stroke="none" stroke-width="0.8"/>
<circle cx="91.30" cy="20.32" r="0.66" fill="#9ccbf2" stroke="none" stroke-width="0.8"/>
<circle cx="89.62" cy="14.20" r="1.74" fill="#4a98e4" stroke="none" stroke-width="0.8"/>
<circle cx="93.10" cy="12.52" r="1.74" fill="#4a98e4" stroke="none" stroke-width="0.8"/>
<circle cx="95.74" cy="16.48" r="1.74" fill="#4a98e4" stroke="none" stroke-width="0.8"/>
<circle cx="91.90" cy="18.64" r="1.74" fill="#4a98e4" stroke="none" stroke-width="0.8"/>
<circle cx="92.50" cy="16.00" r="1.26" fill="#e9c060" stroke="none" stroke-width="0.8"/>
<circle cx="44.68" cy="44.56" r="0.66" fill="#9ccbf2" stroke="none" stroke-width="0.8"/>
<circle cx="53.68" cy="45.28" r="0.66" fill="#9ccbf2" stroke="none" stroke-width="0.8"/>
<circle cx="50.92" cy="52.00" r="0.66" fill="#9ccbf2" stroke="none" stroke-width="0.8"/>
<circle cx="45.16" cy="50.56" r="0.66" fill="#9ccbf2" stroke="none" stroke-width="0.8"/>
<circle cx="49.24" cy="42.16" r="0.66" fill="#9ccbf2" stroke="none" stroke-width="0.8"/>
<circle cx="47.80" cy="51.52" r="0.66" fill="#9ccbf2" stroke="none" stroke-width="0.8"/>
<circle cx="46.12" cy="45.40" r="1.74" fill="#4a98e4" stroke="none" stroke-width="0.8"/>
<circle cx="49.60" cy="43.72" r="1.74" fill="#4a98e4" stroke="none" stroke-width="0.8"/>
<circle cx="52.24" cy="47.68" r="1.74" fill="#4a98e4" stroke="none" stroke-width="0.8"/>
<circle cx="48.40" cy="49.84" r="1.74" fill="#4a98e4" stroke="none" stroke-width="0.8"/>
<circle cx="49.00" cy="47.20" r="1.26" fill="#e9c060" stroke="none" stroke-width="0.8"/>
<circle cx="76.68" cy="43.36" r="0.66" fill="#9ccbf2" stroke="none" stroke-width="0.8"/>
<circle cx="85.68" cy="44.08" r="0.66" fill="#9ccbf2" stroke="none" stroke-width="0.8"/>
<circle cx="82.92" cy="50.80" r="0.66" fill="#9ccbf2" stroke="none" stroke-width="0.8"/>
<circle cx="77.16" cy="49.36" r="0.66" fill="#9ccbf2" stroke="none" stroke-width="0.8"/>
<circle cx="81.24" cy="40.96" r="0.66" fill="#9ccbf2" stroke="none" stroke-width="0.8"/>
<circle cx="79.80" cy="50.32" r="0.66" fill="#9ccbf2" stroke="none" stroke-width="0.8"/>
<circle cx="78.12" cy="44.20" r="1.74" fill="#4a98e4" stroke="none" stroke-width="0.8"/>
<circle cx="81.60" cy="42.52" r="1.74" fill="#4a98e4" stroke="none" stroke-width="0.8"/>
<circle cx="84.24" cy="46.48" r="1.74" fill="#4a98e4" stroke="none" stroke-width="0.8"/>
<circle cx="80.40" cy="48.64" r="1.74" fill="#4a98e4" stroke="none" stroke-width="0.8"/>
<circle cx="81.00" cy="46.00" r="1.26" fill="#e9c060" stroke="none" stroke-width="0.8"/>
<circle cx="30.68" cy="73.36" r="0.66" fill="#9ccbf2" stroke="none" stroke-width="0.8"/>
<circle cx="39.68" cy="74.08" r="0.66" fill="#9ccbf2" stroke="none" stroke-width="0.8"/>
<circle cx="36.92" cy="80.80" r="0.66" fill="#9ccbf2" stroke="none" stroke-width="0.8"/>
<circle cx="31.16" cy="79.36" r="0.66" fill="#9ccbf2" stroke="none" stroke-width="0.8"/>
<circle cx="35.24" cy="70.96" r="0.66" fill="#9ccbf2" stroke="none" stroke-width="0.8"/>
<circle cx="33.80" cy="80.32" r="0.66" fill="#9ccbf2" stroke="none" stroke-width="0.8"/>
<circle cx="32.12" cy="74.20" r="1.74" fill="#4a98e4" stroke="none" stroke-width="0.8"/>
<circle cx="35.60" cy="72.52" r="1.74" fill="#4a98e4" stroke="none" stroke-width="0.8"/>
<circle cx="38.24" cy="76.48" r="1.74" fill="#4a98e4" stroke="none" stroke-width="0.8"/>
<circle cx="34.40" cy="78.64" r="1.74" fill="#4a98e4" stroke="none" stroke-width="0.8"/>
<circle cx="35.00" cy="76.00" r="1.26" fill="#e9c060" stroke="none" stroke-width="0.8"/>
<circle cx="56.68" cy="73.86" r="0.66" fill="#9ccbf2" stroke="none" stroke-width="0.8"/>
<circle cx="65.68" cy="74.58" r="0.66" fill="#9ccbf2" stroke="none" stroke-width="0.8"/>
<circle cx="62.92" cy="81.30" r="0.66" fill="#9ccbf2" stroke="none" stroke-width="0.8"/>
<circle cx="57.16" cy="79.86" r="0.66" fill="#9ccbf2" stroke="none" stroke-width="0.8"/>
<circle cx="61.24" cy="71.46" r="0.66" fill="#9ccbf2" stroke="none" stroke-width="0.8"/>
<circle cx="59.80" cy="80.82" r="0.66" fill="#9ccbf2" stroke="none" stroke-width="0.8"/>
<circle cx="58.12" cy="74.70" r="1.74" fill="#4a98e4" stroke="none" stroke-width="0.8"/>
<circle cx="61.60" cy="73.02" r="1.74" fill="#4a98e4" stroke="none" stroke-width="0.8"/>
<circle cx="64.24" cy="76.98" r="1.74" fill="#4a98e4" stroke="none" stroke-width="0.8"/>
<circle cx="60.40" cy="79.14" r="1.74" fill="#4a98e4" stroke="none" stroke-width="0.8"/>
<circle cx="61.00" cy="76.50" r="1.26" fill="#e9c060" stroke="none" stroke-width="0.8"/>
<circle cx="88.18" cy="73.36" r="0.66" fill="#9ccbf2" stroke="none" stroke-width="0.8"/>
<circle cx="97.18" cy="74.08" r="0.66" fill="#9ccbf2" stroke="none" stroke-width="0.8"/>
<circle cx="94.42" cy="80.80" r="0.66" fill="#9ccbf2" stroke="none" stroke-width="0.8"/>
<circle cx="88.66" cy="79.36" r="0.66" fill="#9ccbf2" stroke="none" stroke-width="0.8"/>
<circle cx="92.74" cy="70.96" r="0.66" fill="#9ccbf2" stroke="none" stroke-width="0.8"/>
<circle cx="91.30" cy="80.32" r="0.66" fill="#9ccbf2" stroke="none" stroke-width="0.8"/>
<circle cx="89.62" cy="74.20" r="1.74" fill="#4a98e4" stroke="none" stroke-width="0.8"/>
<circle cx="93.10" cy="72.52" r="1.74" fill="#4a98e4" stroke="none" stroke-width="0.8"/>
<circle cx="95.74" cy="76.48" r="1.74" fill="#4a98e4" stroke="none" stroke-width="0.8"/>
<circle cx="91.90" cy="78.64" r="1.74" fill="#4a98e4" stroke="none" stroke-width="0.8"/>
<circle cx="92.50" cy="76.00" r="1.26" fill="#e9c060" stroke="none" stroke-width="0.8"/>
<circle cx="26.68" cy="106.36" r="0.66" fill="#9ccbf2" stroke="none" stroke-width="0.8"/>
<circle cx="35.68" cy="107.08" r="0.66" fill="#9ccbf2" stroke="none" stroke-width="0.8"/>
<circle cx="32.92" cy="113.80" r="0.66" fill="#9ccbf2" stroke="none" stroke-width="0.8"/>
<circle cx="27.16" cy="112.36" r="0.66" fill="#9ccbf2" stroke="none" stroke-width="0.8"/>
<circle cx="31.24" cy="103.96" r="0.66" fill="#9ccbf2" stroke="none" stroke-width="0.8"/>
<circle cx="29.80" cy="113.32" r="0.66" fill="#9ccbf2" stroke="none" stroke-width="0.8"/>
<circle cx="28.12" cy="107.20" r="1.74" fill="#4a98e4" stroke="none" stroke-width="0.8"/>
<circle cx="31.60" cy="105.52" r="1.74" fill="#4a98e4" stroke="none" stroke-width="0.8"/>
<circle cx="34.24" cy="109.48" r="1.74" fill="#4a98e4" stroke="none" stroke-width="0.8"/>
<circle cx="30.40" cy="111.64" r="1.74" fill="#4a98e4" stroke="none" stroke-width="0.8"/>
<circle cx="31.00" cy="109.00" r="1.26" fill="#e9c060" stroke="none" stroke-width="0.8"/>
<circle cx="55.18" cy="106.86" r="0.66" fill="#9ccbf2" stroke="none" stroke-width="0.8"/>
<circle cx="64.18" cy="107.58" r="0.66" fill="#9ccbf2" stroke="none" stroke-width="0.8"/>
<circle cx="61.42" cy="114.30" r="0.66" fill="#9ccbf2" stroke="none" stroke-width="0.8"/>
<circle cx="55.66" cy="112.86" r="0.66" fill="#9ccbf2" stroke="none" stroke-width="0.8"/>
<circle cx="59.74" cy="104.46" r="0.66" fill="#9ccbf2" stroke="none" stroke-width="0.8"/>
<circle cx="58.30" cy="113.82" r="0.66" fill="#9ccbf2" stroke="none" stroke-width="0.8"/>
<circle cx="56.62" cy="107.70" r="1.74" fill="#4a98e4" stroke="none" stroke-width="0.8"/>
<circle cx="60.10" cy="106.02" r="1.74" fill="#4a98e4" stroke="none" stroke-width="0.8"/>
<circle cx="62.74" cy="109.98" r="1.74" fill="#4a98e4" stroke="none" stroke-width="0.8"/>
<circle cx="58.90" cy="112.14" r="1.74" fill="#4a98e4" stroke="none" stroke-width="0.8"/>
<circle cx="59.50" cy="109.50" r="1.26" fill="#e9c060" stroke="none" stroke-width="0.8"/>
<circle cx="83.18" cy="106.36" r="0.66" fill="#9ccbf2" stroke="none" stroke-width="0.8"/>
<circle cx="92.18" cy="107.08" r="0.66" fill="#9ccbf2" stroke="none" stroke-width="0.8"/>
<circle cx="89.42" cy="113.80" r="0.66" fill="#9ccbf2" stroke="none" stroke-width="0.8"/>
<circle cx="83.66" cy="112.36" r="0.66" fill="#9ccbf2" stroke="none" stroke-width="0.8"/>
<circle cx="87.74" cy="103.96" r="0.66" fill="#9ccbf2" stroke="none" stroke-width="0.8"/>
<circle cx="86.30" cy="113.32" r="0.66" fill="#9ccbf2" stroke="none" stroke-width="0.8"/>
<circle cx="84.62" cy="107.20" r="1.74" fill="#4a98e4" stroke="none" stroke-width="0.8"/>
<circle cx="88.10" cy="105.52" r="1.74" fill="#4a98e4" stroke="none" stroke-width="0.8"/>
<circle cx="90.74" cy="109.48" r="1.74" fill="#4a98e4" stroke="none" stroke-width="0.8"/>
<circle cx="86.90" cy="111.64" r="1.74" fill="#4a98e4" stroke="none" stroke-width="0.8"/>
<circle cx="87.50" cy="109.00" r="1.26" fill="#e9c060" stroke="none" stroke-width="0.8"/>
<path d="M114,59.3 L134,59.3 L134,56.8 L146,61.6 L134,66.4 L134,63.9 L114,63.9 Z" fill="url(#arrowg)" stroke="none" stroke-width="0.8"/>
<text x="118.00" y="54.40" font-size="8.8" text-anchor="start" font-weight="normal" fill="#222" stroke="#222" stroke-width="0.22">Li salt</text>
<path d="M155.19,30.22 L156.10,26.11 L156.90,26.28 L157.61,30.22 Z" fill="#ecc4d8" stroke="none" stroke-width="0.8"/>
<path d="M158.19,38.02 L159.00,41.80 L159.84,41.64 L160.61,38.02 Z" fill="#ecc4d8" stroke="none" stroke-width="0.8"/>
<path d="M161.09,29.92 L162.00,25.81 L162.80,25.97 L163.51,29.92 Z" fill="#ecc4d8" stroke="none" stroke-width="0.8"/>
<path d="M164.09,37.72 L164.90,41.50 L165.74,41.33 L166.51,37.72 Z" fill="#ecc4d8" stroke="none" stroke-width="0.8"/>
<path d="M166.99,29.50 L167.90,25.39 L168.70,25.55 L169.41,29.50 Z" fill="#ecc4d8" stroke="none" stroke-width="0.8"/>
<path d="M169.99,37.30 L170.80,41.08 L171.64,40.91 L172.41,37.30 Z" fill="#ecc4d8" stroke="none" stroke-width="0.8"/>
<path d="M172.89,28.96 L173.80,24.85 L174.59,25.02 L175.31,28.96 Z" fill="#ecc4d8" stroke="none" stroke-width="0.8"/>
<path d="M175.89,36.76 L176.70,40.54 L177.54,40.38 L178.31,36.76 Z" fill="#ecc4d8" stroke="none" stroke-width="0.8"/>
<path d="M178.79,28.32 L179.70,24.21 L180.50,24.37 L181.21,28.32 Z" fill="#ecc4d8" stroke="none" stroke-width="0.8"/>
<path d="M181.79,36.12 L182.60,39.90 L183.44,39.73 L184.21,36.12 Z" fill="#ecc4d8" stroke="none" stroke-width="0.8"/>
<path d="M184.69,27.56 L185.60,23.45 L186.40,23.61 L187.11,27.56 Z" fill="#ecc4d8" stroke="none" stroke-width="0.8"/>
<path d="M187.69,35.36 L188.50,39.14 L189.34,38.97 L190.11,35.36 Z" fill="#ecc4d8" stroke="none" stroke-width="0.8"/>
<path d="M190.59,26.68 L191.50,22.57 L192.30,22.74 L193.01,26.68 Z" fill="#ecc4d8" stroke="none" stroke-width="0.8"/>
<path d="M193.59,34.48 L194.40,38.26 L195.24,38.10 L196.01,34.48 Z" fill="#ecc4d8" stroke="none" stroke-width="0.8"/>
<path d="M196.49,25.69 L197.40,21.58 L198.20,21.75 L198.91,25.69 Z" fill="#ecc4d8" stroke="none" stroke-width="0.8"/>
<path d="M199.49,33.49 L200.30,37.27 L201.14,37.11 L201.91,33.49 Z" fill="#ecc4d8" stroke="none" stroke-width="0.8"/>
<path d="M202.39,24.59 L203.30,20.48 L204.09,20.65 L204.81,24.59 Z" fill="#ecc4d8" stroke="none" stroke-width="0.8"/>
<path d="M205.39,32.39 L206.20,36.17 L207.04,36.01 L207.81,32.39 Z" fill="#ecc4d8" stroke="none" stroke-width="0.8"/>
<path d="M208.29,23.37 L209.20,19.26 L210.00,19.43 L210.71,23.37 Z" fill="#ecc4d8" stroke="none" stroke-width="0.8"/>
<path d="M211.29,31.17 L212.10,34.95 L212.94,34.79 L213.71,31.17 Z" fill="#ecc4d8" stroke="none" stroke-width="0.8"/>
<path d="M214.19,22.04 L215.10,17.93 L215.90,18.10 L216.61,22.04 Z" fill="#ecc4d8" stroke="none" stroke-width="0.8"/>
<path d="M217.19,29.84 L218.00,33.62 L218.84,33.46 L219.61,29.84 Z" fill="#ecc4d8" stroke="none" stroke-width="0.8"/>
<path d="M220.09,20.60 L221.00,16.49 L221.80,16.66 L222.51,20.60 Z" fill="#ecc4d8" stroke="none" stroke-width="0.8"/>
<path d="M223.09,28.40 L223.90,32.18 L224.74,32.02 L225.51,28.40 Z" fill="#ecc4d8" stroke="none" stroke-width="0.8"/>
<path d="M225.99,19.04 L226.90,14.93 L227.70,15.10 L228.41,19.04 Z" fill="#ecc4d8" stroke="none" stroke-width="0.8"/>
<path d="M228.99,26.84 L229.80,30.62 L230.64,30.46 L231.41,26.84 Z" fill="#ecc4d8" stroke="none" stroke-width="0.8"/>
<path d="M151.30,31.53 L153.20,25.53 L154.40,25.83 L155.70,31.53 Z" fill="#e26a6a" stroke="none" stroke-width="0.8"/>
<path d="M154.30,36.93 L156.10,42.33 L157.30,42.03 L158.70,36.93 Z" fill="#e26a6a" stroke="none" stroke-width="0.8"/>
<path d="M157.20,31.28 L159.10,25.28 L160.30,25.58 L161.60,31.28 Z" fill="#e26a6a" stroke="none" stroke-width="0.8"/>
<path d="M160.20,36.68 L162.00,42.08 L163.20,41.78 L164.60,36.68 Z" fill="#e26a6a" stroke="none" stroke-width="0.8"/>
<path d="M163.10,30.92 L165.00,24.92 L166.20,25.22 L167.50,30.92 Z" fill="#e26a6a" stroke="none" stroke-width="0.8"/>
<path d="M166.10,36.32 L167.90,41.72 L169.10,41.42 L170.50,36.32 Z" fill="#e26a6a" stroke="none" stroke-width="0.8"/>
<path d="M169.00,30.44 L170.90,24.44 L172.10,24.74 L173.40,30.44 Z" fill="#e26a6a" stroke="none" stroke-width="0.8"/>
<path d="M172.00,35.84 L173.80,41.24 L175.00,40.94 L176.40,35.84 Z" fill="#e26a6a" stroke="none" stroke-width="0.8"/>
<path d="M174.90,29.85 L176.80,23.85 L178.00,24.15 L179.30,29.85 Z" fill="#e26a6a" stroke="none" stroke-width="0.8"/>
<path d="M177.90,35.25 L179.70,40.65 L180.90,40.35 L182.30,35.25 Z" fill="#e26a6a" stroke="none" stroke-width="0.8"/>
<path d="M180.80,29.14 L182.70,23.14 L183.90,23.44 L185.20,29.14 Z" fill="#e26a6a" stroke="none" stroke-width="0.8"/>
<path d="M183.80,34.54 L185.60,39.94 L186.80,39.64 L188.20,34.54 Z" fill="#e26a6a" stroke="none" stroke-width="0.8"/>
<path d="M186.70,28.33 L188.60,22.33 L189.80,22.63 L191.10,28.33 Z" fill="#e26a6a" stroke="none" stroke-width="0.8"/>
<path d="M189.70,33.73 L191.50,39.13 L192.70,38.83 L194.10,33.73 Z" fill="#e26a6a" stroke="none" stroke-width="0.8"/>
<path d="M192.60,27.39 L194.50,21.39 L195.70,21.69 L197.00,27.39 Z" fill="#e26a6a" stroke="none" stroke-width="0.8"/>
<path d="M195.60,32.79 L197.40,38.19 L198.60,37.89 L200.00,32.79 Z" fill="#e26a6a" stroke="none" stroke-width="0.8"/>
<path d="M198.50,26.35 L200.40,20.35 L201.60,20.65 L202.90,26.35 Z" fill="#e26a6a" stroke="none" stroke-width="0.8"/>
<path d="M201.50,31.75 L203.30,37.15 L204.50,36.85 L205.90,31.75 Z" fill="#e26a6a" stroke="none" stroke-width="0.8"/>
<path d="M204.40,25.19 L206.30,19.19 L207.50,19.49 L208.80,25.19 Z" fill="#e26a6a" stroke="none" stroke-width="0.8"/>
<path d="M207.40,30.59 L209.20,35.99 L210.40,35.69 L211.80,30.59 Z" fill="#e26a6a" stroke="none" stroke-width="0.8"/>
<path d="M210.30,23.91 L212.20,17.91 L213.40,18.21 L214.70,23.91 Z" fill="#e26a6a" stroke="none" stroke-width="0.8"/>
<path d="M213.30,29.31 L215.10,34.71 L216.30,34.41 L217.70,29.31 Z" fill="#e26a6a" stroke="none" stroke-width="0.8"/>
<path d="M216.20,22.52 L218.10,16.52 L219.30,16.82 L220.60,22.52 Z" fill="#e26a6a" stroke="none" stroke-width="0.8"/>
<path d="M219.20,27.92 L221.00,33.32 L222.20,33.02 L223.60,27.92 Z" fill="#e26a6a" stroke="none" stroke-width="0.8"/>
<path d="M222.10,21.02 L224.00,15.02 L225.20,15.32 L226.50,21.02 Z" fill="#e26a6a" stroke="none" stroke-width="0.8"/>
<path d="M225.10,26.42 L226.90,31.82 L228.10,31.52 L229.50,26.42 Z" fill="#e26a6a" stroke="none" stroke-width="0.8"/>
<path d="M228.00,19.41 L229.90,13.41 L231.10,13.71 L232.40,19.41 Z" fill="#e26a6a" stroke="none" stroke-width="0.8"/>
<path d="M231.00,24.81 L232.80,30.21 L234.00,29.91 L235.40,24.81 Z" fill="#e26a6a" stroke="none" stroke-width="0.8"/>
<path d="M151.0,29.8 L155.1,29.7 L159.2,29.5 L163.3,29.3 L167.4,29.0 L171.5,28.6 L175.6,28.2 L179.7,27.8 L183.8,27.2 L187.9,26.7 L192.0,26.1 L196.1,25.4 L200.2,24.6 L204.3,23.9 L208.4,23.0 L212.5,22.1 L216.6,21.2 L220.7,20.2 L224.8,19.1 L228.9,18.0 L233.0,16.8 L233.0,25.8 L228.9,27.0 L224.8,28.1 L220.7,29.2 L216.6,30.2 L212.5,31.1 L208.4,32.0 L204.3,32.9 L200.2,33.6 L196.1,34.4 L192.0,35.0 L187.9,35.7 L183.8,36.2 L179.7,36.8 L175.6,37.2 L171.5,37.6 L167.4,38.0 L163.3,38.3 L159.2,38.5 L155.1,38.7 L151.0,38.8Z" fill="url(#lat)" stroke="none" stroke-width="0.8"/>
<path d="M151.0,29.8 L155.1,29.7 L159.2,29.5 L163.3,29.3 L167.4,29.0 L171.5,28.6 L175.6,28.2 L179.7,27.8 L183.8,27.2 L187.9,26.7 L192.0,26.1 L196.1,25.4 L200.2,24.6 L204.3,23.9 L208.4,23.0 L212.5,22.1 L216.6,21.2 L220.7,20.2 L224.8,19.1 L228.9,18.0 L233.0,16.8 L233.0,18.4 L228.9,19.6 L224.8,20.7 L220.7,21.8 L216.6,22.8 L212.5,23.7 L208.4,24.6 L204.3,25.5 L200.2,26.2 L196.1,27.0 L192.0,27.7 L187.9,28.3 L183.8,28.8 L179.7,29.4 L175.6,29.8 L171.5,30.2 L167.4,30.6 L163.3,30.9 L159.2,31.1 L155.1,31.3 L151.0,31.4Z" fill="#e6e2fa" stroke="none" stroke-width="0.8" opacity="0.55"/>
<path d="M149.0,30.8 L154.0,29.8 L154.0,38.8 L149.0,37.8Z" fill="#dcd8f5" stroke="none" stroke-width="0.8" opacity="0.85"/>
<path d="M155.19,55.40 L156.10,51.29 L156.90,51.45 L157.61,55.40 Z" fill="#ecc4d8" stroke="none" stroke-width="0.8"/>
<path d="M158.19,63.20 L159.00,66.98 L159.84,66.81 L160.61,63.20 Z" fill="#ecc4d8" stroke="none" stroke-width="0.8"/>
<path d="M161.09,55.40 L162.00,51.29 L162.80,51.45 L163.51,55.40 Z" fill="#ecc4d8" stroke="none" stroke-width="0.8"/>
<path d="M164.09,63.20 L164.90,66.98 L165.74,66.81 L166.51,63.20 Z" fill="#ecc4d8" stroke="none" stroke-width="0.8"/>
<path d="M166.99,55.40 L167.90,51.29 L168.70,51.45 L169.41,55.40 Z" fill="#ecc4d8" stroke="none" stroke-width="0.8"/>
<path d="M169.99,63.20 L170.80,66.98 L171.64,66.81 L172.41,63.20 Z" fill="#ecc4d8" stroke="none" stroke-width="0.8"/>
<path d="M172.89,55.40 L173.80,51.29 L174.59,51.45 L175.31,55.40 Z" fill="#ecc4d8" stroke="none" stroke-width="0.8"/>
<path d="M175.89,63.20 L176.70,66.98 L177.54,66.81 L178.31,63.20 Z" fill="#ecc4d8" stroke="none" stroke-width="0.8"/>
<path d="M178.79,55.40 L179.70,51.29 L180.50,51.45 L181.21,55.40 Z" fill="#ecc4d8" stroke="none" stroke-width="0.8"/>
<path d="M181.79,63.20 L182.60,66.98 L183.44,66.81 L184.21,63.20 Z" fill="#ecc4d8" stroke="none" stroke-width="0.8"/>
<path d="M184.69,55.40 L185.60,51.29 L186.40,51.45 L187.11,55.40 Z" fill="#ecc4d8" stroke="none" stroke-width="0.8"/>
<path d="M187.69,63.20 L188.50,66.98 L189.34,66.81 L190.11,63.20 Z" fill="#ecc4d8" stroke="none" stroke-width="0.8"/>
<path d="M190.59,55.40 L191.50,51.29 L192.30,51.45 L193.01,55.40 Z" fill="#ecc4d8" stroke="none" stroke-width="0.8"/>
<path d="M193.59,63.20 L194.40,66.98 L195.24,66.81 L196.01,63.20 Z" fill="#ecc4d8" stroke="none" stroke-width="0.8"/>
<path d="M196.49,55.40 L197.40,51.29 L198.20,51.45 L198.91,55.40 Z" fill="#ecc4d8" stroke="none" stroke-width="0.8"/>
<path d="M199.49,63.20 L200.30,66.98 L201.14,66.81 L201.91,63.20 Z" fill="#ecc4d8" stroke="none" stroke-width="0.8"/>
<path d="M202.39,55.40 L203.30,51.29 L204.09,51.45 L204.81,55.40 Z" fill="#ecc4d8" stroke="none" stroke-width="0.8"/>
<path d="M205.39,63.20 L206.20,66.98 L207.04,66.81 L207.81,63.20 Z" fill="#ecc4d8" stroke="none" stroke-width="0.8"/>
<path d="M208.29,55.40 L209.20,51.29 L210.00,51.45 L210.71,55.40 Z" fill="#ecc4d8" stroke="none" stroke-width="0.8"/>
<path d="M211.29,63.20 L212.10,66.98 L212.94,66.81 L213.71,63.20 Z" fill="#ecc4d8" stroke="none" stroke-width="0.8"/>
<path d="M214.19,55.40 L215.10,51.29 L215.90,51.45 L216.61,55.40 Z" fill="#ecc4d8" stroke="none" stroke-width="0.8"/>
<path d="M217.19,63.20 L218.00,66.98 L218.84,66.81 L219.61,63.20 Z" fill="#ecc4d8" stroke="none" stroke-width="0.8"/>
<path d="M220.09,55.40 L221.00,51.29 L221.80,51.45 L222.51,55.40 Z" fill="#ecc4d8" stroke="none" stroke-width="0.8"/>
<path d="M223.09,63.20 L223.90,66.98 L224.74,66.81 L225.51,63.20 Z" fill="#ecc4d8" stroke="none" stroke-width="0.8"/>
<path d="M225.99,55.40 L226.90,51.29 L227.70,51.45 L228.41,55.40 Z" fill="#ecc4d8" stroke="none" stroke-width="0.8"/>
<path d="M228.99,63.20 L229.80,66.98 L230.64,66.81 L231.41,63.20 Z" fill="#ecc4d8" stroke="none" stroke-width="0.8"/>
<path d="M231.89,55.40 L232.80,51.29 L233.59,51.45 L234.31,55.40 Z" fill="#ecc4d8" stroke="none" stroke-width="0.8"/>
<path d="M234.89,63.20 L235.70,66.98 L236.54,66.81 L237.31,63.20 Z" fill="#ecc4d8" stroke="none" stroke-width="0.8"/>
<path d="M151.30,56.60 L153.20,50.60 L154.40,50.90 L155.70,56.60 Z" fill="#e26a6a" stroke="none" stroke-width="0.8"/>
<path d="M154.30,62.00 L156.10,67.40 L157.30,67.10 L158.70,62.00 Z" fill="#e26a6a" stroke="none" stroke-width="0.8"/>
<path d="M157.20,56.60 L159.10,50.60 L160.30,50.90 L161.60,56.60 Z" fill="#e26a6a" stroke="none" stroke-width="0.8"/>
<path d="M160.20,62.00 L162.00,67.40 L163.20,67.10 L164.60,62.00 Z" fill="#e26a6a" stroke="none" stroke-width="0.8"/>
<path d="M163.10,56.60 L165.00,50.60 L166.20,50.90 L167.50,56.60 Z" fill="#e26a6a" stroke="none" stroke-width="0.8"/>
<path d="M166.10,62.00 L167.90,67.40 L169.10,67.10 L170.50,62.00 Z" fill="#e26a6a" stroke="none" stroke-width="0.8"/>
<path d="M169.00,56.60 L170.90,50.60 L172.10,50.90 L173.40,56.60 Z" fill="#e26a6a" stroke="none" stroke-width="0.8"/>
<path d="M172.00,62.00 L173.80,67.40 L175.00,67.10 L176.40,62.00 Z" fill="#e26a6a" stroke="none" stroke-width="0.8"/>
<path d="M174.90,56.60 L176.80,50.60 L178.00,50.90 L179.30,56.60 Z" fill="#e26a6a" stroke="none" stroke-width="0.8"/>
<path d="M177.90,62.00 L179.70,67.40 L180.90,67.10 L182.30,62.00 Z" fill="#e26a6a" stroke="none" stroke-width="0.8"/>
<path d="M180.80,56.60 L182.70,50.60 L183.90,50.90 L185.20,56.60 Z" fill="#e26a6a" stroke="none" stroke-width="0.8"/>
<path d="M183.80,62.00 L185.60,67.40 L186.80,67.10 L188.20,62.00 Z" fill="#e26a6a" stroke="none" stroke-width="0.8"/>
<path d="M186.70,56.60 L188.60,50.60 L189.80,50.90 L191.10,56.60 Z" fill="#e26a6a" stroke="none" stroke-width="0.8"/>
<path d="M189.70,62.00 L191.50,67.40 L192.70,67.10 L194.10,62.00 Z" fill="#e26a6a" stroke="none" stroke-width="0.8"/>
<path d="M192.60,56.60 L194.50,50.60 L195.70,50.90 L197.00,56.60 Z" fill="#e26a6a" stroke="none" stroke-width="0.8"/>
<path d="M195.60,62.00 L197.40,67.40 L198.60,67.10 L200.00,62.00 Z" fill="#e26a6a" stroke="none" stroke-width="0.8"/>
<path d="M198.50,56.60 L200.40,50.60 L201.60,50.90 L202.90,56.60 Z" fill="#e26a6a" stroke="none" stroke-width="0.8"/>
<path d="M201.50,62.00 L203.30,67.40 L204.50,67.10 L205.90,62.00 Z" fill="#e26a6a" stroke="none" stroke-width="0.8"/>
<path d="M204.40,56.60 L206.30,50.60 L207.50,50.90 L208.80,56.60 Z" fill="#e26a6a" stroke="none" stroke-width="0.8"/>
<path d="M207.40,62.00 L209.20,67.40 L210.40,67.10 L211.80,62.00 Z" fill="#e26a6a" stroke="none" stroke-width="0.8"/>
<path d="M210.30,56.60 L212.20,50.60 L213.40,50.90 L214.70,56.60 Z" fill="#e26a6a" stroke="none" stroke-width="0.8"/>
<path d="M213.30,62.00 L215.10,67.40 L216.30,67.10 L217.70,62.00 Z" fill="#e26a6a" stroke="none" stroke-width="0.8"/>
<path d="M216.20,56.60 L218.10,50.60 L219.30,50.90 L220.60,56.60 Z" fill="#e26a6a" stroke="none" stroke-width="0.8"/>
<path d="M219.20,62.00 L221.00,67.40 L222.20,67.10 L223.60,62.00 Z" fill="#e26a6a" stroke="none" stroke-width="0.8"/>
<path d="M222.10,56.60 L224.00,50.60 L225.20,50.90 L226.50,56.60 Z" fill="#e26a6a" stroke="none" stroke-width="0.8"/>
<path d="M225.10,62.00 L226.90,67.40 L228.10,67.10 L229.50,62.00 Z" fill="#e26a6a" stroke="none" stroke-width="0.8"/>
<path d="M228.00,56.60 L229.90,50.60 L231.10,50.90 L232.40,56.60 Z" fill="#e26a6a" stroke="none" stroke-width="0.8"/>
<path d="M231.00,62.00 L232.80,67.40 L234.00,67.10 L235.40,62.00 Z" fill="#e26a6a" stroke="none" stroke-width="0.8"/>
<path d="M233.90,56.60 L235.80,50.60 L237.00,50.90 L238.30,56.60 Z" fill="#e26a6a" stroke="none" stroke-width="0.8"/>
<path d="M236.90,62.00 L238.70,67.40 L239.90,67.10 L241.30,62.00 Z" fill="#e26a6a" stroke="none" stroke-width="0.8"/>
<path d="M151.0,54.8 L155.4,54.8 L159.9,54.8 L164.3,54.8 L168.8,54.8 L173.2,54.8 L177.7,54.8 L182.2,54.8 L186.6,54.8 L191.1,54.8 L195.5,54.8 L199.9,54.8 L204.4,54.8 L208.8,54.8 L213.3,54.8 L217.8,54.8 L222.2,54.8 L226.6,54.8 L231.1,54.8 L235.6,54.8 L240.0,54.8 L240.0,63.8 L235.6,63.8 L231.1,63.8 L226.6,63.8 L222.2,63.8 L217.8,63.8 L213.3,63.8 L208.8,63.8 L204.4,63.8 L199.9,63.8 L195.5,63.8 L191.1,63.8 L186.6,63.8 L182.2,63.8 L177.7,63.8 L173.2,63.8 L168.8,63.8 L164.3,63.8 L159.9,63.8 L155.4,63.8 L151.0,63.8Z" fill="url(#lat)" stroke="none" stroke-width="0.8"/>
<path d="M151.0,54.8 L155.4,54.8 L159.9,54.8 L164.3,54.8 L168.8,54.8 L173.2,54.8 L177.7,54.8 L182.2,54.8 L186.6,54.8 L191.1,54.8 L195.5,54.8 L199.9,54.8 L204.4,54.8 L208.8,54.8 L213.3,54.8 L217.8,54.8 L222.2,54.8 L226.6,54.8 L231.1,54.8 L235.6,54.8 L240.0,54.8 L240.0,56.4 L235.6,56.4 L231.1,56.4 L226.6,56.4 L222.2,56.4 L217.8,56.4 L213.3,56.4 L208.8,56.4 L204.4,56.4 L199.9,56.4 L195.5,56.4 L191.1,56.4 L186.6,56.4 L182.2,56.4 L177.7,56.4 L173.2,56.4 L168.8,56.4 L164.3,56.4 L159.9,56.4 L155.4,56.4 L151.0,56.4Z" fill="#e6e2fa" stroke="none" stroke-width="0.8" opacity="0.55"/>
<path d="M149.0,55.8 L154.0,54.8 L154.0,63.8 L149.0,62.8Z" fill="#dcd8f5" stroke="none" stroke-width="0.8" opacity="0.85"/>
<path d="M155.19,83.56 L156.10,79.45 L156.90,79.61 L157.61,83.56 Z" fill="#ecc4d8" stroke="none" stroke-width="0.8"/>
<path d="M158.19,91.36 L159.00,95.14 L159.84,94.97 L160.61,91.36 Z" fill="#ecc4d8" stroke="none" stroke-width="0.8"/>
<path d="M161.09,83.82 L162.00,79.71 L162.80,79.87 L163.51,83.82 Z" fill="#ecc4d8" stroke="none" stroke-width="0.8"/>
<path d="M164.09,91.62 L164.90,95.40 L165.74,95.23 L166.51,91.62 Z" fill="#ecc4d8" stroke="none" stroke-width="0.8"/>
<path d="M166.99,84.17 L167.90,80.06 L168.70,80.23 L169.41,84.17 Z" fill="#ecc4d8" stroke="none" stroke-width="0.8"/>
<path d="M169.99,91.97 L170.80,95.75 L171.64,95.59 L172.41,91.97 Z" fill="#ecc4d8" stroke="none" stroke-width="0.8"/>
<path d="M172.89,84.62 L173.80,80.51 L174.59,80.67 L175.31,84.62 Z" fill="#ecc4d8" stroke="none" stroke-width="0.8"/>
<path d="M175.89,92.42 L176.70,96.20 L177.54,96.03 L178.31,92.42 Z" fill="#ecc4d8" stroke="none" stroke-width="0.8"/>
<path d="M178.79,85.15 L179.70,81.04 L180.50,81.21 L181.21,85.15 Z" fill="#ecc4d8" stroke="none" stroke-width="0.8"/>
<path d="M181.79,92.95 L182.60,96.73 L183.44,96.57 L184.21,92.95 Z" fill="#ecc4d8" stroke="none" stroke-width="0.8"/>
<path d="M184.69,85.78 L185.60,81.67 L186.40,81.84 L187.11,85.78 Z" fill="#ecc4d8" stroke="none" stroke-width="0.8"/>
<path d="M187.69,93.58 L188.50,97.36 L189.34,97.20 L190.11,93.58 Z" fill="#ecc4d8" stroke="none" stroke-width="0.8"/>
<path d="M190.59,86.51 L191.50,82.40 L192.30,82.56 L193.01,86.51 Z" fill="#ecc4d8" stroke="none" stroke-width="0.8"/>
<path d="M193.59,94.31 L194.40,98.09 L195.24,97.92 L196.01,94.31 Z" fill="#ecc4d8" stroke="none" stroke-width="0.8"/>
<path d="M196.49,87.32 L197.40,83.21 L198.20,83.38 L198.91,87.32 Z" fill="#ecc4d8" stroke="none" stroke-width="0.8"/>
<path d="M199.49,95.12 L200.30,98.90 L201.14,98.74 L201.91,95.12 Z" fill="#ecc4d8" stroke="none" stroke-width="0.8"/>
<path d="M202.39,88.23 L203.30,84.12 L204.09,84.29 L204.81,88.23 Z" fill="#ecc4d8" stroke="none" stroke-width="0.8"/>
<path d="M205.39,96.03 L206.20,99.81 L207.04,99.65 L207.81,96.03 Z" fill="#ecc4d8" stroke="none" stroke-width="0.8"/>
<path d="M208.29,89.23 L209.20,85.12 L210.00,85.29 L210.71,89.23 Z" fill="#ecc4d8" stroke="none" stroke-width="0.8"/>
<path d="M211.29,97.03 L212.10,100.81 L212.94,100.65 L213.71,97.03 Z" fill="#ecc4d8" stroke="none" stroke-width="0.8"/>
<path d="M214.19,90.32 L215.10,86.21 L215.90,86.38 L216.61,90.32 Z" fill="#ecc4d8" stroke="none" stroke-width="0.8"/>
<path d="M217.19,98.12 L218.00,101.90 L218.84,101.74 L219.61,98.12 Z" fill="#ecc4d8" stroke="none" stroke-width="0.8"/>
<path d="M220.09,91.51 L221.00,87.40 L221.80,87.56 L222.51,91.51 Z" fill="#ecc4d8" stroke="none" stroke-width="0.8"/>
<path d="M223.09,99.31 L223.90,103.09 L224.74,102.92 L225.51,99.31 Z" fill="#ecc4d8" stroke="none" stroke-width="0.8"/>
<path d="M225.99,92.79 L226.90,88.68 L227.70,88.84 L228.41,92.79 Z" fill="#ecc4d8" stroke="none" stroke-width="0.8"/>
<path d="M228.99,100.59 L229.80,104.37 L230.64,104.20 L231.41,100.59 Z" fill="#ecc4d8" stroke="none" stroke-width="0.8"/>
<path d="M231.89,94.16 L232.80,90.05 L233.59,90.21 L234.31,94.16 Z" fill="#ecc4d8" stroke="none" stroke-width="0.8"/>
<path d="M234.89,101.96 L235.70,105.74 L236.54,105.57 L237.31,101.96 Z" fill="#ecc4d8" stroke="none" stroke-width="0.8"/>
<path d="M237.79,95.62 L238.70,91.51 L239.50,91.68 L240.21,95.62 Z" fill="#ecc4d8" stroke="none" stroke-width="0.8"/>
<path d="M240.79,103.42 L241.60,107.20 L242.44,107.04 L243.21,103.42 Z" fill="#ecc4d8" stroke="none" stroke-width="0.8"/>
<path d="M151.30,84.66 L153.20,78.66 L154.40,78.96 L155.70,84.66 Z" fill="#e26a6a" stroke="none" stroke-width="0.8"/>
<path d="M154.30,90.06 L156.10,95.46 L157.30,95.16 L158.70,90.06 Z" fill="#e26a6a" stroke="none" stroke-width="0.8"/>
<path d="M157.20,84.88 L159.10,78.88 L160.30,79.18 L161.60,84.88 Z" fill="#e26a6a" stroke="none" stroke-width="0.8"/>
<path d="M160.20,90.28 L162.00,95.68 L163.20,95.38 L164.60,90.28 Z" fill="#e26a6a" stroke="none" stroke-width="0.8"/>
<path d="M163.10,85.19 L165.00,79.19 L166.20,79.49 L167.50,85.19 Z" fill="#e26a6a" stroke="none" stroke-width="0.8"/>
<path d="M166.10,90.59 L167.90,95.99 L169.10,95.69 L170.50,90.59 Z" fill="#e26a6a" stroke="none" stroke-width="0.8"/>
<path d="M169.00,85.59 L170.90,79.59 L172.10,79.89 L173.40,85.59 Z" fill="#e26a6a" stroke="none" stroke-width="0.8"/>
<path d="M172.00,90.99 L173.80,96.39 L175.00,96.09 L176.40,90.99 Z" fill="#e26a6a" stroke="none" stroke-width="0.8"/>
<path d="M174.90,86.08 L176.80,80.08 L178.00,80.38 L179.30,86.08 Z" fill="#e26a6a" stroke="none" stroke-width="0.8"/>
<path d="M177.90,91.48 L179.70,96.88 L180.90,96.58 L182.30,91.48 Z" fill="#e26a6a" stroke="none" stroke-width="0.8"/>
<path d="M180.80,86.66 L182.70,80.66 L183.90,80.96 L185.20,86.66 Z" fill="#e26a6a" stroke="none" stroke-width="0.8"/>
<path d="M183.80,92.06 L185.60,97.46 L186.80,97.16 L188.20,92.06 Z" fill="#e26a6a" stroke="none" stroke-width="0.8"/>
<path d="M186.70,87.34 L188.60,81.34 L189.80,81.64 L191.10,87.34 Z" fill="#e26a6a" stroke="none" stroke-width="0.8"/>
<path d="M189.70,92.74 L191.50,98.14 L192.70,97.84 L194.10,92.74 Z" fill="#e26a6a" stroke="none" stroke-width="0.8"/>
<path d="M192.60,88.11 L194.50,82.11 L195.70,82.41 L197.00,88.11 Z" fill="#e26a6a" stroke="none" stroke-width="0.8"/>
<path d="M195.60,93.51 L197.40,98.91 L198.60,98.61 L200.00,93.51 Z" fill="#e26a6a" stroke="none" stroke-width="0.8"/>
<path d="M198.50,88.97 L200.40,82.97 L201.60,83.27 L202.90,88.97 Z" fill="#e26a6a" stroke="none" stroke-width="0.8"/>
<path d="M201.50,94.37 L203.30,99.77 L204.50,99.47 L205.90,94.37 Z" fill="#e26a6a" stroke="none" stroke-width="0.8"/>
<path d="M204.40,89.93 L206.30,83.93 L207.50,84.23 L208.80,89.93 Z" fill="#e26a6a" stroke="none" stroke-width="0.8"/>
<path d="M207.40,95.33 L209.20,100.73 L210.40,100.43 L211.80,95.33 Z" fill="#e26a6a" stroke="none" stroke-width="0.8"/>
<path d="M210.30,90.98 L212.20,84.98 L213.40,85.28 L214.70,90.98 Z" fill="#e26a6a" stroke="none" stroke-width="0.8"/>
<path d="M213.30,96.38 L215.10,101.78 L216.30,101.48 L217.70,96.38 Z" fill="#e26a6a" stroke="none" stroke-width="0.8"/>
<path d="M216.20,92.12 L218.10,86.12 L219.30,86.42 L220.60,92.12 Z" fill="#e26a6a" stroke="none" stroke-width="0.8"/>
<path d="M219.20,97.52 L221.00,102.92 L222.20,102.62 L223.60,97.52 Z" fill="#e26a6a" stroke="none" stroke-width="0.8"/>
<path d="M222.10,93.35 L224.00,87.35 L225.20,87.65 L226.50,93.35 Z" fill="#e26a6a" stroke="none" stroke-width="0.8"/>
<path d="M225.10,98.75 L226.90,104.15 L228.10,103.85 L229.50,98.75 Z" fill="#e26a6a" stroke="none" stroke-width="0.8"/>
<path d="M228.00,94.67 L229.90,88.67 L231.10,88.97 L232.40,94.67 Z" fill="#e26a6a" stroke="none" stroke-width="0.8"/>
<path d="M231.00,100.07 L232.80,105.47 L234.00,105.17 L235.40,100.07 Z" fill="#e26a6a" stroke="none" stroke-width="0.8"/>
<path d="M233.90,96.09 L235.80,90.09 L237.00,90.39 L238.30,96.09 Z" fill="#e26a6a" stroke="none" stroke-width="0.8"/>
<path d="M236.90,101.49 L238.70,106.89 L239.90,106.59 L241.30,101.49 Z" fill="#e26a6a" stroke="none" stroke-width="0.8"/>
<path d="M151.0,82.8 L155.6,82.9 L160.1,83.1 L164.7,83.3 L169.2,83.6 L173.8,84.0 L178.3,84.4 L182.8,84.8 L187.4,85.4 L191.9,85.9 L196.5,86.5 L201.1,87.2 L205.6,88.0 L210.2,88.7 L214.7,89.6 L219.2,90.5 L223.8,91.4 L228.3,92.4 L232.9,93.5 L237.4,94.6 L242.0,95.8 L242.0,104.8 L237.4,103.6 L232.9,102.5 L228.3,101.4 L223.8,100.4 L219.2,99.5 L214.7,98.6 L210.2,97.7 L205.6,97.0 L201.1,96.2 L196.5,95.5 L191.9,94.9 L187.4,94.4 L182.8,93.8 L178.3,93.4 L173.8,93.0 L169.2,92.6 L164.7,92.3 L160.1,92.1 L155.6,91.9 L151.0,91.8Z" fill="url(#lat)" stroke="none" stroke-width="0.8"/>
<path d="M151.0,82.8 L155.6,82.9 L160.1,83.1 L164.7,83.3 L169.2,83.6 L173.8,84.0 L178.3,84.4 L182.8,84.8 L187.4,85.4 L191.9,85.9 L196.5,86.5 L201.1,87.2 L205.6,88.0 L210.2,88.7 L214.7,89.6 L219.2,90.5 L223.8,91.4 L228.3,92.4 L232.9,93.5 L237.4,94.6 L242.0,95.8 L242.0,97.4 L237.4,96.2 L232.9,95.1 L228.3,94.0 L223.8,93.0 L219.2,92.1 L214.7,91.2 L210.2,90.3 L205.6,89.6 L201.1,88.8 L196.5,88.1 L191.9,87.5 L187.4,87.0 L182.8,86.4 L178.3,86.0 L173.8,85.6 L169.2,85.2 L164.7,84.9 L160.1,84.7 L155.6,84.5 L151.0,84.4Z" fill="#e6e2fa" stroke="none" stroke-width="0.8" opacity="0.55"/>
<path d="M149.0,83.8 L154.0,82.8 L154.0,91.8 L149.0,90.8Z" fill="#dcd8f5" stroke="none" stroke-width="0.8" opacity="0.85"/>
<circle cx="159.00" cy="48.00" r="2.10" fill="#8ccc4c" stroke="#5c9a2c" stroke-width="0.45"/>
<circle cx="162.10" cy="48.70" r="2.10" fill="#8ccc4c" stroke="#5c9a2c" stroke-width="0.45"/>
<circle cx="159.00" cy="74.00" r="2.10" fill="#8ccc4c" stroke="#5c9a2c" stroke-width="0.45"/>
<circle cx="162.10" cy="74.70" r="2.10" fill="#8ccc4c" stroke="#5c9a2c" stroke-width="0.45"/>
<circle cx="166.20" cy="48.00" r="2.10" fill="#8ccc4c" stroke="#5c9a2c" stroke-width="0.45"/>
<circle cx="169.30" cy="48.70" r="2.10" fill="#8ccc4c" stroke="#5c9a2c" stroke-width="0.45"/>
<circle cx="166.20" cy="74.00" r="2.10" fill="#8ccc4c" stroke="#5c9a2c" stroke-width="0.45"/>
<circle cx="169.30" cy="74.70" r="2.10" fill="#8ccc4c" stroke="#5c9a2c" stroke-width="0.45"/>
<circle cx="173.40" cy="48.00" r="2.10" fill="#8ccc4c" stroke="#5c9a2c" stroke-width="0.45"/>
<circle cx="176.50" cy="48.70" r="2.10" fill="#8ccc4c" stroke="#5c9a2c" stroke-width="0.45"/>
<circle cx="173.40" cy="74.00" r="2.10" fill="#8ccc4c" stroke="#5c9a2c" stroke-width="0.45"/>
<circle cx="176.50" cy="74.70" r="2.10" fill="#8ccc4c" stroke="#5c9a2c" stroke-width="0.45"/>
<circle cx="180.60" cy="48.00" r="2.10" fill="#8ccc4c" stroke="#5c9a2c" stroke-width="0.45"/>
<circle cx="183.70" cy="48.70" r="2.10" fill="#8ccc4c" stroke="#5c9a2c" stroke-width="0.45"/>
<circle cx="180.60" cy="74.00" r="2.10" fill="#8ccc4c" stroke="#5c9a2c" stroke-width="0.45"/>
<circle cx="183.70" cy="74.70" r="2.10" fill="#8ccc4c" stroke="#5c9a2c" stroke-width="0.45"/>
<circle cx="187.80" cy="48.00" r="2.10" fill="#8ccc4c" stroke="#5c9a2c" stroke-width="0.45"/>
<circle cx="190.90" cy="48.70" r="2.10" fill="#8ccc4c" stroke="#5c9a2c" stroke-width="0.45"/>
<circle cx="187.80" cy="74.00" r="2.10" fill="#8ccc4c" stroke="#5c9a2c" stroke-width="0.45"/>
<circle cx="190.90" cy="74.70" r="2.10" fill="#8ccc4c" stroke="#5c9a2c" stroke-width="0.45"/>
<circle cx="195.00" cy="48.00" r="2.10" fill="#8ccc4c" stroke="#5c9a2c" stroke-width="0.45"/>
<circle cx="198.10" cy="48.70" r="2.10" fill="#8ccc4c" stroke="#5c9a2c" stroke-width="0.45"/>
<circle cx="195.00" cy="74.00" r="2.10" fill="#8ccc4c" stroke="#5c9a2c" stroke-width="0.45"/>
<circle cx="198.10" cy="74.70" r="2.10" fill="#8ccc4c" stroke="#5c9a2c" stroke-width="0.45"/>
<circle cx="202.20" cy="48.00" r="2.10" fill="#8ccc4c" stroke="#5c9a2c" stroke-width="0.45"/>
<circle cx="205.30" cy="48.70" r="2.10" fill="#8ccc4c" stroke="#5c9a2c" stroke-width="0.45"/>
<circle cx="202.20" cy="74.00" r="2.10" fill="#8ccc4c" stroke="#5c9a2c" stroke-width="0.45"/>
<circle cx="205.30" cy="74.70" r="2.10" fill="#8ccc4c" stroke="#5c9a2c" stroke-width="0.45"/>
<circle cx="210.00" cy="47.70" r="2.10" fill="#8ccc4c" stroke="#5c9a2c" stroke-width="0.45"/>
<circle cx="210.00" cy="73.70" r="2.10" fill="#8ccc4c" stroke="#5c9a2c" stroke-width="0.45"/>
<circle cx="216.00" cy="48.00" r="2.10" fill="#8ccc4c" stroke="#5c9a2c" stroke-width="0.45"/>
<circle cx="215.00" cy="40.00" r="2.10" fill="#8ccc4c" stroke="#5c9a2c" stroke-width="0.45"/>
<circle cx="225.00" cy="34.00" r="2.10" fill="#8ccc4c" stroke="#5c9a2c" stroke-width="0.45"/>
<circle cx="218.00" cy="71.00" r="2.10" fill="#8ccc4c" stroke="#5c9a2c" stroke-width="0.45"/>
<circle cx="226.00" cy="71.00" r="2.10" fill="#8ccc4c" stroke="#5c9a2c" stroke-width="0.45"/>
<circle cx="213.00" cy="82.00" r="2.10" fill="#8ccc4c" stroke="#5c9a2c" stroke-width="0.45"/>
<circle cx="227.00" cy="86.00" r="2.10" fill="#8ccc4c" stroke="#5c9a2c" stroke-width="0.45"/>
<circle cx="236.33" cy="17.76" r="0.56" fill="#9ccbf2" stroke="none" stroke-width="0.8"/>
<circle cx="243.98" cy="18.37" r="0.56" fill="#9ccbf2" stroke="none" stroke-width="0.8"/>
<circle cx="241.63" cy="24.08" r="0.56" fill="#9ccbf2" stroke="none" stroke-width="0.8"/>
<circle cx="236.74" cy="22.86" r="0.56" fill="#9ccbf2" stroke="none" stroke-width="0.8"/>
<circle cx="240.20" cy="15.72" r="0.56" fill="#9ccbf2" stroke="none" stroke-width="0.8"/>
<circle cx="238.98" cy="23.67" r="0.56" fill="#9ccbf2" stroke="none" stroke-width="0.8"/>
<circle cx="237.55" cy="18.47" r="1.48" fill="#4a98e4" stroke="none" stroke-width="0.8"/>
<circle cx="240.51" cy="17.04" r="1.48" fill="#4a98e4" stroke="none" stroke-width="0.8"/>
<circle cx="242.75" cy="20.41" r="1.48" fill="#4a98e4" stroke="none" stroke-width="0.8"/>
<circle cx="239.49" cy="22.24" r="1.48" fill="#4a98e4" stroke="none" stroke-width="0.8"/>
<circle cx="240.00" cy="20.00" r="1.07" fill="#e9c060" stroke="none" stroke-width="0.8"/>
<circle cx="232.33" cy="31.76" r="0.56" fill="#9ccbf2" stroke="none" stroke-width="0.8"/>
<circle cx="239.98" cy="32.37" r="0.56" fill="#9ccbf2" stroke="none" stroke-width="0.8"/>
<circle cx="237.63" cy="38.08" r="0.56" fill="#9ccbf2" stroke="none" stroke-width="0.8"/>
<circle cx="232.74" cy="36.86" r="0.56" fill="#9ccbf2" stroke="none" stroke-width="0.8"/>
<circle cx="236.20" cy="29.72" r="0.56" fill="#9ccbf2" stroke="none" stroke-width="0.8"/>
<circle cx="234.98" cy="37.67" r="0.56" fill="#9ccbf2" stroke="none" stroke-width="0.8"/>
<circle cx="233.55" cy="32.47" r="1.48" fill="#4a98e4" stroke="none" stroke-width="0.8"/>
<circle cx="236.51" cy="31.04" r="1.48" fill="#4a98e4" stroke="none" stroke-width="0.8"/>
<circle cx="238.75" cy="34.41" r="1.48" fill="#4a98e4" stroke="none" stroke-width="0.8"/>
<circle cx="235.49" cy="36.24" r="1.48" fill="#4a98e4" stroke="none" stroke-width="0.8"/>
<circle cx="236.00" cy="34.00" r="1.07" fill="#e9c060" stroke="none" stroke-width="0.8"/>
<circle cx="222.33" cy="43.76" r="0.56" fill="#9ccbf2" stroke="none" stroke-width="0.8"/>
<circle cx="229.98" cy="44.37" r="0.56" fill="#9ccbf2" stroke="none" stroke-width="0.8"/>
<circle cx="227.63" cy="50.08" r="0.56" fill="#9ccbf2" stroke="none" stroke-width="0.8"/>
<circle cx="222.74" cy="48.86" r="0.56" fill="#9ccbf2" stroke="none" stroke-width="0.8"/>
<circle cx="226.20" cy="41.72" r="0.56" fill="#9ccbf2" stroke="none" stroke-width="0.8"/>
<circle cx="224.98" cy="49.67" r="0.56" fill="#9ccbf2" stroke="none" stroke-width="0.8"/>
<circle cx="223.55" cy="44.47" r="1.48" fill="#4a98e4" stroke="none" stroke-width="0.8"/>
<circle cx="226.51" cy="43.04" r="1.48" fill="#4a98e4" stroke="none" stroke-width="0.8"/>
<circle cx="228.75" cy="46.41" r="1.48" fill="#4a98e4" stroke="none" stroke-width="0.8"/>
<circle cx="225.49" cy="48.24" r="1.48" fill="#4a98e4" stroke="none" stroke-width="0.8"/>
<circle cx="226.00" cy="46.00" r="1.07" fill="#e9c060" stroke="none" stroke-width="0.8"/>
<circle cx="235.33" cy="41.76" r="0.56" fill="#9ccbf2" stroke="none" stroke-width="0.8"/>
<circle cx="242.98" cy="42.37" r="0.56" fill="#9ccbf2" stroke="none" stroke-width="0.8"/>
<circle cx="240.63" cy="48.08" r="0.56" fill="#9ccbf2" stroke="none" stroke-width="0.8"/>
<circle cx="235.74" cy="46.86" r="0.56" fill="#9ccbf2" stroke="none" stroke-width="0.8"/>
<circle cx="239.20" cy="39.72" r="0.56" fill="#9ccbf2" stroke="none" stroke-width="0.8"/>
<circle cx="237.98" cy="47.67" r="0.56" fill="#9ccbf2" stroke="none" stroke-width="0.8"/>
<circle cx="236.55" cy="42.47" r="1.48" fill="#4a98e4" stroke="none" stroke-width="0.8"/>
<circle cx="239.51" cy="41.04" r="1.48" fill="#4a98e4" stroke="none" stroke-width="0.8"/>
<circle cx="241.75" cy="44.41" r="1.48" fill="#4a98e4" stroke="none" stroke-width="0.8"/>
<circle cx="238.49" cy="46.24" r="1.48" fill="#4a98e4" stroke="none" stroke-width="0.8"/>
<circle cx="239.00" cy="44.00" r="1.07" fill="#e9c060" stroke="none" stroke-width="0.8"/>
<circle cx="233.33" cy="70.76" r="0.56" fill="#9ccbf2" stroke="none" stroke-width="0.8"/>
<circle cx="240.98" cy="71.37" r="0.56" fill="#9ccbf2" stroke="none" stroke-width="0.8"/>
<circle cx="238.63" cy="77.08" r="0.56" fill="#9ccbf2" stroke="none" stroke-width="0.8"/>
<circle cx="233.74" cy="75.86" r="0.56" fill="#9ccbf2" stroke="none" stroke-width="0.8"/>
<circle cx="237.20" cy="68.72" r="0.56" fill="#9ccbf2" stroke="none" stroke-width="0.8"/>
<circle cx="235.98" cy="76.67" r="0.56" fill="#9ccbf2" stroke="none" stroke-width="0.8"/>
<circle cx="234.55" cy="71.47" r="1.48" fill="#4a98e4" stroke="none" stroke-width="0.8"/>
<circle cx="237.51" cy="70.04" r="1.48" fill="#4a98e4" stroke="none" stroke-width="0.8"/>
<circle cx="239.75" cy="73.41" r="1.48" fill="#4a98e4" stroke="none" stroke-width="0.8"/>
<circle cx="236.49" cy="75.24" r="1.48" fill="#4a98e4" stroke="none" stroke-width="0.8"/>
<circle cx="237.00" cy="73.00" r="1.07" fill="#e9c060" stroke="none" stroke-width="0.8"/>
<circle cx="218.33" cy="76.76" r="0.56" fill="#9ccbf2" stroke="none" stroke-width="0.8"/>
<circle cx="225.98" cy="77.37" r="0.56" fill="#9ccbf2" stroke="none" stroke-width="0.8"/>
<circle cx="223.63" cy="83.08" r="0.56" fill="#9ccbf2" stroke="none" stroke-width="0.8"/>
<circle cx="218.74" cy="81.86" r="0.56" fill="#9ccbf2" stroke="none" stroke-width="0.8"/>
<circle cx="222.20" cy="74.72" r="0.56" fill="#9ccbf2" stroke="none" stroke-width="0.8"/>
<circle cx="220.98" cy="82.67" r="0.56" fill="#9ccbf2" stroke="none" stroke-width="0.8"/>
<circle cx="219.55" cy="77.47" r="1.48" fill="#4a98e4" stroke="none" stroke-width="0.8"/>
<circle cx="222.51" cy="76.04" r="1.48" fill="#4a98e4" stroke="none" stroke-width="0.8"/>
<circle cx="224.75" cy="79.41" r="1.48" fill="#4a98e4" stroke="none" stroke-width="0.8"/>
<circle cx="221.49" cy="81.24" r="1.48" fill="#4a98e4" stroke="none" stroke-width="0.8"/>
<circle cx="222.00" cy="79.00" r="1.07" fill="#e9c060" stroke="none" stroke-width="0.8"/>
<circle cx="233.33" cy="85.76" r="0.56" fill="#9ccbf2" stroke="none" stroke-width="0.8"/>
<circle cx="240.98" cy="86.37" r="0.56" fill="#9ccbf2" stroke="none" stroke-width="0.8"/>
<circle cx="238.63" cy="92.08" r="0.56" fill="#9ccbf2" stroke="none" stroke-width="0.8"/>
<circle cx="233.74" cy="90.86" r="0.56" fill="#9ccbf2" stroke="none" stroke-width="0.8"/>
<circle cx="237.20" cy="83.72" r="0.56" fill="#9ccbf2" stroke="none" stroke-width="0.8"/>
<circle cx="235.98" cy="91.67" r="0.56" fill="#9ccbf2" stroke="none" stroke-width="0.8"/>
<circle cx="234.55" cy="86.47" r="1.48" fill="#4a98e4" stroke="none" stroke-width="0.8"/>
<circle cx="237.51" cy="85.04" r="1.48" fill="#4a98e4" stroke="none" stroke-width="0.8"/>
<circle cx="239.75" cy="88.41" r="1.48" fill="#4a98e4" stroke="none" stroke-width="0.8"/>
<circle cx="236.49" cy="90.24" r="1.48" fill="#4a98e4" stroke="none" stroke-width="0.8"/>
<circle cx="237.00" cy="88.00" r="1.07" fill="#e9c060" stroke="none" stroke-width="0.8"/>
<circle cx="242.33" cy="101.76" r="0.56" fill="#9ccbf2" stroke="none" stroke-width="0.8"/>
<circle cx="249.98" cy="102.37" r="0.56" fill="#9ccbf2" stroke="none" stroke-width="0.8"/>
<circle cx="247.63" cy="108.08" r="0.56" fill="#9ccbf2" stroke="none" stroke-width="0.8"/>
<circle cx="242.74" cy="106.86" r="0.56" fill="#9ccbf2" stroke="none" stroke-width="0.8"/>
<circle cx="246.20" cy="99.72" r="0.56" fill="#9ccbf2" stroke="none" stroke-width="0.8"/>
<circle cx="244.98" cy="107.67" r="0.56" fill="#9ccbf2" stroke="none" stroke-width="0.8"/>
<circle cx="243.55" cy="102.47" r="1.48" fill="#4a98e4" stroke="none" stroke-width="0.8"/>
<circle cx="246.51" cy="101.04" r="1.48" fill="#4a98e4" stroke="none" stroke-width="0.8"/>
<circle cx="248.75" cy="104.41" r="1.48" fill="#4a98e4" stroke="none" stroke-width="0.8"/>
<circle cx="245.49" cy="106.24" r="1.48" fill="#4a98e4" stroke="none" stroke-width="0.8"/>
<circle cx="246.00" cy="104.00" r="1.07" fill="#e9c060" stroke="none" stroke-width="0.8"/>
<path d="M229,41 Q244,37 248,21" fill="none" stroke="#d9443a" stroke-width="0.7" stroke-dasharray="1.6,1"/>
<path d="M248.6,19 L249.8,23 L246.6,22.2 Z" fill="#d9443a" stroke="none" stroke-width="0.8"/>
<path d="M226,76 Q243,80 246,97" fill="none" stroke="#d9443a" stroke-width="0.7" stroke-dasharray="1.6,1"/>
<path d="M246.4,99.5 L244.4,95.8 L247.8,95.6 Z" fill="#d9443a" stroke="none" stroke-width="0.8"/>
<circle cx="79.80" cy="127.40" r="3.60" fill="url(#pball)" stroke="none" stroke-width="0.8"/>
<text x="86.60" y="131.00" font-size="8.4" text-anchor="start" font-weight="normal" fill="#222" stroke="#222" stroke-width="0.22">Ti</text>
<circle cx="100.30" cy="127.40" r="3.60" fill="url(#bball)" stroke="none" stroke-width="0.8"/>
<text x="106.60" y="131.00" font-size="8.4" text-anchor="start" font-weight="normal" fill="#222" stroke="#222" stroke-width="0.22">C</text>
<circle cx="118.70" cy="127.40" r="3.60" fill="url(#rball)" stroke="none" stroke-width="0.8"/>
<text x="126.00" y="131.00" font-size="8.4" text-anchor="start" font-weight="normal" fill="#222" stroke="#222" stroke-width="0.22">T<tspan dy="2.10" font-size="5.88">X</tspan><tspan dy="-2.10"></tspan></text>
<circle cx="140.76" cy="124.63" r="0.69" fill="#9ccbf2" stroke="none" stroke-width="0.8"/>
<circle cx="150.21" cy="125.38" r="0.69" fill="#9ccbf2" stroke="none" stroke-width="0.8"/>
<circle cx="147.32" cy="132.44" r="0.69" fill="#9ccbf2" stroke="none" stroke-width="0.8"/>
<circle cx="141.27" cy="130.93" r="0.69" fill="#9ccbf2" stroke="none" stroke-width="0.8"/>
<circle cx="145.55" cy="122.11" r="0.69" fill="#9ccbf2" stroke="none" stroke-width="0.8"/>
<circle cx="144.04" cy="131.94" r="0.69" fill="#9ccbf2" stroke="none" stroke-width="0.8"/>
<circle cx="142.28" cy="125.51" r="1.83" fill="#4a98e4" stroke="none" stroke-width="0.8"/>
<circle cx="145.93" cy="123.75" r="1.83" fill="#4a98e4" stroke="none" stroke-width="0.8"/>
<circle cx="148.70" cy="127.90" r="1.83" fill="#4a98e4" stroke="none" stroke-width="0.8"/>
<circle cx="144.67" cy="130.17" r="1.83" fill="#4a98e4" stroke="none" stroke-width="0.8"/>
<circle cx="145.30" cy="127.40" r="1.32" fill="#e9c060" stroke="none" stroke-width="0.8"/>
<text x="154.30" y="131.00" font-size="8.4" text-anchor="start" font-weight="normal" fill="#222" stroke="#222" stroke-width="0.22">TMA<tspan dy="-2.94" font-size="5.88">+</tspan><tspan dy="2.94"></tspan></text>
<circle cx="180.40" cy="127.40" r="3.60" fill="url(#gball)" stroke="none" stroke-width="0.8"/>
<text x="189.40" y="131.00" font-size="8.4" text-anchor="start" font-weight="normal" fill="#222" stroke="#222" stroke-width="0.22">Li<tspan dy="-2.94" font-size="5.88">+</tspan><tspan dy="2.94"></tspan></text>
<text transform="translate(-0.60,156.00) scale(0.9,1)" font-size="13" font-weight="bold" fill="#000" stroke="#000" stroke-width="0.15">e</text>
<text x="17.60" y="160.60" font-size="8.7" text-anchor="start" font-weight="normal" fill="#222" stroke="#222" stroke-width="0.22">Sprayed MXene</text>
<path d="M14,231 L186,231 L186,252 L14,252 Z" fill="#c9c9cf" stroke="none" stroke-width="0.8"/>
<path d="M14,252 L186,252 L186,259.5 L14,259.5 Z" fill="#bcbcbc" stroke="none" stroke-width="0.8"/>
<path d="M14,231 L116,231 L128,252 L14,252 Z" fill="#d8d5f0" stroke="none" stroke-width="0.8"/>
<path d="M14,252 L128,252 L128,259.5 L14,259.5 Z" fill="#c4c2d2" stroke="none" stroke-width="0.8" opacity="0.6"/>
<line x1="30.00" y1="231.00" x2="33.00" y2="252.00" stroke="#9e9ac8" stroke-width="0.45"/>
<line x1="50.00" y1="231.00" x2="60.00" y2="252.00" stroke="#9e9ac8" stroke-width="0.45"/>
<line x1="72.00" y1="231.00" x2="88.00" y2="252.00" stroke="#9e9ac8" stroke-width="0.45"/>
<line x1="92.00" y1="231.00" x2="106.00" y2="252.00" stroke="#9e9ac8" stroke-width="0.45"/>
<line x1="14.00" y1="240.00" x2="60.00" y2="233.00" stroke="#9e9ac8" stroke-width="0.4"/>
<line x1="14.00" y1="246.00" x2="90.00" y2="236.00" stroke="#9e9ac8" stroke-width="0.4"/>
<path d="M118,231 L186,231 L186,252 L130,252 Z" fill="#c6c6cc" stroke="none" stroke-width="0.8"/>
<path d="M120,234 L145,232 L150,235 L124,237 Z" fill="#d6d4ea" stroke="none" stroke-width="0.8"/>
<path d="M128,239 L160,236 L166,239 L134,242 Z" fill="#d6d4ea" stroke="none" stroke-width="0.8"/>
<path d="M148,231 L186,231 L186,244.5 Z" fill="#d8d6ee" stroke="none" stroke-width="0.8"/>
<ellipse cx="160" cy="246" rx="20" ry="2.6" fill="#d8d5ee" stroke="#b8b6d0" stroke-width="0.4"/>
<path d="M32.6,210 L36,210 L50,231 L16,231 Z" fill="url(#spray)" stroke="none" stroke-width="0.8"/>
<ellipse cx="27" cy="223" rx="3.6" ry="1.4" fill="#f0c8f0" transform="rotate(-25 27 223)"/>
<ellipse cx="33" cy="226" rx="3.6" ry="1.4" fill="#f0c8f0" transform="rotate(-20 33 226)"/>
<ellipse cx="39" cy="228" rx="3.6" ry="1.4" fill="#f0c8f0" transform="rotate(40 39 228)"/>
<ellipse cx="31" cy="219" rx="3.6" ry="1.4" fill="#f0c8f0" transform="rotate(-30 31 219)"/>
<path d="M24.4,164 L43,164 L42.2,191 L36,200 L36,210 L32.6,210 L32.6,200 L25.4,191 Z" fill="url(#nozz)" stroke="#5aa8c8" stroke-width="0.6"/>
<ellipse cx="33.7" cy="164.3" rx="9.3" ry="1" fill="#c0e8f6" stroke="#5aa8c8" stroke-width="0.5"/>
<ellipse cx="31" cy="170" rx="3.6" ry="1.5" fill="#f2c4ec" transform="rotate(30 31 170)"/>
<ellipse cx="36" cy="175" rx="3.6" ry="1.5" fill="#f2c4ec" transform="rotate(30 36 175)"/>
<ellipse cx="29" cy="183" rx="3.6" ry="1.5" fill="#f2c4ec" transform="rotate(-30 29 183)"/>
<ellipse cx="34" cy="186" rx="3.6" ry="1.5" fill="#f2c4ec" transform="rotate(40 34 186)"/>
<ellipse cx="38" cy="181" rx="3.6" ry="1.5" fill="#f2c4ec" transform="rotate(-50 38 181)"/>
<line x1="58.00" y1="172.00" x2="47.60" y2="172.00" stroke="#111" stroke-width="0.7"/>
<path d="M45.6,172 L48.4,170.4 L48.4,173.6 Z" fill="#111" stroke="none" stroke-width="0.8"/>
<path d="M61.5,176.6 L65.5,170.0 L69.5,176.6 L73.5,170.0 L77.5,176.6 L81.5,170.0 L85.5,176.6 L89.5,170.0 L93.5,176.6 L97.5,170.0 L101.5,176.6 L105.5,170.0 L109.5,176.6 L113.5,170.0 L117.5,176.6 L121.5,170.0 L125.5,176.6" fill="none" stroke="#666" stroke-width="0.4"/>
<line x1="61.50" y1="176.60" x2="61.50" y2="183.00" stroke="#666" stroke-width="0.4"/>
<circle cx="61.50" cy="176.60" r="2.60" fill="#c5c1ee" stroke="none" stroke-width="0.8"/>
<circle cx="61.50" cy="183.00" r="1.40" fill="#e06a6a" stroke="none" stroke-width="0.8"/>
<line x1="69.50" y1="176.60" x2="69.50" y2="183.00" stroke="#666" stroke-width="0.4"/>
<circle cx="69.50" cy="176.60" r="2.60" fill="#c5c1ee" stroke="none" stroke-width="0.8"/>
<circle cx="69.50" cy="183.00" r="1.40" fill="#e06a6a" stroke="none" stroke-width="0.8"/>
<line x1="77.50" y1="176.60" x2="77.50" y2="183.00" stroke="#666" stroke-width="0.4"/>
<circle cx="77.50" cy="176.60" r="2.60" fill="#c5c1ee" stroke="none" stroke-width="0.8"/>
<circle cx="77.50" cy="183.00" r="1.40" fill="#e06a6a" stroke="none" stroke-width="0.8"/>
<line x1="85.50" y1="176.60" x2="85.50" y2="183.00" stroke="#666" stroke-width="0.4"/>
<circle cx="85.50" cy="176.60" r="2.60" fill="#c5c1ee" stroke="none" stroke-width="0.8"/>
<circle cx="85.50" cy="183.00" r="1.40" fill="#e06a6a" stroke="none" stroke-width="0.8"/>
<line x1="93.50" y1="176.60" x2="93.50" y2="183.00" stroke="#666" stroke-width="0.4"/>
<circle cx="93.50" cy="176.60" r="2.60" fill="#c5c1ee" stroke="none" stroke-width="0.8"/>
<circle cx="93.50" cy="183.00" r="1.40" fill="#e06a6a" stroke="none" stroke-width="0.8"/>
<line x1="101.50" y1="176.60" x2="101.50" y2="183.00" stroke="#666" stroke-width="0.4"/>
<circle cx="101.50" cy="176.60" r="2.60" fill="#c5c1ee" stroke="none" stroke-width="0.8"/>
<circle cx="101.50" cy="183.00" r="1.40" fill="#e06a6a" stroke="none" stroke-width="0.8"/>
<line x1="109.50" y1="176.60" x2="109.50" y2="183.00" stroke="#666" stroke-width="0.4"/>
<circle cx="109.50" cy="176.60" r="2.60" fill="#c5c1ee" stroke="none" stroke-width="0.8"/>
<circle cx="109.50" cy="183.00" r="1.40" fill="#e06a6a" stroke="none" stroke-width="0.8"/>
<line x1="117.50" y1="176.60" x2="117.50" y2="183.00" stroke="#666" stroke-width="0.4"/>
<circle cx="117.50" cy="176.60" r="2.60" fill="#c5c1ee" stroke="none" stroke-width="0.8"/>
<circle cx="117.50" cy="183.00" r="1.40" fill="#e06a6a" stroke="none" stroke-width="0.8"/>
<line x1="125.50" y1="176.60" x2="125.50" y2="183.00" stroke="#666" stroke-width="0.4"/>
<circle cx="125.50" cy="176.60" r="2.60" fill="#c5c1ee" stroke="none" stroke-width="0.8"/>
<circle cx="125.50" cy="183.00" r="1.40" fill="#e06a6a" stroke="none" stroke-width="0.8"/>
<circle cx="65.50" cy="170.00" r="1.60" fill="#90dede" stroke="none" stroke-width="0.8"/>
<circle cx="73.50" cy="170.00" r="1.60" fill="#90dede" stroke="none" stroke-width="0.8"/>
<circle cx="81.50" cy="170.00" r="1.60" fill="#90dede" stroke="none" stroke-width="0.8"/>
<circle cx="89.50" cy="170.00" r="1.60" fill="#90dede" stroke="none" stroke-width="0.8"/>
<circle cx="97.50" cy="170.00" r="1.60" fill="#90dede" stroke="none" stroke-width="0.8"/>
<circle cx="105.50" cy="170.00" r="1.60" fill="#90dede" stroke="none" stroke-width="0.8"/>
<circle cx="113.50" cy="170.00" r="1.60" fill="#90dede" stroke="none" stroke-width="0.8"/>
<circle cx="121.50" cy="170.00" r="1.60" fill="#90dede" stroke="none" stroke-width="0.8"/>
<path d="M61.5,199.6 L65.5,206.0 L69.5,199.6 L73.5,206.0 L77.5,199.6 L81.5,206.0 L85.5,199.6 L89.5,206.0 L93.5,199.6 L97.5,206.0 L101.5,199.6 L105.5,206.0 L109.5,199.6 L113.5,206.0 L117.5,199.6 L121.5,206.0 L125.5,199.6" fill="none" stroke="#666" stroke-width="0.4"/>
<line x1="61.50" y1="199.60" x2="61.50" y2="193.60" stroke="#666" stroke-width="0.4"/>
<circle cx="61.50" cy="199.60" r="2.60" fill="#c5c1ee" stroke="none" stroke-width="0.8"/>
<circle cx="61.50" cy="193.60" r="1.40" fill="#e06a6a" stroke="none" stroke-width="0.8"/>
<line x1="69.50" y1="199.60" x2="69.50" y2="193.60" stroke="#666" stroke-width="0.4"/>
<circle cx="69.50" cy="199.60" r="2.60" fill="#c5c1ee" stroke="none" stroke-width="0.8"/>
<circle cx="69.50" cy="193.60" r="1.40" fill="#e06a6a" stroke="none" stroke-width="0.8"/>
<line x1="77.50" y1="199.60" x2="77.50" y2="193.60" stroke="#666" stroke-width="0.4"/>
<circle cx="77.50" cy="199.60" r="2.60" fill="#c5c1ee" stroke="none" stroke-width="0.8"/>
<circle cx="77.50" cy="193.60" r="1.40" fill="#e06a6a" stroke="none" stroke-width="0.8"/>
<line x1="85.50" y1="199.60" x2="85.50" y2="193.60" stroke="#666" stroke-width="0.4"/>
<circle cx="85.50" cy="199.60" r="2.60" fill="#c5c1ee" stroke="none" stroke-width="0.8"/>
<circle cx="85.50" cy="193.60" r="1.40" fill="#e06a6a" stroke="none" stroke-width="0.8"/>
<line x1="93.50" y1="199.60" x2="93.50" y2="193.60" stroke="#666" stroke-width="0.4"/>
<circle cx="93.50" cy="199.60" r="2.60" fill="#c5c1ee" stroke="none" stroke-width="0.8"/>
<circle cx="93.50" cy="193.60" r="1.40" fill="#e06a6a" stroke="none" stroke-width="0.8"/>
<line x1="101.50" y1="199.60" x2="101.50" y2="193.60" stroke="#666" stroke-width="0.4"/>
<circle cx="101.50" cy="199.60" r="2.60" fill="#c5c1ee" stroke="none" stroke-width="0.8"/>
<circle cx="101.50" cy="193.60" r="1.40" fill="#e06a6a" stroke="none" stroke-width="0.8"/>
<line x1="109.50" y1="199.60" x2="109.50" y2="193.60" stroke="#666" stroke-width="0.4"/>
<circle cx="109.50" cy="199.60" r="2.60" fill="#c5c1ee" stroke="none" stroke-width="0.8"/>
<circle cx="109.50" cy="193.60" r="1.40" fill="#e06a6a" stroke="none" stroke-width="0.8"/>
<line x1="117.50" y1="199.60" x2="117.50" y2="193.60" stroke="#666" stroke-width="0.4"/>
<circle cx="117.50" cy="199.60" r="2.60" fill="#c5c1ee" stroke="none" stroke-width="0.8"/>
<circle cx="117.50" cy="193.60" r="1.40" fill="#e06a6a" stroke="none" stroke-width="0.8"/>
<line x1="125.50" y1="199.60" x2="125.50" y2="193.60" stroke="#666" stroke-width="0.4"/>
<circle cx="125.50" cy="199.60" r="2.60" fill="#c5c1ee" stroke="none" stroke-width="0.8"/>
<circle cx="125.50" cy="193.60" r="1.40" fill="#e06a6a" stroke="none" stroke-width="0.8"/>
<circle cx="65.50" cy="206.00" r="1.60" fill="#90dede" stroke="none" stroke-width="0.8"/>
<circle cx="73.50" cy="206.00" r="1.60" fill="#90dede" stroke="none" stroke-width="0.8"/>
<circle cx="81.50" cy="206.00" r="1.60" fill="#90dede" stroke="none" stroke-width="0.8"/>
<circle cx="89.50" cy="206.00" r="1.60" fill="#90dede" stroke="none" stroke-width="0.8"/>
<circle cx="97.50" cy="206.00" r="1.60" fill="#90dede" stroke="none" stroke-width="0.8"/>
<circle cx="105.50" cy="206.00" r="1.60" fill="#90dede" stroke="none" stroke-width="0.8"/>
<circle cx="113.50" cy="206.00" r="1.60" fill="#90dede" stroke="none" stroke-width="0.8"/>
<circle cx="121.50" cy="206.00" r="1.60" fill="#90dede" stroke="none" stroke-width="0.8"/>
<circle cx="65.00" cy="188.20" r="1.60" fill="#86d6a0" stroke="none" stroke-width="0.8"/>
<circle cx="63.28" cy="189.84" r="0.75" fill="#e8c050" stroke="none" stroke-width="0.8"/>
<circle cx="66.72" cy="189.36" r="0.75" fill="#e8c050" stroke="none" stroke-width="0.8"/>
<circle cx="73.20" cy="188.20" r="1.60" fill="#86d6a0" stroke="none" stroke-width="0.8"/>
<circle cx="71.95" cy="189.03" r="0.75" fill="#e8c050" stroke="none" stroke-width="0.8"/>
<circle cx="74.45" cy="190.17" r="0.75" fill="#e8c050" stroke="none" stroke-width="0.8"/>
<circle cx="81.40" cy="188.20" r="1.60" fill="#86d6a0" stroke="none" stroke-width="0.8"/>
<circle cx="79.82" cy="189.98" r="0.75" fill="#e8c050" stroke="none" stroke-width="0.8"/>
<circle cx="82.98" cy="189.22" r="0.75" fill="#e8c050" stroke="none" stroke-width="0.8"/>
<circle cx="89.60" cy="188.20" r="1.60" fill="#86d6a0" stroke="none" stroke-width="0.8"/>
<circle cx="88.95" cy="190.35" r="0.75" fill="#e8c050" stroke="none" stroke-width="0.8"/>
<circle cx="90.25" cy="188.85" r="0.75" fill="#e8c050" stroke="none" stroke-width="0.8"/>
<circle cx="97.80" cy="188.20" r="1.60" fill="#86d6a0" stroke="none" stroke-width="0.8"/>
<circle cx="96.14" cy="189.29" r="0.75" fill="#e8c050" stroke="none" stroke-width="0.8"/>
<circle cx="99.46" cy="189.91" r="0.75" fill="#e8c050" stroke="none" stroke-width="0.8"/>
<circle cx="106.00" cy="188.20" r="1.60" fill="#86d6a0" stroke="none" stroke-width="0.8"/>
<circle cx="104.88" cy="190.23" r="0.75" fill="#e8c050" stroke="none" stroke-width="0.8"/>
<circle cx="107.12" cy="188.97" r="0.75" fill="#e8c050" stroke="none" stroke-width="0.8"/>
<circle cx="114.20" cy="188.20" r="1.60" fill="#86d6a0" stroke="none" stroke-width="0.8"/>
<circle cx="113.23" cy="188.93" r="0.75" fill="#e8c050" stroke="none" stroke-width="0.8"/>
<circle cx="115.17" cy="190.27" r="0.75" fill="#e8c050" stroke="none" stroke-width="0.8"/>
<circle cx="122.40" cy="188.20" r="1.60" fill="#86d6a0" stroke="none" stroke-width="0.8"/>
<circle cx="120.64" cy="189.76" r="0.75" fill="#e8c050" stroke="none" stroke-width="0.8"/>
<circle cx="124.16" cy="189.44" r="0.75" fill="#e8c050" stroke="none" stroke-width="0.8"/>
<circle cx="84.00" cy="214.00" r="1.70" fill="#86d6a0" stroke="none" stroke-width="0.8"/>
<circle cx="82.00" cy="216.20" r="0.80" fill="#e8c050" stroke="none" stroke-width="0.8"/>
<circle cx="86.00" cy="216.20" r="0.80" fill="#e8c050" stroke="none" stroke-width="0.8"/>
<text x="90.00" y="216.80" font-size="8.4" text-anchor="start" font-weight="normal" fill="#222" stroke="#222" stroke-width="0.22">H<tspan dy="2.10" font-size="5.88">2</tspan><tspan dy="-2.10">O</tspan></text>
<rect x="141.00" y="167.00" width="18.00" height="12.00" fill="url(#lhead)" stroke="none" stroke-width="0.8"/>
<line x1="141.00" y1="176.00" x2="159.00" y2="176.00" stroke="#7aa4d0" stroke-width="0.6"/>
<path d="M141.5,179 L158.5,179 L158.5,188 Q158,192 154,193 L146,193 Q142,192 141.5,188 Z" fill="url(#lhead2)" stroke="none" stroke-width="0.8"/>
<rect x="148.00" y="193.00" width="3.00" height="1.60" fill="#9aa4aa" stroke="none" stroke-width="0.8"/>
<rect x="148.60" y="194.00" width="1.70" height="41.00" fill="#f04040" stroke="none" stroke-width="0.8"/>
<ellipse cx="149.4" cy="234.5" rx="10" ry="5" fill="url(#glow)"/>
<text x="157.60" y="202.40" font-size="8.8" text-anchor="start" font-weight="normal" fill="#222" stroke="#222" stroke-width="0.22">Laser</text>
<path d="M48,235.5 L51,229.5 L54,235.5 L52.3,235.5 L51.8,244.5 L50.2,244.5 L49.7,235.5 Z" fill="url(#evap)" stroke="none" stroke-width="0.8"/>
<path d="M61,235.5 L64,229.5 L67,235.5 L65.3,235.5 L64.8,244.5 L63.2,244.5 L62.7,235.5 Z" fill="url(#evap)" stroke="none" stroke-width="0.8"/>
<text x="73.50" y="247.00" font-size="8.7" text-anchor="start" font-weight="normal" fill="#222" stroke="#222" stroke-width="0.22">Evaporation</text>
<text transform="translate(330.60,157.40) scale(0.9,1)" font-size="13" font-weight="bold" fill="#000" stroke="#000" stroke-width="0.15">g</text>
<rect x="338.40" y="161.00" width="59.60" height="48.00" fill="url(#g1bg)" stroke="none" stroke-width="0.8"/>
<path d="M344,172 Q368,168 394,172 L392,196 Q368,209 346,196 Z" fill="#e4e4e4" stroke="#c8c8c8" stroke-width="0.6"/>
<path d="M350.4,172.5 Q369.7,170.5 389,172.5 L388,186 Q386,196 368,201.6 Q351,196 350.6,186 Z" fill="#3a3a3a" stroke="none" stroke-width="0.8"/>
<path d="M352.6,175 L366.5,175 L366.5,199 Q355,195 352.8,186 Z" fill="url(#shl)" stroke="none" stroke-width="0.8"/>
<path d="M369,175 L386.6,175 L386.2,186 Q384,194 369,199 Z" fill="url(#shr)" stroke="none" stroke-width="0.8"/>
<line x1="355.00" y1="178.00" x2="355.00" y2="194.00" stroke="#9a9a9a" stroke-width="0.5"/>
<line x1="357.20" y1="178.00" x2="357.20" y2="194.00" stroke="#9a9a9a" stroke-width="0.5"/>
<line x1="359.40" y1="178.00" x2="359.40" y2="194.00" stroke="#9a9a9a" stroke-width="0.5"/>
<line x1="361.60" y1="178.00" x2="361.60" y2="194.00" stroke="#9a9a9a" stroke-width="0.5"/>
<line x1="363.80" y1="178.00" x2="363.80" y2="194.00" stroke="#9a9a9a" stroke-width="0.5"/>
<line x1="372.00" y1="178.00" x2="384.00" y2="178.00" stroke="#aaa" stroke-width="0.6"/>
<line x1="378.00" y1="178.00" x2="378.00" y2="195.00" stroke="#aaa" stroke-width="0.6"/>
<line x1="373.00" y1="181.00" x2="383.00" y2="181.00" stroke="#aaa" stroke-width="0.5"/>
<line x1="352.00" y1="173.80" x2="388.00" y2="173.80" stroke="#c8c8c8" stroke-width="0.5"/>
<rect x="385.00" y="205.50" width="11.00" height="1.30" fill="#fff" stroke="none" stroke-width="0.8"/>
<rect x="338.60" y="213.60" width="59.40" height="48.00" fill="#ebe7e3" stroke="none" stroke-width="0.8"/>
<path d="M349,222 Q369,212 392,224 L391,261.6 L350,261.6 Z" fill="#d9dce0" stroke="none" stroke-width="0.8"/>
<path d="M350,240 Q368,236 390,240 L390,261.6 L350,261.6 Z" fill="#aab8cc" stroke="none" stroke-width="0.8"/>
<path d="M352,243 L367,248 L367,261.6 L353,261.6 Z" fill="#6a7890" stroke="none" stroke-width="0.8" opacity="0.85"/>
<path d="M371,248 L387,242 L387,261.6 L371,261.6 Z" fill="#6a7890" stroke="none" stroke-width="0.8" opacity="0.85"/>
<path d="M356,249 L364,251 L364,259 L356,258 Z" fill="#b0bccc" stroke="none" stroke-width="0.8"/>
<path d="M374,251 L383,248 L383,256 L374,258 Z" fill="#b0bccc" stroke="none" stroke-width="0.8"/>
<path d="M352.0,226 Q370,216 389.0,228" fill="none" stroke="#7a7e84" stroke-width="0.45"/>
<path d="M353.5,229 Q370,219 387.5,231" fill="none" stroke="#7a7e84" stroke-width="0.45"/>
<path d="M355.0,232 Q370,222 386.0,234" fill="none" stroke="#7a7e84" stroke-width="0.45"/>
<path d="M356.5,235 Q370,225 384.5,237" fill="none" stroke="#7a7e84" stroke-width="0.45"/>
<path d="M358.0,238 Q370,228 383.0,240" fill="none" stroke="#7a7e84" stroke-width="0.45"/>
<line x1="369.00" y1="216.00" x2="369.00" y2="261.60" stroke="#c4ccd8" stroke-width="1.5"/>
<path d="M338.6,229 Q343,224 349,228 Q353,232 352,240 L354,261.6 L338.6,261.6 Z" fill="#3f8fe8" stroke="none" stroke-width="0.8"/>
<path d="M341,232 Q345,229 349,233 L349,240 Q345,237 341,240 Z" fill="#62a8f2" stroke="none" stroke-width="0.8"/>
<path d="M385,234 Q390,228 396,232 L398,236 L398,261.6 L386,261.6 Q384,250 385,234 Z" fill="#3f8fe8" stroke="none" stroke-width="0.8"/>
<path d="M390,236 Q394,234 397,238 L397,244 Q393,241 390,244 Z" fill="#62a8f2" stroke="none" stroke-width="0.8"/>
<rect x="383.00" y="258.60" width="12.00" height="1.30" fill="#fff" stroke="none" stroke-width="0.8"/>
<rect x="405.00" y="161.00" width="114.00" height="15.00" fill="url(#semtop)" stroke="none" stroke-width="0.8"/>
<path d="M405,174.5 Q430,174 455,173.5 Q470,172 490,173 Q505,173.5 519,172.5 L519,195 L405,195 Z" fill="url(#semblue)" stroke="none" stroke-width="0.8"/>
<rect x="405.00" y="195.00" width="114.00" height="41.00" fill="url(#semyel)" stroke="none" stroke-width="0.8"/>
<rect x="405.00" y="236.00" width="114.00" height="25.00" fill="url(#semgray)" stroke="none" stroke-width="0.8"/>
<path d="M405,239 Q425,236 445,240 T485,239 T519,237" fill="none" stroke="#b0b0b0" stroke-width="0.5" opacity="0.7"/>
<path d="M405,243 Q425,240 445,244 T485,243 T519,241" fill="none" stroke="#b0b0b0" stroke-width="0.5" opacity="0.7"/>
<path d="M405,247 Q425,244 445,248 T485,247 T519,245" fill="none" stroke="#b0b0b0" stroke-width="0.5" opacity="0.7"/>
<path d="M405,251 Q425,248 445,252 T485,251 T519,249" fill="none" stroke="#b0b0b0" stroke-width="0.5" opacity="0.7"/>
<path d="M405,255 Q425,252 445,256 T485,255 T519,253" fill="none" stroke="#b0b0b0" stroke-width="0.5" opacity="0.7"/>
<path d="M405,259 Q425,256 445,260 T485,259 T519,257" fill="none" stroke="#b0b0b0" stroke-width="0.5" opacity="0.7"/>
<path d="M405,178.0 Q430,179.5 455,178.0 T505,178.5 L519,178.0" fill="none" stroke="#7ea6d4" stroke-width="0.5" opacity="0.6"/>
<path d="M405,181.5 Q430,183.0 455,181.5 T505,182.0 L519,181.5" fill="none" stroke="#7ea6d4" stroke-width="0.5" opacity="0.6"/>
<path d="M405,185.0 Q430,186.5 455,185.0 T505,185.5 L519,185.0" fill="none" stroke="#7ea6d4" stroke-width="0.5" opacity="0.6"/>
<path d="M405,188.5 Q430,190.0 455,188.5 T505,189.0 L519,188.5" fill="none" stroke="#7ea6d4" stroke-width="0.5" opacity="0.6"/>
<path d="M405,192.0 Q430,193.5 455,192.0 T505,192.5 L519,192.0" fill="none" stroke="#7ea6d4" stroke-width="0.5" opacity="0.6"/>
<path d="M405,229 Q440,226 470,230 T519,228" fill="none" stroke="#e2e6a0" stroke-width="0.8"/>
<path d="M405,233 Q440,232 470,234 T519,233" fill="none" stroke="#dfe49a" stroke-width="0.6"/>
<ellipse cx="442.3" cy="177.9" rx="1.6" ry="0.4" fill="#9ab8dc" opacity="0.5"/>
<ellipse cx="498.0" cy="176.8" rx="1.5" ry="0.4" fill="#9ab8dc" opacity="0.5"/>
<ellipse cx="410.2" cy="183.2" rx="0.7" ry="0.4" fill="#9ab8dc" opacity="0.5"/>
<ellipse cx="467.7" cy="176.1" rx="1.5" ry="0.4" fill="#9ab8dc" opacity="0.5"/>
<ellipse cx="476.6" cy="186.1" rx="0.7" ry="0.4" fill="#4e78a8" opacity="0.5"/>
<ellipse cx="411.6" cy="179.2" rx="1.5" ry="0.4" fill="#9ab8dc" opacity="0.5"/>
<ellipse cx="438.4" cy="177.7" rx="0.8" ry="0.4" fill="#4e78a8" opacity="0.5"/>
<ellipse cx="468.7" cy="188.0" rx="0.8" ry="0.4" fill="#9ab8dc" opacity="0.5"/>
<ellipse cx="447.7" cy="185.4" rx="0.7" ry="0.4" fill="#9ab8dc" opacity="0.5"/>
<ellipse cx="475.3" cy="184.4" rx="1.5" ry="0.4" fill="#4e78a8" opacity="0.5"/>
<ellipse cx="458.1" cy="192.5" rx="1.2" ry="0.4" fill="#9ab8dc" opacity="0.5"/>
<ellipse cx="495.0" cy="188.3" rx="1.0" ry="0.4" fill="#4e78a8" opacity="0.5"/>
<ellipse cx="464.8" cy="191.6" rx="1.8" ry="0.4" fill="#4e78a8" opacity="0.5"/>
<ellipse cx="474.2" cy="176.4" rx="1.4" ry="0.4" fill="#9ab8dc" opacity="0.5"/>
<ellipse cx="490.8" cy="177.9" rx="1.4" ry="0.4" fill="#9ab8dc" opacity="0.5"/>
<ellipse cx="513.7" cy="176.5" rx="1.5" ry="0.4" fill="#4e78a8" opacity="0.5"/>
<ellipse cx="444.1" cy="181.7" rx="1.4" ry="0.4" fill="#4e78a8" opacity="0.5"/>
<ellipse cx="413.7" cy="176.8" rx="1.0" ry="0.4" fill="#9ab8dc" opacity="0.5"/>
<ellipse cx="412.8" cy="188.3" rx="1.6" ry="0.4" fill="#4e78a8" opacity="0.5"/>
<ellipse cx="437.9" cy="182.3" rx="1.7" ry="0.4" fill="#9ab8dc" opacity="0.5"/>
<ellipse cx="511.4" cy="181.8" rx="1.6" ry="0.4" fill="#4e78a8" opacity="0.5"/>
<ellipse cx="412.6" cy="189.6" rx="0.8" ry="0.4" fill="#9ab8dc" opacity="0.5"/>
<ellipse cx="450.6" cy="192.4" rx="1.4" ry="0.4" fill="#9ab8dc" opacity="0.5"/>
<ellipse cx="456.3" cy="185.4" rx="2.0" ry="0.4" fill="#4e78a8" opacity="0.5"/>
<ellipse cx="502.8" cy="180.3" rx="1.3" ry="0.4" fill="#4e78a8" opacity="0.5"/>
<ellipse cx="482.5" cy="182.2" rx="1.0" ry="0.4" fill="#9ab8dc" opacity="0.5"/>
<ellipse cx="425.7" cy="179.4" rx="1.0" ry="0.4" fill="#4e78a8" opacity="0.5"/>
<ellipse cx="499.1" cy="178.5" rx="1.1" ry="0.4" fill="#9ab8dc" opacity="0.5"/>
<ellipse cx="452.9" cy="182.0" rx="1.5" ry="0.4" fill="#9ab8dc" opacity="0.5"/>
<ellipse cx="483.3" cy="184.8" rx="1.6" ry="0.4" fill="#9ab8dc" opacity="0.5"/>
<ellipse cx="457.1" cy="191.5" rx="2.1" ry="0.4" fill="#4e78a8" opacity="0.5"/>
<ellipse cx="450.6" cy="182.5" rx="1.4" ry="0.4" fill="#4e78a8" opacity="0.5"/>
<ellipse cx="413.0" cy="176.3" rx="0.9" ry="0.4" fill="#9ab8dc" opacity="0.5"/>
<ellipse cx="418.3" cy="186.4" rx="0.8" ry="0.4" fill="#9ab8dc" opacity="0.5"/>
<ellipse cx="466.1" cy="193.0" rx="1.6" ry="0.4" fill="#9ab8dc" opacity="0.5"/>
<ellipse cx="503.9" cy="186.7" rx="0.8" ry="0.4" fill="#4e78a8" opacity="0.5"/>
<ellipse cx="513.0" cy="186.4" rx="1.4" ry="0.4" fill="#9ab8dc" opacity="0.5"/>
<ellipse cx="501.1" cy="193.9" rx="1.3" ry="0.4" fill="#4e78a8" opacity="0.5"/>
<ellipse cx="440.9" cy="177.7" rx="1.8" ry="0.4" fill="#4e78a8" opacity="0.5"/>
<ellipse cx="459.6" cy="188.1" rx="1.4" ry="0.4" fill="#9ab8dc" opacity="0.5"/>
<ellipse cx="512.5" cy="185.0" rx="0.8" ry="0.4" fill="#9ab8dc" opacity="0.5"/>
<ellipse cx="490.9" cy="180.7" rx="1.6" ry="0.4" fill="#9ab8dc" opacity="0.5"/>
<ellipse cx="484.0" cy="180.0" rx="1.2" ry="0.4" fill="#9ab8dc" opacity="0.5"/>
<ellipse cx="445.8" cy="179.2" rx="1.5" ry="0.4" fill="#4e78a8" opacity="0.5"/>
<ellipse cx="477.3" cy="186.7" rx="1.9" ry="0.4" fill="#9ab8dc" opacity="0.5"/>
<ellipse cx="496.3" cy="190.5" rx="1.8" ry="0.4" fill="#9ab8dc" opacity="0.5"/>
<ellipse cx="428.4" cy="184.4" rx="1.8" ry="0.4" fill="#9ab8dc" opacity="0.5"/>
<ellipse cx="494.5" cy="184.0" rx="0.9" ry="0.4" fill="#4e78a8" opacity="0.5"/>
<ellipse cx="456.1" cy="192.8" rx="2.2" ry="0.4" fill="#4e78a8" opacity="0.5"/>
<ellipse cx="415.0" cy="176.9" rx="1.4" ry="0.4" fill="#4e78a8" opacity="0.5"/>
<ellipse cx="428.9" cy="186.9" rx="2.0" ry="0.4" fill="#9ab8dc" opacity="0.5"/>
<ellipse cx="459.7" cy="187.4" rx="1.9" ry="0.4" fill="#9ab8dc" opacity="0.5"/>
<ellipse cx="499.5" cy="177.3" rx="1.2" ry="0.4" fill="#9ab8dc" opacity="0.5"/>
<ellipse cx="459.5" cy="178.4" rx="1.9" ry="0.4" fill="#4e78a8" opacity="0.5"/>
<ellipse cx="415.7" cy="193.0" rx="1.8" ry="0.4" fill="#4e78a8" opacity="0.5"/>
<ellipse cx="451.0" cy="193.0" rx="1.8" ry="0.4" fill="#9ab8dc" opacity="0.5"/>
<ellipse cx="517.2" cy="175.5" rx="1.5" ry="0.4" fill="#4e78a8" opacity="0.5"/>
<ellipse cx="496.3" cy="177.8" rx="1.9" ry="0.4" fill="#4e78a8" opacity="0.5"/>
<ellipse cx="479.6" cy="181.7" rx="1.5" ry="0.4" fill="#9ab8dc" opacity="0.5"/>
<ellipse cx="408.4" cy="190.2" rx="1.8" ry="0.4" fill="#9ab8dc" opacity="0.5"/>
<ellipse cx="465.0" cy="192.7" rx="1.3" ry="0.4" fill="#9ab8dc" opacity="0.5"/>
<ellipse cx="498.5" cy="179.0" rx="1.0" ry="0.4" fill="#4e78a8" opacity="0.5"/>
<ellipse cx="462.1" cy="189.5" rx="1.1" ry="0.4" fill="#4e78a8" opacity="0.5"/>
<ellipse cx="499.4" cy="176.2" rx="1.8" ry="0.4" fill="#4e78a8" opacity="0.5"/>
<ellipse cx="480.2" cy="190.5" rx="1.4" ry="0.4" fill="#9ab8dc" opacity="0.5"/>
<ellipse cx="465.6" cy="184.9" rx="0.6" ry="0.4" fill="#4e78a8" opacity="0.5"/>
<ellipse cx="493.0" cy="186.6" rx="1.8" ry="0.4" fill="#9ab8dc" opacity="0.5"/>
<ellipse cx="425.3" cy="184.0" rx="1.8" ry="0.4" fill="#9ab8dc" opacity="0.5"/>
<ellipse cx="442.5" cy="184.8" rx="1.5" ry="0.4" fill="#9ab8dc" opacity="0.5"/>
<ellipse cx="504.9" cy="176.1" rx="0.9" ry="0.4" fill="#9ab8dc" opacity="0.5"/>
<ellipse cx="492.5" cy="184.6" rx="1.5" ry="0.4" fill="#9ab8dc" opacity="0.5"/>
<ellipse cx="455.6" cy="186.6" rx="1.4" ry="0.4" fill="#9ab8dc" opacity="0.5"/>
<ellipse cx="483.6" cy="183.6" rx="1.5" ry="0.4" fill="#4e78a8" opacity="0.5"/>
<ellipse cx="462.9" cy="179.7" rx="1.4" ry="0.4" fill="#4e78a8" opacity="0.5"/>
<ellipse cx="509.4" cy="192.0" rx="0.9" ry="0.4" fill="#4e78a8" opacity="0.5"/>
<ellipse cx="421.4" cy="177.3" rx="1.3" ry="0.4" fill="#9ab8dc" opacity="0.5"/>
<ellipse cx="481.2" cy="183.1" rx="0.9" ry="0.4" fill="#4e78a8" opacity="0.5"/>
<ellipse cx="493.8" cy="192.0" rx="0.8" ry="0.4" fill="#4e78a8" opacity="0.5"/>
<ellipse cx="422.0" cy="191.8" rx="2.1" ry="0.4" fill="#9ab8dc" opacity="0.5"/>
<ellipse cx="489.6" cy="176.8" rx="2.0" ry="0.4" fill="#9ab8dc" opacity="0.5"/>
<ellipse cx="516.9" cy="190.8" rx="0.9" ry="0.4" fill="#4e78a8" opacity="0.5"/>
<ellipse cx="517.3" cy="182.7" rx="1.3" ry="0.4" fill="#4e78a8" opacity="0.5"/>
<ellipse cx="441.7" cy="188.7" rx="0.6" ry="0.4" fill="#4e78a8" opacity="0.5"/>
<ellipse cx="455.3" cy="175.3" rx="1.1" ry="0.4" fill="#4e78a8" opacity="0.5"/>
<ellipse cx="463.4" cy="176.2" rx="2.2" ry="0.4" fill="#9ab8dc" opacity="0.5"/>
<ellipse cx="514.8" cy="177.0" rx="1.0" ry="0.4" fill="#9ab8dc" opacity="0.5"/>
<ellipse cx="507.5" cy="178.4" rx="1.8" ry="0.4" fill="#4e78a8" opacity="0.5"/>
<ellipse cx="501.2" cy="187.8" rx="2.1" ry="0.4" fill="#4e78a8" opacity="0.5"/>
<ellipse cx="422.7" cy="192.5" rx="1.5" ry="0.4" fill="#4e78a8" opacity="0.5"/>
<ellipse cx="416.0" cy="176.1" rx="1.7" ry="0.4" fill="#4e78a8" opacity="0.5"/>
<ellipse cx="506.3" cy="180.1" rx="0.6" ry="0.4" fill="#9ab8dc" opacity="0.5"/>
<ellipse cx="495.8" cy="176.6" rx="2.0" ry="0.4" fill="#9ab8dc" opacity="0.5"/>
<ellipse cx="435.6" cy="177.3" rx="0.6" ry="0.4" fill="#4e78a8" opacity="0.5"/>
<ellipse cx="509.8" cy="180.1" rx="0.8" ry="0.4" fill="#9ab8dc" opacity="0.5"/>
<ellipse cx="511.1" cy="193.4" rx="1.0" ry="0.4" fill="#9ab8dc" opacity="0.5"/>
<ellipse cx="428.6" cy="180.9" rx="1.1" ry="0.4" fill="#9ab8dc" opacity="0.5"/>
<ellipse cx="438.5" cy="184.5" rx="0.9" ry="0.4" fill="#4e78a8" opacity="0.5"/>
<ellipse cx="496.0" cy="193.9" rx="0.7" ry="0.4" fill="#9ab8dc" opacity="0.5"/>
<ellipse cx="488.1" cy="185.5" rx="0.9" ry="0.4" fill="#4e78a8" opacity="0.5"/>
<ellipse cx="433.5" cy="183.5" rx="1.7" ry="0.4" fill="#4e78a8" opacity="0.5"/>
<ellipse cx="479.5" cy="185.4" rx="2.0" ry="0.4" fill="#4e78a8" opacity="0.5"/>
<ellipse cx="483.0" cy="193.7" rx="1.1" ry="0.4" fill="#9ab8dc" opacity="0.5"/>
<ellipse cx="451.3" cy="181.6" rx="0.7" ry="0.4" fill="#9ab8dc" opacity="0.5"/>
<ellipse cx="407.6" cy="186.9" rx="2.0" ry="0.4" fill="#4e78a8" opacity="0.5"/>
<ellipse cx="424.3" cy="176.6" rx="1.9" ry="0.4" fill="#4e78a8" opacity="0.5"/>
<ellipse cx="473.1" cy="188.2" rx="0.7" ry="0.4" fill="#9ab8dc" opacity="0.5"/>
<ellipse cx="423.6" cy="183.5" rx="1.0" ry="0.4" fill="#4e78a8" opacity="0.5"/>
<ellipse cx="514.9" cy="185.4" rx="1.0" ry="0.4" fill="#4e78a8" opacity="0.5"/>
<ellipse cx="430.4" cy="178.5" rx="1.1" ry="0.4" fill="#9ab8dc" opacity="0.5"/>
<ellipse cx="459.2" cy="184.6" rx="0.9" ry="0.4" fill="#9ab8dc" opacity="0.5"/>
<ellipse cx="416.2" cy="190.5" rx="0.8" ry="0.4" fill="#9ab8dc" opacity="0.5"/>
<ellipse cx="450.1" cy="180.7" rx="1.6" ry="0.4" fill="#9ab8dc" opacity="0.5"/>
<ellipse cx="471.6" cy="185.1" rx="1.8" ry="0.4" fill="#4e78a8" opacity="0.5"/>
<ellipse cx="491.6" cy="188.7" rx="1.4" ry="0.4" fill="#4e78a8" opacity="0.5"/>
<ellipse cx="487.1" cy="187.2" rx="0.7" ry="0.4" fill="#4e78a8" opacity="0.5"/>
<ellipse cx="488.2" cy="190.4" rx="0.8" ry="0.4" fill="#9ab8dc" opacity="0.5"/>
<ellipse cx="498.6" cy="186.1" rx="2.0" ry="0.4" fill="#9ab8dc" opacity="0.5"/>
<ellipse cx="415.5" cy="175.8" rx="1.6" ry="0.4" fill="#9ab8dc" opacity="0.5"/>
<ellipse cx="448.2" cy="183.6" rx="0.7" ry="0.4" fill="#9ab8dc" opacity="0.5"/>
<ellipse cx="476.1" cy="187.9" rx="1.4" ry="0.4" fill="#9ab8dc" opacity="0.5"/>
<ellipse cx="457.2" cy="198.2" rx="2.9" ry="0.35" fill="#c8d08a" opacity="0.45"/>
<ellipse cx="479.8" cy="198.1" rx="2.4" ry="0.35" fill="#8c9650" opacity="0.45"/>
<ellipse cx="496.6" cy="223.1" rx="1.3" ry="0.35" fill="#c8d08a" opacity="0.45"/>
<ellipse cx="431.8" cy="216.8" rx="1.8" ry="0.35" fill="#8c9650" opacity="0.45"/>
<ellipse cx="414.6" cy="225.1" rx="1.4" ry="0.35" fill="#c8d08a" opacity="0.45"/>
<ellipse cx="475.1" cy="216.6" rx="1.0" ry="0.35" fill="#c8d08a" opacity="0.45"/>
<ellipse cx="443.2" cy="216.8" rx="2.3" ry="0.35" fill="#c8d08a" opacity="0.45"/>
<ellipse cx="407.4" cy="197.9" rx="1.4" ry="0.35" fill="#c8d08a" opacity="0.45"/>
<ellipse cx="483.5" cy="217.6" rx="1.4" ry="0.35" fill="#8c9650" opacity="0.45"/>
<ellipse cx="458.0" cy="210.9" rx="1.1" ry="0.35" fill="#c8d08a" opacity="0.45"/>
<ellipse cx="440.9" cy="198.7" rx="1.8" ry="0.35" fill="#8c9650" opacity="0.45"/>
<ellipse cx="457.4" cy="222.2" rx="2.9" ry="0.35" fill="#8c9650" opacity="0.45"/>
<ellipse cx="517.3" cy="208.4" rx="2.8" ry="0.35" fill="#c8d08a" opacity="0.45"/>
<ellipse cx="414.4" cy="198.9" rx="2.4" ry="0.35" fill="#8c9650" opacity="0.45"/>
<ellipse cx="512.7" cy="200.2" rx="2.6" ry="0.35" fill="#8c9650" opacity="0.45"/>
<ellipse cx="505.3" cy="218.5" rx="1.3" ry="0.35" fill="#8c9650" opacity="0.45"/>
<ellipse cx="450.1" cy="201.1" rx="2.9" ry="0.35" fill="#8c9650" opacity="0.45"/>
<ellipse cx="451.4" cy="219.3" rx="1.7" ry="0.35" fill="#8c9650" opacity="0.45"/>
<ellipse cx="441.4" cy="222.9" rx="0.8" ry="0.35" fill="#8c9650" opacity="0.45"/>
<ellipse cx="500.0" cy="199.8" rx="2.8" ry="0.35" fill="#c8d08a" opacity="0.45"/>
<ellipse cx="507.0" cy="205.3" rx="1.6" ry="0.35" fill="#8c9650" opacity="0.45"/>
<ellipse cx="449.7" cy="223.8" rx="1.0" ry="0.35" fill="#8c9650" opacity="0.45"/>
<ellipse cx="490.6" cy="223.3" rx="1.4" ry="0.35" fill="#c8d08a" opacity="0.45"/>
<ellipse cx="499.5" cy="205.1" rx="2.9" ry="0.35" fill="#c8d08a" opacity="0.45"/>
<ellipse cx="514.8" cy="210.0" rx="1.5" ry="0.35" fill="#8c9650" opacity="0.45"/>
<ellipse cx="493.9" cy="209.7" rx="0.9" ry="0.35" fill="#8c9650" opacity="0.45"/>
<ellipse cx="508.3" cy="226.1" rx="2.0" ry="0.35" fill="#c8d08a" opacity="0.45"/>
<ellipse cx="411.5" cy="219.4" rx="1.8" ry="0.35" fill="#c8d08a" opacity="0.45"/>
<ellipse cx="478.2" cy="205.2" rx="0.9" ry="0.35" fill="#c8d08a" opacity="0.45"/>
<ellipse cx="425.1" cy="209.3" rx="1.4" ry="0.35" fill="#8c9650" opacity="0.45"/>
<ellipse cx="488.8" cy="227.2" rx="1.4" ry="0.35" fill="#c8d08a" opacity="0.45"/>
<ellipse cx="439.7" cy="213.8" rx="1.7" ry="0.35" fill="#c8d08a" opacity="0.45"/>
<ellipse cx="478.0" cy="198.4" rx="1.9" ry="0.35" fill="#8c9650" opacity="0.45"/>
<ellipse cx="467.6" cy="210.5" rx="1.5" ry="0.35" fill="#8c9650" opacity="0.45"/>
<ellipse cx="453.9" cy="213.5" rx="1.3" ry="0.35" fill="#c8d08a" opacity="0.45"/>
<ellipse cx="444.3" cy="198.9" rx="1.3" ry="0.35" fill="#8c9650" opacity="0.45"/>
<ellipse cx="496.6" cy="202.5" rx="0.8" ry="0.35" fill="#8c9650" opacity="0.45"/>
<ellipse cx="448.9" cy="219.9" rx="1.3" ry="0.35" fill="#8c9650" opacity="0.45"/>
<ellipse cx="443.9" cy="198.0" rx="1.4" ry="0.35" fill="#8c9650" opacity="0.45"/>
<ellipse cx="420.1" cy="212.1" rx="2.2" ry="0.35" fill="#c8d08a" opacity="0.45"/>
<ellipse cx="416.4" cy="224.7" rx="1.6" ry="0.35" fill="#8c9650" opacity="0.45"/>
<ellipse cx="454.4" cy="206.0" rx="2.6" ry="0.35" fill="#c8d08a" opacity="0.45"/>
<ellipse cx="420.3" cy="209.6" rx="2.5" ry="0.35" fill="#8c9650" opacity="0.45"/>
<ellipse cx="514.4" cy="211.7" rx="1.0" ry="0.35" fill="#8c9650" opacity="0.45"/>
<ellipse cx="514.9" cy="204.0" rx="1.0" ry="0.35" fill="#c8d08a" opacity="0.45"/>
<ellipse cx="423.0" cy="227.1" rx="1.0" ry="0.35" fill="#8c9650" opacity="0.45"/>
<ellipse cx="415.5" cy="220.9" rx="0.8" ry="0.35" fill="#c8d08a" opacity="0.45"/>
<ellipse cx="432.0" cy="225.4" rx="2.2" ry="0.35" fill="#8c9650" opacity="0.45"/>
<ellipse cx="513.8" cy="216.0" rx="2.0" ry="0.35" fill="#8c9650" opacity="0.45"/>
<ellipse cx="484.2" cy="199.6" rx="1.0" ry="0.35" fill="#c8d08a" opacity="0.45"/>
<ellipse cx="449.5" cy="203.2" rx="2.1" ry="0.35" fill="#c8d08a" opacity="0.45"/>
<ellipse cx="466.2" cy="227.9" rx="1.4" ry="0.35" fill="#8c9650" opacity="0.45"/>
<ellipse cx="478.2" cy="224.3" rx="1.8" ry="0.35" fill="#c8d08a" opacity="0.45"/>
<ellipse cx="467.3" cy="196.9" rx="1.7" ry="0.35" fill="#8c9650" opacity="0.45"/>
<ellipse cx="412.2" cy="202.2" rx="2.7" ry="0.35" fill="#8c9650" opacity="0.45"/>
<ellipse cx="415.1" cy="203.3" rx="1.7" ry="0.35" fill="#8c9650" opacity="0.45"/>
<ellipse cx="431.4" cy="197.1" rx="1.5" ry="0.35" fill="#8c9650" opacity="0.45"/>
<ellipse cx="446.6" cy="208.7" rx="0.8" ry="0.35" fill="#8c9650" opacity="0.45"/>
<ellipse cx="488.8" cy="212.2" rx="1.3" ry="0.35" fill="#c8d08a" opacity="0.45"/>
<ellipse cx="440.9" cy="222.2" rx="1.3" ry="0.35" fill="#c8d08a" opacity="0.45"/>
<ellipse cx="435.7" cy="224.5" rx="1.0" ry="0.35" fill="#8c9650" opacity="0.45"/>
<ellipse cx="474.3" cy="224.7" rx="1.9" ry="0.35" fill="#c8d08a" opacity="0.45"/>
<ellipse cx="512.3" cy="200.7" rx="1.7" ry="0.35" fill="#c8d08a" opacity="0.45"/>
<ellipse cx="408.6" cy="215.1" rx="1.7" ry="0.35" fill="#c8d08a" opacity="0.45"/>
<ellipse cx="426.6" cy="210.4" rx="2.4" ry="0.35" fill="#8c9650" opacity="0.45"/>
<ellipse cx="488.1" cy="227.9" rx="2.8" ry="0.35" fill="#8c9650" opacity="0.45"/>
<ellipse cx="427.4" cy="216.9" rx="2.0" ry="0.35" fill="#8c9650" opacity="0.45"/>
<ellipse cx="409.6" cy="217.3" rx="1.6" ry="0.35" fill="#8c9650" opacity="0.45"/>
<ellipse cx="516.3" cy="210.2" rx="1.0" ry="0.35" fill="#c8d08a" opacity="0.45"/>
<ellipse cx="437.3" cy="207.2" rx="2.9" ry="0.35" fill="#c8d08a" opacity="0.45"/>
<ellipse cx="468.8" cy="220.3" rx="1.6" ry="0.35" fill="#8c9650" opacity="0.45"/>
<ellipse cx="498.1" cy="209.8" rx="0.9" ry="0.35" fill="#8c9650" opacity="0.45"/>
<ellipse cx="427.9" cy="213.3" rx="1.8" ry="0.35" fill="#8c9650" opacity="0.45"/>
<ellipse cx="446.8" cy="224.7" rx="0.9" ry="0.35" fill="#8c9650" opacity="0.45"/>
<ellipse cx="433.8" cy="216.0" rx="1.7" ry="0.35" fill="#8c9650" opacity="0.45"/>
<ellipse cx="409.9" cy="198.0" rx="2.8" ry="0.35" fill="#8c9650" opacity="0.45"/>
<ellipse cx="427.8" cy="198.0" rx="2.1" ry="0.35" fill="#8c9650" opacity="0.45"/>
<ellipse cx="436.5" cy="226.6" rx="2.2" ry="0.35" fill="#8c9650" opacity="0.45"/>
<ellipse cx="489.6" cy="218.1" rx="2.8" ry="0.35" fill="#8c9650" opacity="0.45"/>
<ellipse cx="406.4" cy="220.2" rx="2.8" ry="0.35" fill="#c8d08a" opacity="0.45"/>
<ellipse cx="408.7" cy="203.5" rx="1.8" ry="0.35" fill="#8c9650" opacity="0.45"/>
<ellipse cx="512.8" cy="208.4" rx="1.4" ry="0.35" fill="#8c9650" opacity="0.45"/>
<ellipse cx="497.3" cy="200.2" rx="1.9" ry="0.35" fill="#c8d08a" opacity="0.45"/>
<ellipse cx="495.9" cy="219.6" rx="2.6" ry="0.35" fill="#c8d08a" opacity="0.45"/>
<ellipse cx="474.0" cy="206.5" rx="1.5" ry="0.35" fill="#8c9650" opacity="0.45"/>
<ellipse cx="493.8" cy="215.1" rx="1.9" ry="0.35" fill="#8c9650" opacity="0.45"/>
<ellipse cx="490.3" cy="203.9" rx="0.9" ry="0.35" fill="#c8d08a" opacity="0.45"/>
<ellipse cx="459.9" cy="213.4" rx="1.2" ry="0.35" fill="#8c9650" opacity="0.45"/>
<ellipse cx="504.9" cy="227.6" rx="1.4" ry="0.35" fill="#c8d08a" opacity="0.45"/>
<ellipse cx="429.3" cy="209.5" rx="3.0" ry="0.35" fill="#8c9650" opacity="0.45"/>
<ellipse cx="425.4" cy="200.3" rx="1.8" ry="0.35" fill="#c8d08a" opacity="0.45"/>
<ellipse cx="489.8" cy="223.1" rx="2.3" ry="0.35" fill="#c8d08a" opacity="0.45"/>
<ellipse cx="493.3" cy="205.4" rx="1.4" ry="0.35" fill="#8c9650" opacity="0.45"/>
<ellipse cx="447.8" cy="219.6" rx="1.2" ry="0.35" fill="#c8d08a" opacity="0.45"/>
<ellipse cx="426.8" cy="203.5" rx="1.4" ry="0.35" fill="#c8d08a" opacity="0.45"/>
<ellipse cx="442.5" cy="208.7" rx="3.0" ry="0.35" fill="#c8d08a" opacity="0.45"/>
<ellipse cx="478.8" cy="199.2" rx="1.8" ry="0.35" fill="#c8d08a" opacity="0.45"/>
<ellipse cx="417.5" cy="211.2" rx="2.6" ry="0.35" fill="#8c9650" opacity="0.45"/>
<ellipse cx="508.4" cy="197.3" rx="1.4" ry="0.35" fill="#c8d08a" opacity="0.45"/>
<ellipse cx="411.6" cy="215.2" rx="2.6" ry="0.35" fill="#c8d08a" opacity="0.45"/>
<ellipse cx="510.2" cy="207.9" rx="2.7" ry="0.35" fill="#8c9650" opacity="0.45"/>
<ellipse cx="473.5" cy="220.8" rx="2.3" ry="0.35" fill="#c8d08a" opacity="0.45"/>
<ellipse cx="417.8" cy="215.1" rx="2.2" ry="0.35" fill="#c8d08a" opacity="0.45"/>
<ellipse cx="410.2" cy="206.9" rx="0.9" ry="0.35" fill="#8c9650" opacity="0.45"/>
<ellipse cx="410.3" cy="219.4" rx="2.8" ry="0.35" fill="#c8d08a" opacity="0.45"/>
<ellipse cx="497.7" cy="209.1" rx="1.6" ry="0.35" fill="#8c9650" opacity="0.45"/>
<ellipse cx="414.7" cy="197.0" rx="1.9" ry="0.35" fill="#8c9650" opacity="0.45"/>
<ellipse cx="413.1" cy="199.2" rx="1.7" ry="0.35" fill="#c8d08a" opacity="0.45"/>
<ellipse cx="477.6" cy="198.9" rx="1.2" ry="0.35" fill="#8c9650" opacity="0.45"/>
<ellipse cx="451.9" cy="205.1" rx="1.5" ry="0.35" fill="#c8d08a" opacity="0.45"/>
<ellipse cx="441.0" cy="214.1" rx="1.6" ry="0.35" fill="#8c9650" opacity="0.45"/>
<ellipse cx="408.0" cy="220.5" rx="2.6" ry="0.35" fill="#c8d08a" opacity="0.45"/>
<ellipse cx="449.8" cy="209.0" rx="2.9" ry="0.35" fill="#8c9650" opacity="0.45"/>
<ellipse cx="507.0" cy="209.6" rx="2.6" ry="0.35" fill="#8c9650" opacity="0.45"/>
<ellipse cx="470.7" cy="207.7" rx="2.5" ry="0.35" fill="#c8d08a" opacity="0.45"/>
<ellipse cx="407.7" cy="213.6" rx="2.2" ry="0.35" fill="#8c9650" opacity="0.45"/>
<ellipse cx="416.0" cy="215.9" rx="1.6" ry="0.35" fill="#c8d08a" opacity="0.45"/>
<ellipse cx="422.3" cy="205.1" rx="1.9" ry="0.35" fill="#c8d08a" opacity="0.45"/>
<ellipse cx="418.2" cy="211.7" rx="2.6" ry="0.35" fill="#c8d08a" opacity="0.45"/>
<ellipse cx="439.8" cy="222.8" rx="0.9" ry="0.35" fill="#8c9650" opacity="0.45"/>
<text x="409.00" y="187.40" font-size="7.3" text-anchor="start" font-weight="normal" fill="#fff" stroke="#fff" stroke-width="0.22">MXene</text>
<text x="409.00" y="219.00" font-size="7.3" text-anchor="start" font-weight="normal" fill="#fff" stroke="#fff" stroke-width="0.22">PET</text>
<text x="409.00" y="254.00" font-size="7.3" text-anchor="start" font-weight="normal" fill="#fff" stroke="#fff" stroke-width="0.22">Ecoflex</text>
<rect x="502.00" y="258.00" width="14.00" height="1.30" fill="#fff" stroke="none" stroke-width="0.8"/>
<text transform="translate(-0.70,299.00) scale(0.9,1)" font-size="13" font-weight="bold" fill="#000" stroke="#000" stroke-width="0.15">i</text>
<rect x="60.00" y="305.00" width="115.00" height="100.00" fill="#fcf8f8" stroke="none" stroke-width="0.8"/>
<path d="M29,362.5 L130,349.5 L155.3,379.5 L56.6,401.8 Z" fill="#e3eeef" stroke="#9ccdd0" stroke-width="0.9"/>
<path d="M56.6,401.8 L155.3,379.5 L155.3,381 L56.6,403.3 L29,364 L29,362.5 Z" fill="#a8d4d8" stroke="none" stroke-width="0.8"/>
<path d="M125.5,370.5 L127.0,370.9 L128.3,371.4 L129.4,371.9 L130.1,372.3 L130.3,372.8 L130.1,373.3 L129.5,373.7 L128.4,374.1 L127.0,374.4 L125.3,374.7 L123.5,374.9 L121.7,375.1 L120.0,375.3 L118.5,375.4 L117.3,375.6 L116.4,375.8 L115.9,376.1 L115.7,376.5 L115.7,376.9 L116.1,377.4 L116.5,378.0 L117.0,378.7 L117.4,379.4 L117.6,380.0 L117.7,380.6 L117.4,381.2 L116.8,381.6 L115.9,382.0 L114.7,382.2 L113.2,382.3 L111.6,382.2 L109.9,382.0 L108.1,381.8 L106.4,381.5 L104.7,381.3 L103.3,381.0 L102.0,380.9 L100.8,380.8 L99.9,380.9 L99.0,381.1 L98.3,381.4 L97.6,381.9 L96.9,382.4 L96.1,383.0 L95.3,383.6 L94.3,384.2 L93.2,384.7 L92.0,385.1 L90.8,385.3 L89.5,385.4 L88.2,385.3 L87.0,385.1 L85.8,384.7 L84.7,384.2 L83.7,383.6 L82.9,383.0 L82.1,382.4 L81.4,381.9 L80.7,381.4 L80.0,381.1 L79.1,380.9 L78.2,380.8 L77.0,380.9 L75.7,381.0 L74.3,381.3 L72.6,381.5 L70.9,381.8 L69.1,382.0 L67.4,382.2 L65.8,382.3 L64.3,382.2 L63.1,382.0 L62.2,381.6 L61.6,381.2 L61.3,380.6 L61.4,380.0 L61.6,379.4 L62.0,378.7 L62.5,378.0 L62.9,377.4 L63.3,376.9 L63.3,376.5 L63.1,376.1 L62.6,375.8 L61.7,375.6 L60.5,375.4 L59.0,375.3 L57.3,375.1 L55.5,374.9 L53.7,374.7 L52.0,374.4 L50.6,374.1 L49.5,373.7 L48.9,373.3 L48.7,372.8 L48.9,372.3 L49.6,371.9 L50.7,371.4 L52.0,370.9 L53.5,370.5 L55.0,370.1 L56.5,369.8 L57.7,369.4 L58.6,369.1 L59.2,368.8 L59.4,368.4 L59.2,368.1 L58.7,367.6 L57.8,367.2 L56.8,366.7 L55.8,366.1 L54.8,365.6 L53.9,365.0 L53.4,364.4 L53.1,363.8 L53.3,363.3 L53.9,362.9 L54.9,362.6 L56.2,362.4 L57.8,362.2 L59.6,362.2 L61.5,362.2 L63.4,362.2 L65.2,362.3 L66.7,362.3 L68.1,362.3 L69.2,362.2 L70.0,362.0 L70.5,361.7 L70.9,361.3 L71.1,360.8 L71.3,360.2 L71.4,359.5 L71.7,358.8 L72.0,358.2 L72.6,357.6 L73.4,357.1 L74.3,356.7 L75.5,356.5 L76.8,356.4 L78.2,356.5 L79.7,356.7 L81.2,357.1 L82.6,357.5 L84.0,358.0 L85.3,358.5 L86.4,358.9 L87.5,359.2 L88.5,359.4 L89.5,359.5 L90.5,359.4 L91.5,359.2 L92.6,358.9 L93.7,358.5 L95.0,358.0 L96.4,357.5 L97.8,357.1 L99.3,356.7 L100.8,356.5 L102.2,356.4 L103.5,356.5 L104.7,356.7 L105.6,357.1 L106.4,357.6 L107.0,358.2 L107.3,358.8 L107.6,359.5 L107.7,360.2 L107.9,360.8 L108.1,361.3 L108.5,361.7 L109.0,362.0 L109.8,362.2 L110.9,362.3 L112.3,362.3 L113.8,362.3 L115.6,362.2 L117.5,362.2 L119.4,362.2 L121.2,362.2 L122.8,362.4 L124.1,362.6 L125.1,362.9 L125.7,363.3 L125.9,363.8 L125.6,364.4 L125.1,365.0 L124.2,365.6 L123.2,366.1 L122.2,366.7 L121.2,367.2 L120.3,367.6 L119.8,368.1 L119.6,368.4 L119.8,368.8 L120.4,369.1 L121.3,369.4 L122.5,369.8 L124.0,370.1 L125.5,370.5Z M110.5,370.5 L109.5,370.3 L108.5,370.1 L107.7,369.9 L107.1,369.7 L106.8,369.5 L106.6,369.3 L106.8,369.1 L107.2,368.9 L107.7,368.6 L108.4,368.3 L109.2,368.0 L109.9,367.6 L110.4,367.2 L110.9,366.9 L111.0,366.5 L111.0,366.2 L110.6,366.0 L110.0,365.8 L109.2,365.7 L108.2,365.6 L107.0,365.6 L105.9,365.6 L104.7,365.7 L103.6,365.7 L102.6,365.8 L101.7,365.8 L101.1,365.8 L100.6,365.7 L100.3,365.5 L100.1,365.2 L100.1,364.9 L100.0,364.5 L100.0,364.1 L99.9,363.7 L99.8,363.2 L99.5,362.9 L99.1,362.5 L98.5,362.3 L97.8,362.2 L97.0,362.1 L96.2,362.2 L95.3,362.4 L94.4,362.6 L93.5,362.9 L92.7,363.2 L91.9,363.5 L91.3,363.8 L90.6,364.0 L90.1,364.2 L89.5,364.2 L88.9,364.2 L88.4,364.0 L87.7,363.8 L87.1,363.5 L86.3,363.2 L85.5,362.9 L84.6,362.6 L83.7,362.4 L82.8,362.2 L82.0,362.1 L81.2,362.2 L80.5,362.3 L79.9,362.5 L79.5,362.9 L79.2,363.2 L79.1,363.7 L79.0,364.1 L79.0,364.5 L78.9,364.9 L78.9,365.2 L78.7,365.5 L78.4,365.7 L77.9,365.8 L77.3,365.8 L76.4,365.8 L75.4,365.7 L74.3,365.7 L73.1,365.6 L72.0,365.6 L70.8,365.6 L69.8,365.7 L69.0,365.8 L68.4,366.0 L68.0,366.2 L68.0,366.5 L68.1,366.9 L68.6,367.2 L69.1,367.6 L69.8,368.0 L70.6,368.3 L71.3,368.6 L71.8,368.9 L72.2,369.1 L72.4,369.3 L72.2,369.5 L71.9,369.7 L71.3,369.9 L70.5,370.1 L69.5,370.3 L68.5,370.5 L67.5,370.7 L66.6,371.0 L65.9,371.3 L65.5,371.6 L65.3,371.9 L65.4,372.2 L65.8,372.4 L66.5,372.6 L67.4,372.8 L68.5,373.0 L69.6,373.1 L70.8,373.2 L71.9,373.2 L72.9,373.3 L73.6,373.4 L74.2,373.5 L74.5,373.7 L74.6,373.9 L74.5,374.2 L74.2,374.5 L73.9,374.9 L73.5,375.3 L73.2,375.7 L72.9,376.1 L72.9,376.5 L73.0,376.8 L73.3,377.1 L73.8,377.3 L74.6,377.4 L75.5,377.5 L76.5,377.4 L77.5,377.3 L78.6,377.1 L79.7,376.9 L80.7,376.7 L81.6,376.5 L82.4,376.4 L83.0,376.4 L83.6,376.4 L84.1,376.5 L84.5,376.7 L84.8,377.0 L85.2,377.4 L85.6,377.8 L86.1,378.2 L86.7,378.5 L87.3,378.9 L88.0,379.1 L88.7,379.3 L89.5,379.3 L90.3,379.3 L91.0,379.1 L91.7,378.9 L92.3,378.5 L92.9,378.2 L93.4,377.8 L93.8,377.4 L94.2,377.0 L94.5,376.7 L94.9,376.5 L95.4,376.4 L96.0,376.4 L96.6,376.4 L97.4,376.5 L98.3,376.7 L99.3,376.9 L100.4,377.1 L101.5,377.3 L102.5,377.4 L103.5,377.5 L104.4,377.4 L105.2,377.3 L105.7,377.1 L106.0,376.8 L106.1,376.5 L106.1,376.1 L105.8,375.7 L105.5,375.3 L105.1,374.9 L104.8,374.5 L104.5,374.2 L104.4,373.9 L104.5,373.7 L104.8,373.5 L105.4,373.4 L106.1,373.3 L107.1,373.2 L108.2,373.2 L109.4,373.1 L110.5,373.0 L111.6,372.8 L112.5,372.6 L113.2,372.4 L113.6,372.2 L113.7,371.9 L113.5,371.6 L113.1,371.3 L112.4,371.0 L111.5,370.7 L110.5,370.5Z" fill="#b4b4b4" stroke="none" stroke-width="0.8" fill-rule="evenodd"/>
<path d="M123.5,369.5 L124.9,369.9 L126.2,370.3 L127.2,370.8 L127.8,371.2 L128.1,371.7 L127.9,372.1 L127.2,372.5 L126.2,372.9 L124.9,373.2 L123.3,373.5 L121.6,373.7 L119.9,373.8 L118.3,374.0 L116.9,374.1 L115.7,374.3 L114.9,374.5 L114.4,374.8 L114.2,375.1 L114.3,375.6 L114.6,376.1 L115.0,376.6 L115.5,377.2 L115.8,377.9 L116.1,378.5 L116.1,379.1 L115.8,379.6 L115.3,380.0 L114.4,380.3 L113.3,380.5 L111.9,380.6 L110.4,380.6 L108.7,380.4 L107.1,380.2 L105.4,379.9 L103.9,379.7 L102.5,379.4 L101.3,379.3 L100.2,379.2 L99.3,379.3 L98.5,379.5 L97.8,379.8 L97.1,380.2 L96.5,380.7 L95.8,381.3 L94.9,381.9 L94.0,382.4 L93.0,382.9 L91.9,383.3 L90.7,383.5 L89.5,383.6 L88.3,383.5 L87.1,383.3 L86.0,382.9 L85.0,382.4 L84.1,381.9 L83.2,381.3 L82.5,380.7 L81.9,380.2 L81.2,379.8 L80.5,379.5 L79.7,379.3 L78.8,379.2 L77.7,379.3 L76.5,379.4 L75.1,379.7 L73.6,379.9 L71.9,380.2 L70.3,380.4 L68.6,380.6 L67.1,380.6 L65.7,380.5 L64.6,380.3 L63.7,380.0 L63.2,379.6 L62.9,379.1 L62.9,378.5 L63.2,377.9 L63.5,377.2 L64.0,376.6 L64.4,376.1 L64.7,375.6 L64.8,375.1 L64.6,374.8 L64.1,374.5 L63.3,374.3 L62.1,374.1 L60.7,374.0 L59.1,373.8 L57.4,373.7 L55.7,373.5 L54.1,373.2 L52.8,372.9 L51.8,372.5 L51.1,372.1 L50.9,371.7 L51.2,371.2 L51.8,370.8 L52.8,370.3 L54.1,369.9 L55.5,369.5 L56.9,369.1 L58.3,368.8 L59.5,368.5 L60.3,368.2 L60.9,367.9 L61.1,367.5 L60.9,367.2 L60.4,366.8 L59.6,366.4 L58.7,365.9 L57.7,365.4 L56.7,364.8 L55.9,364.3 L55.4,363.7 L55.2,363.2 L55.3,362.7 L55.9,362.3 L56.8,362.0 L58.0,361.8 L59.6,361.7 L61.3,361.6 L63.1,361.6 L64.8,361.7 L66.5,361.7 L68.0,361.8 L69.3,361.8 L70.3,361.7 L71.1,361.5 L71.6,361.2 L71.9,360.8 L72.1,360.3 L72.3,359.7 L72.4,359.1 L72.7,358.5 L73.0,357.9 L73.5,357.3 L74.3,356.8 L75.2,356.5 L76.3,356.3 L77.5,356.2 L78.8,356.3 L80.2,356.5 L81.6,356.8 L83.0,357.3 L84.3,357.7 L85.5,358.1 L86.6,358.5 L87.6,358.8 L88.6,359.0 L89.5,359.1 L90.4,359.0 L91.4,358.8 L92.4,358.5 L93.5,358.1 L94.7,357.7 L96.0,357.3 L97.4,356.8 L98.8,356.5 L100.2,356.3 L101.5,356.2 L102.7,356.3 L103.8,356.5 L104.7,356.8 L105.5,357.3 L106.0,357.9 L106.3,358.5 L106.6,359.1 L106.7,359.7 L106.9,360.3 L107.1,360.8 L107.4,361.2 L107.9,361.5 L108.7,361.7 L109.7,361.8 L111.0,361.8 L112.5,361.7 L114.2,361.7 L115.9,361.6 L117.7,361.6 L119.4,361.7 L121.0,361.8 L122.2,362.0 L123.1,362.3 L123.7,362.7 L123.8,363.2 L123.6,363.7 L123.1,364.3 L122.3,364.8 L121.3,365.4 L120.3,365.9 L119.4,366.4 L118.6,366.8 L118.1,367.2 L117.9,367.5 L118.1,367.9 L118.7,368.2 L119.5,368.5 L120.7,368.8 L122.1,369.1 L123.5,369.5Z M112.0,369.5 L110.9,369.3 L109.9,369.0 L109.0,368.8 L108.4,368.6 L108.0,368.4 L107.9,368.2 L108.0,368.0 L108.4,367.7 L109.0,367.5 L109.8,367.1 L110.6,366.8 L111.3,366.4 L111.9,366.0 L112.4,365.6 L112.6,365.3 L112.5,364.9 L112.1,364.7 L111.5,364.5 L110.6,364.3 L109.5,364.3 L108.3,364.2 L107.0,364.3 L105.8,364.3 L104.6,364.4 L103.5,364.5 L102.6,364.5 L101.9,364.4 L101.4,364.3 L101.1,364.1 L100.9,363.8 L100.8,363.5 L100.8,363.1 L100.8,362.6 L100.7,362.2 L100.5,361.7 L100.2,361.3 L99.7,361.0 L99.1,360.7 L98.4,360.6 L97.6,360.6 L96.7,360.6 L95.7,360.8 L94.7,361.1 L93.8,361.4 L92.9,361.7 L92.1,362.0 L91.4,362.3 L90.7,362.6 L90.1,362.7 L89.5,362.8 L88.9,362.7 L88.3,362.6 L87.6,362.3 L86.9,362.0 L86.1,361.7 L85.2,361.4 L84.3,361.1 L83.3,360.8 L82.3,360.6 L81.4,360.6 L80.6,360.6 L79.9,360.7 L79.3,361.0 L78.8,361.3 L78.5,361.7 L78.3,362.2 L78.2,362.6 L78.2,363.1 L78.2,363.5 L78.1,363.8 L77.9,364.1 L77.6,364.3 L77.1,364.4 L76.4,364.5 L75.5,364.5 L74.4,364.4 L73.2,364.3 L72.0,364.3 L70.7,364.2 L69.5,364.3 L68.4,364.3 L67.5,364.5 L66.9,364.7 L66.5,364.9 L66.4,365.3 L66.6,365.6 L67.1,366.0 L67.7,366.4 L68.4,366.8 L69.2,367.1 L70.0,367.5 L70.6,367.7 L71.0,368.0 L71.1,368.2 L71.0,368.4 L70.6,368.6 L70.0,368.8 L69.1,369.0 L68.1,369.3 L67.0,369.5 L65.9,369.8 L65.0,370.1 L64.2,370.4 L63.7,370.7 L63.5,371.0 L63.7,371.3 L64.1,371.5 L64.9,371.8 L65.8,372.0 L67.0,372.1 L68.2,372.3 L69.5,372.4 L70.6,372.4 L71.7,372.5 L72.5,372.6 L73.1,372.8 L73.4,372.9 L73.5,373.2 L73.4,373.4 L73.1,373.8 L72.7,374.2 L72.3,374.6 L72.0,375.1 L71.8,375.5 L71.7,375.9 L71.8,376.3 L72.2,376.6 L72.7,376.8 L73.5,376.9 L74.5,377.0 L75.5,376.9 L76.7,376.8 L77.9,376.6 L79.0,376.4 L80.1,376.2 L81.0,376.0 L81.9,375.8 L82.6,375.8 L83.2,375.8 L83.7,376.0 L84.1,376.2 L84.5,376.5 L84.9,376.9 L85.4,377.3 L85.9,377.7 L86.5,378.1 L87.1,378.5 L87.9,378.7 L88.7,378.9 L89.5,379.0 L90.3,378.9 L91.1,378.7 L91.9,378.5 L92.5,378.1 L93.1,377.7 L93.6,377.3 L94.1,376.9 L94.5,376.5 L94.9,376.2 L95.3,376.0 L95.8,375.8 L96.4,375.8 L97.1,375.8 L98.0,376.0 L98.9,376.2 L100.0,376.4 L101.1,376.6 L102.3,376.8 L103.5,376.9 L104.5,377.0 L105.5,376.9 L106.3,376.8 L106.8,376.6 L107.2,376.3 L107.3,375.9 L107.2,375.5 L107.0,375.1 L106.7,374.6 L106.3,374.2 L105.9,373.8 L105.6,373.4 L105.5,373.2 L105.6,372.9 L105.9,372.8 L106.5,372.6 L107.3,372.5 L108.4,372.4 L109.5,372.4 L110.8,372.3 L112.0,372.1 L113.2,372.0 L114.1,371.8 L114.9,371.5 L115.3,371.3 L115.5,371.0 L115.3,370.7 L114.8,370.4 L114.0,370.1 L113.1,369.8 L112.0,369.5Z" fill="#c8c8c8" stroke="none" stroke-width="0.8" fill-rule="evenodd" opacity="0.8"/>
<path d="M125.5,343.3 L127.0,343.7 L128.3,344.2 L129.4,344.7 L130.1,345.2 L130.3,345.7 L130.1,346.2 L129.5,346.6 L128.4,347.0 L127.0,347.3 L125.3,347.6 L123.5,347.8 L121.7,348.0 L120.0,348.2 L118.5,348.4 L117.3,348.5 L116.4,348.8 L115.9,349.1 L115.7,349.4 L115.7,349.9 L116.1,350.4 L116.5,351.0 L117.0,351.7 L117.4,352.4 L117.6,353.1 L117.7,353.7 L117.4,354.3 L116.8,354.8 L115.9,355.1 L114.7,355.3 L113.2,355.4 L111.6,355.3 L109.9,355.2 L108.1,354.9 L106.4,354.6 L104.7,354.4 L103.3,354.1 L102.0,353.9 L100.8,353.9 L99.9,354.0 L99.0,354.2 L98.3,354.5 L97.6,355.0 L96.9,355.5 L96.1,356.1 L95.3,356.8 L94.3,357.4 L93.2,357.9 L92.0,358.3 L90.8,358.5 L89.5,358.6 L88.2,358.5 L87.0,358.3 L85.8,357.9 L84.7,357.4 L83.7,356.8 L82.9,356.1 L82.1,355.5 L81.4,355.0 L80.7,354.5 L80.0,354.2 L79.1,354.0 L78.2,353.9 L77.0,353.9 L75.7,354.1 L74.3,354.4 L72.6,354.6 L70.9,354.9 L69.1,355.2 L67.4,355.3 L65.8,355.4 L64.3,355.3 L63.1,355.1 L62.2,354.8 L61.6,354.3 L61.3,353.7 L61.4,353.1 L61.6,352.4 L62.0,351.7 L62.5,351.0 L62.9,350.4 L63.3,349.9 L63.3,349.4 L63.1,349.1 L62.6,348.8 L61.7,348.5 L60.5,348.4 L59.0,348.2 L57.3,348.0 L55.5,347.8 L53.7,347.6 L52.0,347.3 L50.6,347.0 L49.5,346.6 L48.9,346.2 L48.7,345.7 L48.9,345.2 L49.6,344.7 L50.7,344.2 L52.0,343.7 L53.5,343.3 L55.0,342.9 L56.5,342.5 L57.7,342.2 L58.6,341.9 L59.2,341.5 L59.4,341.2 L59.2,340.8 L58.7,340.4 L57.8,339.9 L56.8,339.4 L55.8,338.8 L54.8,338.2 L53.9,337.6 L53.4,337.0 L53.1,336.4 L53.3,335.9 L53.9,335.5 L54.9,335.2 L56.2,334.9 L57.8,334.8 L59.6,334.7 L61.5,334.7 L63.4,334.8 L65.2,334.8 L66.7,334.9 L68.1,334.9 L69.2,334.8 L70.0,334.6 L70.5,334.3 L70.9,333.8 L71.1,333.3 L71.3,332.7 L71.4,332.0 L71.7,331.3 L72.0,330.6 L72.6,330.0 L73.4,329.5 L74.3,329.1 L75.5,328.9 L76.8,328.8 L78.2,328.9 L79.7,329.2 L81.2,329.5 L82.6,330.0 L84.0,330.5 L85.3,330.9 L86.4,331.4 L87.5,331.7 L88.5,331.9 L89.5,332.0 L90.5,331.9 L91.5,331.7 L92.6,331.4 L93.7,330.9 L95.0,330.5 L96.4,330.0 L97.8,329.5 L99.3,329.2 L100.8,328.9 L102.2,328.8 L103.5,328.9 L104.7,329.1 L105.6,329.5 L106.4,330.0 L107.0,330.6 L107.3,331.3 L107.6,332.0 L107.7,332.7 L107.9,333.3 L108.1,333.8 L108.5,334.3 L109.0,334.6 L109.8,334.8 L110.9,334.9 L112.3,334.9 L113.8,334.8 L115.6,334.8 L117.5,334.7 L119.4,334.7 L121.2,334.8 L122.8,334.9 L124.1,335.2 L125.1,335.5 L125.7,335.9 L125.9,336.4 L125.6,337.0 L125.1,337.6 L124.2,338.2 L123.2,338.8 L122.2,339.4 L121.2,339.9 L120.3,340.4 L119.8,340.8 L119.6,341.2 L119.8,341.5 L120.4,341.9 L121.3,342.2 L122.5,342.5 L124.0,342.9 L125.5,343.3Z M110.5,343.3 L109.5,343.1 L108.5,342.9 L107.7,342.7 L107.1,342.5 L106.8,342.3 L106.6,342.1 L106.8,341.9 L107.2,341.6 L107.7,341.3 L108.4,341.0 L109.2,340.7 L109.9,340.3 L110.4,339.9 L110.9,339.6 L111.0,339.2 L111.0,338.9 L110.6,338.7 L110.0,338.5 L109.2,338.3 L108.2,338.3 L107.0,338.3 L105.9,338.3 L104.7,338.4 L103.6,338.4 L102.6,338.5 L101.7,338.5 L101.1,338.4 L100.6,338.3 L100.3,338.1 L100.1,337.9 L100.1,337.5 L100.0,337.2 L100.0,336.7 L99.9,336.3 L99.8,335.8 L99.5,335.5 L99.1,335.1 L98.5,334.9 L97.8,334.7 L97.0,334.7 L96.2,334.8 L95.3,335.0 L94.4,335.2 L93.5,335.5 L92.7,335.8 L91.9,336.1 L91.3,336.4 L90.6,336.7 L90.1,336.8 L89.5,336.9 L88.9,336.8 L88.4,336.7 L87.7,336.4 L87.1,336.1 L86.3,335.8 L85.5,335.5 L84.6,335.2 L83.7,335.0 L82.8,334.8 L82.0,334.7 L81.2,334.7 L80.5,334.9 L79.9,335.1 L79.5,335.5 L79.2,335.8 L79.1,336.3 L79.0,336.7 L79.0,337.2 L78.9,337.5 L78.9,337.9 L78.7,338.1 L78.4,338.3 L77.9,338.4 L77.3,338.5 L76.4,338.5 L75.4,338.4 L74.3,338.4 L73.1,338.3 L72.0,338.3 L70.8,338.3 L69.8,338.3 L69.0,338.5 L68.4,338.7 L68.0,338.9 L68.0,339.2 L68.1,339.6 L68.6,339.9 L69.1,340.3 L69.8,340.7 L70.6,341.0 L71.3,341.3 L71.8,341.6 L72.2,341.9 L72.4,342.1 L72.2,342.3 L71.9,342.5 L71.3,342.7 L70.5,342.9 L69.5,343.1 L68.5,343.3 L67.5,343.6 L66.6,343.8 L65.9,344.1 L65.5,344.4 L65.3,344.7 L65.4,345.0 L65.8,345.3 L66.5,345.5 L67.4,345.7 L68.5,345.8 L69.6,345.9 L70.8,346.0 L71.9,346.1 L72.9,346.2 L73.6,346.3 L74.2,346.4 L74.5,346.6 L74.6,346.8 L74.5,347.1 L74.2,347.4 L73.9,347.8 L73.5,348.2 L73.2,348.6 L72.9,349.1 L72.9,349.5 L73.0,349.8 L73.3,350.1 L73.8,350.3 L74.6,350.4 L75.5,350.5 L76.5,350.4 L77.5,350.3 L78.6,350.1 L79.7,349.9 L80.7,349.7 L81.6,349.5 L82.4,349.4 L83.0,349.3 L83.6,349.4 L84.1,349.5 L84.5,349.7 L84.8,350.0 L85.2,350.4 L85.6,350.8 L86.1,351.2 L86.7,351.6 L87.3,351.9 L88.0,352.2 L88.7,352.3 L89.5,352.4 L90.3,352.3 L91.0,352.2 L91.7,351.9 L92.3,351.6 L92.9,351.2 L93.4,350.8 L93.8,350.4 L94.2,350.0 L94.5,349.7 L94.9,349.5 L95.4,349.4 L96.0,349.3 L96.6,349.4 L97.4,349.5 L98.3,349.7 L99.3,349.9 L100.4,350.1 L101.5,350.3 L102.5,350.4 L103.5,350.5 L104.4,350.4 L105.2,350.3 L105.7,350.1 L106.0,349.8 L106.1,349.5 L106.1,349.1 L105.8,348.6 L105.5,348.2 L105.1,347.8 L104.8,347.4 L104.5,347.1 L104.4,346.8 L104.5,346.6 L104.8,346.4 L105.4,346.3 L106.1,346.2 L107.1,346.1 L108.2,346.0 L109.4,345.9 L110.5,345.8 L111.6,345.7 L112.5,345.5 L113.2,345.3 L113.6,345.0 L113.7,344.7 L113.5,344.4 L113.1,344.1 L112.4,343.8 L111.5,343.6 L110.5,343.3Z" fill="#484848" stroke="none" stroke-width="0.8" fill-rule="evenodd"/>
<path d="M125.5,340.8 L127.0,341.2 L128.3,341.7 L129.4,342.2 L130.1,342.7 L130.3,343.2 L130.1,343.7 L129.5,344.1 L128.4,344.5 L127.0,344.8 L125.3,345.1 L123.5,345.3 L121.7,345.5 L120.0,345.7 L118.5,345.9 L117.3,346.0 L116.4,346.3 L115.9,346.6 L115.7,346.9 L115.7,347.4 L116.1,347.9 L116.5,348.5 L117.0,349.2 L117.4,349.9 L117.6,350.6 L117.7,351.2 L117.4,351.8 L116.8,352.3 L115.9,352.6 L114.7,352.8 L113.2,352.9 L111.6,352.8 L109.9,352.7 L108.1,352.4 L106.4,352.1 L104.7,351.9 L103.3,351.6 L102.0,351.4 L100.8,351.4 L99.9,351.5 L99.0,351.7 L98.3,352.0 L97.6,352.5 L96.9,353.0 L96.1,353.6 L95.3,354.3 L94.3,354.9 L93.2,355.4 L92.0,355.8 L90.8,356.0 L89.5,356.1 L88.2,356.0 L87.0,355.8 L85.8,355.4 L84.7,354.9 L83.7,354.3 L82.9,353.6 L82.1,353.0 L81.4,352.5 L80.7,352.0 L80.0,351.7 L79.1,351.5 L78.2,351.4 L77.0,351.4 L75.7,351.6 L74.3,351.9 L72.6,352.1 L70.9,352.4 L69.1,352.7 L67.4,352.8 L65.8,352.9 L64.3,352.8 L63.1,352.6 L62.2,352.3 L61.6,351.8 L61.3,351.2 L61.4,350.6 L61.6,349.9 L62.0,349.2 L62.5,348.5 L62.9,347.9 L63.3,347.4 L63.3,346.9 L63.1,346.6 L62.6,346.3 L61.7,346.0 L60.5,345.9 L59.0,345.7 L57.3,345.5 L55.5,345.3 L53.7,345.1 L52.0,344.8 L50.6,344.5 L49.5,344.1 L48.9,343.7 L48.7,343.2 L48.9,342.7 L49.6,342.2 L50.7,341.7 L52.0,341.2 L53.5,340.8 L55.0,340.4 L56.5,340.0 L57.7,339.7 L58.6,339.4 L59.2,339.0 L59.4,338.7 L59.2,338.3 L58.7,337.9 L57.8,337.4 L56.8,336.9 L55.8,336.3 L54.8,335.7 L53.9,335.1 L53.4,334.5 L53.1,333.9 L53.3,333.4 L53.9,333.0 L54.9,332.7 L56.2,332.4 L57.8,332.3 L59.6,332.2 L61.5,332.2 L63.4,332.3 L65.2,332.3 L66.7,332.4 L68.1,332.4 L69.2,332.3 L70.0,332.1 L70.5,331.8 L70.9,331.3 L71.1,330.8 L71.3,330.2 L71.4,329.5 L71.7,328.8 L72.0,328.1 L72.6,327.5 L73.4,327.0 L74.3,326.6 L75.5,326.4 L76.8,326.3 L78.2,326.4 L79.7,326.7 L81.2,327.0 L82.6,327.5 L84.0,328.0 L85.3,328.4 L86.4,328.9 L87.5,329.2 L88.5,329.4 L89.5,329.5 L90.5,329.4 L91.5,329.2 L92.6,328.9 L93.7,328.4 L95.0,328.0 L96.4,327.5 L97.8,327.0 L99.3,326.7 L100.8,326.4 L102.2,326.3 L103.5,326.4 L104.7,326.6 L105.6,327.0 L106.4,327.5 L107.0,328.1 L107.3,328.8 L107.6,329.5 L107.7,330.2 L107.9,330.8 L108.1,331.3 L108.5,331.8 L109.0,332.1 L109.8,332.3 L110.9,332.4 L112.3,332.4 L113.8,332.3 L115.6,332.3 L117.5,332.2 L119.4,332.2 L121.2,332.3 L122.8,332.4 L124.1,332.7 L125.1,333.0 L125.7,333.4 L125.9,333.9 L125.6,334.5 L125.1,335.1 L124.2,335.7 L123.2,336.3 L122.2,336.9 L121.2,337.4 L120.3,337.9 L119.8,338.3 L119.6,338.7 L119.8,339.0 L120.4,339.4 L121.3,339.7 L122.5,340.0 L124.0,340.4 L125.5,340.8Z M110.5,340.8 L109.5,340.6 L108.5,340.4 L107.7,340.2 L107.1,340.0 L106.8,339.8 L106.6,339.6 L106.8,339.4 L107.2,339.1 L107.7,338.8 L108.4,338.5 L109.2,338.2 L109.9,337.8 L110.4,337.4 L110.9,337.1 L111.0,336.7 L111.0,336.4 L110.6,336.2 L110.0,336.0 L109.2,335.8 L108.2,335.8 L107.0,335.8 L105.9,335.8 L104.7,335.9 L103.6,335.9 L102.6,336.0 L101.7,336.0 L101.1,335.9 L100.6,335.8 L100.3,335.6 L100.1,335.4 L100.1,335.0 L100.0,334.7 L100.0,334.2 L99.9,333.8 L99.8,333.3 L99.5,333.0 L99.1,332.6 L98.5,332.4 L97.8,332.2 L97.0,332.2 L96.2,332.3 L95.3,332.5 L94.4,332.7 L93.5,333.0 L92.7,333.3 L91.9,333.6 L91.3,333.9 L90.6,334.2 L90.1,334.3 L89.5,334.4 L88.9,334.3 L88.4,334.2 L87.7,333.9 L87.1,333.6 L86.3,333.3 L85.5,333.0 L84.6,332.7 L83.7,332.5 L82.8,332.3 L82.0,332.2 L81.2,332.2 L80.5,332.4 L79.9,332.6 L79.5,333.0 L79.2,333.3 L79.1,333.8 L79.0,334.2 L79.0,334.7 L78.9,335.0 L78.9,335.4 L78.7,335.6 L78.4,335.8 L77.9,335.9 L77.3,336.0 L76.4,336.0 L75.4,335.9 L74.3,335.9 L73.1,335.8 L72.0,335.8 L70.8,335.8 L69.8,335.8 L69.0,336.0 L68.4,336.2 L68.0,336.4 L68.0,336.7 L68.1,337.1 L68.6,337.4 L69.1,337.8 L69.8,338.2 L70.6,338.5 L71.3,338.8 L71.8,339.1 L72.2,339.4 L72.4,339.6 L72.2,339.8 L71.9,340.0 L71.3,340.2 L70.5,340.4 L69.5,340.6 L68.5,340.8 L67.5,341.1 L66.6,341.3 L65.9,341.6 L65.5,341.9 L65.3,342.2 L65.4,342.5 L65.8,342.8 L66.5,343.0 L67.4,343.2 L68.5,343.3 L69.6,343.4 L70.8,343.5 L71.9,343.6 L72.9,343.7 L73.6,343.8 L74.2,343.9 L74.5,344.1 L74.6,344.3 L74.5,344.6 L74.2,344.9 L73.9,345.3 L73.5,345.7 L73.2,346.1 L72.9,346.6 L72.9,347.0 L73.0,347.3 L73.3,347.6 L73.8,347.8 L74.6,347.9 L75.5,348.0 L76.5,347.9 L77.5,347.8 L78.6,347.6 L79.7,347.4 L80.7,347.2 L81.6,347.0 L82.4,346.9 L83.0,346.8 L83.6,346.9 L84.1,347.0 L84.5,347.2 L84.8,347.5 L85.2,347.9 L85.6,348.3 L86.1,348.7 L86.7,349.1 L87.3,349.4 L88.0,349.7 L88.7,349.8 L89.5,349.9 L90.3,349.8 L91.0,349.7 L91.7,349.4 L92.3,349.1 L92.9,348.7 L93.4,348.3 L93.8,347.9 L94.2,347.5 L94.5,347.2 L94.9,347.0 L95.4,346.9 L96.0,346.8 L96.6,346.9 L97.4,347.0 L98.3,347.2 L99.3,347.4 L100.4,347.6 L101.5,347.8 L102.5,347.9 L103.5,348.0 L104.4,347.9 L105.2,347.8 L105.7,347.6 L106.0,347.3 L106.1,347.0 L106.1,346.6 L105.8,346.1 L105.5,345.7 L105.1,345.3 L104.8,344.9 L104.5,344.6 L104.4,344.3 L104.5,344.1 L104.8,343.9 L105.4,343.8 L106.1,343.7 L107.1,343.6 L108.2,343.5 L109.4,343.4 L110.5,343.3 L111.6,343.2 L112.5,343.0 L113.2,342.8 L113.6,342.5 L113.7,342.2 L113.5,341.9 L113.1,341.6 L112.4,341.3 L111.5,341.1 L110.5,340.8Z" fill="#6a6a6a" stroke="none" stroke-width="0.8" fill-rule="evenodd"/>
<circle cx="115.00" cy="340.80" r="0.45" fill="#c8c8c8" stroke="none" stroke-width="0.8"/>
<circle cx="120.00" cy="340.80" r="0.45" fill="#c8c8c8" stroke="none" stroke-width="0.8"/>
<circle cx="118.29" cy="342.20" r="0.45" fill="#c8c8c8" stroke="none" stroke-width="0.8"/>
<circle cx="123.93" cy="342.48" r="0.45" fill="#c8c8c8" stroke="none" stroke-width="0.8"/>
<circle cx="116.74" cy="343.50" r="0.45" fill="#c8c8c8" stroke="none" stroke-width="0.8"/>
<circle cx="122.09" cy="344.03" r="0.45" fill="#c8c8c8" stroke="none" stroke-width="0.8"/>
<circle cx="111.71" cy="344.20" r="0.45" fill="#c8c8c8" stroke="none" stroke-width="0.8"/>
<circle cx="116.06" cy="344.87" r="0.45" fill="#c8c8c8" stroke="none" stroke-width="0.8"/>
<circle cx="108.27" cy="344.81" r="0.45" fill="#c8c8c8" stroke="none" stroke-width="0.8"/>
<circle cx="111.95" cy="345.60" r="0.45" fill="#c8c8c8" stroke="none" stroke-width="0.8"/>
<circle cx="108.57" cy="346.21" r="0.45" fill="#c8c8c8" stroke="none" stroke-width="0.8"/>
<circle cx="112.31" cy="347.28" r="0.45" fill="#c8c8c8" stroke="none" stroke-width="0.8"/>
<circle cx="109.44" cy="348.18" r="0.45" fill="#c8c8c8" stroke="none" stroke-width="0.8"/>
<circle cx="113.35" cy="349.63" r="0.45" fill="#c8c8c8" stroke="none" stroke-width="0.8"/>
<circle cx="107.17" cy="349.32" r="0.45" fill="#c8c8c8" stroke="none" stroke-width="0.8"/>
<circle cx="110.64" cy="350.99" r="0.45" fill="#c8c8c8" stroke="none" stroke-width="0.8"/>
<circle cx="102.25" cy="348.97" r="0.45" fill="#c8c8c8" stroke="none" stroke-width="0.8"/>
<circle cx="104.75" cy="350.57" r="0.45" fill="#c8c8c8" stroke="none" stroke-width="0.8"/>
<circle cx="97.91" cy="348.31" r="0.45" fill="#c8c8c8" stroke="none" stroke-width="0.8"/>
<circle cx="99.55" cy="349.78" r="0.45" fill="#c8c8c8" stroke="none" stroke-width="0.8"/>
<circle cx="95.40" cy="348.95" r="0.45" fill="#c8c8c8" stroke="none" stroke-width="0.8"/>
<circle cx="96.56" cy="350.54" r="0.45" fill="#c8c8c8" stroke="none" stroke-width="0.8"/>
<circle cx="93.02" cy="350.69" r="0.45" fill="#c8c8c8" stroke="none" stroke-width="0.8"/>
<circle cx="93.71" cy="352.63" r="0.45" fill="#c8c8c8" stroke="none" stroke-width="0.8"/>
<circle cx="89.50" cy="351.65" r="0.45" fill="#c8c8c8" stroke="none" stroke-width="0.8"/>
<circle cx="89.50" cy="353.78" r="0.45" fill="#c8c8c8" stroke="none" stroke-width="0.8"/>
<circle cx="85.98" cy="350.69" r="0.45" fill="#c8c8c8" stroke="none" stroke-width="0.8"/>
<circle cx="85.29" cy="352.63" r="0.45" fill="#c8c8c8" stroke="none" stroke-width="0.8"/>
<circle cx="83.60" cy="348.95" r="0.45" fill="#c8c8c8" stroke="none" stroke-width="0.8"/>
<circle cx="82.44" cy="350.54" r="0.45" fill="#c8c8c8" stroke="none" stroke-width="0.8"/>
<circle cx="81.09" cy="348.31" r="0.45" fill="#c8c8c8" stroke="none" stroke-width="0.8"/>
<circle cx="79.45" cy="349.78" r="0.45" fill="#c8c8c8" stroke="none" stroke-width="0.8"/>
<circle cx="76.75" cy="348.97" r="0.45" fill="#c8c8c8" stroke="none" stroke-width="0.8"/>
<circle cx="74.25" cy="350.57" r="0.45" fill="#c8c8c8" stroke="none" stroke-width="0.8"/>
<circle cx="71.83" cy="349.32" r="0.45" fill="#c8c8c8" stroke="none" stroke-width="0.8"/>
<circle cx="68.36" cy="350.99" r="0.45" fill="#c8c8c8" stroke="none" stroke-width="0.8"/>
<circle cx="69.56" cy="348.18" r="0.45" fill="#c8c8c8" stroke="none" stroke-width="0.8"/>
<circle cx="65.65" cy="349.63" r="0.45" fill="#c8c8c8" stroke="none" stroke-width="0.8"/>
<circle cx="70.43" cy="346.21" r="0.45" fill="#c8c8c8" stroke="none" stroke-width="0.8"/>
<circle cx="66.69" cy="347.28" r="0.45" fill="#c8c8c8" stroke="none" stroke-width="0.8"/>
<circle cx="70.73" cy="344.81" r="0.45" fill="#c8c8c8" stroke="none" stroke-width="0.8"/>
<circle cx="67.05" cy="345.60" r="0.45" fill="#c8c8c8" stroke="none" stroke-width="0.8"/>
<circle cx="67.29" cy="344.20" r="0.45" fill="#c8c8c8" stroke="none" stroke-width="0.8"/>
<circle cx="62.94" cy="344.87" r="0.45" fill="#c8c8c8" stroke="none" stroke-width="0.8"/>
<circle cx="62.26" cy="343.50" r="0.45" fill="#c8c8c8" stroke="none" stroke-width="0.8"/>
<circle cx="56.91" cy="344.03" r="0.45" fill="#c8c8c8" stroke="none" stroke-width="0.8"/>
<circle cx="60.71" cy="342.20" r="0.45" fill="#c8c8c8" stroke="none" stroke-width="0.8"/>
<circle cx="55.07" cy="342.48" r="0.45" fill="#c8c8c8" stroke="none" stroke-width="0.8"/>
<circle cx="64.00" cy="340.80" r="0.45" fill="#c8c8c8" stroke="none" stroke-width="0.8"/>
<circle cx="59.00" cy="340.80" r="0.45" fill="#c8c8c8" stroke="none" stroke-width="0.8"/>
<circle cx="67.72" cy="339.74" r="0.45" fill="#c8c8c8" stroke="none" stroke-width="0.8"/>
<circle cx="63.45" cy="339.53" r="0.45" fill="#c8c8c8" stroke="none" stroke-width="0.8"/>
<circle cx="67.48" cy="338.62" r="0.45" fill="#c8c8c8" stroke="none" stroke-width="0.8"/>
<circle cx="63.16" cy="338.19" r="0.45" fill="#c8c8c8" stroke="none" stroke-width="0.8"/>
<circle cx="64.59" cy="336.98" r="0.45" fill="#c8c8c8" stroke="none" stroke-width="0.8"/>
<circle cx="59.70" cy="336.23" r="0.45" fill="#c8c8c8" stroke="none" stroke-width="0.8"/>
<circle cx="64.10" cy="335.37" r="0.45" fill="#c8c8c8" stroke="none" stroke-width="0.8"/>
<circle cx="59.12" cy="334.31" r="0.45" fill="#c8c8c8" stroke="none" stroke-width="0.8"/>
<circle cx="68.11" cy="334.73" r="0.45" fill="#c8c8c8" stroke="none" stroke-width="0.8"/>
<circle cx="63.91" cy="333.54" r="0.45" fill="#c8c8c8" stroke="none" stroke-width="0.8"/>
<circle cx="73.38" cy="334.84" r="0.45" fill="#c8c8c8" stroke="none" stroke-width="0.8"/>
<circle cx="70.22" cy="333.67" r="0.45" fill="#c8c8c8" stroke="none" stroke-width="0.8"/>
<circle cx="76.13" cy="334.35" r="0.45" fill="#c8c8c8" stroke="none" stroke-width="0.8"/>
<circle cx="73.51" cy="333.09" r="0.45" fill="#c8c8c8" stroke="none" stroke-width="0.8"/>
<circle cx="76.75" cy="332.63" r="0.45" fill="#c8c8c8" stroke="none" stroke-width="0.8"/>
<circle cx="74.25" cy="331.03" r="0.45" fill="#c8c8c8" stroke="none" stroke-width="0.8"/>
<circle cx="78.39" cy="330.88" r="0.45" fill="#c8c8c8" stroke="none" stroke-width="0.8"/>
<circle cx="76.21" cy="328.93" r="0.45" fill="#c8c8c8" stroke="none" stroke-width="0.8"/>
<circle cx="82.20" cy="330.72" r="0.45" fill="#c8c8c8" stroke="none" stroke-width="0.8"/>
<circle cx="80.77" cy="328.74" r="0.45" fill="#c8c8c8" stroke="none" stroke-width="0.8"/>
<circle cx="86.36" cy="331.98" r="0.45" fill="#c8c8c8" stroke="none" stroke-width="0.8"/>
<circle cx="85.75" cy="330.25" r="0.45" fill="#c8c8c8" stroke="none" stroke-width="0.8"/>
<circle cx="89.50" cy="332.78" r="0.45" fill="#c8c8c8" stroke="none" stroke-width="0.8"/>
<circle cx="89.50" cy="331.21" r="0.45" fill="#c8c8c8" stroke="none" stroke-width="0.8"/>
<circle cx="92.64" cy="331.98" r="0.45" fill="#c8c8c8" stroke="none" stroke-width="0.8"/>
<circle cx="93.25" cy="330.25" r="0.45" fill="#c8c8c8" stroke="none" stroke-width="0.8"/>
<circle cx="96.80" cy="330.72" r="0.45" fill="#c8c8c8" stroke="none" stroke-width="0.8"/>
<circle cx="98.23" cy="328.74" r="0.45" fill="#c8c8c8" stroke="none" stroke-width="0.8"/>
<circle cx="100.61" cy="330.88" r="0.45" fill="#c8c8c8" stroke="none" stroke-width="0.8"/>
<circle cx="102.79" cy="328.93" r="0.45" fill="#c8c8c8" stroke="none" stroke-width="0.8"/>
<circle cx="102.25" cy="332.63" r="0.45" fill="#c8c8c8" stroke="none" stroke-width="0.8"/>
<circle cx="104.75" cy="331.03" r="0.45" fill="#c8c8c8" stroke="none" stroke-width="0.8"/>
<circle cx="102.87" cy="334.35" r="0.45" fill="#c8c8c8" stroke="none" stroke-width="0.8"/>
<circle cx="105.49" cy="333.09" r="0.45" fill="#c8c8c8" stroke="none" stroke-width="0.8"/>
<circle cx="105.62" cy="334.84" r="0.45" fill="#c8c8c8" stroke="none" stroke-width="0.8"/>
<circle cx="108.78" cy="333.67" r="0.45" fill="#c8c8c8" stroke="none" stroke-width="0.8"/>
<circle cx="110.89" cy="334.73" r="0.45" fill="#c8c8c8" stroke="none" stroke-width="0.8"/>
<circle cx="115.09" cy="333.54" r="0.45" fill="#c8c8c8" stroke="none" stroke-width="0.8"/>
<circle cx="114.90" cy="335.37" r="0.45" fill="#c8c8c8" stroke="none" stroke-width="0.8"/>
<circle cx="119.88" cy="334.31" r="0.45" fill="#c8c8c8" stroke="none" stroke-width="0.8"/>
<circle cx="114.41" cy="336.98" r="0.45" fill="#c8c8c8" stroke="none" stroke-width="0.8"/>
<circle cx="119.30" cy="336.23" r="0.45" fill="#c8c8c8" stroke="none" stroke-width="0.8"/>
<circle cx="111.52" cy="338.62" r="0.45" fill="#c8c8c8" stroke="none" stroke-width="0.8"/>
<circle cx="115.84" cy="338.19" r="0.45" fill="#c8c8c8" stroke="none" stroke-width="0.8"/>
<circle cx="111.28" cy="339.74" r="0.45" fill="#c8c8c8" stroke="none" stroke-width="0.8"/>
<circle cx="115.55" cy="339.53" r="0.45" fill="#c8c8c8" stroke="none" stroke-width="0.8"/>
<path d="M83.5,311 L89,310.5 L91.5,312 L86,313.5 Z" fill="#111" stroke="none" stroke-width="0.8"/>
<path d="M95,315 L101,314 L103,315.6 L97,316.8 Z" fill="#f4f4f4" stroke="#aaa" stroke-width="0.4"/>
<line x1="48.00" y1="313.00" x2="76.00" y2="313.00" stroke="#5fb3c4" stroke-width="0.7"/>
<circle cx="76.00" cy="313.00" r="2.50" fill="#5fb3c4" stroke="none" stroke-width="0.8"/>
<line x1="108.80" y1="316.60" x2="128.00" y2="316.60" stroke="#5fb3c4" stroke-width="0.7"/>
<circle cx="108.80" cy="316.60" r="2.50" fill="#5fb3c4" stroke="none" stroke-width="0.8"/>
<line x1="42.00" y1="334.40" x2="58.00" y2="334.40" stroke="#5fb3c4" stroke-width="0.7"/>
<circle cx="58.00" cy="334.40" r="2.50" fill="#5fb3c4" stroke="none" stroke-width="0.8"/>
<line x1="40.50" y1="386.80" x2="55.80" y2="386.80" stroke="#5fb3c4" stroke-width="0.7"/>
<circle cx="55.80" cy="386.80" r="2.50" fill="#5fb3c4" stroke="none" stroke-width="0.8"/>
<line x1="119.70" y1="363.70" x2="135.00" y2="363.70" stroke="#5fb3c4" stroke-width="0.7"/>
<circle cx="119.70" cy="363.70" r="2.50" fill="#5fb3c4" stroke="none" stroke-width="0.8"/>
<text x="24.00" y="314.40" font-size="8.7" text-anchor="start" font-weight="normal" fill="#222" stroke="#222" stroke-width="0.22">Chip</text>
<text x="131.00" y="318.80" font-size="8.7" text-anchor="start" font-weight="normal" fill="#222" stroke="#222" stroke-width="0.22">LED</text>
<text x="26.20" y="331.00" font-size="8.7" text-anchor="middle" font-weight="normal" fill="#222" stroke="#222" stroke-width="0.22">MXene</text>
<text x="26.20" y="341.60" font-size="8.7" text-anchor="middle" font-weight="normal" fill="#222" stroke="#222" stroke-width="0.22">antenna</text>
<text x="22.20" y="383.40" font-size="8.6" text-anchor="middle" font-weight="normal" fill="#222" stroke="#222" stroke-width="0.22">Soft</text>
<text x="22.80" y="393.60" font-size="8.7" text-anchor="middle" font-weight="normal" fill="#222" stroke="#222" stroke-width="0.22">substrate</text>
<text x="154.60" y="362.40" font-size="8.7" text-anchor="middle" font-weight="normal" fill="#222" stroke="#222" stroke-width="0.22">Rigid</text>
<text x="154.60" y="373.00" font-size="8.7" text-anchor="middle" font-weight="normal" fill="#222" stroke="#222" stroke-width="0.22">substrate</text>
<text transform="translate(175.00,299.40) scale(0.9,1)" font-size="13" font-weight="bold" fill="#000" stroke="#000" stroke-width="0.15">j</text>
<rect x="188.40" y="305.00" width="87.40" height="99.40" fill="#f1f1f1" stroke="none" stroke-width="0.8"/>
<rect x="188.40" y="351.00" width="87.40" height="3.20" fill="#f6f6f6" stroke="none" stroke-width="0.8"/>
<path d="M204,350 Q228,334 262,351 L262,352.5 L204,352.5 Z" fill="#e6f0f3" stroke="#c4e0e6" stroke-width="0.4"/>
<path d="M222,308 Q209,317 205,325 Q214,343 231,345 Q250,340 259,319 L257,318 Q246,328 236,321 Q228,314 222,308 Z" fill="#deedf2" stroke="#a9d3dc" stroke-width="0.6"/>
<path d="M249.3,336.5 L249.3,336.8 L249.0,337.1 L248.6,337.4 L248.2,337.7 L247.8,338.0 L247.5,338.2 L247.3,338.5 L247.3,338.8 L247.4,339.1 L247.6,339.5 L247.8,339.8 L247.9,340.2 L248.0,340.6 L247.9,340.9 L247.7,341.2 L247.3,341.4 L246.8,341.6 L246.3,341.7 L245.7,341.8 L245.3,342.0 L244.9,342.2 L244.7,342.4 L244.5,342.7 L244.4,343.0 L244.4,343.4 L244.3,343.8 L244.2,344.2 L243.9,344.5 L243.6,344.7 L243.1,344.8 L242.6,344.8 L242.0,344.8 L241.5,344.7 L240.9,344.7 L240.5,344.7 L240.1,344.8 L239.8,345.0 L239.5,345.3 L239.2,345.7 L238.9,346.0 L238.6,346.3 L238.2,346.5 L237.7,346.6 L237.3,346.6 L236.8,346.5 L236.3,346.3 L235.8,346.1 L235.3,345.9 L234.9,345.8 L234.5,345.7 L234.1,345.8 L233.7,345.9 L233.2,346.1 L232.7,346.3 L232.2,346.5 L231.7,346.6 L231.3,346.6 L230.8,346.5 L230.4,346.3 L230.1,346.0 L229.8,345.7 L229.5,345.3 L229.2,345.0 L228.9,344.8 L228.5,344.7 L228.1,344.7 L227.5,344.7 L227.0,344.8 L226.4,344.8 L225.9,344.8 L225.4,344.7 L225.1,344.5 L224.8,344.2 L224.7,343.8 L224.6,343.4 L224.6,343.0 L224.5,342.7 L224.3,342.4 L224.1,342.2 L223.7,342.0 L223.3,341.8 L222.7,341.7 L222.2,341.6 L221.7,341.4 L221.3,341.2 L221.1,340.9 L221.0,340.6 L221.1,340.2 L221.2,339.8 L221.4,339.5 L221.6,339.1 L221.7,338.8 L221.7,338.5 L221.5,338.2 L221.2,338.0 L220.8,337.7 L220.4,337.4 L220.0,337.1 L219.7,336.8 L219.7,336.5 L219.7,336.2 L220.0,335.9 L220.4,335.6 L220.8,335.3 L221.2,335.0 L221.5,334.8 L221.7,334.5 L221.7,334.2 L221.6,333.9 L221.4,333.5 L221.2,333.2 L221.1,332.8 L221.0,332.4 L221.1,332.1 L221.3,331.8 L221.7,331.6 L222.2,331.4 L222.7,331.3 L223.3,331.2 L223.7,331.0 L224.1,330.8 L224.3,330.6 L224.5,330.3 L224.6,330.0 L224.6,329.6 L224.7,329.2 L224.8,328.8 L225.1,328.5 L225.4,328.3 L225.9,328.2 L226.4,328.2 L227.0,328.2 L227.5,328.3 L228.1,328.3 L228.5,328.3 L228.9,328.2 L229.2,328.0 L229.5,327.7 L229.8,327.3 L230.1,327.0 L230.4,326.7 L230.8,326.5 L231.3,326.4 L231.7,326.4 L232.2,326.5 L232.7,326.7 L233.2,326.9 L233.7,327.1 L234.1,327.2 L234.5,327.3 L234.9,327.2 L235.3,327.1 L235.8,326.9 L236.3,326.7 L236.8,326.5 L237.3,326.4 L237.7,326.4 L238.2,326.5 L238.6,326.7 L238.9,327.0 L239.2,327.3 L239.5,327.7 L239.8,328.0 L240.1,328.2 L240.5,328.3 L240.9,328.3 L241.5,328.3 L242.0,328.2 L242.6,328.2 L243.1,328.2 L243.6,328.3 L243.9,328.5 L244.2,328.8 L244.3,329.2 L244.4,329.6 L244.4,330.0 L244.5,330.3 L244.7,330.6 L244.9,330.8 L245.3,331.0 L245.7,331.2 L246.3,331.3 L246.8,331.4 L247.3,331.6 L247.7,331.8 L247.9,332.1 L248.0,332.4 L247.9,332.8 L247.8,333.2 L247.6,333.5 L247.4,333.9 L247.3,334.2 L247.3,334.5 L247.5,334.8 L247.8,335.0 L248.2,335.3 L248.6,335.6 L249.0,335.9 L249.3,336.2 L249.3,336.5Z M241.9,336.5 L241.9,336.3 L241.8,336.2 L241.6,336.0 L241.4,335.9 L241.2,335.8 L241.0,335.6 L240.9,335.5 L240.9,335.3 L240.9,335.2 L241.0,335.0 L241.1,334.8 L241.2,334.6 L241.2,334.5 L241.2,334.3 L241.1,334.1 L240.9,334.0 L240.7,334.0 L240.4,333.9 L240.1,333.8 L239.9,333.8 L239.7,333.7 L239.6,333.6 L239.5,333.4 L239.5,333.2 L239.4,333.0 L239.4,332.8 L239.3,332.7 L239.2,332.5 L239.0,332.4 L238.8,332.3 L238.5,332.3 L238.3,332.3 L238.0,332.4 L237.7,332.4 L237.5,332.4 L237.3,332.3 L237.1,332.2 L237.0,332.1 L236.9,331.9 L236.7,331.8 L236.5,331.6 L236.3,331.5 L236.1,331.4 L235.9,331.4 L235.6,331.5 L235.4,331.6 L235.1,331.7 L234.9,331.8 L234.7,331.9 L234.5,331.9 L234.3,331.9 L234.1,331.8 L233.9,331.7 L233.6,331.6 L233.4,331.5 L233.1,331.4 L232.9,331.4 L232.7,331.5 L232.5,331.6 L232.3,331.8 L232.1,331.9 L232.0,332.1 L231.9,332.2 L231.7,332.3 L231.5,332.4 L231.3,332.4 L231.0,332.4 L230.7,332.3 L230.5,332.3 L230.2,332.3 L230.0,332.4 L229.8,332.5 L229.7,332.7 L229.6,332.8 L229.6,333.0 L229.5,333.2 L229.5,333.4 L229.4,333.6 L229.3,333.7 L229.1,333.8 L228.9,333.8 L228.6,333.9 L228.3,334.0 L228.1,334.0 L227.9,334.1 L227.8,334.3 L227.8,334.5 L227.8,334.6 L227.9,334.8 L228.0,335.0 L228.1,335.2 L228.1,335.3 L228.1,335.5 L228.0,335.6 L227.8,335.8 L227.6,335.9 L227.4,336.0 L227.2,336.2 L227.1,336.3 L227.1,336.5 L227.1,336.7 L227.2,336.8 L227.4,337.0 L227.6,337.1 L227.8,337.2 L228.0,337.4 L228.1,337.5 L228.1,337.7 L228.1,337.8 L228.0,338.0 L227.9,338.2 L227.8,338.4 L227.8,338.5 L227.8,338.7 L227.9,338.9 L228.1,339.0 L228.3,339.0 L228.6,339.1 L228.9,339.2 L229.1,339.2 L229.3,339.3 L229.4,339.4 L229.5,339.6 L229.5,339.8 L229.6,340.0 L229.6,340.2 L229.7,340.3 L229.8,340.5 L230.0,340.6 L230.2,340.7 L230.5,340.7 L230.7,340.7 L231.0,340.6 L231.3,340.6 L231.5,340.6 L231.7,340.7 L231.9,340.8 L232.0,340.9 L232.1,341.1 L232.3,341.2 L232.5,341.4 L232.7,341.5 L232.9,341.6 L233.1,341.6 L233.4,341.5 L233.6,341.4 L233.9,341.3 L234.1,341.2 L234.3,341.1 L234.5,341.1 L234.7,341.1 L234.9,341.2 L235.1,341.3 L235.4,341.4 L235.6,341.5 L235.9,341.6 L236.1,341.6 L236.3,341.5 L236.5,341.4 L236.7,341.2 L236.9,341.1 L237.0,340.9 L237.1,340.8 L237.3,340.7 L237.5,340.6 L237.7,340.6 L238.0,340.6 L238.3,340.7 L238.5,340.7 L238.8,340.7 L239.0,340.6 L239.2,340.5 L239.3,340.3 L239.4,340.2 L239.4,340.0 L239.5,339.8 L239.5,339.6 L239.6,339.4 L239.7,339.3 L239.9,339.2 L240.1,339.2 L240.4,339.1 L240.7,339.0 L240.9,339.0 L241.1,338.9 L241.2,338.7 L241.2,338.5 L241.2,338.4 L241.1,338.2 L241.0,338.0 L240.9,337.8 L240.9,337.7 L240.9,337.5 L241.0,337.4 L241.2,337.2 L241.4,337.1 L241.6,337.0 L241.8,336.8 L241.9,336.7 L241.9,336.5Z" fill="#c8c8c8" stroke="none" stroke-width="0.8" fill-rule="evenodd"/>
<path d="M246.5,331.9 L246.5,332.2 L246.2,332.5 L245.8,332.8 L245.4,333.1 L245.0,333.4 L244.7,333.7 L244.5,333.9 L244.5,334.2 L244.6,334.5 L244.8,334.9 L245.0,335.3 L245.1,335.7 L245.2,336.0 L245.1,336.4 L244.9,336.6 L244.5,336.9 L244.0,337.0 L243.5,337.2 L242.9,337.3 L242.5,337.4 L242.1,337.6 L241.8,337.8 L241.7,338.1 L241.6,338.5 L241.6,338.9 L241.5,339.3 L241.4,339.6 L241.1,339.9 L240.8,340.2 L240.3,340.3 L239.8,340.3 L239.2,340.3 L238.6,340.2 L238.1,340.2 L237.6,340.2 L237.2,340.3 L236.9,340.5 L236.6,340.8 L236.3,341.1 L236.0,341.5 L235.7,341.8 L235.3,342.0 L234.9,342.1 L234.4,342.1 L233.9,342.0 L233.4,341.8 L232.9,341.6 L232.5,341.4 L232.0,341.2 L231.6,341.2 L231.2,341.2 L230.7,341.4 L230.3,341.6 L229.8,341.8 L229.3,342.0 L228.8,342.1 L228.3,342.1 L227.9,342.0 L227.5,341.8 L227.2,341.5 L226.9,341.1 L226.6,340.8 L226.3,340.5 L226.0,340.3 L225.6,340.2 L225.1,340.2 L224.6,340.2 L224.0,340.3 L223.4,340.3 L222.9,340.3 L222.4,340.2 L222.1,339.9 L221.8,339.6 L221.7,339.3 L221.6,338.9 L221.6,338.5 L221.5,338.1 L221.4,337.8 L221.1,337.6 L220.7,337.4 L220.3,337.3 L219.7,337.2 L219.2,337.0 L218.7,336.9 L218.3,336.6 L218.1,336.4 L218.0,336.0 L218.1,335.7 L218.2,335.3 L218.4,334.9 L218.6,334.5 L218.7,334.2 L218.7,333.9 L218.5,333.7 L218.2,333.4 L217.8,333.1 L217.4,332.8 L217.0,332.5 L216.7,332.2 L216.7,331.9 L216.7,331.6 L217.0,331.3 L217.4,331.0 L217.8,330.7 L218.2,330.4 L218.5,330.1 L218.7,329.9 L218.7,329.6 L218.6,329.3 L218.4,328.9 L218.2,328.5 L218.1,328.1 L218.0,327.8 L218.1,327.4 L218.3,327.2 L218.7,326.9 L219.2,326.8 L219.7,326.6 L220.3,326.5 L220.7,326.4 L221.1,326.2 L221.4,326.0 L221.5,325.7 L221.6,325.3 L221.6,324.9 L221.7,324.5 L221.8,324.2 L222.1,323.9 L222.4,323.6 L222.9,323.5 L223.4,323.5 L224.0,323.5 L224.6,323.6 L225.1,323.6 L225.6,323.6 L226.0,323.5 L226.3,323.3 L226.6,323.0 L226.9,322.7 L227.2,322.3 L227.5,322.0 L227.9,321.8 L228.3,321.7 L228.8,321.7 L229.3,321.8 L229.8,322.0 L230.3,322.2 L230.7,322.4 L231.2,322.6 L231.6,322.6 L232.0,322.6 L232.5,322.4 L232.9,322.2 L233.4,322.0 L233.9,321.8 L234.4,321.7 L234.9,321.7 L235.3,321.8 L235.7,322.0 L236.0,322.3 L236.3,322.7 L236.6,323.0 L236.9,323.3 L237.2,323.5 L237.6,323.6 L238.1,323.6 L238.6,323.6 L239.2,323.5 L239.8,323.5 L240.3,323.5 L240.8,323.6 L241.1,323.9 L241.4,324.2 L241.5,324.5 L241.6,324.9 L241.6,325.3 L241.7,325.7 L241.8,326.0 L242.1,326.2 L242.5,326.4 L242.9,326.5 L243.5,326.6 L244.0,326.8 L244.5,326.9 L244.9,327.2 L245.1,327.4 L245.2,327.8 L245.1,328.1 L245.0,328.5 L244.8,328.9 L244.6,329.3 L244.5,329.6 L244.5,329.9 L244.7,330.1 L245.0,330.4 L245.4,330.7 L245.8,331.0 L246.2,331.3 L246.5,331.6 L246.5,331.9Z M239.0,331.9 L239.0,331.7 L238.9,331.6 L238.7,331.4 L238.5,331.3 L238.3,331.2 L238.1,331.0 L238.0,330.9 L238.0,330.7 L238.0,330.6 L238.1,330.4 L238.2,330.2 L238.3,330.0 L238.3,329.9 L238.3,329.7 L238.2,329.5 L238.0,329.4 L237.8,329.4 L237.5,329.3 L237.2,329.2 L237.0,329.2 L236.8,329.1 L236.7,329.0 L236.6,328.8 L236.6,328.6 L236.5,328.4 L236.5,328.2 L236.4,328.1 L236.3,327.9 L236.1,327.8 L235.9,327.7 L235.6,327.7 L235.4,327.7 L235.1,327.8 L234.8,327.8 L234.6,327.8 L234.4,327.7 L234.2,327.6 L234.1,327.5 L234.0,327.3 L233.8,327.2 L233.6,327.0 L233.4,326.9 L233.2,326.8 L233.0,326.8 L232.7,326.9 L232.5,327.0 L232.2,327.1 L232.0,327.2 L231.8,327.3 L231.6,327.3 L231.4,327.3 L231.2,327.2 L231.0,327.1 L230.7,327.0 L230.5,326.9 L230.2,326.8 L230.0,326.8 L229.8,326.9 L229.6,327.0 L229.4,327.2 L229.2,327.3 L229.1,327.5 L229.0,327.6 L228.8,327.7 L228.6,327.8 L228.4,327.8 L228.1,327.8 L227.8,327.7 L227.6,327.7 L227.3,327.7 L227.1,327.8 L226.9,327.9 L226.8,328.1 L226.7,328.2 L226.7,328.4 L226.6,328.6 L226.6,328.8 L226.5,329.0 L226.4,329.1 L226.2,329.2 L226.0,329.2 L225.7,329.3 L225.4,329.4 L225.2,329.4 L225.0,329.5 L224.9,329.7 L224.9,329.9 L224.9,330.0 L225.0,330.2 L225.1,330.4 L225.2,330.6 L225.2,330.7 L225.2,330.9 L225.1,331.0 L224.9,331.2 L224.7,331.3 L224.5,331.4 L224.3,331.6 L224.2,331.7 L224.2,331.9 L224.2,332.1 L224.3,332.2 L224.5,332.4 L224.7,332.5 L224.9,332.6 L225.1,332.8 L225.2,332.9 L225.2,333.1 L225.2,333.2 L225.1,333.4 L225.0,333.6 L224.9,333.8 L224.9,333.9 L224.9,334.1 L225.0,334.3 L225.2,334.4 L225.4,334.4 L225.7,334.5 L226.0,334.6 L226.2,334.6 L226.4,334.7 L226.5,334.8 L226.6,335.0 L226.6,335.2 L226.7,335.4 L226.7,335.6 L226.8,335.7 L226.9,335.9 L227.1,336.0 L227.3,336.1 L227.6,336.1 L227.8,336.1 L228.1,336.0 L228.4,336.0 L228.6,336.0 L228.8,336.1 L229.0,336.2 L229.1,336.3 L229.2,336.5 L229.4,336.6 L229.6,336.8 L229.8,336.9 L230.0,337.0 L230.2,337.0 L230.5,336.9 L230.7,336.8 L231.0,336.7 L231.2,336.6 L231.4,336.5 L231.6,336.5 L231.8,336.5 L232.0,336.6 L232.2,336.7 L232.5,336.8 L232.7,336.9 L233.0,337.0 L233.2,337.0 L233.4,336.9 L233.6,336.8 L233.8,336.6 L234.0,336.5 L234.1,336.3 L234.2,336.2 L234.4,336.1 L234.6,336.0 L234.8,336.0 L235.1,336.0 L235.4,336.1 L235.6,336.1 L235.9,336.1 L236.1,336.0 L236.3,335.9 L236.4,335.7 L236.5,335.6 L236.5,335.4 L236.6,335.2 L236.6,335.0 L236.7,334.8 L236.8,334.7 L237.0,334.6 L237.2,334.6 L237.5,334.5 L237.8,334.4 L238.0,334.4 L238.2,334.3 L238.3,334.1 L238.3,333.9 L238.3,333.8 L238.2,333.6 L238.1,333.4 L238.0,333.2 L238.0,333.1 L238.0,332.9 L238.1,332.8 L238.3,332.6 L238.5,332.5 L238.7,332.4 L238.9,332.2 L239.0,332.1 L239.0,331.9Z" fill="#858585" stroke="none" stroke-width="0.8" fill-rule="evenodd"/>
<ellipse cx="231.6" cy="331.9" rx="6.8" ry="4.7" fill="#e4f0f2"/>
<circle cx="231.60" cy="334.00" r="0.90" fill="#111" stroke="none" stroke-width="0.8"/>
<line x1="195.40" y1="343.30" x2="200.00" y2="331.00" stroke="#f08070" stroke-width="0.6" stroke-dasharray="1.3,0.9"/>
<path d="M201,328.3 L201.6,332.5 L198.6,331.6 Z" fill="#f08070" stroke="none" stroke-width="0.8"/>
<line x1="261.80" y1="344.60" x2="266.40" y2="332.00" stroke="#f08070" stroke-width="0.6" stroke-dasharray="1.3,0.9"/>
<path d="M267.4,329.2 L268,333.4 L265,332.6 Z" fill="#f08070" stroke="none" stroke-width="0.8"/>
<path d="M197,377 Q209,372 221,367 Q233,371 244,377 Q257,382 269.4,387 Q262,394 254,401 Q240,396 228,392 Q212,386 197,377 Z" fill="#cfe7ef" stroke="#a8d2dc" stroke-width="0.5"/>
<path d="M250.0,381.0 L249.9,381.2 L249.6,381.5 L249.2,381.7 L248.7,381.9 L248.2,382.1 L247.8,382.3 L247.6,382.5 L247.5,382.7 L247.7,382.9 L247.9,383.2 L248.1,383.4 L248.3,383.7 L248.4,384.0 L248.3,384.2 L248.0,384.4 L247.5,384.6 L247.0,384.7 L246.3,384.8 L245.7,384.9 L245.1,385.0 L244.6,385.1 L244.3,385.3 L244.2,385.5 L244.1,385.8 L244.0,386.0 L243.9,386.3 L243.8,386.6 L243.5,386.8 L243.0,387.0 L242.5,387.1 L241.8,387.1 L241.1,387.1 L240.5,387.0 L239.8,387.0 L239.3,387.0 L238.8,387.1 L238.4,387.2 L238.1,387.4 L237.7,387.7 L237.4,387.9 L236.9,388.1 L236.5,388.3 L235.9,388.4 L235.4,388.4 L234.8,388.3 L234.2,388.2 L233.6,388.0 L233.0,387.9 L232.5,387.7 L232.0,387.7 L231.5,387.7 L231.0,387.9 L230.4,388.0 L229.8,388.2 L229.2,388.3 L228.6,388.4 L228.1,388.4 L227.5,388.3 L227.1,388.1 L226.6,387.9 L226.3,387.7 L225.9,387.4 L225.6,387.2 L225.2,387.1 L224.7,387.0 L224.2,387.0 L223.5,387.0 L222.9,387.1 L222.2,387.1 L221.5,387.1 L221.0,387.0 L220.5,386.8 L220.2,386.6 L220.1,386.3 L220.0,386.0 L219.9,385.8 L219.8,385.5 L219.7,385.3 L219.4,385.1 L218.9,385.0 L218.3,384.9 L217.7,384.8 L217.0,384.7 L216.5,384.6 L216.0,384.4 L215.7,384.2 L215.6,384.0 L215.7,383.7 L215.9,383.4 L216.1,383.2 L216.3,382.9 L216.5,382.7 L216.4,382.5 L216.2,382.3 L215.8,382.1 L215.3,381.9 L214.8,381.7 L214.4,381.5 L214.1,381.2 L214.0,381.0 L214.1,380.8 L214.4,380.5 L214.8,380.3 L215.3,380.1 L215.8,379.9 L216.2,379.7 L216.4,379.5 L216.5,379.3 L216.3,379.1 L216.1,378.8 L215.9,378.6 L215.7,378.3 L215.6,378.0 L215.7,377.8 L216.0,377.6 L216.5,377.4 L217.0,377.3 L217.7,377.2 L218.3,377.1 L218.9,377.0 L219.4,376.9 L219.7,376.7 L219.8,376.5 L219.9,376.2 L220.0,376.0 L220.1,375.7 L220.2,375.4 L220.5,375.2 L221.0,375.0 L221.5,374.9 L222.2,374.9 L222.9,374.9 L223.5,375.0 L224.2,375.0 L224.7,375.0 L225.2,374.9 L225.6,374.8 L225.9,374.6 L226.3,374.3 L226.6,374.1 L227.1,373.9 L227.5,373.7 L228.1,373.6 L228.6,373.6 L229.2,373.7 L229.8,373.8 L230.4,374.0 L231.0,374.1 L231.5,374.3 L232.0,374.3 L232.5,374.3 L233.0,374.1 L233.6,374.0 L234.2,373.8 L234.8,373.7 L235.4,373.6 L235.9,373.6 L236.5,373.7 L236.9,373.9 L237.4,374.1 L237.7,374.3 L238.1,374.6 L238.4,374.8 L238.8,374.9 L239.3,375.0 L239.8,375.0 L240.5,375.0 L241.1,374.9 L241.8,374.9 L242.5,374.9 L243.0,375.0 L243.5,375.2 L243.8,375.4 L243.9,375.7 L244.0,376.0 L244.1,376.2 L244.2,376.5 L244.3,376.7 L244.6,376.9 L245.1,377.0 L245.7,377.1 L246.3,377.2 L247.0,377.3 L247.5,377.4 L248.0,377.6 L248.3,377.8 L248.4,378.0 L248.3,378.3 L248.1,378.6 L247.9,378.8 L247.7,379.1 L247.5,379.3 L247.6,379.5 L247.8,379.7 L248.2,379.9 L248.7,380.1 L249.2,380.3 L249.6,380.5 L249.9,380.8 L250.0,381.0Z M241.0,381.0 L241.0,380.9 L240.8,380.8 L240.6,380.7 L240.3,380.6 L240.1,380.5 L239.9,380.4 L239.8,380.3 L239.8,380.2 L239.8,380.0 L239.9,379.9 L240.1,379.8 L240.2,379.6 L240.2,379.5 L240.1,379.4 L240.0,379.3 L239.8,379.2 L239.5,379.1 L239.1,379.1 L238.8,379.1 L238.5,379.0 L238.3,378.9 L238.2,378.9 L238.1,378.7 L238.0,378.6 L238.0,378.5 L238.0,378.3 L237.9,378.2 L237.7,378.1 L237.5,378.0 L237.2,378.0 L236.9,378.0 L236.6,378.0 L236.2,378.0 L235.9,378.0 L235.6,378.0 L235.4,378.0 L235.2,377.9 L235.0,377.8 L234.9,377.7 L234.7,377.5 L234.5,377.4 L234.2,377.3 L234.0,377.3 L233.7,377.3 L233.4,377.3 L233.1,377.4 L232.8,377.5 L232.5,377.6 L232.3,377.6 L232.0,377.6 L231.7,377.6 L231.5,377.6 L231.2,377.5 L230.9,377.4 L230.6,377.3 L230.3,377.3 L230.0,377.3 L229.8,377.3 L229.5,377.4 L229.3,377.5 L229.1,377.7 L229.0,377.8 L228.8,377.9 L228.6,378.0 L228.4,378.0 L228.1,378.0 L227.8,378.0 L227.4,378.0 L227.1,378.0 L226.8,378.0 L226.5,378.0 L226.3,378.1 L226.1,378.2 L226.0,378.3 L226.0,378.5 L226.0,378.6 L225.9,378.7 L225.8,378.9 L225.7,378.9 L225.5,379.0 L225.2,379.1 L224.9,379.1 L224.5,379.1 L224.2,379.2 L224.0,379.3 L223.9,379.4 L223.8,379.5 L223.8,379.6 L223.9,379.8 L224.1,379.9 L224.2,380.0 L224.2,380.2 L224.2,380.3 L224.1,380.4 L223.9,380.5 L223.7,380.6 L223.4,380.7 L223.2,380.8 L223.0,380.9 L223.0,381.0 L223.0,381.1 L223.2,381.2 L223.4,381.3 L223.7,381.4 L223.9,381.5 L224.1,381.6 L224.2,381.7 L224.2,381.8 L224.2,382.0 L224.1,382.1 L223.9,382.2 L223.8,382.4 L223.8,382.5 L223.9,382.6 L224.0,382.7 L224.2,382.8 L224.5,382.9 L224.9,382.9 L225.2,382.9 L225.5,383.0 L225.7,383.1 L225.8,383.1 L225.9,383.3 L226.0,383.4 L226.0,383.5 L226.0,383.7 L226.1,383.8 L226.3,383.9 L226.5,384.0 L226.8,384.0 L227.1,384.0 L227.4,384.0 L227.8,384.0 L228.1,384.0 L228.4,384.0 L228.6,384.0 L228.8,384.1 L229.0,384.2 L229.1,384.3 L229.3,384.5 L229.5,384.6 L229.8,384.7 L230.0,384.7 L230.3,384.7 L230.6,384.7 L230.9,384.6 L231.2,384.5 L231.5,384.4 L231.7,384.4 L232.0,384.4 L232.3,384.4 L232.5,384.4 L232.8,384.5 L233.1,384.6 L233.4,384.7 L233.7,384.7 L234.0,384.7 L234.2,384.7 L234.5,384.6 L234.7,384.5 L234.9,384.3 L235.0,384.2 L235.2,384.1 L235.4,384.0 L235.6,384.0 L235.9,384.0 L236.2,384.0 L236.6,384.0 L236.9,384.0 L237.2,384.0 L237.5,384.0 L237.7,383.9 L237.9,383.8 L238.0,383.7 L238.0,383.5 L238.0,383.4 L238.1,383.3 L238.2,383.1 L238.3,383.1 L238.5,383.0 L238.8,382.9 L239.1,382.9 L239.5,382.9 L239.8,382.8 L240.0,382.7 L240.1,382.6 L240.2,382.5 L240.2,382.4 L240.1,382.2 L239.9,382.1 L239.8,382.0 L239.8,381.8 L239.8,381.7 L239.9,381.6 L240.1,381.5 L240.3,381.4 L240.6,381.3 L240.8,381.2 L241.0,381.1 L241.0,381.0Z" fill="#7e7e7e" stroke="none" stroke-width="0.8" fill-rule="evenodd"/>
<circle cx="232.00" cy="381.00" r="0.90" fill="#111" stroke="none" stroke-width="0.8"/>
<line x1="203.00" y1="370.00" x2="195.00" y2="365.40" stroke="#f08070" stroke-width="0.6" stroke-dasharray="1.3,0.9"/>
<path d="M193,364 L197.2,364.4 L195.6,367.2 Z" fill="#f08070" stroke="none" stroke-width="0.8"/>
<line x1="262.00" y1="396.00" x2="272.00" y2="402.00" stroke="#f08070" stroke-width="0.6" stroke-dasharray="1.3,0.9"/>
<path d="M274,403.2 L269.8,403 L271.4,400.2 Z" fill="#f08070" stroke="none" stroke-width="0.8"/>
<text x="190.60" y="312.40" font-size="8.3" text-anchor="start" font-weight="normal" fill="#222" stroke="#222" stroke-width="0.22">Bend</text>
<text x="190.60" y="404.00" font-size="8.6" text-anchor="start" font-weight="normal" fill="#222" stroke="#222" stroke-width="0.22">Stretch</text>
<text x="287.00" y="329.40" font-size="8.5" text-anchor="start" font-weight="normal" fill="#222" stroke="#222" stroke-width="0.22">Data</text>
<text x="282.60" y="376.00" font-size="9.2" text-anchor="start" font-weight="normal" fill="#222" stroke="#222" stroke-width="0.22">Energy</text>
<line x1="281.00" y1="337.40" x2="310.00" y2="337.40" stroke="#2cb092" stroke-width="1.1"/>
<path d="M277.6,337.4 L282.6,334.6 L282.6,340.2 Z" fill="#2cb092" stroke="none" stroke-width="0.8"/>
<path d="M313.4,337.4 L308.4,334.6 L308.4,340.2 Z" fill="#2cb092" stroke="none" stroke-width="0.8"/>
<line x1="281.00" y1="383.40" x2="313.00" y2="383.40" stroke="#2cb092" stroke-width="1.1"/>
<path d="M277.6,383.4 L282.6,380.6 L282.6,386.2 Z" fill="#2cb092" stroke="none" stroke-width="0.8"/>
<path d="M355,331 Q363,328 367,340 Q371,356 378,368 Q386,382 392,392 Q395,398 394,405 L334,405 Q326,399 321,388 L355,386 Z" fill="url(#skin)" stroke="none" stroke-width="0.8"/>
<path d="M372,360 Q382,378 392,394 L388,405 Q380,390 372,372 Z" fill="#ddb090" stroke="none" stroke-width="0.8" opacity="0.5"/>
<path d="M321,334 Q313.5,333 314,338.5 Q314.5,343 321,343 Z" fill="#efc4a8" stroke="none" stroke-width="0.8"/>
<path d="M321,345 Q313.5,344.5 314,350 Q314.5,355 321,355 Z" fill="#efc4a8" stroke="none" stroke-width="0.8"/>
<path d="M321,358 Q313.5,357.5 314,363 Q314.5,368 321,368 Z" fill="#efc4a8" stroke="none" stroke-width="0.8"/>
<path d="M321,371 Q313,370.5 313.5,376.5 Q314,382 322,381.5 Z" fill="#f0c8ac" stroke="none" stroke-width="0.8"/>
<rect x="320.60" y="309.40" width="36.80" height="76.60" fill="#fff" stroke="#3a3a3a" stroke-width="1.3" rx="4.5"/>
<path d="M330,310 L348,310 L347,312.6 Q339,313.6 331,312.6 Z" fill="#222" stroke="none" stroke-width="0.8"/>
<circle cx="338.40" cy="348.00" r="12.60" fill="none" stroke="#1a9ee2" stroke-width="2.8"/>
<text x="333.60" y="349.50" font-size="4.2" text-anchor="middle" font-weight="bold" fill="#1a9ee2">NFC</text>
<path d="M340.76,346.40 Q342.04,348 340.76,349.60" fill="none" stroke="#1a9ee2" stroke-width="0.8"/>
<path d="M341.18,345.20 Q343.42,348 341.18,350.80" fill="none" stroke="#1a9ee2" stroke-width="0.8"/>
<path d="M341.60,344.00 Q344.80,348 341.60,352.00" fill="none" stroke="#1a9ee2" stroke-width="0.8"/>
<text transform="translate(0.00,439.40) scale(0.9,1)" font-size="13" font-weight="bold" fill="#000" stroke="#000" stroke-width="0.15">m</text>
<text x="39.00" y="449.40" font-size="8.65" text-anchor="start" font-weight="normal" fill="#222" stroke="#222" stroke-width="0.22">Microchip</text>
<text x="86.00" y="449.40" font-size="8.6" text-anchor="start" font-weight="normal" fill="#222" stroke="#222" stroke-width="0.22">Antenna</text>
<line x1="36.60" y1="452.40" x2="69.80" y2="452.40" stroke="#333" stroke-width="0.75"/>
<line x1="36.60" y1="481.40" x2="69.80" y2="481.40" stroke="#333" stroke-width="0.75"/>
<line x1="81.20" y1="452.40" x2="118.40" y2="452.40" stroke="#333" stroke-width="0.75"/>
<line x1="81.20" y1="481.40" x2="118.40" y2="481.40" stroke="#333" stroke-width="0.75"/>
<circle cx="71.00" cy="452.40" r="1.20" fill="#fff" stroke="#333" stroke-width="0.75"/>
<circle cx="71.00" cy="481.40" r="1.20" fill="#fff" stroke="#333" stroke-width="0.75"/>
<circle cx="80.00" cy="452.40" r="1.20" fill="#fff" stroke="#333" stroke-width="0.75"/>
<circle cx="80.00" cy="481.40" r="1.20" fill="#fff" stroke="#333" stroke-width="0.75"/>
<line x1="36.60" y1="452.40" x2="36.60" y2="481.40" stroke="#333" stroke-width="0.75"/>
<rect x="34.40" y="461.00" width="4.20" height="11.40" fill="#fff" stroke="#333" stroke-width="0.75"/>
<line x1="53.00" y1="452.40" x2="53.00" y2="464.40" stroke="#333" stroke-width="0.75"/>
<line x1="53.00" y1="467.60" x2="53.00" y2="481.40" stroke="#333" stroke-width="0.75"/>
<rect x="49.00" y="464.00" width="8.00" height="1.30" fill="#222" stroke="none" stroke-width="0.8"/>
<rect x="49.00" y="466.90" width="8.00" height="1.30" fill="#222" stroke="none" stroke-width="0.8"/>
<rect x="94.40" y="449.80" width="11.20" height="5.20" fill="#fff" stroke="#333" stroke-width="0.75"/>
<line x1="118.40" y1="452.40" x2="118.40" y2="462.50" stroke="#333" stroke-width="0.75"/>
<line x1="118.40" y1="472.90" x2="118.40" y2="481.40" stroke="#333" stroke-width="0.75"/>
<path d="M118.4,462.5 a1.4,1.3 0 0 0 0,2.6 a1.4,1.3 0 0 0 0,2.6 a1.4,1.3 0 0 0 0,2.6 a1.4,1.3 0 0 0 0,2.6" fill="none" stroke="#333" stroke-width="0.7"/>
<text x="16.00" y="470.00" font-size="9.5" text-anchor="start" font-weight="normal" fill="#222" stroke="#222" stroke-width="0.22"><tspan font-style="italic">R</tspan><tspan dy="2.38" font-size="5.89" font-style="italic">chip</tspan><tspan dy="-2.38"></tspan></text>
<text x="58.20" y="470.00" font-size="9.5" text-anchor="start" font-weight="normal" fill="#222" stroke="#222" stroke-width="0.22"><tspan font-style="italic">C</tspan><tspan dy="2.38" font-size="5.89" font-style="italic">chip</tspan><tspan dy="-2.38"></tspan></text>
<text x="95.00" y="465.00" font-size="9.5" text-anchor="start" font-weight="normal" fill="#222" stroke="#222" stroke-width="0.22"><tspan font-style="italic">R</tspan><tspan dy="2.38" font-size="5.89" font-style="italic">ant</tspan><tspan dy="-2.38"></tspan></text>
<text x="121.60" y="471.00" font-size="9.5" text-anchor="start" font-weight="normal" fill="#222" stroke="#222" stroke-width="0.22"><tspan font-style="italic">L</tspan><tspan dy="2.38" font-size="5.89" font-style="italic">ant</tspan><tspan dy="-2.38"></tspan></text>
<rect x="34.20" y="486.80" width="83.00" height="58.00" fill="#7c80ee" stroke="none" stroke-width="0.8"/>
<clipPath id="mclip"><rect x="34.2" y="486.8" width="83" height="58"/></clipPath><g clip-path="url(#mclip)">
<path d="M94.8,515.4 L95.7,516.4 L96.3,517.5 L96.2,518.5 L95.5,519.4 L94.4,520.2 L93.2,520.9 L92.4,521.6 L92.2,522.5 L92.5,523.6 L93.0,524.8 L93.5,526.1 L93.6,527.3 L93.2,528.2 L92.2,528.8 L90.9,529.1 L89.6,529.3 L88.6,529.6 L88.1,530.3 L87.9,531.4 L88.0,532.8 L88.0,534.2 L87.7,535.3 L86.9,536.0 L85.8,536.1 L84.5,535.8 L83.2,535.5 L82.2,535.4 L81.4,535.9 L80.9,536.8 L80.5,538.1 L80.0,539.4 L79.2,540.3 L78.3,540.6 L77.2,540.3 L76.1,539.5 L75.1,538.7 L74.1,538.2 L73.3,538.3 L72.5,539.0 L71.6,540.0 L70.7,541.0 L69.7,541.5 L68.7,541.4 L67.8,540.7 L67.1,539.5 L66.4,538.3 L65.7,537.5 L64.9,537.2 L63.9,537.5 L62.7,538.1 L61.5,538.7 L60.4,538.8 L59.5,538.3 L59.0,537.2 L58.7,535.8 L58.5,534.5 L58.2,533.4 L57.5,532.9 L56.5,532.7 L55.2,532.8 L53.9,532.8 L52.8,532.4 L52.2,531.6 L52.1,530.4 L52.3,529.1 L52.6,527.7 L52.7,526.6 L52.3,525.8 L51.4,525.3 L50.2,524.8 L48.9,524.3 L48.1,523.5 L47.8,522.5 L48.1,521.4 L48.8,520.2 L49.6,519.1 L50.1,518.1 L50.0,517.2 L49.4,516.3 L48.4,515.4 L47.5,514.4 L46.9,513.3 L47.0,512.3 L47.7,511.4 L48.8,510.6 L50.0,509.9 L50.8,509.2 L51.0,508.3 L50.7,507.2 L50.2,506.0 L49.7,504.7 L49.6,503.5 L50.0,502.6 L51.0,502.0 L52.3,501.7 L53.6,501.5 L54.6,501.2 L55.1,500.5 L55.3,499.4 L55.2,498.0 L55.2,496.6 L55.5,495.5 L56.3,494.8 L57.4,494.7 L58.7,495.0 L60.0,495.3 L61.0,495.4 L61.8,494.9 L62.3,494.0 L62.7,492.7 L63.2,491.4 L64.0,490.5 L64.9,490.2 L66.0,490.5 L67.1,491.3 L68.1,492.1 L69.1,492.6 L69.9,492.5 L70.7,491.8 L71.6,490.8 L72.5,489.8 L73.5,489.3 L74.5,489.4 L75.4,490.1 L76.1,491.3 L76.8,492.5 L77.5,493.3 L78.3,493.6 L79.3,493.3 L80.5,492.7 L81.7,492.1 L82.8,492.0 L83.7,492.5 L84.2,493.6 L84.5,495.0 L84.7,496.3 L85.0,497.4 L85.7,497.9 L86.7,498.1 L88.0,498.0 L89.3,498.0 L90.4,498.4 L91.0,499.2 L91.1,500.4 L90.9,501.7 L90.6,503.1 L90.5,504.2 L90.9,505.0 L91.8,505.5 L93.0,506.0 L94.3,506.5 L95.1,507.3 L95.4,508.3 L95.1,509.4 L94.4,510.6 L93.6,511.7 L93.1,512.7 L93.2,513.6 L93.8,514.5 L94.8,515.4Z" fill="none" stroke="#a8dcf4" stroke-width="6.0" opacity="0.45"/>
<path d="M97.8,515.4 L98.9,516.5 L99.6,517.7 L99.5,518.9 L98.6,519.9 L97.3,520.8 L96.0,521.6 L95.0,522.4 L94.7,523.4 L95.1,524.6 L95.8,526.0 L96.4,527.5 L96.6,528.9 L96.1,529.9 L94.9,530.6 L93.4,530.8 L91.9,531.0 L90.7,531.4 L90.1,532.1 L90.0,533.4 L90.1,535.0 L90.2,536.7 L89.8,538.0 L89.0,538.8 L87.7,538.9 L86.2,538.5 L84.7,538.0 L83.5,537.9 L82.6,538.4 L82.1,539.5 L81.6,541.1 L81.1,542.6 L80.3,543.7 L79.2,544.0 L78.0,543.6 L76.7,542.6 L75.5,541.6 L74.5,541.0 L73.5,541.1 L72.6,541.9 L71.6,543.2 L70.5,544.4 L69.4,545.1 L68.3,544.9 L67.3,544.0 L66.5,542.6 L65.8,541.2 L65.0,540.2 L64.1,539.9 L62.9,540.3 L61.6,541.1 L60.1,541.7 L58.9,541.9 L57.9,541.4 L57.3,540.1 L57.0,538.5 L56.9,536.9 L56.5,535.7 L55.8,535.0 L54.6,534.9 L53.1,535.0 L51.5,535.1 L50.3,534.7 L49.6,533.8 L49.5,532.4 L49.8,530.8 L50.2,529.3 L50.4,528.0 L49.9,527.1 L48.9,526.5 L47.4,526.0 L45.9,525.4 L44.9,524.6 L44.6,523.5 L45.0,522.2 L45.9,520.8 L46.9,519.6 L47.4,518.4 L47.3,517.4 L46.6,516.4 L45.4,515.4 L44.3,514.3 L43.6,513.1 L43.7,511.9 L44.6,510.9 L45.9,510.0 L47.2,509.2 L48.2,508.4 L48.5,507.4 L48.1,506.2 L47.4,504.8 L46.8,503.3 L46.6,501.9 L47.1,500.9 L48.3,500.2 L49.8,500.0 L51.3,499.8 L52.5,499.4 L53.1,498.7 L53.2,497.4 L53.1,495.8 L53.0,494.1 L53.4,492.8 L54.2,492.0 L55.5,491.9 L57.0,492.3 L58.5,492.8 L59.7,492.9 L60.6,492.4 L61.1,491.3 L61.6,489.7 L62.1,488.2 L62.9,487.1 L64.0,486.8 L65.2,487.2 L66.5,488.2 L67.7,489.2 L68.7,489.8 L69.7,489.7 L70.6,488.9 L71.6,487.6 L72.7,486.4 L73.8,485.7 L74.9,485.9 L75.9,486.8 L76.7,488.2 L77.4,489.6 L78.2,490.6 L79.1,490.9 L80.3,490.5 L81.6,489.7 L83.1,489.1 L84.3,488.9 L85.3,489.4 L85.9,490.7 L86.2,492.3 L86.3,493.9 L86.7,495.1 L87.4,495.8 L88.6,495.9 L90.1,495.8 L91.7,495.7 L92.9,496.1 L93.6,497.0 L93.7,498.4 L93.4,500.0 L93.0,501.5 L92.8,502.8 L93.3,503.7 L94.3,504.3 L95.8,504.8 L97.3,505.4 L98.3,506.2 L98.6,507.3 L98.2,508.6 L97.3,510.0 L96.3,511.2 L95.8,512.4 L95.9,513.4 L96.6,514.4 L97.8,515.4Z" fill="none" stroke="#9cd4f4" stroke-width="0.8"/>
<path d="M97.4,515.4 L98.3,516.5 L98.7,517.7 L98.3,518.8 L97.3,519.7 L96.0,520.5 L94.8,521.3 L94.1,522.1 L94.1,523.2 L94.7,524.4 L95.4,525.9 L95.9,527.3 L95.8,528.5 L95.1,529.3 L93.8,529.8 L92.2,530.0 L90.9,530.3 L90.0,530.8 L89.6,531.7 L89.7,533.1 L89.8,534.7 L89.8,536.2 L89.3,537.3 L88.3,537.8 L86.9,537.7 L85.4,537.3 L84.1,536.9 L83.0,537.0 L82.4,537.8 L81.9,539.1 L81.5,540.6 L80.9,542.0 L80.0,542.8 L78.9,542.8 L77.7,542.2 L76.4,541.2 L75.3,540.4 L74.4,540.0 L73.5,540.4 L72.6,541.5 L71.6,542.7 L70.5,543.7 L69.5,544.1 L68.4,543.7 L67.5,542.6 L66.8,541.2 L66.0,540.0 L65.2,539.3 L64.3,539.3 L63.1,539.9 L61.7,540.6 L60.4,541.2 L59.3,541.1 L58.5,540.3 L58.0,538.9 L57.8,537.3 L57.6,535.8 L57.1,534.9 L56.2,534.5 L54.9,534.5 L53.4,534.7 L51.9,534.7 L50.9,534.1 L50.5,533.1 L50.6,531.6 L51.0,530.0 L51.3,528.6 L51.2,527.5 L50.5,526.8 L49.3,526.3 L47.8,525.9 L46.5,525.2 L45.7,524.3 L45.7,523.1 L46.3,521.8 L47.2,520.5 L48.1,519.4 L48.4,518.3 L48.0,517.4 L47.0,516.4 L45.8,515.4 L44.9,514.3 L44.5,513.1 L44.9,512.0 L45.9,511.1 L47.2,510.3 L48.4,509.5 L49.1,508.7 L49.1,507.6 L48.5,506.4 L47.8,504.9 L47.3,503.5 L47.4,502.3 L48.1,501.5 L49.4,501.0 L51.0,500.8 L52.3,500.5 L53.2,500.0 L53.6,499.1 L53.5,497.7 L53.4,496.1 L53.4,494.6 L53.9,493.5 L54.9,493.0 L56.3,493.1 L57.8,493.5 L59.1,493.9 L60.2,493.8 L60.8,493.0 L61.3,491.7 L61.7,490.2 L62.3,488.8 L63.2,488.0 L64.3,488.0 L65.5,488.6 L66.8,489.6 L67.9,490.4 L68.8,490.8 L69.7,490.4 L70.6,489.3 L71.6,488.1 L72.7,487.1 L73.7,486.7 L74.8,487.1 L75.7,488.2 L76.4,489.6 L77.2,490.8 L78.0,491.5 L78.9,491.5 L80.1,490.9 L81.5,490.2 L82.8,489.6 L83.9,489.7 L84.7,490.5 L85.2,491.9 L85.4,493.5 L85.6,495.0 L86.1,495.9 L87.0,496.3 L88.3,496.3 L89.8,496.1 L91.3,496.1 L92.3,496.7 L92.7,497.7 L92.6,499.2 L92.2,500.8 L91.9,502.2 L92.0,503.3 L92.7,504.0 L93.9,504.5 L95.4,504.9 L96.7,505.6 L97.5,506.5 L97.5,507.7 L96.9,509.0 L96.0,510.3 L95.1,511.4 L94.8,512.5 L95.2,513.4 L96.2,514.4 L97.4,515.4Z" fill="none" stroke="#86e4f0" stroke-width="0.7"/>
<path d="M96.2,515.4 L97.2,516.5 L97.7,517.6 L97.5,518.6 L96.6,519.6 L95.4,520.4 L94.1,521.1 L93.4,521.9 L93.2,522.8 L93.6,524.0 L94.3,525.4 L94.9,526.8 L94.9,528.0 L94.4,528.9 L93.2,529.4 L91.7,529.7 L90.4,529.8 L89.4,530.2 L88.9,531.0 L88.8,532.3 L89.0,533.8 L89.0,535.3 L88.6,536.5 L87.7,537.1 L86.5,537.1 L85.1,536.7 L83.7,536.4 L82.6,536.3 L81.9,536.9 L81.4,538.0 L81.0,539.5 L80.5,540.9 L79.7,541.8 L78.7,542.0 L77.5,541.5 L76.3,540.6 L75.2,539.7 L74.3,539.2 L73.4,539.4 L72.5,540.3 L71.6,541.5 L70.6,542.5 L69.5,543.1 L68.5,542.8 L67.6,541.9 L66.9,540.6 L66.2,539.3 L65.5,538.5 L64.6,538.3 L63.5,538.7 L62.2,539.5 L60.9,540.1 L59.7,540.1 L58.9,539.5 L58.4,538.3 L58.1,536.7 L58.0,535.3 L57.6,534.2 L56.8,533.7 L55.7,533.7 L54.2,533.8 L52.8,533.8 L51.7,533.4 L51.1,532.5 L51.1,531.2 L51.5,529.7 L51.8,528.2 L51.9,527.1 L51.4,526.3 L50.3,525.8 L48.9,525.4 L47.6,524.8 L46.7,524.0 L46.5,522.9 L47.0,521.7 L47.8,520.4 L48.7,519.2 L49.1,518.2 L48.9,517.3 L48.1,516.4 L47.0,515.4 L46.0,514.3 L45.5,513.2 L45.7,512.2 L46.6,511.2 L47.8,510.4 L49.1,509.7 L49.8,508.9 L50.0,508.0 L49.6,506.8 L48.9,505.4 L48.3,504.0 L48.3,502.8 L48.8,501.9 L50.0,501.4 L51.5,501.1 L52.8,501.0 L53.8,500.6 L54.3,499.8 L54.4,498.5 L54.2,497.0 L54.2,495.5 L54.6,494.3 L55.5,493.7 L56.7,493.7 L58.1,494.1 L59.5,494.4 L60.6,494.5 L61.3,493.9 L61.8,492.8 L62.2,491.3 L62.7,489.9 L63.5,489.0 L64.5,488.8 L65.7,489.3 L66.9,490.2 L68.0,491.1 L68.9,491.6 L69.8,491.4 L70.7,490.5 L71.6,489.3 L72.6,488.3 L73.7,487.7 L74.7,488.0 L75.6,488.9 L76.3,490.2 L77.0,491.5 L77.7,492.3 L78.6,492.5 L79.7,492.1 L81.0,491.3 L82.3,490.7 L83.5,490.7 L84.3,491.3 L84.8,492.5 L85.1,494.1 L85.2,495.5 L85.6,496.6 L86.4,497.1 L87.5,497.1 L89.0,497.0 L90.4,497.0 L91.5,497.4 L92.1,498.3 L92.1,499.6 L91.7,501.1 L91.4,502.6 L91.3,503.7 L91.8,504.5 L92.9,505.0 L94.3,505.4 L95.6,506.0 L96.5,506.8 L96.7,507.9 L96.2,509.1 L95.4,510.4 L94.5,511.6 L94.1,512.6 L94.3,513.5 L95.1,514.4 L96.2,515.4Z" fill="none" stroke="#b8e8f4" stroke-width="0.7"/>
<path d="M95.7,515.4 L96.5,516.4 L96.8,517.5 L96.3,518.5 L95.3,519.4 L94.1,520.1 L93.0,520.9 L92.5,521.7 L92.6,522.6 L93.2,523.8 L93.9,525.2 L94.3,526.5 L94.1,527.6 L93.3,528.3 L92.0,528.7 L90.6,528.9 L89.4,529.1 L88.7,529.7 L88.4,530.6 L88.5,532.0 L88.6,533.5 L88.5,534.8 L88.0,535.8 L87.0,536.1 L85.7,536.0 L84.3,535.6 L83.1,535.3 L82.2,535.5 L81.6,536.3 L81.2,537.6 L80.8,539.0 L80.2,540.2 L79.4,540.9 L78.4,540.8 L77.2,540.1 L76.1,539.2 L75.0,538.5 L74.2,538.3 L73.3,538.8 L72.5,539.8 L71.6,541.0 L70.6,541.8 L69.6,542.1 L68.7,541.6 L67.8,540.5 L67.1,539.2 L66.5,538.1 L65.7,537.6 L64.8,537.7 L63.6,538.3 L62.4,539.0 L61.1,539.4 L60.1,539.3 L59.4,538.4 L59.1,537.1 L58.9,535.6 L58.6,534.3 L58.1,533.5 L57.2,533.2 L56.0,533.3 L54.6,533.5 L53.3,533.4 L52.4,532.8 L52.1,531.7 L52.2,530.3 L52.6,528.9 L52.8,527.6 L52.6,526.7 L51.9,526.0 L50.7,525.6 L49.3,525.2 L48.2,524.6 L47.6,523.7 L47.6,522.6 L48.3,521.3 L49.1,520.1 L49.8,519.1 L50.0,518.1 L49.6,517.2 L48.6,516.4 L47.5,515.4 L46.7,514.4 L46.4,513.3 L46.9,512.3 L47.9,511.4 L49.1,510.7 L50.2,509.9 L50.7,509.1 L50.6,508.2 L50.0,507.0 L49.3,505.6 L48.9,504.3 L49.1,503.2 L49.9,502.5 L51.2,502.1 L52.6,501.9 L53.8,501.7 L54.5,501.1 L54.8,500.2 L54.7,498.8 L54.6,497.3 L54.7,496.0 L55.2,495.0 L56.2,494.7 L57.5,494.8 L58.9,495.2 L60.1,495.5 L61.0,495.3 L61.6,494.5 L62.0,493.2 L62.4,491.8 L63.0,490.6 L63.8,489.9 L64.8,490.0 L66.0,490.7 L67.1,491.6 L68.2,492.3 L69.0,492.5 L69.9,492.0 L70.7,491.0 L71.6,489.8 L72.6,489.0 L73.6,488.7 L74.5,489.2 L75.4,490.3 L76.1,491.6 L76.7,492.7 L77.5,493.2 L78.4,493.1 L79.6,492.5 L80.8,491.8 L82.1,491.4 L83.1,491.5 L83.8,492.4 L84.1,493.7 L84.3,495.2 L84.6,496.5 L85.1,497.3 L86.0,497.6 L87.2,497.5 L88.6,497.3 L89.9,497.4 L90.8,498.0 L91.1,499.1 L91.0,500.5 L90.6,501.9 L90.4,503.2 L90.6,504.1 L91.3,504.8 L92.5,505.2 L93.9,505.6 L95.0,506.2 L95.6,507.1 L95.6,508.2 L94.9,509.5 L94.1,510.7 L93.4,511.7 L93.2,512.7 L93.6,513.6 L94.6,514.4 L95.7,515.4Z" fill="none" stroke="#7ad8f0" stroke-width="0.6"/>
<path d="M94.1,515.4 L95.1,516.4 L95.6,517.4 L95.5,518.4 L94.8,519.3 L93.7,520.1 L92.5,520.7 L91.7,521.4 L91.5,522.2 L91.8,523.3 L92.4,524.5 L92.9,525.8 L93.1,527.0 L92.6,527.9 L91.6,528.4 L90.3,528.7 L89.0,528.8 L88.0,529.1 L87.5,529.8 L87.4,530.9 L87.5,532.3 L87.5,533.7 L87.3,534.8 L86.5,535.5 L85.4,535.5 L84.1,535.2 L82.8,534.8 L81.8,534.7 L81.1,535.1 L80.6,536.1 L80.2,537.4 L79.7,538.8 L79.0,539.7 L78.1,540.0 L77.1,539.6 L76.0,538.8 L75.0,537.9 L74.1,537.4 L73.2,537.5 L72.4,538.2 L71.6,539.2 L70.7,540.3 L69.7,540.9 L68.8,540.8 L67.9,540.0 L67.2,538.8 L66.6,537.6 L65.9,536.7 L65.1,536.5 L64.2,536.8 L63.0,537.4 L61.8,538.0 L60.7,538.2 L59.8,537.7 L59.3,536.6 L59.1,535.2 L59.0,533.8 L58.7,532.8 L58.0,532.2 L57.0,532.1 L55.7,532.3 L54.3,532.3 L53.3,532.0 L52.7,531.2 L52.6,530.0 L52.9,528.7 L53.3,527.3 L53.4,526.2 L53.0,525.5 L52.1,524.9 L50.8,524.5 L49.6,524.0 L48.7,523.3 L48.4,522.3 L48.8,521.2 L49.5,520.1 L50.4,519.0 L50.8,518.0 L50.8,517.1 L50.1,516.3 L49.1,515.4 L48.1,514.4 L47.6,513.4 L47.7,512.4 L48.4,511.5 L49.5,510.7 L50.7,510.1 L51.5,509.4 L51.7,508.6 L51.4,507.5 L50.8,506.3 L50.3,505.0 L50.1,503.8 L50.6,502.9 L51.6,502.4 L52.9,502.1 L54.2,502.0 L55.2,501.7 L55.7,501.0 L55.8,499.9 L55.7,498.5 L55.7,497.1 L55.9,496.0 L56.7,495.3 L57.8,495.3 L59.1,495.6 L60.4,496.0 L61.4,496.1 L62.1,495.7 L62.6,494.7 L63.0,493.4 L63.5,492.0 L64.2,491.1 L65.1,490.8 L66.1,491.2 L67.2,492.0 L68.2,492.9 L69.1,493.4 L70.0,493.3 L70.8,492.6 L71.6,491.5 L72.5,490.5 L73.5,489.9 L74.4,490.0 L75.3,490.8 L76.0,492.0 L76.6,493.2 L77.3,494.1 L78.1,494.3 L79.0,494.0 L80.2,493.4 L81.4,492.8 L82.5,492.6 L83.4,493.1 L83.9,494.2 L84.1,495.6 L84.2,497.0 L84.5,498.0 L85.2,498.6 L86.2,498.7 L87.5,498.5 L88.9,498.5 L89.9,498.8 L90.5,499.6 L90.6,500.8 L90.3,502.1 L89.9,503.5 L89.8,504.6 L90.2,505.3 L91.1,505.9 L92.4,506.3 L93.6,506.8 L94.5,507.5 L94.8,508.5 L94.4,509.6 L93.7,510.7 L92.8,511.8 L92.4,512.8 L92.4,513.7 L93.1,514.5 L94.1,515.4Z" fill="none" stroke="#f4d878" stroke-width="0.55"/>
<path d="M93.5,515.4 L94.4,516.3 L94.8,517.3 L94.6,518.3 L93.8,519.1 L92.7,519.9 L91.6,520.5 L91.0,521.2 L90.8,522.0 L91.2,523.1 L91.8,524.3 L92.3,525.5 L92.4,526.6 L91.8,527.4 L90.8,527.9 L89.5,528.1 L88.3,528.2 L87.4,528.6 L87.0,529.3 L86.9,530.4 L87.1,531.8 L87.1,533.1 L86.7,534.2 L86.0,534.7 L84.8,534.7 L83.6,534.4 L82.4,534.0 L81.4,534.0 L80.8,534.5 L80.3,535.5 L80.0,536.8 L79.5,538.1 L78.8,538.9 L77.9,539.1 L76.9,538.6 L75.8,537.8 L74.8,537.0 L74.0,536.6 L73.2,536.8 L72.4,537.5 L71.6,538.6 L70.7,539.5 L69.8,540.0 L68.9,539.8 L68.1,539.0 L67.4,537.8 L66.8,536.6 L66.1,535.9 L65.4,535.8 L64.4,536.2 L63.2,536.8 L62.1,537.3 L61.0,537.4 L60.3,536.8 L59.8,535.8 L59.6,534.4 L59.5,533.1 L59.2,532.1 L58.5,531.7 L57.4,531.7 L56.1,531.8 L54.9,531.8 L53.9,531.4 L53.4,530.6 L53.4,529.4 L53.7,528.1 L54.0,526.8 L54.1,525.8 L53.6,525.1 L52.6,524.7 L51.4,524.3 L50.2,523.8 L49.4,523.0 L49.3,522.1 L49.7,521.0 L50.5,519.9 L51.2,518.8 L51.6,517.9 L51.5,517.1 L50.7,516.3 L49.7,515.4 L48.8,514.5 L48.4,513.5 L48.6,512.5 L49.4,511.7 L50.5,510.9 L51.6,510.3 L52.2,509.6 L52.4,508.8 L52.0,507.7 L51.4,506.5 L50.9,505.3 L50.8,504.2 L51.4,503.4 L52.4,502.9 L53.7,502.7 L54.9,502.6 L55.8,502.2 L56.2,501.5 L56.3,500.4 L56.1,499.0 L56.1,497.7 L56.5,496.6 L57.2,496.1 L58.4,496.1 L59.6,496.4 L60.8,496.8 L61.8,496.8 L62.4,496.3 L62.9,495.3 L63.2,494.0 L63.7,492.7 L64.4,491.9 L65.3,491.7 L66.3,492.2 L67.4,493.0 L68.4,493.8 L69.2,494.2 L70.0,494.0 L70.8,493.3 L71.6,492.2 L72.5,491.3 L73.4,490.8 L74.3,491.0 L75.1,491.8 L75.8,493.0 L76.4,494.2 L77.1,494.9 L77.8,495.0 L78.8,494.6 L80.0,494.0 L81.1,493.5 L82.2,493.4 L82.9,494.0 L83.4,495.0 L83.6,496.4 L83.7,497.7 L84.0,498.7 L84.7,499.1 L85.8,499.1 L87.1,499.0 L88.3,499.0 L89.3,499.4 L89.8,500.2 L89.8,501.4 L89.5,502.7 L89.2,504.0 L89.1,505.0 L89.6,505.7 L90.6,506.1 L91.8,506.5 L93.0,507.0 L93.8,507.8 L93.9,508.7 L93.5,509.8 L92.7,510.9 L92.0,512.0 L91.6,512.9 L91.7,513.7 L92.5,514.5 L93.5,515.4Z" fill="none" stroke="#f07058" stroke-width="0.5"/>
<path d="M92.9,515.4 L93.6,516.3 L93.9,517.3 L93.5,518.2 L92.6,518.9 L91.5,519.6 L90.6,520.2 L90.1,520.9 L90.2,521.8 L90.6,522.8 L91.2,524.0 L91.6,525.2 L91.5,526.2 L90.9,526.8 L89.8,527.2 L88.5,527.4 L87.4,527.6 L86.7,528.0 L86.4,528.8 L86.5,530.0 L86.6,531.3 L86.6,532.6 L86.1,533.4 L85.3,533.8 L84.1,533.7 L82.9,533.3 L81.8,533.1 L81.0,533.2 L80.5,533.8 L80.1,534.9 L79.7,536.2 L79.2,537.3 L78.5,537.9 L77.6,537.9 L76.6,537.4 L75.6,536.5 L74.7,535.9 L73.9,535.7 L73.1,536.0 L72.4,536.9 L71.6,537.9 L70.7,538.8 L69.8,539.0 L69.0,538.6 L68.3,537.7 L67.6,536.5 L67.0,535.6 L66.4,535.0 L65.6,535.1 L64.6,535.6 L63.5,536.2 L62.4,536.6 L61.4,536.5 L60.8,535.8 L60.5,534.7 L60.3,533.3 L60.1,532.2 L59.7,531.4 L58.9,531.1 L57.8,531.2 L56.6,531.3 L55.4,531.3 L54.6,530.8 L54.3,529.9 L54.4,528.7 L54.7,527.4 L54.9,526.2 L54.8,525.4 L54.2,524.8 L53.2,524.4 L52.0,524.0 L50.9,523.5 L50.3,522.7 L50.4,521.8 L50.9,520.7 L51.7,519.6 L52.3,518.6 L52.5,517.8 L52.1,517.0 L51.3,516.2 L50.3,515.4 L49.6,514.5 L49.3,513.5 L49.7,512.6 L50.6,511.9 L51.7,511.2 L52.6,510.6 L53.1,509.9 L53.0,509.0 L52.6,508.0 L52.0,506.8 L51.6,505.6 L51.7,504.6 L52.3,504.0 L53.4,503.6 L54.7,503.4 L55.8,503.2 L56.5,502.8 L56.8,502.0 L56.7,500.8 L56.6,499.5 L56.6,498.2 L57.1,497.4 L57.9,497.0 L59.1,497.1 L60.3,497.5 L61.4,497.7 L62.2,497.6 L62.7,497.0 L63.1,495.9 L63.5,494.6 L64.0,493.5 L64.7,492.9 L65.6,492.9 L66.6,493.4 L67.6,494.3 L68.5,494.9 L69.3,495.1 L70.1,494.8 L70.8,493.9 L71.6,492.9 L72.5,492.0 L73.4,491.8 L74.2,492.2 L74.9,493.1 L75.6,494.3 L76.2,495.2 L76.8,495.8 L77.6,495.7 L78.6,495.2 L79.7,494.6 L80.8,494.2 L81.8,494.3 L82.4,495.0 L82.7,496.1 L82.9,497.5 L83.1,498.6 L83.5,499.4 L84.3,499.7 L85.4,499.6 L86.6,499.5 L87.8,499.5 L88.6,500.0 L88.9,500.9 L88.8,502.1 L88.5,503.4 L88.3,504.6 L88.4,505.4 L89.0,506.0 L90.0,506.4 L91.2,506.8 L92.3,507.3 L92.9,508.1 L92.8,509.0 L92.3,510.1 L91.5,511.2 L90.9,512.2 L90.7,513.0 L91.1,513.8 L91.9,514.6 L92.9,515.4Z" fill="none" stroke="#8ce0f4" stroke-width="0.7"/>
<path d="M91.5,515.4 L92.4,516.3 L92.9,517.2 L92.8,518.1 L92.1,518.8 L91.1,519.5 L90.1,520.1 L89.4,520.7 L89.2,521.5 L89.4,522.4 L90.0,523.5 L90.5,524.6 L90.6,525.7 L90.2,526.4 L89.3,526.9 L88.1,527.1 L87.0,527.3 L86.1,527.5 L85.7,528.1 L85.6,529.1 L85.7,530.3 L85.7,531.6 L85.4,532.6 L84.8,533.1 L83.8,533.2 L82.7,532.9 L81.5,532.6 L80.6,532.5 L80.0,532.9 L79.6,533.7 L79.2,534.9 L78.8,536.1 L78.2,536.9 L77.4,537.2 L76.5,536.8 L75.5,536.1 L74.6,535.3 L73.8,534.9 L73.0,534.9 L72.3,535.5 L71.6,536.5 L70.8,537.4 L69.9,537.9 L69.1,537.8 L68.3,537.2 L67.7,536.1 L67.2,535.0 L66.6,534.3 L65.9,534.0 L65.0,534.3 L64.0,534.9 L62.9,535.4 L61.9,535.5 L61.2,535.1 L60.7,534.2 L60.5,532.9 L60.4,531.7 L60.2,530.8 L59.6,530.3 L58.7,530.2 L57.5,530.3 L56.3,530.3 L55.4,530.1 L54.9,529.4 L54.8,528.3 L55.1,527.1 L55.4,525.9 L55.5,525.0 L55.1,524.3 L54.3,523.8 L53.2,523.5 L52.1,523.0 L51.3,522.4 L51.1,521.5 L51.4,520.5 L52.1,519.5 L52.8,518.6 L53.2,517.7 L53.2,516.9 L52.6,516.2 L51.7,515.4 L50.8,514.5 L50.3,513.6 L50.4,512.7 L51.1,512.0 L52.1,511.3 L53.1,510.7 L53.8,510.1 L54.0,509.3 L53.8,508.4 L53.2,507.3 L52.7,506.2 L52.6,505.1 L53.0,504.4 L53.9,503.9 L55.1,503.7 L56.2,503.5 L57.1,503.3 L57.5,502.7 L57.6,501.7 L57.5,500.5 L57.5,499.2 L57.8,498.2 L58.4,497.7 L59.4,497.6 L60.5,497.9 L61.7,498.2 L62.6,498.3 L63.2,497.9 L63.6,497.1 L64.0,495.9 L64.4,494.7 L65.0,493.9 L65.8,493.6 L66.7,494.0 L67.7,494.7 L68.6,495.5 L69.4,495.9 L70.2,495.9 L70.9,495.3 L71.6,494.3 L72.4,493.4 L73.3,492.9 L74.1,493.0 L74.9,493.6 L75.5,494.7 L76.0,495.8 L76.6,496.5 L77.3,496.8 L78.2,496.5 L79.2,495.9 L80.3,495.4 L81.3,495.3 L82.0,495.7 L82.5,496.6 L82.7,497.9 L82.8,499.1 L83.0,500.0 L83.6,500.5 L84.5,500.6 L85.7,500.5 L86.9,500.5 L87.8,500.7 L88.3,501.4 L88.4,502.5 L88.1,503.7 L87.8,504.9 L87.7,505.8 L88.1,506.5 L88.9,507.0 L90.0,507.3 L91.1,507.8 L91.9,508.4 L92.1,509.3 L91.8,510.3 L91.1,511.3 L90.4,512.2 L90.0,513.1 L90.0,513.9 L90.6,514.6 L91.5,515.4Z" fill="none" stroke="#a4cff6" stroke-width="0.7"/>
</g>
<rect x="104.60" y="491.60" width="2.60" height="48.20" fill="url(#cbar)" stroke="none" stroke-width="0.8"/>
<line x1="107.60" y1="492.50" x2="108.60" y2="492.50" stroke="#ddd" stroke-width="0.3"/>
<line x1="107.60" y1="497.50" x2="108.60" y2="497.50" stroke="#ddd" stroke-width="0.3"/>
<line x1="107.60" y1="502.50" x2="108.60" y2="502.50" stroke="#ddd" stroke-width="0.3"/>
<line x1="107.60" y1="507.50" x2="108.60" y2="507.50" stroke="#ddd" stroke-width="0.3"/>
<line x1="107.60" y1="512.50" x2="108.60" y2="512.50" stroke="#ddd" stroke-width="0.3"/>
<line x1="107.60" y1="517.50" x2="108.60" y2="517.50" stroke="#ddd" stroke-width="0.3"/>
<line x1="107.60" y1="522.50" x2="108.60" y2="522.50" stroke="#ddd" stroke-width="0.3"/>
<line x1="107.60" y1="527.50" x2="108.60" y2="527.50" stroke="#ddd" stroke-width="0.3"/>
<line x1="107.60" y1="532.50" x2="108.60" y2="532.50" stroke="#ddd" stroke-width="0.3"/>
<line x1="107.60" y1="537.50" x2="108.60" y2="537.50" stroke="#ddd" stroke-width="0.3"/>
<text x="36.40" y="495.00" font-size="6.2" text-anchor="start" font-weight="normal" fill="#fff" stroke="#fff" stroke-width="0.22"><tspan font-style="italic">J</tspan>surf</text>
<text x="35.80" y="543.60" font-size="6.1" text-anchor="start" font-weight="normal" fill="#fff" stroke="#fff" stroke-width="0.22">13.56MHz</text>
<text transform="translate(258.00,439.40) scale(0.9,1)" font-size="13" font-weight="bold" fill="#000" stroke="#000" stroke-width="0.15">o</text>
<g clip-path="url(#oc1)">
<rect x="268.00" y="445.00" width="76.00" height="48.00" fill="#d6dadb" stroke="none" stroke-width="0.8"/>
<path d="M268,493 L272,453 L340,453 L344,493 Z" fill="#7ec2ca" stroke="none" stroke-width="0.8"/>
<rect x="279.70" y="454.00" width="43.30" height="24.00" fill="#8ccdd3" stroke="#a4dade" stroke-width="0.5"/>
<path d="M334.8,468.5 L335.9,469.6 L336.4,470.8 L336.0,471.9 L334.9,472.9 L333.3,473.7 L331.8,474.5 L330.9,475.4 L330.7,476.4 L330.9,477.7 L331.1,479.0 L330.9,480.3 L330.0,481.2 L328.4,481.8 L326.5,482.1 L324.5,482.2 L322.9,482.6 L321.8,483.2 L321.0,484.3 L320.3,485.5 L319.3,486.7 L317.9,487.4 L316.2,487.5 L314.3,487.2 L312.5,486.7 L310.8,486.3 L309.3,486.4 L307.8,486.9 L306.3,487.7 L304.6,488.4 L302.9,488.8 L301.2,488.5 L299.8,487.7 L298.5,486.7 L297.4,485.7 L296.1,485.1 L294.6,484.9 L292.7,485.1 L290.7,485.2 L288.8,485.1 L287.4,484.5 L286.5,483.4 L286.1,482.1 L285.9,480.8 L285.4,479.7 L284.4,479.0 L282.8,478.4 L281.0,477.9 L279.3,477.3 L278.3,476.3 L278.0,475.2 L278.5,473.9 L279.3,472.7 L279.8,471.5 L279.8,470.5 L279.0,469.5 L277.8,468.5 L276.7,467.4 L276.2,466.2 L276.6,465.1 L277.7,464.1 L279.3,463.3 L280.8,462.5 L281.7,461.6 L281.9,460.6 L281.7,459.3 L281.5,458.0 L281.7,456.7 L282.6,455.8 L284.2,455.2 L286.1,454.9 L288.1,454.8 L289.7,454.4 L290.8,453.8 L291.6,452.7 L292.3,451.5 L293.3,450.3 L294.7,449.6 L296.4,449.5 L298.3,449.8 L300.1,450.3 L301.8,450.7 L303.3,450.6 L304.8,450.1 L306.3,449.3 L308.0,448.6 L309.7,448.2 L311.4,448.5 L312.8,449.3 L314.1,450.3 L315.2,451.3 L316.5,451.9 L318.0,452.1 L319.9,451.9 L321.9,451.8 L323.8,451.9 L325.2,452.5 L326.1,453.6 L326.5,454.9 L326.7,456.2 L327.2,457.3 L328.2,458.0 L329.8,458.6 L331.6,459.1 L333.3,459.7 L334.3,460.7 L334.6,461.8 L334.1,463.1 L333.3,464.3 L332.8,465.5 L332.8,466.5 L333.6,467.5 L334.8,468.5Z M328.0,468.5 L326.9,467.7 L326.2,467.0 L326.2,466.2 L326.7,465.4 L327.5,464.4 L327.9,463.4 L327.8,462.5 L327.0,461.8 L325.6,461.3 L324.0,461.0 L322.8,460.6 L322.0,460.1 L321.7,459.2 L321.6,458.2 L321.4,457.1 L320.8,456.3 L319.7,455.8 L318.2,455.7 L316.6,455.9 L315.1,456.1 L314.0,456.0 L313.0,455.5 L312.2,454.7 L311.3,453.8 L310.2,453.1 L308.9,452.9 L307.6,453.2 L306.3,453.9 L305.1,454.6 L304.1,455.1 L302.9,455.1 L301.6,454.7 L300.2,454.2 L298.7,453.9 L297.4,454.0 L296.4,454.6 L295.6,455.5 L295.2,456.5 L294.6,457.4 L293.8,457.9 L292.5,458.1 L291.0,458.2 L289.4,458.3 L288.1,458.7 L287.4,459.5 L287.4,460.5 L287.7,461.6 L287.9,462.5 L287.8,463.3 L287.1,464.0 L285.8,464.5 L284.5,465.1 L283.5,465.9 L283.2,466.7 L283.7,467.6 L284.6,468.5 L285.7,469.3 L286.4,470.0 L286.4,470.8 L285.9,471.6 L285.1,472.6 L284.7,473.6 L284.8,474.5 L285.6,475.2 L287.0,475.7 L288.6,476.0 L289.8,476.4 L290.6,476.9 L290.9,477.8 L291.0,478.8 L291.2,479.9 L291.8,480.7 L292.9,481.2 L294.4,481.3 L296.0,481.1 L297.5,480.9 L298.6,481.0 L299.6,481.5 L300.4,482.3 L301.3,483.2 L302.4,483.9 L303.7,484.1 L305.0,483.8 L306.3,483.1 L307.5,482.4 L308.5,481.9 L309.7,481.9 L311.0,482.3 L312.4,482.8 L313.9,483.1 L315.2,483.0 L316.2,482.4 L317.0,481.5 L317.4,480.5 L318.0,479.6 L318.8,479.1 L320.1,478.9 L321.6,478.8 L323.2,478.7 L324.5,478.3 L325.2,477.5 L325.2,476.5 L324.9,475.4 L324.7,474.5 L324.8,473.7 L325.5,473.0 L326.8,472.5 L328.1,471.9 L329.1,471.1 L329.4,470.3 L328.9,469.4 L328.0,468.5Z" fill="url(#ser)" stroke="none" stroke-width="0.8" fill-rule="evenodd"/>
<circle cx="289.77" cy="470.42" r="5.60" fill="#222a38" stroke="none" stroke-width="0.8"/>
<ellipse cx="297" cy="461.7" rx="5.5" ry="4" fill="url(#led)"/>
<circle cx="303.00" cy="462.70" r="1.80" fill="#e4ecee" stroke="none" stroke-width="0.8"/>
</g>
<text x="268.50" y="452.40" font-size="8.3" text-anchor="start" font-weight="normal" fill="#111" stroke="#111" stroke-width="0.22">Original</text>
<circle cx="304.50" cy="470.80" r="2.40" fill="#263048" stroke="none" stroke-width="0.8"/>
<circle cx="311.60" cy="470.80" r="2.40" fill="#e8ecee" stroke="none" stroke-width="0.8"/>
<g clip-path="url(#oc2)">
<rect x="348.60" y="445.00" width="75.80" height="48.00" fill="url(#obg2)" stroke="none" stroke-width="0.8"/>
<rect x="370.60" y="455.00" width="40.00" height="30.00" fill="#7cc0c8" stroke="#94d0d6" stroke-width="0.5"/>
<path d="M418.5,470.0 L419.8,471.4 L420.4,472.8 L419.9,474.2 L418.6,475.4 L416.8,476.4 L415.1,477.4 L414.0,478.4 L413.7,479.7 L414.0,481.2 L414.2,482.9 L414.0,484.4 L412.9,485.6 L411.1,486.3 L408.8,486.6 L406.6,486.8 L404.8,487.2 L403.5,488.0 L402.6,489.3 L401.7,490.9 L400.5,492.2 L398.9,493.1 L397.0,493.3 L394.8,492.9 L392.6,492.3 L390.7,491.8 L389.0,491.9 L387.3,492.5 L385.5,493.5 L383.6,494.4 L381.6,494.8 L379.6,494.5 L377.9,493.6 L376.5,492.3 L375.2,491.1 L373.7,490.3 L371.9,490.1 L369.8,490.3 L367.4,490.5 L365.3,490.3 L363.6,489.5 L362.6,488.2 L362.2,486.6 L361.9,485.0 L361.3,483.7 L360.2,482.8 L358.3,482.2 L356.2,481.5 L354.3,480.7 L353.0,479.6 L352.8,478.2 L353.3,476.6 L354.2,475.1 L354.9,473.7 L354.8,472.5 L353.9,471.3 L352.5,470.0 L351.2,468.6 L350.6,467.2 L351.1,465.8 L352.4,464.6 L354.2,463.6 L355.9,462.6 L357.0,461.6 L357.3,460.3 L357.0,458.8 L356.8,457.1 L357.0,455.6 L358.1,454.4 L359.9,453.7 L362.2,453.4 L364.4,453.2 L366.2,452.8 L367.5,452.0 L368.4,450.7 L369.3,449.1 L370.5,447.8 L372.1,446.9 L374.0,446.7 L376.2,447.1 L378.4,447.7 L380.3,448.2 L382.0,448.1 L383.7,447.5 L385.5,446.5 L387.4,445.6 L389.4,445.2 L391.4,445.5 L393.1,446.4 L394.5,447.7 L395.8,448.9 L397.3,449.7 L399.1,449.9 L401.2,449.7 L403.6,449.5 L405.7,449.7 L407.4,450.5 L408.4,451.8 L408.8,453.4 L409.1,455.0 L409.7,456.3 L410.8,457.2 L412.7,457.8 L414.8,458.5 L416.7,459.3 L418.0,460.4 L418.2,461.8 L417.7,463.4 L416.8,464.9 L416.1,466.3 L416.2,467.5 L417.1,468.7 L418.5,470.0Z M410.6,470.0 L409.4,469.0 L408.6,468.1 L408.6,467.2 L409.2,466.2 L410.0,465.0 L410.6,463.8 L410.4,462.7 L409.4,461.8 L407.8,461.2 L406.0,460.8 L404.6,460.4 L403.7,459.7 L403.3,458.7 L403.2,457.4 L403.0,456.1 L402.3,455.0 L401.0,454.4 L399.3,454.4 L397.4,454.6 L395.7,454.9 L394.4,454.7 L393.3,454.1 L392.3,453.1 L391.3,452.0 L390.0,451.2 L388.5,451.0 L387.0,451.3 L385.5,452.1 L384.2,453.0 L382.9,453.6 L381.6,453.6 L380.1,453.2 L378.4,452.6 L376.7,452.2 L375.2,452.3 L374.0,453.0 L373.2,454.1 L372.6,455.4 L372.0,456.4 L371.0,457.1 L369.6,457.3 L367.8,457.4 L365.9,457.5 L364.5,458.1 L363.7,459.0 L363.6,460.2 L363.9,461.5 L364.2,462.7 L364.1,463.7 L363.2,464.4 L361.8,465.1 L360.3,465.9 L359.1,466.8 L358.8,467.9 L359.3,469.0 L360.4,470.0 L361.6,471.0 L362.4,471.9 L362.4,472.8 L361.8,473.8 L361.0,475.0 L360.4,476.2 L360.6,477.3 L361.6,478.2 L363.2,478.8 L365.0,479.2 L366.4,479.6 L367.3,480.3 L367.7,481.3 L367.8,482.6 L368.0,483.9 L368.7,485.0 L370.0,485.6 L371.7,485.6 L373.6,485.4 L375.3,485.1 L376.6,485.3 L377.7,485.9 L378.7,486.9 L379.7,488.0 L381.0,488.8 L382.5,489.0 L384.0,488.7 L385.5,487.9 L386.8,487.0 L388.1,486.4 L389.4,486.4 L390.9,486.8 L392.6,487.4 L394.3,487.8 L395.8,487.7 L397.0,487.0 L397.8,485.9 L398.4,484.6 L399.0,483.6 L400.0,482.9 L401.4,482.7 L403.2,482.6 L405.1,482.5 L406.5,481.9 L407.3,481.0 L407.4,479.8 L407.1,478.5 L406.8,477.3 L406.9,476.3 L407.8,475.6 L409.2,474.9 L410.7,474.1 L411.9,473.2 L412.2,472.1 L411.7,471.0 L410.6,470.0Z" fill="url(#ser)" stroke="none" stroke-width="0.8" fill-rule="evenodd"/>
<circle cx="366.36" cy="472.35" r="5.60" fill="#222a38" stroke="none" stroke-width="0.8"/>
<ellipse cx="388" cy="473" rx="5.5" ry="4" fill="url(#led)"/>
<circle cx="394.00" cy="474.00" r="1.80" fill="#e4ecee" stroke="none" stroke-width="0.8"/>
</g>
<text x="349.10" y="452.40" font-size="8.3" text-anchor="start" font-weight="normal" fill="#111" stroke="#111" stroke-width="0.22">20%</text>
<g clip-path="url(#oc3)">
<rect x="268.00" y="497.00" width="76.00" height="48.40" fill="url(#obg2)" stroke="none" stroke-width="0.8"/>
<rect x="290.00" y="507.00" width="40.00" height="30.00" fill="#7cc0c8" stroke="#94d0d6" stroke-width="0.5"/>
<path d="M337.0,522.0 L338.2,523.4 L338.8,524.9 L338.4,526.3 L337.1,527.5 L335.3,528.5 L333.7,529.5 L332.6,530.6 L332.4,531.9 L332.6,533.4 L332.9,535.1 L332.6,536.7 L331.6,537.9 L329.8,538.6 L327.6,539.0 L325.5,539.2 L323.7,539.6 L322.4,540.4 L321.5,541.7 L320.7,543.3 L319.6,544.7 L318.0,545.6 L316.1,545.8 L314.0,545.4 L311.9,544.7 L310.0,544.3 L308.4,544.3 L306.7,545.0 L305.0,546.0 L303.1,546.9 L301.2,547.4 L299.3,547.0 L297.7,546.1 L296.3,544.7 L295.0,543.5 L293.6,542.7 L291.8,542.5 L289.7,542.7 L287.5,542.9 L285.4,542.7 L283.8,542.0 L282.8,540.6 L282.4,539.0 L282.1,537.3 L281.6,536.0 L280.4,535.1 L278.7,534.4 L276.6,533.8 L274.7,532.9 L273.5,531.8 L273.3,530.3 L273.8,528.7 L274.7,527.2 L275.3,525.8 L275.2,524.5 L274.3,523.3 L273.0,522.0 L271.8,520.6 L271.2,519.1 L271.6,517.7 L272.9,516.5 L274.7,515.5 L276.3,514.5 L277.4,513.4 L277.6,512.1 L277.4,510.6 L277.1,508.9 L277.4,507.3 L278.4,506.1 L280.2,505.4 L282.4,505.0 L284.5,504.8 L286.3,504.4 L287.6,503.6 L288.5,502.3 L289.3,500.7 L290.4,499.3 L292.0,498.4 L293.9,498.2 L296.0,498.6 L298.1,499.3 L300.0,499.7 L301.6,499.7 L303.3,499.0 L305.0,498.0 L306.9,497.1 L308.8,496.6 L310.7,497.0 L312.3,497.9 L313.7,499.3 L315.0,500.5 L316.4,501.3 L318.2,501.5 L320.3,501.3 L322.5,501.1 L324.6,501.3 L326.2,502.0 L327.2,503.4 L327.6,505.0 L327.9,506.7 L328.4,508.0 L329.6,508.9 L331.3,509.6 L333.4,510.2 L335.3,511.1 L336.5,512.2 L336.7,513.7 L336.2,515.3 L335.3,516.8 L334.7,518.2 L334.8,519.5 L335.7,520.7 L337.0,522.0Z M329.3,522.0 L328.1,521.0 L327.4,520.1 L327.4,519.2 L327.9,518.1 L328.8,516.9 L329.3,515.6 L329.2,514.5 L328.2,513.6 L326.6,513.0 L324.9,512.6 L323.5,512.2 L322.6,511.5 L322.3,510.4 L322.2,509.1 L322.0,507.8 L321.3,506.7 L320.0,506.1 L318.4,506.1 L316.6,506.3 L314.9,506.5 L313.6,506.4 L312.6,505.8 L311.6,504.8 L310.6,503.6 L309.3,502.8 L307.9,502.5 L306.4,502.9 L305.0,503.8 L303.7,504.6 L302.5,505.2 L301.2,505.2 L299.8,504.8 L298.2,504.2 L296.5,503.8 L295.0,503.9 L293.8,504.6 L293.0,505.8 L292.5,507.1 L291.9,508.1 L290.9,508.8 L289.6,509.0 L287.8,509.1 L286.0,509.3 L284.6,509.8 L283.8,510.7 L283.7,512.0 L284.1,513.3 L284.4,514.6 L284.2,515.5 L283.4,516.3 L282.0,517.0 L280.5,517.8 L279.4,518.7 L279.1,519.8 L279.6,520.9 L280.7,522.0 L281.9,523.0 L282.6,523.9 L282.6,524.8 L282.1,525.9 L281.2,527.1 L280.7,528.4 L280.8,529.5 L281.8,530.4 L283.4,531.0 L285.1,531.4 L286.5,531.8 L287.4,532.5 L287.7,533.6 L287.8,534.9 L288.0,536.2 L288.7,537.3 L290.0,537.9 L291.6,537.9 L293.4,537.7 L295.1,537.5 L296.4,537.6 L297.4,538.2 L298.4,539.2 L299.4,540.4 L300.7,541.2 L302.1,541.5 L303.6,541.1 L305.0,540.2 L306.3,539.4 L307.5,538.8 L308.8,538.8 L310.2,539.2 L311.8,539.8 L313.5,540.2 L315.0,540.1 L316.2,539.4 L317.0,538.2 L317.5,536.9 L318.1,535.9 L319.1,535.2 L320.4,535.0 L322.2,534.9 L324.0,534.7 L325.4,534.2 L326.2,533.3 L326.3,532.0 L325.9,530.7 L325.6,529.4 L325.8,528.5 L326.6,527.7 L328.0,527.0 L329.5,526.2 L330.6,525.3 L330.9,524.2 L330.4,523.1 L329.3,522.0Z" fill="url(#ser)" stroke="none" stroke-width="0.8" fill-rule="evenodd"/>
<circle cx="286.44" cy="524.40" r="5.60" fill="#222a38" stroke="none" stroke-width="0.8"/>
<ellipse cx="307" cy="523" rx="5.5" ry="4" fill="url(#led)"/>
<circle cx="313.00" cy="524.00" r="1.80" fill="#e4ecee" stroke="none" stroke-width="0.8"/>
</g>
<text x="268.50" y="504.40" font-size="8.3" text-anchor="start" font-weight="normal" fill="#111" stroke="#111" stroke-width="0.22">10%</text>
<g clip-path="url(#oc4)">
<rect x="348.60" y="497.00" width="75.80" height="48.40" fill="url(#obg2)" stroke="none" stroke-width="0.8"/>
<rect x="370.60" y="507.00" width="40.00" height="30.00" fill="#7cc0c8" stroke="#94d0d6" stroke-width="0.5"/>
<path d="M420.0,522.0 L421.3,523.3 L421.9,524.6 L421.5,525.9 L420.1,527.0 L418.2,528.0 L416.5,528.9 L415.4,529.9 L415.1,531.1 L415.3,532.5 L415.6,534.0 L415.4,535.5 L414.3,536.6 L412.4,537.3 L410.0,537.6 L407.7,537.7 L405.9,538.1 L404.5,538.9 L403.6,540.1 L402.7,541.5 L401.5,542.8 L399.9,543.6 L397.8,543.8 L395.5,543.4 L393.4,542.8 L391.4,542.4 L389.6,542.5 L387.8,543.1 L386.0,544.0 L384.0,544.9 L382.0,545.2 L380.0,545.0 L378.2,544.1 L376.7,542.8 L375.3,541.7 L373.8,541.0 L372.0,540.8 L369.8,541.0 L367.4,541.2 L365.2,541.0 L363.5,540.3 L362.4,539.1 L362.0,537.6 L361.7,536.1 L361.1,534.8 L359.9,534.0 L358.0,533.4 L355.8,532.8 L353.8,532.0 L352.5,531.0 L352.3,529.6 L352.9,528.2 L353.8,526.8 L354.4,525.5 L354.4,524.3 L353.4,523.2 L352.0,522.0 L350.7,520.7 L350.1,519.4 L350.5,518.1 L351.9,517.0 L353.8,516.0 L355.5,515.1 L356.6,514.1 L356.9,512.9 L356.7,511.5 L356.4,510.0 L356.6,508.5 L357.7,507.4 L359.6,506.7 L362.0,506.4 L364.3,506.3 L366.1,505.9 L367.5,505.1 L368.4,503.9 L369.3,502.5 L370.5,501.2 L372.1,500.4 L374.2,500.2 L376.5,500.6 L378.6,501.2 L380.6,501.6 L382.4,501.5 L384.2,500.9 L386.0,500.0 L388.0,499.1 L390.0,498.8 L392.0,499.0 L393.8,499.9 L395.3,501.2 L396.7,502.3 L398.2,503.0 L400.0,503.2 L402.2,503.0 L404.6,502.8 L406.8,503.0 L408.5,503.7 L409.6,504.9 L410.0,506.4 L410.3,507.9 L410.9,509.2 L412.1,510.0 L414.0,510.6 L416.2,511.2 L418.2,512.0 L419.5,513.0 L419.7,514.4 L419.1,515.8 L418.2,517.2 L417.6,518.5 L417.6,519.7 L418.6,520.8 L420.0,522.0Z M411.8,522.0 L410.6,521.1 L409.8,520.3 L409.8,519.4 L410.4,518.4 L411.2,517.3 L411.8,516.2 L411.7,515.1 L410.6,514.3 L409.0,513.8 L407.2,513.4 L405.7,513.0 L404.7,512.3 L404.4,511.4 L404.3,510.2 L404.0,508.9 L403.3,508.0 L402.0,507.4 L400.2,507.4 L398.3,507.6 L396.6,507.8 L395.1,507.7 L394.0,507.1 L393.0,506.2 L391.9,505.2 L390.6,504.4 L389.1,504.2 L387.5,504.5 L386.0,505.3 L384.6,506.1 L383.3,506.6 L382.0,506.6 L380.4,506.2 L378.7,505.7 L377.0,505.3 L375.4,505.4 L374.1,506.1 L373.3,507.1 L372.7,508.3 L372.1,509.3 L371.1,509.9 L369.6,510.1 L367.7,510.2 L365.8,510.3 L364.3,510.8 L363.5,511.7 L363.4,512.8 L363.8,514.0 L364.1,515.2 L363.9,516.1 L363.0,516.8 L361.6,517.4 L360.0,518.2 L358.8,519.0 L358.4,520.0 L359.0,521.0 L360.2,522.0 L361.4,522.9 L362.2,523.7 L362.2,524.6 L361.6,525.6 L360.8,526.7 L360.2,527.8 L360.3,528.9 L361.4,529.7 L363.0,530.2 L364.8,530.6 L366.3,531.0 L367.3,531.7 L367.6,532.6 L367.7,533.8 L368.0,535.1 L368.7,536.0 L370.0,536.6 L371.8,536.6 L373.7,536.4 L375.4,536.2 L376.9,536.3 L378.0,536.9 L379.0,537.8 L380.1,538.8 L381.4,539.6 L382.9,539.8 L384.5,539.5 L386.0,538.7 L387.4,537.9 L388.7,537.4 L390.0,537.4 L391.6,537.8 L393.3,538.3 L395.0,538.7 L396.6,538.6 L397.9,537.9 L398.7,536.9 L399.3,535.7 L399.9,534.7 L400.9,534.1 L402.4,533.9 L404.3,533.8 L406.2,533.7 L407.7,533.2 L408.5,532.3 L408.6,531.2 L408.2,530.0 L407.9,528.8 L408.1,527.9 L409.0,527.2 L410.4,526.6 L412.0,525.8 L413.2,525.0 L413.6,524.0 L413.0,523.0 L411.8,522.0Z" fill="url(#ser)" stroke="none" stroke-width="0.8" fill-rule="evenodd"/>
<circle cx="366.28" cy="524.20" r="5.60" fill="#222a38" stroke="none" stroke-width="0.8"/>
<ellipse cx="386" cy="521" rx="5.5" ry="4" fill="url(#led)"/>
<circle cx="392.00" cy="522.00" r="1.80" fill="#e4ecee" stroke="none" stroke-width="0.8"/>
</g>
<text x="349.10" y="504.40" font-size="8.3" text-anchor="start" font-weight="normal" fill="#111" stroke="#111" stroke-width="0.22">40%</text>
<rect x="327.00" y="489.50" width="13.00" height="1.30" fill="#fff" stroke="none" stroke-width="0.8"/>
</svg>
</body></html>
